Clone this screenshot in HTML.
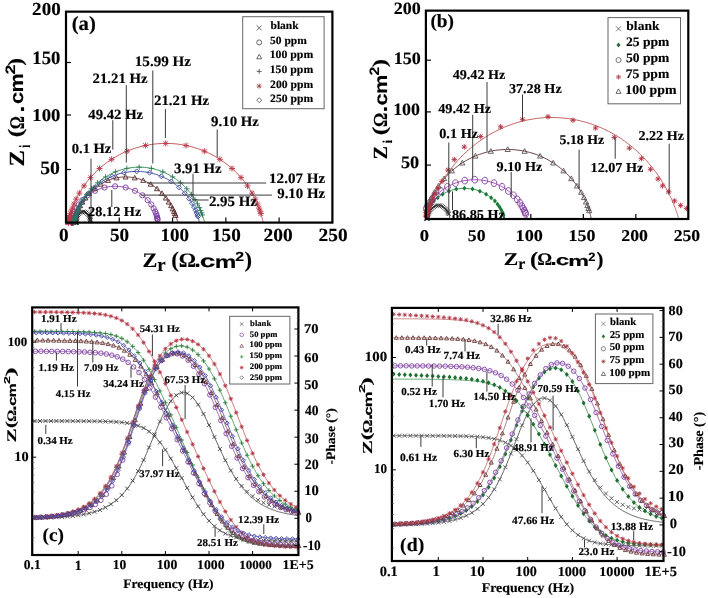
<!DOCTYPE html><html><head><meta charset="utf-8"><style>html,body{margin:0;padding:0;background:#fff}svg{display:block}text{text-rendering:geometricPrecision}svg{will-change:transform}</style></head><body><svg width="708" height="598" viewBox="0 0 708 598"><g><rect width="708" height="598" fill="#fff"/>
<polyline points="90.6,222.6 90.6,222.0 90.6,221.4 90.5,220.8 90.4,220.2 90.3,219.7 90.2,219.1 90.0,218.5 89.9,218.0 89.7,217.5 89.5,216.9 89.2,216.3 89.0,215.9 88.8,215.4 88.5,215.0 88.2,214.6 87.8,214.1 87.5,213.7 87.0,213.3 86.6,212.9 86.1,212.6 85.6,212.3 85.0,212.0 84.4,211.8 83.8,211.7 83.2,211.7 82.6,211.7 82.1,211.8 81.5,212.0 80.9,212.2 80.4,212.5 79.9,212.9 79.4,213.3 79.0,213.7 78.6,214.1 78.3,214.5 78.0,215.0 77.7,215.4 77.5,215.9 77.2,216.3 77.0,216.7 76.8,217.3 76.6,217.8 76.5,218.3 76.3,218.9 76.2,219.5 76.1,220.0 76.0,220.6 75.9,221.1 75.9,221.7 75.9,222.3 75.8,222.6" fill="none" stroke="#222" stroke-width="0.9" />
<path d="M88.3 218.3l4.2 4.2m0 -4.2l-4.2 4.2M88.2 217.7l4.2 4.2m0 -4.2l-4.2 4.2M88.1 217.0l4.2 4.2m0 -4.2l-4.2 4.2M87.9 216.2l4.2 4.2m0 -4.2l-4.2 4.2M87.6 215.3l4.2 4.2m0 -4.2l-4.2 4.2M87.1 214.1l4.2 4.2m0 -4.2l-4.2 4.2M86.4 212.9l4.2 4.2m0 -4.2l-4.2 4.2M85.5 211.7l4.2 4.2m0 -4.2l-4.2 4.2M84.2 210.6l4.2 4.2m0 -4.2l-4.2 4.2M82.8 209.9l4.2 4.2m0 -4.2l-4.2 4.2M81.1 209.6l4.2 4.2m0 -4.2l-4.2 4.2M79.5 209.9l4.2 4.2m0 -4.2l-4.2 4.2M78.0 210.6l4.2 4.2m0 -4.2l-4.2 4.2M76.8 211.7l4.2 4.2m0 -4.2l-4.2 4.2M75.8 212.9l4.2 4.2m0 -4.2l-4.2 4.2M75.2 214.1l4.2 4.2m0 -4.2l-4.2 4.2M74.7 215.3l4.2 4.2m0 -4.2l-4.2 4.2M74.4 216.2l4.2 4.2m0 -4.2l-4.2 4.2M74.2 217.0l4.2 4.2m0 -4.2l-4.2 4.2M74.0 217.7l4.2 4.2m0 -4.2l-4.2 4.2M73.9 218.3l4.2 4.2m0 -4.2l-4.2 4.2M73.9 218.7l4.2 4.2m0 -4.2l-4.2 4.2M73.8 219.1l4.2 4.2m0 -4.2l-4.2 4.2M73.8 219.4l4.2 4.2m0 -4.2l-4.2 4.2M73.8 219.6l4.2 4.2m0 -4.2l-4.2 4.2M73.8 219.8l4.2 4.2m0 -4.2l-4.2 4.2M73.8 219.9l4.2 4.2m0 -4.2l-4.2 4.2M73.8 220.0l4.2 4.2m0 -4.2l-4.2 4.2M73.8 220.1l4.2 4.2m0 -4.2l-4.2 4.2M73.8 220.2l4.2 4.2m0 -4.2l-4.2 4.2M73.8 220.3l4.2 4.2m0 -4.2l-4.2 4.2M73.7 220.3l4.2 4.2m0 -4.2l-4.2 4.2M73.7 220.4l4.2 4.2m0 -4.2l-4.2 4.2M73.7 220.4l4.2 4.2m0 -4.2l-4.2 4.2M73.7 220.4l4.2 4.2m0 -4.2l-4.2 4.2M73.7 220.4l4.2 4.2m0 -4.2l-4.2 4.2" stroke="#222" stroke-width="0.9" fill="none"/>
<polyline points="158.0,222.6 157.9,222.0 157.8,221.5 157.8,220.9 157.7,220.4 157.6,219.8 157.5,219.2 157.4,218.6 157.3,218.1 157.2,217.5 157.0,216.9 156.8,216.2 156.7,215.7 156.5,215.1 156.3,214.6 156.1,213.9 155.9,213.2 155.6,212.5 155.3,211.7 154.9,210.9 154.7,210.5 154.5,210.0 154.3,209.6 154.1,209.1 153.8,208.6 153.5,208.1 153.3,207.6 152.9,207.0 152.6,206.5 152.3,205.9 151.9,205.3 151.5,204.8 151.1,204.2 150.6,203.5 150.1,202.9 149.6,202.3 149.1,201.6 148.5,201.0 147.9,200.3 147.3,199.6 146.6,198.9 145.9,198.2 145.1,197.6 144.3,196.9 143.5,196.2 142.6,195.5 141.7,194.8 140.8,194.1 139.7,193.4 138.7,192.8 137.6,192.2 136.5,191.5 135.3,190.9 134.0,190.4 132.8,189.8 131.5,189.3 130.1,188.8 128.7,188.4 127.3,188.0 125.9,187.6 124.4,187.3 122.9,187.0 121.4,186.7 119.8,186.6 118.3,186.4 116.7,186.4 115.2,186.3 113.6,186.3 112.0,186.4 110.5,186.5 108.9,186.7 107.4,187.0 105.9,187.2 104.4,187.5 103.0,187.9 101.6,188.3 100.2,188.8 98.8,189.2 97.5,189.8 96.2,190.3 95.0,190.9 93.8,191.5 92.7,192.1 91.6,192.7 90.5,193.4 89.5,194.0 88.5,194.7 87.6,195.4 86.7,196.1 85.9,196.8 85.1,197.5 84.3,198.2 83.6,198.9 82.9,199.5 82.3,200.2 81.7,200.9 81.1,201.5 80.6,202.2 80.1,202.8 79.6,203.5 79.1,204.1 78.7,204.7 78.3,205.3 77.9,205.9 77.6,206.4 77.2,207.0 76.9,207.5 76.6,208.0 76.4,208.5 76.1,209.0 75.9,209.5 75.6,210.0 75.4,210.4 75.2,210.9 75.0,211.3 74.7,212.1 74.4,212.8 74.2,213.6 73.9,214.2 73.7,214.8 73.6,215.4 73.4,215.9 73.3,216.4 73.1,217.1 73.0,217.7 72.8,218.2 72.7,218.9 72.6,219.4 72.5,220.0 72.4,220.5 72.3,221.1 72.3,221.7 72.2,222.2 72.2,222.6" fill="none" stroke="#8a3aa0" stroke-width="0.9" />
<path d="M155.0 219.7a2.6 2.6 0 1 0 5.2 0a2.6 2.6 0 1 0 -5.2 0M154.8 218.8a2.6 2.6 0 1 0 5.2 0a2.6 2.6 0 1 0 -5.2 0M154.6 217.6a2.6 2.6 0 1 0 5.2 0a2.6 2.6 0 1 0 -5.2 0M154.2 216.0a2.6 2.6 0 1 0 5.2 0a2.6 2.6 0 1 0 -5.2 0M153.6 214.0a2.6 2.6 0 1 0 5.2 0a2.6 2.6 0 1 0 -5.2 0M152.6 211.5a2.6 2.6 0 1 0 5.2 0a2.6 2.6 0 1 0 -5.2 0M151.1 208.4a2.6 2.6 0 1 0 5.2 0a2.6 2.6 0 1 0 -5.2 0M148.7 204.5a2.6 2.6 0 1 0 5.2 0a2.6 2.6 0 1 0 -5.2 0M145.1 200.1a2.6 2.6 0 1 0 5.2 0a2.6 2.6 0 1 0 -5.2 0M139.8 195.3a2.6 2.6 0 1 0 5.2 0a2.6 2.6 0 1 0 -5.2 0M132.4 190.8a2.6 2.6 0 1 0 5.2 0a2.6 2.6 0 1 0 -5.2 0M123.1 187.5a2.6 2.6 0 1 0 5.2 0a2.6 2.6 0 1 0 -5.2 0M112.5 186.3a2.6 2.6 0 1 0 5.2 0a2.6 2.6 0 1 0 -5.2 0M101.9 187.5a2.6 2.6 0 1 0 5.2 0a2.6 2.6 0 1 0 -5.2 0M92.5 190.8a2.6 2.6 0 1 0 5.2 0a2.6 2.6 0 1 0 -5.2 0M85.1 195.3a2.6 2.6 0 1 0 5.2 0a2.6 2.6 0 1 0 -5.2 0M79.8 200.1a2.6 2.6 0 1 0 5.2 0a2.6 2.6 0 1 0 -5.2 0M76.2 204.5a2.6 2.6 0 1 0 5.2 0a2.6 2.6 0 1 0 -5.2 0M73.9 208.4a2.6 2.6 0 1 0 5.2 0a2.6 2.6 0 1 0 -5.2 0M72.3 211.5a2.6 2.6 0 1 0 5.2 0a2.6 2.6 0 1 0 -5.2 0M71.4 214.0a2.6 2.6 0 1 0 5.2 0a2.6 2.6 0 1 0 -5.2 0M70.8 216.0a2.6 2.6 0 1 0 5.2 0a2.6 2.6 0 1 0 -5.2 0M70.4 217.6a2.6 2.6 0 1 0 5.2 0a2.6 2.6 0 1 0 -5.2 0M70.1 218.8a2.6 2.6 0 1 0 5.2 0a2.6 2.6 0 1 0 -5.2 0M70.0 219.7a2.6 2.6 0 1 0 5.2 0a2.6 2.6 0 1 0 -5.2 0M69.8 220.4a2.6 2.6 0 1 0 5.2 0a2.6 2.6 0 1 0 -5.2 0M69.8 220.9a2.6 2.6 0 1 0 5.2 0a2.6 2.6 0 1 0 -5.2 0M69.7 221.3a2.6 2.6 0 1 0 5.2 0a2.6 2.6 0 1 0 -5.2 0M69.7 221.6a2.6 2.6 0 1 0 5.2 0a2.6 2.6 0 1 0 -5.2 0M69.7 221.8a2.6 2.6 0 1 0 5.2 0a2.6 2.6 0 1 0 -5.2 0M69.6 222.0a2.6 2.6 0 1 0 5.2 0a2.6 2.6 0 1 0 -5.2 0M69.6 222.2a2.6 2.6 0 1 0 5.2 0a2.6 2.6 0 1 0 -5.2 0M69.6 222.3a2.6 2.6 0 1 0 5.2 0a2.6 2.6 0 1 0 -5.2 0M69.6 222.3a2.6 2.6 0 1 0 5.2 0a2.6 2.6 0 1 0 -5.2 0M69.6 222.4a2.6 2.6 0 1 0 5.2 0a2.6 2.6 0 1 0 -5.2 0M69.6 222.5a2.6 2.6 0 1 0 5.2 0a2.6 2.6 0 1 0 -5.2 0M69.6 222.5a2.6 2.6 0 1 0 5.2 0a2.6 2.6 0 1 0 -5.2 0M69.6 222.5a2.6 2.6 0 1 0 5.2 0a2.6 2.6 0 1 0 -5.2 0M69.6 222.5a2.6 2.6 0 1 0 5.2 0a2.6 2.6 0 1 0 -5.2 0M69.6 222.6a2.6 2.6 0 1 0 5.2 0a2.6 2.6 0 1 0 -5.2 0M69.6 222.6a2.6 2.6 0 1 0 5.2 0a2.6 2.6 0 1 0 -5.2 0" stroke="#7a3aa0" stroke-width="0.9" fill="none"/>
<polyline points="177.9,222.4 177.8,221.9 177.6,221.4 177.5,220.9 177.3,220.4 177.2,219.9 177.0,219.5 176.9,218.9 176.7,218.4 176.5,217.8 176.3,217.3 176.1,216.8 175.9,216.2 175.7,215.6 175.5,215.1 175.3,214.6 175.1,214.1 174.9,213.6 174.6,213.0 174.4,212.4 174.1,211.7 173.8,211.0 173.4,210.3 173.1,209.5 172.7,208.7 172.4,208.3 172.2,207.9 172.0,207.4 171.7,207.0 171.5,206.5 171.2,206.0 170.9,205.5 170.7,205.0 170.4,204.5 170.0,204.0 169.7,203.5 169.4,203.0 169.0,202.4 168.7,201.8 168.3,201.3 167.9,200.7 167.5,200.1 167.0,199.5 166.6,198.9 166.1,198.3 165.6,197.6 165.1,197.0 164.6,196.3 164.0,195.7 163.4,195.0 162.9,194.4 162.2,193.7 161.6,193.0 160.9,192.3 160.2,191.7 159.5,191.0 158.8,190.3 158.0,189.6 157.2,188.9 156.4,188.3 155.6,187.6 154.7,186.9 153.8,186.3 152.9,185.6 152.0,185.0 151.0,184.4 150.0,183.8 149.0,183.2 147.9,182.6 146.8,182.1 145.7,181.5 144.6,181.0 143.5,180.5 142.3,180.1 141.1,179.6 139.9,179.2 138.7,178.8 137.4,178.5 136.2,178.2 134.9,177.9 133.6,177.6 132.3,177.4 131.0,177.3 129.7,177.1 128.3,177.0 127.0,177.0 125.7,177.0 124.4,177.0 123.0,177.0 121.7,177.1 120.4,177.2 119.1,177.4 117.8,177.6 116.5,177.9 115.2,178.1 114.0,178.5 112.7,178.8 111.5,179.2 110.3,179.6 109.1,180.0 107.9,180.5 106.7,181.0 105.6,181.5 104.5,182.0 103.4,182.6 102.4,183.1 101.4,183.7 100.3,184.3 99.4,184.9 98.4,185.6 97.5,186.2 96.6,186.9 95.7,187.5 94.9,188.2 94.1,188.9 93.3,189.6 92.5,190.2 91.8,190.9 91.1,191.6 90.4,192.3 89.7,192.9 89.1,193.6 88.4,194.3 87.8,195.0 87.3,195.6 86.7,196.3 86.2,196.9 85.7,197.6 85.2,198.2 84.7,198.8 84.3,199.4 83.8,200.0 83.4,200.6 83.0,201.2 82.6,201.8 82.2,202.3 81.9,202.9 81.5,203.4 81.2,204.0 80.9,204.5 80.6,205.0 80.3,205.5 80.0,206.0 79.8,206.5 79.5,206.9 79.3,207.4 79.0,207.8 78.8,208.2 78.6,208.7 78.4,209.1 78.0,209.9 77.6,210.6 77.3,211.3 77.0,212.0 76.7,212.6 76.5,213.2 76.2,213.8 76.0,214.3 75.8,214.8 75.6,215.3 75.5,215.8 75.2,216.4 75.0,217.0 74.8,217.5 74.7,218.0 74.5,218.5 74.3,219.0 74.2,219.6 74.0,220.0 73.9,220.5 73.7,221.0 73.6,221.5 73.4,222.0 73.3,222.4 73.3,222.6" fill="none" stroke="#5a2a2a" stroke-width="0.9" />
<path d="M175.6 212.9L178.1 217.4H173.1ZM174.9 211.1L177.4 215.6H172.4ZM174.0 208.9L176.5 213.4H171.5ZM172.7 206.3L175.2 210.8H170.2ZM171.1 203.2L173.6 207.7H168.6ZM168.8 199.6L171.3 204.1H166.3ZM165.9 195.5L168.4 200.0H163.4ZM162.0 190.9L164.5 195.4H159.5ZM157.0 186.2L159.5 190.7H154.5ZM150.7 181.7L153.2 186.2H148.2ZM143.2 177.9L145.7 182.4H140.7ZM134.7 175.4L137.2 179.9H132.2ZM125.6 174.5L128.1 179.0H123.1ZM116.5 175.4L119.0 179.9H114.0ZM108.0 177.9L110.5 182.4H105.5ZM100.5 181.7L103.0 186.2H98.0ZM94.2 186.2L96.7 190.7H91.7ZM89.2 190.9L91.7 195.4H86.7ZM85.4 195.5L87.9 200.0H82.9ZM82.4 199.6L84.9 204.1H79.9ZM80.2 203.2L82.7 207.7H77.7ZM78.5 206.3L81.0 210.8H76.0ZM77.3 208.9L79.8 213.4H74.8ZM76.3 211.1L78.8 215.6H73.8ZM75.6 212.9L78.1 217.4H73.1ZM75.1 214.3L77.6 218.8H72.6ZM74.7 215.5L77.2 220.0H72.2ZM74.4 216.4L76.9 220.9H71.9ZM74.1 217.1L76.6 221.6H71.6ZM73.9 217.7L76.4 222.2H71.4ZM73.8 218.2L76.3 222.7H71.3ZM73.7 218.6L76.2 223.1H71.2ZM73.6 218.9L76.1 223.4H71.1ZM73.5 219.2L76.0 223.7H71.0ZM73.5 219.3L76.0 223.8H71.0ZM73.4 219.5L75.9 224.0H70.9ZM73.4 219.6L75.9 224.1H70.9ZM73.4 219.7L75.9 224.2H70.9ZM73.3 219.8L75.8 224.3H70.8ZM73.3 219.9L75.8 224.4H70.8ZM73.3 219.9L75.8 224.4H70.8Z" stroke="#5a2a2a" stroke-width="0.9" fill="none"/>
<polyline points="199.4,222.5 199.3,222.0 199.2,221.4 199.1,220.9 198.9,220.4 198.8,219.9 198.7,219.3 198.5,218.8 198.4,218.2 198.2,217.8 198.1,217.2 197.9,216.6 197.7,215.9 197.5,215.5 197.4,214.9 197.2,214.4 197.0,213.8 196.7,213.2 196.5,212.5 196.2,211.8 195.9,211.0 195.5,210.2 195.4,209.8 195.2,209.3 195.0,208.9 194.7,208.4 194.5,207.9 194.3,207.4 194.0,206.9 193.8,206.4 193.5,205.9 193.2,205.3 192.9,204.7 192.6,204.1 192.2,203.5 191.9,202.9 191.5,202.3 191.1,201.6 190.7,201.0 190.2,200.3 189.8,199.6 189.3,198.9 188.8,198.2 188.2,197.4 187.7,196.7 187.1,195.9 186.5,195.1 185.8,194.3 185.1,193.5 184.4,192.7 183.6,191.9 182.9,191.1 182.0,190.2 181.2,189.4 180.3,188.5 179.3,187.7 178.3,186.8 177.3,185.9 176.3,185.1 175.2,184.2 174.0,183.4 172.8,182.5 171.6,181.7 170.3,180.9 169.0,180.1 167.6,179.3 166.2,178.6 164.7,177.8 163.2,177.1 161.6,176.5 160.1,175.8 158.4,175.2 156.8,174.6 155.1,174.1 153.4,173.6 151.6,173.1 149.8,172.7 148.0,172.4 146.2,172.1 144.3,171.8 142.5,171.7 140.6,171.5 138.7,171.4 136.8,171.4 135.0,171.4 133.1,171.5 131.2,171.6 129.3,171.8 127.5,172.1 125.7,172.4 123.8,172.7 122.1,173.1 120.3,173.5 118.6,174.0 116.9,174.6 115.2,175.1 113.6,175.7 112.0,176.4 110.4,177.1 108.9,177.8 107.5,178.5 106.0,179.2 104.7,180.0 103.3,180.8 102.0,181.6 100.8,182.5 99.6,183.3 98.4,184.1 97.3,185.0 96.3,185.8 95.2,186.7 94.2,187.6 93.3,188.4 92.4,189.3 91.5,190.1 90.7,191.0 89.9,191.8 89.1,192.6 88.4,193.4 87.7,194.3 87.1,195.0 86.5,195.8 85.9,196.6 85.3,197.4 84.8,198.1 84.2,198.8 83.7,199.5 83.3,200.2 82.8,200.9 82.4,201.6 82.0,202.2 81.6,202.9 81.3,203.5 80.9,204.1 80.6,204.7 80.3,205.2 80.0,205.8 79.7,206.3 79.5,206.9 79.2,207.4 79.0,207.9 78.7,208.4 78.5,208.8 78.3,209.3 78.1,209.7 77.9,210.2 77.6,211.0 77.3,211.7 77.0,212.5 76.7,213.1 76.5,213.8 76.3,214.4 76.1,214.9 75.9,215.4 75.8,215.9 75.6,216.6 75.4,217.2 75.2,217.7 75.1,218.2 74.9,218.8 74.8,219.3 74.6,219.9 74.5,220.4 74.4,220.9 74.3,221.4 74.2,221.9 74.1,222.4 74.0,222.6" fill="none" stroke="#3040a0" stroke-width="0.9" />
<path d="M197.9 214.1L200.4 216.6L197.9 219.1L195.4 216.6ZM197.4 212.5L199.9 215.0L197.4 217.5L194.9 215.0ZM196.6 210.4L199.1 212.9L196.6 215.4L194.1 212.9ZM195.6 207.8L198.1 210.3L195.6 212.8L193.1 210.3ZM194.1 204.6L196.6 207.1L194.1 209.6L191.6 207.1ZM192.0 200.7L194.5 203.2L192.0 205.7L189.5 203.2ZM189.0 196.1L191.5 198.6L189.0 201.1L186.5 198.6ZM184.8 190.7L187.3 193.2L184.8 195.7L182.3 193.2ZM179.0 184.9L181.5 187.4L179.0 189.9L176.5 187.4ZM171.2 179.0L173.7 181.5L171.2 184.0L168.7 181.5ZM161.3 173.8L163.8 176.3L161.3 178.8L158.8 176.3ZM149.6 170.2L152.1 172.7L149.6 175.2L147.1 172.7ZM136.7 168.9L139.2 171.4L136.7 173.9L134.2 171.4ZM123.9 170.2L126.4 172.7L123.9 175.2L121.4 172.7ZM112.1 173.8L114.6 176.3L112.1 178.8L109.6 176.3ZM102.2 179.0L104.7 181.5L102.2 184.0L99.7 181.5ZM94.5 184.9L97.0 187.4L94.5 189.9L92.0 187.4ZM88.6 190.7L91.1 193.2L88.6 195.7L86.1 193.2ZM84.4 196.1L86.9 198.6L84.4 201.1L81.9 198.6ZM81.4 200.7L83.9 203.2L81.4 205.7L78.9 203.2ZM79.3 204.6L81.8 207.1L79.3 209.6L76.8 207.1ZM77.9 207.8L80.4 210.3L77.9 212.8L75.4 210.3ZM76.8 210.4L79.3 212.9L76.8 215.4L74.3 212.9ZM76.1 212.5L78.6 215.0L76.1 217.5L73.6 215.0ZM75.5 214.1L78.0 216.6L75.5 219.1L73.0 216.6ZM75.2 215.4L77.7 217.9L75.2 220.4L72.7 217.9ZM74.9 216.5L77.4 219.0L74.9 221.5L72.4 219.0ZM74.7 217.3L77.2 219.8L74.7 222.3L72.2 219.8ZM74.5 217.9L77.0 220.4L74.5 222.9L72.0 220.4ZM74.4 218.4L76.9 220.9L74.4 223.4L71.9 220.9ZM74.3 218.8L76.8 221.3L74.3 223.8L71.8 221.3ZM74.2 219.0L76.7 221.5L74.2 224.0L71.7 221.5ZM74.2 219.3L76.7 221.8L74.2 224.3L71.7 221.8ZM74.2 219.5L76.7 222.0L74.2 224.5L71.7 222.0ZM74.1 219.6L76.6 222.1L74.1 224.6L71.6 222.1ZM74.1 219.7L76.6 222.2L74.1 224.7L71.6 222.2ZM74.1 219.8L76.6 222.3L74.1 224.8L71.6 222.3ZM74.1 219.9L76.6 222.4L74.1 224.9L71.6 222.4ZM74.1 219.9L76.6 222.4L74.1 224.9L71.6 222.4ZM74.0 220.0L76.5 222.5L74.0 225.0L71.5 222.5ZM74.0 220.0L76.5 222.5L74.0 225.0L71.5 222.5Z" stroke="#3a4a9a" stroke-width="0.9" fill="none"/>
<polyline points="204.6,222.4 204.4,221.9 204.3,221.5 204.2,220.9 204.0,220.4 203.9,219.9 203.8,219.4 203.6,218.8 203.4,218.3 203.3,217.8 203.1,217.3 202.9,216.8 202.7,216.1 202.6,215.7 202.4,215.2 202.2,214.7 202.0,214.1 201.8,213.6 201.6,212.9 201.3,212.3 201.1,211.6 200.8,210.9 200.4,210.1 200.1,209.2 199.9,208.8 199.7,208.3 199.5,207.9 199.2,207.4 199.0,206.9 198.8,206.4 198.5,205.9 198.2,205.4 198.0,204.8 197.7,204.3 197.4,203.7 197.0,203.1 196.7,202.5 196.3,201.9 196.0,201.2 195.6,200.6 195.2,199.9 194.8,199.2 194.3,198.5 193.9,197.8 193.4,197.1 192.9,196.4 192.3,195.6 191.8,194.9 191.2,194.1 190.6,193.3 190.0,192.5 189.3,191.7 188.6,190.8 187.9,190.0 187.1,189.2 186.4,188.3 185.5,187.5 184.7,186.6 183.8,185.7 182.9,184.9 182.0,184.0 181.0,183.1 179.9,182.2 178.9,181.4 177.8,180.5 176.6,179.6 175.5,178.8 174.2,178.0 173.0,177.1 171.7,176.3 170.3,175.6 169.0,174.8 167.6,174.0 166.1,173.3 164.6,172.6 163.1,172.0 161.6,171.4 160.0,170.8 158.4,170.2 156.7,169.7 155.1,169.2 153.4,168.8 151.6,168.4 149.9,168.1 148.2,167.8 146.4,167.6 144.6,167.4 142.8,167.3 141.0,167.2 139.2,167.1 137.4,167.2 135.6,167.2 133.9,167.4 132.1,167.6 130.3,167.8 128.5,168.1 126.8,168.4 125.1,168.8 123.4,169.2 121.7,169.7 120.1,170.2 118.5,170.7 116.9,171.3 115.3,171.9 113.8,172.6 112.3,173.3 110.9,174.0 109.4,174.7 108.1,175.5 106.7,176.3 105.4,177.1 104.2,177.9 102.9,178.7 101.8,179.6 100.6,180.4 99.5,181.3 98.4,182.1 97.4,183.0 96.4,183.9 95.5,184.8 94.5,185.6 93.7,186.5 92.8,187.4 92.0,188.2 91.2,189.1 90.5,189.9 89.7,190.8 89.0,191.6 88.4,192.4 87.7,193.2 87.1,194.0 86.5,194.8 86.0,195.5 85.5,196.3 85.0,197.0 84.5,197.8 84.0,198.5 83.6,199.2 83.1,199.8 82.7,200.5 82.3,201.2 82.0,201.8 81.6,202.4 81.3,203.0 80.9,203.6 80.6,204.2 80.3,204.8 80.1,205.3 79.8,205.8 79.5,206.4 79.3,206.9 79.1,207.3 78.8,207.8 78.6,208.3 78.4,208.7 78.2,209.2 78.0,209.6 77.7,210.4 77.4,211.2 77.1,211.9 76.8,212.6 76.6,213.2 76.3,213.8 76.1,214.4 75.9,214.9 75.8,215.4 75.6,215.9 75.4,216.5 75.2,217.1 75.0,217.6 74.9,218.1 74.7,218.7 74.6,219.2 74.4,219.7 74.3,220.3 74.1,220.8 74.0,221.2 73.9,221.7 73.8,222.2 73.7,222.6" fill="none" stroke="#2a8a4a" stroke-width="0.9" />
<path d="M199.6 215.0h5.5M202.3 212.2v5.5M198.9 213.0h5.5M201.6 210.3v5.5M197.9 210.6h5.5M200.6 207.8v5.5M196.6 207.6h5.5M199.3 204.8v5.5M194.7 203.9h5.5M197.5 201.2v5.5M192.2 199.6h5.5M195.0 196.8v5.5M188.8 194.5h5.5M191.5 191.7v5.5M184.1 188.8h5.5M186.8 186.1v5.5M177.9 182.8h5.5M180.6 180.1v5.5M169.9 176.9h5.5M172.6 174.2v5.5M160.1 171.9h5.5M162.8 169.1v5.5M148.7 168.4h5.5M151.4 165.6v5.5M136.4 167.1h5.5M139.1 164.4v5.5M124.1 168.4h5.5M126.8 165.6v5.5M112.7 171.9h5.5M115.4 169.1v5.5M102.9 176.9h5.5M105.6 174.2v5.5M94.9 182.8h5.5M97.6 180.1v5.5M88.7 188.8h5.5M91.4 186.1v5.5M84.0 194.5h5.5M86.8 191.7v5.5M80.6 199.6h5.5M83.3 196.8v5.5M78.0 203.9h5.5M80.8 201.2v5.5M76.2 207.6h5.5M79.0 204.8v5.5M74.9 210.6h5.5M77.6 207.8v5.5M73.9 213.0h5.5M76.6 210.3v5.5M73.2 215.0h5.5M75.9 212.2v5.5M72.6 216.6h5.5M75.4 213.8v5.5M72.2 217.8h5.5M75.0 215.1v5.5M71.9 218.8h5.5M74.7 216.1v5.5M71.7 219.6h5.5M74.5 216.9v5.5M71.5 220.2h5.5M74.3 217.5v5.5M71.4 220.7h5.5M74.1 218.0v5.5M71.3 221.1h5.5M74.0 218.4v5.5M71.2 221.4h5.5M74.0 218.7v5.5M71.1 221.7h5.5M73.9 218.9v5.5M71.1 221.9h5.5M73.8 219.1v5.5M71.1 222.0h5.5M73.8 219.3v5.5M71.0 222.2h5.5M73.8 219.4v5.5M71.0 222.3h5.5M73.8 219.5v5.5M71.0 222.3h5.5M73.7 219.6v5.5M71.0 222.4h5.5M73.7 219.6v5.5M71.0 222.4h5.5M73.7 219.7v5.5" stroke="#2a7a5a" stroke-width="0.9" fill="none"/>
<polyline points="263.1,222.4 263.0,221.9 262.9,221.4 262.8,220.9 262.7,220.4 262.5,219.8 262.4,219.3 262.3,218.8 262.1,218.2 262.0,217.7 261.9,217.1 261.7,216.5 261.5,215.8 261.4,215.3 261.2,214.8 261.1,214.2 260.9,213.6 260.7,212.9 260.5,212.2 260.2,211.4 259.9,210.6 259.6,209.8 259.5,209.3 259.3,208.8 259.1,208.3 258.9,207.8 258.8,207.3 258.5,206.8 258.3,206.2 258.1,205.6 257.9,205.0 257.6,204.4 257.3,203.8 257.1,203.1 256.8,202.5 256.5,201.8 256.1,201.0 255.8,200.3 255.4,199.5 255.1,198.8 254.7,198.0 254.2,197.1 253.8,196.3 253.3,195.4 252.8,194.5 252.3,193.6 251.8,192.6 251.2,191.6 250.6,190.6 249.9,189.6 249.3,188.6 248.6,187.5 247.8,186.4 247.0,185.3 246.2,184.1 245.3,183.0 244.4,181.8 243.5,180.6 242.5,179.3 241.4,178.1 240.3,176.8 239.2,175.5 237.9,174.2 236.7,172.9 235.3,171.6 233.9,170.3 232.5,168.9 231.0,167.6 229.4,166.3 227.7,164.9 226.0,163.6 224.2,162.3 222.3,161.0 220.4,159.7 218.4,158.4 216.3,157.1 214.2,155.9 212.0,154.7 209.7,153.6 207.3,152.5 204.9,151.4 202.4,150.4 199.9,149.4 197.3,148.5 194.6,147.7 191.9,146.9 189.1,146.2 186.3,145.6 183.5,145.0 180.6,144.5 177.7,144.1 174.8,143.8 171.8,143.6 168.8,143.5 165.9,143.4 162.9,143.5 160.0,143.6 157.0,143.8 154.1,144.1 151.2,144.5 148.3,145.0 145.4,145.5 142.6,146.1 139.9,146.8 137.1,147.6 134.5,148.4 131.9,149.3 129.3,150.3 126.8,151.3 124.4,152.3 122.0,153.4 119.7,154.6 117.5,155.8 115.3,157.0 113.3,158.2 111.3,159.5 109.3,160.8 107.4,162.1 105.6,163.4 103.9,164.8 102.2,166.1 100.6,167.4 99.1,168.8 97.7,170.1 96.3,171.5 94.9,172.8 93.6,174.1 92.4,175.4 91.2,176.7 90.1,177.9 89.1,179.2 88.1,180.4 87.1,181.6 86.2,182.8 85.3,184.0 84.5,185.1 83.7,186.3 82.9,187.4 82.2,188.4 81.6,189.5 80.9,190.5 80.3,191.5 79.7,192.5 79.2,193.5 78.7,194.4 78.2,195.3 77.7,196.2 77.2,197.0 76.8,197.9 76.4,198.7 76.0,199.5 75.7,200.2 75.3,201.0 75.0,201.7 74.7,202.4 74.4,203.1 74.1,203.7 73.8,204.4 73.6,205.0 73.4,205.6 73.1,206.1 72.9,206.7 72.7,207.2 72.5,207.8 72.3,208.3 72.1,208.8 72.0,209.2 71.8,209.7 71.5,210.6 71.2,211.4 71.0,212.2 70.8,212.9 70.6,213.5 70.4,214.2 70.2,214.7 70.1,215.3 69.9,215.8 69.7,216.5 69.6,217.1 69.4,217.7 69.3,218.2 69.1,218.8 69.0,219.3 68.9,219.8 68.8,220.4 68.7,220.9 68.5,221.4 68.4,221.9 68.3,222.4 68.3,222.6" fill="none" stroke="#c04848" stroke-width="0.9" />
<path d="M257.9 213.6h6.0M260.9 210.6v6.0M258.6 211.4l4.5 4.5m0 -4.5l-4.5 4.5M257.1 211.1h6.0M260.1 208.1v6.0M257.9 208.9l4.5 4.5m0 -4.5l-4.5 4.5M256.0 208.0h6.0M259.0 205.0v6.0M256.7 205.7l4.5 4.5m0 -4.5l-4.5 4.5M254.4 204.0h6.0M257.4 201.0v6.0M255.2 201.7l4.5 4.5m0 -4.5l-4.5 4.5M252.2 199.1h6.0M255.2 196.1v6.0M253.0 196.8l4.5 4.5m0 -4.5l-4.5 4.5M249.0 193.1h6.0M252.0 190.1v6.0M249.8 190.8l4.5 4.5m0 -4.5l-4.5 4.5M244.5 185.9h6.0M247.5 182.9v6.0M245.2 183.6l4.5 4.5m0 -4.5l-4.5 4.5M238.0 177.6h6.0M241.0 174.6v6.0M238.7 175.3l4.5 4.5m0 -4.5l-4.5 4.5M229.0 168.5h6.0M232.0 165.5v6.0M229.7 166.2l4.5 4.5m0 -4.5l-4.5 4.5M216.9 159.3h6.0M219.9 156.3v6.0M217.6 157.1l4.5 4.5m0 -4.5l-4.5 4.5M201.4 151.2h6.0M204.4 148.2v6.0M202.2 148.9l4.5 4.5m0 -4.5l-4.5 4.5M183.0 145.5h6.0M186.0 142.5v6.0M183.7 143.2l4.5 4.5m0 -4.5l-4.5 4.5M162.7 143.4h6.0M165.7 140.4v6.0M163.5 141.2l4.5 4.5m0 -4.5l-4.5 4.5M142.5 145.5h6.0M145.5 142.5v6.0M143.2 143.2l4.5 4.5m0 -4.5l-4.5 4.5M124.0 151.2h6.0M127.0 148.2v6.0M124.8 148.9l4.5 4.5m0 -4.5l-4.5 4.5M108.6 159.3h6.0M111.6 156.3v6.0M109.3 157.1l4.5 4.5m0 -4.5l-4.5 4.5M96.5 168.5h6.0M99.5 165.5v6.0M97.2 166.2l4.5 4.5m0 -4.5l-4.5 4.5M87.5 177.6h6.0M90.5 174.6v6.0M88.2 175.3l4.5 4.5m0 -4.5l-4.5 4.5M81.0 185.9h6.0M84.0 182.9v6.0M81.7 183.6l4.5 4.5m0 -4.5l-4.5 4.5M76.4 193.1h6.0M79.4 190.1v6.0M77.2 190.8l4.5 4.5m0 -4.5l-4.5 4.5M73.2 199.1h6.0M76.2 196.1v6.0M74.0 196.8l4.5 4.5m0 -4.5l-4.5 4.5M71.0 204.0h6.0M74.0 201.0v6.0M71.7 201.7l4.5 4.5m0 -4.5l-4.5 4.5M69.4 208.0h6.0M72.4 205.0v6.0M70.2 205.7l4.5 4.5m0 -4.5l-4.5 4.5M68.3 211.1h6.0M71.3 208.1v6.0M69.1 208.9l4.5 4.5m0 -4.5l-4.5 4.5M67.5 213.6h6.0M70.5 210.6v6.0M68.3 211.4l4.5 4.5m0 -4.5l-4.5 4.5M67.0 215.6h6.0M70.0 212.6v6.0M67.7 213.3l4.5 4.5m0 -4.5l-4.5 4.5M66.6 217.1h6.0M69.6 214.1v6.0M67.3 214.9l4.5 4.5m0 -4.5l-4.5 4.5M66.2 218.3h6.0M69.2 215.3v6.0M67.0 216.1l4.5 4.5m0 -4.5l-4.5 4.5M66.0 219.3h6.0M69.0 216.3v6.0M66.8 217.0l4.5 4.5m0 -4.5l-4.5 4.5M65.8 220.0h6.0M68.8 217.0v6.0M66.6 217.8l4.5 4.5m0 -4.5l-4.5 4.5M65.7 220.6h6.0M68.7 217.6v6.0M66.5 218.3l4.5 4.5m0 -4.5l-4.5 4.5M65.6 221.0h6.0M68.6 218.0v6.0M66.4 218.8l4.5 4.5m0 -4.5l-4.5 4.5M65.5 221.4h6.0M68.5 218.4v6.0M66.3 219.1l4.5 4.5m0 -4.5l-4.5 4.5M65.5 221.7h6.0M68.5 218.7v6.0M66.2 219.4l4.5 4.5m0 -4.5l-4.5 4.5M65.4 221.9h6.0M68.4 218.9v6.0M66.2 219.6l4.5 4.5m0 -4.5l-4.5 4.5M65.4 222.0h6.0M68.4 219.0v6.0M66.2 219.8l4.5 4.5m0 -4.5l-4.5 4.5M65.4 222.2h6.0M68.4 219.2v6.0M66.1 219.9l4.5 4.5m0 -4.5l-4.5 4.5M65.4 222.3h6.0M68.4 219.3v6.0M66.1 220.0l4.5 4.5m0 -4.5l-4.5 4.5M65.3 222.3h6.0M68.3 219.3v6.0M66.1 220.1l4.5 4.5m0 -4.5l-4.5 4.5M65.3 222.4h6.0M68.3 219.4v6.0M66.1 220.1l4.5 4.5m0 -4.5l-4.5 4.5M65.3 222.4h6.0M68.3 219.4v6.0M66.1 220.2l4.5 4.5m0 -4.5l-4.5 4.5" stroke="#b83848" stroke-width="0.9" fill="none"/>
<rect x="66.0" y="11.65" width="266.4" height="210.95" fill="none" stroke="#000" stroke-width="2.2"/>
<line x1="66.00" y1="62.50" x2="71.00" y2="62.50" stroke="#000" stroke-width="1.2"/>
<line x1="66.00" y1="115.00" x2="71.00" y2="115.00" stroke="#000" stroke-width="1.2"/>
<line x1="66.00" y1="169.50" x2="71.00" y2="169.50" stroke="#000" stroke-width="1.2"/>
<line x1="119.28" y1="222.60" x2="119.28" y2="217.60" stroke="#000" stroke-width="1.2"/>
<line x1="172.56" y1="222.60" x2="172.56" y2="217.60" stroke="#000" stroke-width="1.2"/>
<line x1="225.84" y1="222.60" x2="225.84" y2="217.60" stroke="#000" stroke-width="1.2"/>
<line x1="279.12" y1="222.60" x2="279.12" y2="217.60" stroke="#000" stroke-width="1.2"/>
<text x="32.14" y="14.72" font-family="Liberation Serif" font-weight="bold" font-size="18.37" textLength="28.52" lengthAdjust="spacingAndGlyphs" fill="#000" stroke="#000" stroke-width="0.15">200</text>
<text x="32.30" y="64.31" font-family="Liberation Serif" font-weight="bold" font-size="18.81" textLength="28.04" lengthAdjust="spacingAndGlyphs" fill="#000" stroke="#000" stroke-width="0.15">150</text>
<text x="32.30" y="120.82" font-family="Liberation Serif" font-weight="bold" font-size="18.07" textLength="28.04" lengthAdjust="spacingAndGlyphs" fill="#000" stroke="#000" stroke-width="0.15">100</text>
<text x="40.21" y="174.21" font-family="Liberation Serif" font-weight="bold" font-size="18.81" textLength="19.67" lengthAdjust="spacingAndGlyphs" fill="#000" stroke="#000" stroke-width="0.15">50</text>
<text x="59.13" y="240.51" font-family="Liberation Serif" font-weight="bold" font-size="18.52" textLength="9.64" lengthAdjust="spacingAndGlyphs" fill="#000" stroke="#000" stroke-width="0.15">0</text>
<text x="110.03" y="240.51" font-family="Liberation Serif" font-weight="bold" font-size="18.52" textLength="19.13" lengthAdjust="spacingAndGlyphs" fill="#000" stroke="#000" stroke-width="0.15">50</text>
<text x="160.58" y="240.51" font-family="Liberation Serif" font-weight="bold" font-size="18.52" textLength="28.48" lengthAdjust="spacingAndGlyphs" fill="#000" stroke="#000" stroke-width="0.15">100</text>
<text x="211.96" y="240.51" font-family="Liberation Serif" font-weight="bold" font-size="18.52" textLength="28.80" lengthAdjust="spacingAndGlyphs" fill="#000" stroke="#000" stroke-width="0.15">150</text>
<text x="263.52" y="240.51" font-family="Liberation Serif" font-weight="bold" font-size="18.52" textLength="29.15" lengthAdjust="spacingAndGlyphs" fill="#000" stroke="#000" stroke-width="0.15">200</text>
<text x="318.63" y="240.51" font-family="Liberation Serif" font-weight="bold" font-size="18.52" textLength="29.05" lengthAdjust="spacingAndGlyphs" fill="#000" stroke="#000" stroke-width="0.15">250</text>
<text x="142.40" y="267.00" font-family="Liberation Serif" font-weight="bold" font-size="20.61" textLength="14.86" lengthAdjust="spacingAndGlyphs" fill="#000" stroke="#000" stroke-width="0.15">Z</text>
<text x="157.33" y="271.30" font-family="Liberation Serif" font-weight="bold" font-size="19.58" textLength="8.43" lengthAdjust="spacingAndGlyphs" fill="#000" stroke="#000" stroke-width="0.15">r</text>
<text x="171.16" y="267.30" font-family="Liberation Serif" font-weight="bold" font-size="22.31" textLength="7.71" lengthAdjust="spacingAndGlyphs" fill="#000" stroke="#000" stroke-width="0.15">(</text>
<text x="178.83" y="267.00" font-family="Liberation Serif" font-weight="bold" font-size="20.45" textLength="17.26" lengthAdjust="spacingAndGlyphs" fill="#000" stroke="#000" stroke-width="0.15">Ω</text>
<text x="194.38" y="267.30" font-family="Liberation Sans" font-weight="bold" font-size="20.67" textLength="6.51" lengthAdjust="spacingAndGlyphs" fill="#000" stroke="#000" stroke-width="0.15">.</text>
<text x="199.88" y="267.32" font-family="Liberation Sans" font-weight="bold" font-size="17.82" textLength="15.60" lengthAdjust="spacingAndGlyphs" fill="#000" stroke="#000" stroke-width="0.15">c</text>
<text x="214.72" y="267.50" font-family="Liberation Sans" font-weight="bold" font-size="18.15" textLength="21.62" lengthAdjust="spacingAndGlyphs" fill="#000" stroke="#000" stroke-width="0.15">m</text>
<text x="235.25" y="261.10" font-family="Liberation Sans" font-weight="bold" font-size="13.29" textLength="8.81" lengthAdjust="spacingAndGlyphs" fill="#000" stroke="#000" stroke-width="0.15">2</text>
<text x="244.42" y="267.30" font-family="Liberation Serif" font-weight="bold" font-size="22.31" textLength="7.56" lengthAdjust="spacingAndGlyphs" fill="#000" stroke="#000" stroke-width="0.15">)</text>
<g transform="rotate(-90)">
<text x="-166.61" y="24.10" font-family="Liberation Serif" font-weight="bold" font-size="21.53" textLength="16.38" lengthAdjust="spacingAndGlyphs" fill="#000" stroke="#000" stroke-width="0.15">Z</text>
</g>
<g transform="rotate(-90)">
<text x="-147.80" y="30.10" font-family="Liberation Serif" font-weight="bold" font-size="15.97" textLength="2.83" lengthAdjust="spacingAndGlyphs" fill="#000" stroke="#000" stroke-width="0.15">i</text>
</g>
<g transform="rotate(-90)">
<text x="-137.25" y="22.21" font-family="Liberation Serif" font-weight="bold" font-size="20.44" textLength="8.49" lengthAdjust="spacingAndGlyphs" fill="#000" stroke="#000" stroke-width="0.15">(</text>
</g>
<g transform="rotate(-90)">
<text x="-129.34" y="23.60" font-family="Liberation Serif" font-weight="bold" font-size="20.91" textLength="13.08" lengthAdjust="spacingAndGlyphs" fill="#000" stroke="#000" stroke-width="0.15">Ω</text>
</g>
<g transform="rotate(-90)">
<text x="-112.70" y="23.60" font-family="Liberation Sans" font-weight="bold" font-size="20.00" textLength="7.28" lengthAdjust="spacingAndGlyphs" fill="#000" stroke="#000" stroke-width="0.15">.</text>
</g>
<g transform="rotate(-90)">
<text x="-103.97" y="23.01" font-family="Liberation Sans" font-weight="bold" font-size="18.55" textLength="12.04" lengthAdjust="spacingAndGlyphs" fill="#000" stroke="#000" stroke-width="0.15">c</text>
</g>
<g transform="rotate(-90)">
<text x="-92.50" y="23.20" font-family="Liberation Sans" font-weight="bold" font-size="18.89" textLength="19.18" lengthAdjust="spacingAndGlyphs" fill="#000" stroke="#000" stroke-width="0.15">m</text>
</g>
<g transform="rotate(-90)">
<text x="-74.62" y="15.00" font-family="Liberation Sans" font-weight="bold" font-size="13.57" textLength="9.85" lengthAdjust="spacingAndGlyphs" fill="#000" stroke="#000" stroke-width="0.15">2</text>
</g>
<g transform="rotate(-90)">
<text x="-65.69" y="22.21" font-family="Liberation Serif" font-weight="bold" font-size="20.44" textLength="7.69" lengthAdjust="spacingAndGlyphs" fill="#000" stroke="#000" stroke-width="0.15">)</text>
</g>
<text x="71.67" y="30.40" font-family="Liberation Serif" font-weight="bold" font-size="20.00" textLength="24.19" lengthAdjust="spacingAndGlyphs" fill="#000" stroke="#000" stroke-width="0.15">(a)</text>
<rect x="242.70" y="16.70" width="81.40" height="92.00" fill="#fff" stroke="#666" stroke-width="1"/>
<path d="M256.7 25.4l5.0 5.0m0 -5.0l-5.0 5.0" stroke="#444" stroke-width="0.8" fill="none"/>
<text x="270.49" y="29.49" font-family="Liberation Serif" font-weight="bold" font-size="11.06" textLength="28.13" lengthAdjust="spacingAndGlyphs" fill="#000" stroke="#000" stroke-width="0.15">blank</text>
<path d="M256.7 42.4a2.5 2.5 0 1 0 5.0 0a2.5 2.5 0 1 0 -5.0 0" stroke="#444" stroke-width="0.8" fill="none"/>
<text x="270.14" y="43.99" font-family="Liberation Serif" font-weight="bold" font-size="11.04" textLength="36.69" lengthAdjust="spacingAndGlyphs" fill="#000" stroke="#000" stroke-width="0.15">50 ppm</text>
<path d="M259.2 54.3L261.7 58.8H256.7Z" stroke="#444" stroke-width="0.8" fill="none"/>
<text x="269.66" y="58.39" font-family="Liberation Serif" font-weight="bold" font-size="11.34" textLength="43.58" lengthAdjust="spacingAndGlyphs" fill="#000" stroke="#000" stroke-width="0.15">100 ppm</text>
<path d="M256.7 71.4h5.0M259.2 68.9v5.0" stroke="#444" stroke-width="0.8" fill="none"/>
<text x="269.66" y="72.89" font-family="Liberation Serif" font-weight="bold" font-size="11.34" textLength="43.58" lengthAdjust="spacingAndGlyphs" fill="#000" stroke="#000" stroke-width="0.15">150 ppm</text>
<path d="M256.7 86.1h5.0M259.2 83.6v5.0M257.3 84.2l3.8 3.8m0 -3.8l-3.8 3.8" stroke="#a04040" stroke-width="0.8" fill="none"/>
<text x="270.13" y="87.99" font-family="Liberation Serif" font-weight="bold" font-size="11.22" textLength="43.10" lengthAdjust="spacingAndGlyphs" fill="#000" stroke="#000" stroke-width="0.15">200 ppm</text>
<path d="M259.2 97.7L261.7 100.2L259.2 102.7L256.7 100.2Z" stroke="#444" stroke-width="0.8" fill="none"/>
<text x="270.13" y="102.19" font-family="Liberation Serif" font-weight="bold" font-size="11.22" textLength="43.10" lengthAdjust="spacingAndGlyphs" fill="#000" stroke="#000" stroke-width="0.15">250 ppm</text>
<text x="134.79" y="65.78" font-family="Liberation Serif" font-weight="bold" font-size="14.53" textLength="56.24" lengthAdjust="spacingAndGlyphs" fill="#000" stroke="#000" stroke-width="0.15">15.99 Hz</text>
<line x1="152.80" y1="70.50" x2="152.80" y2="163.50" stroke="#3a3a3a" stroke-width="1.0"/>
<text x="92.51" y="83.19" font-family="Liberation Serif" font-weight="bold" font-size="14.24" textLength="55.11" lengthAdjust="spacingAndGlyphs" fill="#000" stroke="#000" stroke-width="0.15">21.21 Hz</text>
<line x1="126.30" y1="85.20" x2="126.30" y2="162.50" stroke="#3a3a3a" stroke-width="1.0"/>
<text x="154.01" y="105.29" font-family="Liberation Serif" font-weight="bold" font-size="14.24" textLength="55.11" lengthAdjust="spacingAndGlyphs" fill="#000" stroke="#000" stroke-width="0.15">21.21 Hz</text>
<line x1="165.40" y1="109.00" x2="165.40" y2="138.00" stroke="#3a3a3a" stroke-width="1.0"/>
<text x="88.38" y="118.79" font-family="Liberation Serif" font-weight="bold" font-size="14.14" textLength="54.74" lengthAdjust="spacingAndGlyphs" fill="#000" stroke="#000" stroke-width="0.15">49.42 Hz</text>
<line x1="112.80" y1="120.20" x2="112.80" y2="149.70" stroke="#3a3a3a" stroke-width="1.0"/>
<text x="211.13" y="125.79" font-family="Liberation Serif" font-weight="bold" font-size="14.26" textLength="47.79" lengthAdjust="spacingAndGlyphs" fill="#000" stroke="#000" stroke-width="0.15">9.10 Hz</text>
<line x1="217.20" y1="129.50" x2="217.20" y2="157.00" stroke="#3a3a3a" stroke-width="1.0"/>
<text x="71.72" y="152.99" font-family="Liberation Serif" font-weight="bold" font-size="13.99" textLength="39.60" lengthAdjust="spacingAndGlyphs" fill="#000" stroke="#000" stroke-width="0.15">0.1 Hz</text>
<line x1="91.00" y1="158.60" x2="91.00" y2="220.80" stroke="#3a3a3a" stroke-width="1.0"/>
<text x="173.98" y="173.19" font-family="Liberation Serif" font-weight="bold" font-size="14.25" textLength="47.74" lengthAdjust="spacingAndGlyphs" fill="#000" stroke="#000" stroke-width="0.15">3.91 Hz</text>
<line x1="193.00" y1="173.80" x2="193.00" y2="200.50" stroke="#3a3a3a" stroke-width="1.0"/>
<text x="269.10" y="183.48" font-family="Liberation Serif" font-weight="bold" font-size="14.48" textLength="56.03" lengthAdjust="spacingAndGlyphs" fill="#000" stroke="#000" stroke-width="0.15">12.07 Hz</text>
<line x1="147.00" y1="183.00" x2="266.20" y2="183.00" stroke="#3a3a3a" stroke-width="1.0"/>
<text x="277.23" y="197.79" font-family="Liberation Serif" font-weight="bold" font-size="14.29" textLength="47.89" lengthAdjust="spacingAndGlyphs" fill="#000" stroke="#000" stroke-width="0.15">9.10 Hz</text>
<line x1="141.00" y1="195.10" x2="271.90" y2="195.10" stroke="#3a3a3a" stroke-width="1.0"/>
<text x="208.90" y="206.29" font-family="Liberation Serif" font-weight="bold" font-size="14.33" textLength="48.02" lengthAdjust="spacingAndGlyphs" fill="#000" stroke="#000" stroke-width="0.15">2.95 Hz</text>
<line x1="193.00" y1="200.00" x2="208.60" y2="200.00" stroke="#3a3a3a" stroke-width="1.0"/>
<text x="88.13" y="215.69" font-family="Liberation Serif" font-weight="bold" font-size="13.74" textLength="53.18" lengthAdjust="spacingAndGlyphs" fill="#000" stroke="#000" stroke-width="0.15">28.12 Hz</text>
<line x1="111.80" y1="190.00" x2="111.80" y2="207.00" stroke="#3a3a3a" stroke-width="1.0"/>
<polyline points="450.1,218.9 450.0,218.4 449.9,217.9 449.8,217.4 449.6,216.9 449.5,216.3 449.3,215.8 449.1,215.2 449.0,214.8 448.7,214.2 448.6,213.8 448.3,213.3 448.1,212.8 447.8,212.3 447.5,211.7 447.3,211.3 447.1,210.9 446.8,210.5 446.5,210.1 446.2,209.7 445.9,209.3 445.5,208.9 445.1,208.5 444.7,208.1 444.3,207.7 443.8,207.3 443.3,206.9 442.8,206.6 442.3,206.3 441.7,206.1 441.2,205.8 440.6,205.7 440.0,205.5 439.4,205.4 438.8,205.4 438.2,205.4 437.6,205.4 437.0,205.5 436.4,205.6 435.8,205.8 435.2,206.1 434.7,206.3 434.2,206.6 433.7,206.9 433.2,207.3 432.7,207.6 432.3,208.0 431.9,208.4 431.5,208.8 431.1,209.3 430.8,209.7 430.5,210.1 430.2,210.5 429.9,210.9 429.7,211.3 429.4,211.7 429.1,212.2 428.9,212.8 428.6,213.3 428.4,213.8 428.2,214.2 428.0,214.7 427.8,215.2 427.6,215.8 427.5,216.2 427.4,216.7 427.2,217.2 427.1,217.7 427.0,218.2 426.9,218.7 426.8,219.0" fill="none" stroke="#222" stroke-width="0.9" />
<path d="M446.7 212.1l4.0 4.0m0 -4.0l-4.0 4.0M446.3 211.3l4.0 4.0m0 -4.0l-4.0 4.0M445.9 210.3l4.0 4.0m0 -4.0l-4.0 4.0M445.3 209.3l4.0 4.0m0 -4.0l-4.0 4.0M444.5 208.1l4.0 4.0m0 -4.0l-4.0 4.0M443.6 207.0l4.0 4.0m0 -4.0l-4.0 4.0M442.5 205.9l4.0 4.0m0 -4.0l-4.0 4.0M441.2 204.9l4.0 4.0m0 -4.0l-4.0 4.0M439.8 204.1l4.0 4.0m0 -4.0l-4.0 4.0M438.2 203.5l4.0 4.0m0 -4.0l-4.0 4.0M436.5 203.4l4.0 4.0m0 -4.0l-4.0 4.0M434.8 203.5l4.0 4.0m0 -4.0l-4.0 4.0M433.2 204.1l4.0 4.0m0 -4.0l-4.0 4.0M431.7 204.9l4.0 4.0m0 -4.0l-4.0 4.0M430.4 205.9l4.0 4.0m0 -4.0l-4.0 4.0M429.3 207.0l4.0 4.0m0 -4.0l-4.0 4.0M428.4 208.1l4.0 4.0m0 -4.0l-4.0 4.0M427.7 209.3l4.0 4.0m0 -4.0l-4.0 4.0M427.1 210.3l4.0 4.0m0 -4.0l-4.0 4.0M426.6 211.3l4.0 4.0m0 -4.0l-4.0 4.0M426.3 212.1l4.0 4.0m0 -4.0l-4.0 4.0M426.0 212.9l4.0 4.0m0 -4.0l-4.0 4.0M425.7 213.5l4.0 4.0m0 -4.0l-4.0 4.0M425.6 214.1l4.0 4.0m0 -4.0l-4.0 4.0M425.4 214.5l4.0 4.0m0 -4.0l-4.0 4.0M425.3 214.9l4.0 4.0m0 -4.0l-4.0 4.0M425.2 215.3l4.0 4.0m0 -4.0l-4.0 4.0M425.1 215.6l4.0 4.0m0 -4.0l-4.0 4.0M425.1 215.8l4.0 4.0m0 -4.0l-4.0 4.0M425.0 216.0l4.0 4.0m0 -4.0l-4.0 4.0M425.0 216.2l4.0 4.0m0 -4.0l-4.0 4.0M425.0 216.3l4.0 4.0m0 -4.0l-4.0 4.0M424.9 216.4l4.0 4.0m0 -4.0l-4.0 4.0M424.9 216.5l4.0 4.0m0 -4.0l-4.0 4.0M424.9 216.6l4.0 4.0m0 -4.0l-4.0 4.0M424.9 216.7l4.0 4.0m0 -4.0l-4.0 4.0" stroke="#333" stroke-width="0.9" fill="none"/>
<polyline points="504.6,218.9 504.5,218.4 504.3,217.9 504.2,217.4 504.0,216.9 503.9,216.4 503.7,215.9 503.6,215.4 503.4,214.9 503.2,214.4 503.0,213.9 502.8,213.4 502.6,212.7 502.4,212.3 502.2,211.8 501.9,211.3 501.7,210.8 501.4,210.3 501.1,209.7 500.7,209.0 500.3,208.4 499.9,207.7 499.5,206.9 499.2,206.6 499.0,206.2 498.7,205.8 498.4,205.4 498.1,205.0 497.8,204.5 497.4,204.1 497.1,203.7 496.7,203.2 496.3,202.7 495.9,202.3 495.5,201.8 495.1,201.3 494.6,200.8 494.1,200.3 493.6,199.9 493.1,199.4 492.5,198.8 491.9,198.3 491.3,197.8 490.7,197.3 490.0,196.8 489.4,196.3 488.6,195.8 487.9,195.3 487.1,194.8 486.4,194.3 485.5,193.9 484.7,193.4 483.8,192.9 482.9,192.5 482.0,192.1 481.0,191.6 480.1,191.3 479.1,190.9 478.0,190.5 477.0,190.2 475.9,189.9 474.8,189.6 473.7,189.3 472.6,189.1 471.5,188.9 470.3,188.7 469.2,188.6 468.0,188.5 466.8,188.4 465.6,188.3 464.5,188.3 463.3,188.3 462.1,188.4 460.9,188.4 459.8,188.6 458.6,188.7 457.4,188.9 456.3,189.1 455.2,189.3 454.1,189.6 453.0,189.8 451.9,190.1 450.9,190.5 449.8,190.8 448.8,191.2 447.9,191.6 446.9,192.0 446.0,192.4 445.1,192.9 444.2,193.3 443.3,193.8 442.5,194.3 441.7,194.8 441.0,195.3 440.2,195.8 439.5,196.3 438.8,196.8 438.2,197.3 437.5,197.8 436.9,198.3 436.3,198.8 435.8,199.3 435.3,199.8 434.7,200.3 434.3,200.8 433.8,201.3 433.3,201.7 432.9,202.2 432.5,202.7 432.1,203.1 431.7,203.6 431.4,204.0 431.1,204.5 430.7,204.9 430.4,205.3 430.1,205.7 429.9,206.1 429.6,206.5 429.4,206.9 429.1,207.3 428.7,208.0 428.3,208.7 427.9,209.3 427.6,209.9 427.3,210.5 427.0,211.1 426.8,211.6 426.5,212.1 426.3,212.5 426.2,212.9 425.9,213.5" fill="none" stroke="#2a8a3a" stroke-width="0.9" />
<path d="M503.5 212.8L505.5 215.3L503.5 217.8L501.5 215.3ZM503.2 211.8L505.2 214.3L503.2 216.8L501.2 214.3ZM502.7 210.5L504.7 213.0L502.7 215.5L500.7 213.0ZM502.0 208.9L504.0 211.4L502.0 213.9L500.0 211.4ZM501.0 207.0L503.0 209.5L501.0 212.0L499.0 209.5ZM499.6 204.6L501.6 207.1L499.6 209.6L497.6 207.1ZM497.6 201.8L499.6 204.3L497.6 206.8L495.6 204.3ZM494.9 198.6L496.9 201.1L494.9 203.6L492.9 201.1ZM491.1 195.2L493.1 197.7L491.1 200.2L489.1 197.7ZM486.1 191.7L488.1 194.2L486.1 196.7L484.1 194.2ZM479.9 188.7L481.9 191.2L479.9 193.7L477.9 191.2ZM472.5 186.6L474.5 189.1L472.5 191.6L470.5 189.1ZM464.4 185.8L466.4 188.3L464.4 190.8L462.4 188.3ZM456.3 186.6L458.3 189.1L456.3 191.6L454.3 189.1ZM448.9 188.7L450.9 191.2L448.9 193.7L446.9 191.2ZM442.6 191.7L444.6 194.2L442.6 196.7L440.6 194.2ZM437.7 195.2L439.7 197.7L437.7 200.2L435.7 197.7ZM433.9 198.6L435.9 201.1L433.9 203.6L431.9 201.1ZM431.2 201.8L433.2 204.3L431.2 206.8L429.2 204.3ZM429.2 204.6L431.2 207.1L429.2 209.6L427.2 207.1ZM427.8 207.0L429.8 209.5L427.8 212.0L425.8 209.5ZM426.8 208.9L428.8 211.4L426.8 213.9L424.8 211.4ZM426.1 210.5L428.1 213.0L426.1 215.5L424.1 213.0Z" fill="#1a7a3a"/>
<polyline points="527.3,218.9 527.2,218.4 527.1,217.9 526.9,217.4 526.8,216.9 526.6,216.4 526.4,215.9 526.3,215.5 526.1,215.0 525.9,214.4 525.7,213.9 525.5,213.4 525.3,212.8 525.1,212.3 524.9,211.9 524.7,211.4 524.4,210.9 524.2,210.3 523.9,209.7 523.6,209.1 523.3,208.5 522.9,207.8 522.5,207.0 522.3,206.6 522.0,206.2 521.8,205.8 521.5,205.4 521.3,205.0 521.0,204.6 520.7,204.1 520.4,203.7 520.1,203.2 519.7,202.7 519.4,202.2 519.0,201.7 518.7,201.2 518.3,200.7 517.8,200.1 517.4,199.6 516.9,199.0 516.5,198.5 515.9,197.9 515.4,197.3 514.9,196.7 514.3,196.2 513.7,195.5 513.1,194.9 512.4,194.3 511.8,193.7 511.0,193.1 510.3,192.5 509.5,191.8 508.8,191.2 507.9,190.6 507.1,190.0 506.2,189.3 505.3,188.7 504.3,188.1 503.3,187.5 502.3,186.9 501.3,186.3 500.2,185.8 499.1,185.2 497.9,184.7 496.8,184.2 495.6,183.7 494.3,183.2 493.1,182.7 491.8,182.3 490.5,181.9 489.1,181.5 487.8,181.2 486.4,180.9 485.0,180.6 483.6,180.4 482.1,180.2 480.7,180.0 479.2,179.9 477.8,179.8 476.3,179.7 474.8,179.7 473.4,179.7 471.9,179.8 470.4,179.9 469.0,180.0 467.6,180.1 466.1,180.4 464.7,180.6 463.3,180.9 461.9,181.2 460.6,181.5 459.2,181.9 457.9,182.3 456.6,182.7 455.3,183.1 454.1,183.6 452.9,184.1 451.7,184.6 450.6,185.2 449.5,185.7 448.4,186.3 447.3,186.9 446.3,187.4 445.3,188.0 444.4,188.7 443.4,189.3 442.5,189.9 441.7,190.5 440.9,191.1 440.1,191.8 439.3,192.4 438.6,193.0 437.8,193.6 437.2,194.3 436.5,194.9 435.9,195.5 435.3,196.1 434.7,196.7 434.2,197.3 433.6,197.8 433.1,198.4 432.6,199.0 432.2,199.5 431.7,200.1 431.3,200.6 430.9,201.1 430.5,201.7 430.2,202.2 429.8,202.7 429.5,203.1 429.2,203.6 428.9,204.1 428.6,204.5 428.3,205.0 428.0,205.4 427.8,205.8 427.5,206.2 427.3,206.6 427.1,207.0 426.7,207.7 426.3,208.4 426.0,209.1" fill="none" stroke="#9a3ab0" stroke-width="0.9" />
<path d="M522.9 213.8a2.8 2.8 0 1 0 5.5 0a2.8 2.8 0 1 0 -5.5 0M522.4 212.4a2.8 2.8 0 1 0 5.5 0a2.8 2.8 0 1 0 -5.5 0M521.6 210.7a2.8 2.8 0 1 0 5.5 0a2.8 2.8 0 1 0 -5.5 0M520.6 208.6a2.8 2.8 0 1 0 5.5 0a2.8 2.8 0 1 0 -5.5 0M519.1 206.0a2.8 2.8 0 1 0 5.5 0a2.8 2.8 0 1 0 -5.5 0M517.2 202.9a2.8 2.8 0 1 0 5.5 0a2.8 2.8 0 1 0 -5.5 0M514.4 199.3a2.8 2.8 0 1 0 5.5 0a2.8 2.8 0 1 0 -5.5 0M510.7 195.3a2.8 2.8 0 1 0 5.5 0a2.8 2.8 0 1 0 -5.5 0M505.7 191.0a2.8 2.8 0 1 0 5.5 0a2.8 2.8 0 1 0 -5.5 0M499.3 186.8a2.8 2.8 0 1 0 5.5 0a2.8 2.8 0 1 0 -5.5 0M491.3 183.1a2.8 2.8 0 1 0 5.5 0a2.8 2.8 0 1 0 -5.5 0M482.1 180.6a2.8 2.8 0 1 0 5.5 0a2.8 2.8 0 1 0 -5.5 0M472.0 179.7a2.8 2.8 0 1 0 5.5 0a2.8 2.8 0 1 0 -5.5 0M462.0 180.6a2.8 2.8 0 1 0 5.5 0a2.8 2.8 0 1 0 -5.5 0M452.7 183.1a2.8 2.8 0 1 0 5.5 0a2.8 2.8 0 1 0 -5.5 0M444.7 186.8a2.8 2.8 0 1 0 5.5 0a2.8 2.8 0 1 0 -5.5 0M438.3 191.0a2.8 2.8 0 1 0 5.5 0a2.8 2.8 0 1 0 -5.5 0M433.3 195.3a2.8 2.8 0 1 0 5.5 0a2.8 2.8 0 1 0 -5.5 0M429.6 199.3a2.8 2.8 0 1 0 5.5 0a2.8 2.8 0 1 0 -5.5 0M426.9 202.9a2.8 2.8 0 1 0 5.5 0a2.8 2.8 0 1 0 -5.5 0M424.9 206.0a2.8 2.8 0 1 0 5.5 0a2.8 2.8 0 1 0 -5.5 0M423.5 208.6a2.8 2.8 0 1 0 5.5 0a2.8 2.8 0 1 0 -5.5 0" stroke="#7a3a9a" stroke-width="0.9" fill="none"/>
<polyline points="591.4,218.8 591.2,218.3 591.1,217.8 591.0,217.3 590.9,216.7 590.7,216.2 590.6,215.7 590.5,215.1 590.3,214.6 590.2,214.1 590.0,213.5 589.9,212.9 589.7,212.2 589.5,211.7 589.4,211.2 589.2,210.6 589.0,210.0 588.8,209.4 588.6,208.7 588.3,207.9 588.0,207.2 587.7,206.3 587.6,205.9 587.4,205.4 587.2,204.9 587.0,204.5 586.8,203.9 586.6,203.4 586.4,202.9 586.2,202.3 585.9,201.8 585.7,201.2 585.4,200.6 585.1,200.0 584.8,199.3 584.5,198.7 584.2,198.0 583.8,197.3 583.5,196.6 583.1,195.8 582.7,195.1 582.3,194.3 581.8,193.5 581.3,192.7 580.8,191.8 580.3,191.0 579.8,190.1 579.2,189.2 578.6,188.3 578.0,187.3 577.3,186.3 576.6,185.4 575.9,184.4 575.2,183.3 574.4,182.3 573.5,181.2 572.6,180.2 571.7,179.1 570.7,178.0 569.7,176.9 568.7,175.7 567.6,174.6 566.4,173.5 565.2,172.3 564.0,171.2 562.6,170.0 561.3,168.9 559.9,167.7 558.4,166.6 556.9,165.4 555.3,164.3 553.6,163.2 551.9,162.1 550.1,161.1 548.3,160.0 546.5,159.0 544.5,158.0 542.5,157.1 540.5,156.2 538.4,155.3 536.3,154.5 534.1,153.7 531.8,153.0 529.6,152.4 527.3,151.8 524.9,151.2 522.5,150.8 520.1,150.4 517.7,150.1 515.3,149.8 512.8,149.6 510.3,149.5 507.9,149.4 505.4,149.5 502.9,149.6 500.5,149.8 498.0,150.0 495.6,150.3 493.2,150.7 490.8,151.2 488.5,151.7 486.1,152.3 483.9,152.9 481.6,153.7 479.4,154.4 477.3,155.2 475.2,156.1 473.2,157.0 471.2,157.9 469.2,158.9 467.3,159.9 465.5,160.9 463.7,162.0 462.0,163.1 460.4,164.2 458.8,165.3 457.3,166.4 455.8,167.6 454.3,168.7 453.0,169.9 451.7,171.0 450.4,172.2 449.2,173.3 448.0,174.5 446.9,175.6 445.9,176.7 444.8,177.9 443.9,179.0 442.9,180.0 442.1,181.1 441.2,182.2 440.4,183.2 439.6,184.2 438.9,185.3 438.2,186.2 437.5,187.2 436.9,188.2 436.3,189.1 435.7,190.0 435.2,190.9 434.7,191.7 434.2,192.6 433.7,193.4 433.3,194.2 432.8,195.0 432.4,195.7 432.1,196.5 431.7,197.2 431.3,197.9 431.0,198.6 430.7,199.3 430.4,199.9 430.1,200.5 429.8,201.1 429.6,201.7 429.3,202.3 429.1,202.8 428.9,203.4 428.7,203.9 428.5,204.4 428.3,204.9 428.1,205.4 427.9,205.8 427.8,206.3 427.5,207.1 427.2,207.9 426.9,208.6 426.7,209.3 426.5,210.0 426.3,210.6 426.1,211.2 425.9,211.7" fill="none" stroke="#5a2a2a" stroke-width="0.9" />
<path d="M589.2 208.1L591.8 212.7H586.6ZM588.5 205.8L591.1 210.5H585.9ZM587.4 202.9L590.0 207.6H584.8ZM586.0 199.4L588.6 204.0H583.4ZM584.0 195.0L586.6 199.6H581.4ZM581.1 189.6L583.7 194.3H578.5ZM577.0 183.3L579.6 188.0H574.4ZM571.3 176.0L573.9 180.7H568.7ZM563.5 168.2L566.1 172.9H560.9ZM553.2 160.3L555.8 165.0H550.6ZM540.1 153.4L542.7 158.1H537.5ZM524.6 148.6L527.2 153.3H522.0ZM507.7 146.8L510.3 151.5H505.1ZM490.8 148.6L493.4 153.3H488.2ZM475.4 153.4L478.0 158.1H472.8ZM462.3 160.3L464.9 165.0H459.7ZM451.9 168.2L454.5 172.9H449.3ZM444.1 176.0L446.7 180.7H441.5ZM438.5 183.3L441.1 188.0H435.9ZM434.4 189.6L437.0 194.3H431.8ZM431.5 195.0L434.1 199.6H428.9ZM429.5 199.4L432.1 204.0H426.9ZM428.0 202.9L430.6 207.6H425.4ZM427.0 205.8L429.6 210.5H424.4ZM426.3 208.1L428.9 212.7H423.7Z" stroke="#555" stroke-width="0.9" fill="none"/>
<polyline points="678.7,218.6 678.6,218.1 678.4,217.6 678.3,217.1 678.1,216.6 677.9,216.1 677.8,215.6 677.6,215.1 677.5,214.6 677.3,214.1 677.1,213.6 677.0,213.1 676.7,212.5 676.5,211.8 676.3,211.3 676.2,210.8 676.0,210.2 675.7,209.7 675.5,209.0 675.3,208.4 675.0,207.7 674.7,206.9 674.4,206.1 674.1,205.2 673.9,204.8 673.7,204.3 673.5,203.9 673.3,203.4 673.1,202.9 672.9,202.3 672.6,201.8 672.4,201.3 672.2,200.7 671.9,200.1 671.6,199.5 671.4,198.9 671.1,198.2 670.8,197.6 670.5,196.9 670.1,196.2 669.8,195.5 669.4,194.8 669.1,194.0 668.7,193.2 668.3,192.4 667.8,191.6 667.4,190.8 666.9,189.9 666.5,189.0 666.0,188.1 665.4,187.2 664.9,186.2 664.3,185.2 663.8,184.2 663.1,183.2 662.5,182.1 661.8,181.1 661.1,180.0 660.4,178.8 659.7,177.7 658.9,176.5 658.0,175.3 657.2,174.1 656.3,172.8 655.4,171.6 654.4,170.3 653.4,168.9 652.3,167.6 651.2,166.2 650.1,164.9 648.9,163.5 647.7,162.0 646.4,160.6 645.1,159.2 643.7,157.7 642.2,156.2 640.7,154.7 639.2,153.2 637.6,151.7 635.9,150.2 634.2,148.7 632.4,147.2 630.6,145.7 628.6,144.2 626.7,142.7 624.6,141.2 622.5,139.7 620.4,138.2 618.1,136.8 615.8,135.4 613.5,134.0 611.1,132.7 608.6,131.3 606.0,130.1 603.4,128.8 600.8,127.6 598.0,126.5 595.3,125.4 592.4,124.4 589.5,123.4 586.6,122.5 583.6,121.7 580.6,120.9 577.6,120.2 574.5,119.6 571.3,119.0 568.2,118.6 565.0,118.2 561.8,117.9 558.6,117.7 555.4,117.5 552.2,117.5 549.0,117.5 545.8,117.6 542.6,117.8 539.4,118.1 536.2,118.5 533.1,119.0 529.9,119.5 526.8,120.1 523.8,120.8 520.8,121.6 517.8,122.4 514.8,123.3 511.9,124.3 509.1,125.3 506.3,126.4 503.6,127.5 500.9,128.7 498.3,129.9 495.8,131.2 493.3,132.5 490.8,133.9 488.5,135.2 486.2,136.7 483.9,138.1 481.8,139.5 479.6,141.0 477.6,142.5 475.6,144.0 473.7,145.5 471.9,147.0 470.1,148.5 468.3,150.0 466.7,151.5 465.0,153.1 463.5,154.6 462.0,156.0 460.5,157.5 459.2,159.0 457.8,160.4 456.5,161.9 455.3,163.3 454.1,164.7 453.0,166.1 451.9,167.5 450.8,168.8 449.8,170.1 448.8,171.4 447.9,172.7 447.0,173.9 446.1,175.2 445.3,176.4 444.5,177.6 443.7,178.7 443.0,179.8 442.3,180.9 441.6,182.0 441.0,183.1 440.4,184.1 439.8,185.1 439.2,186.1 438.7,187.1 438.1,188.0 437.6,188.9 437.2,189.8 436.7,190.7 436.3,191.5 435.8,192.3 435.4,193.1 435.0,193.9 434.7,194.7 434.3,195.4 434.0,196.1 433.6,196.8 433.3,197.5 433.0,198.2 432.7,198.8 432.4,199.4 432.2,200.0 431.9,200.6 431.7,201.2 431.4,201.7 431.2,202.3 431.0,202.8 430.8,203.3 430.6,203.8 430.4,204.3 430.2,204.7 430.0,205.2 429.8,205.6 429.5,206.5 429.2,207.2 428.9,208.0 428.7,208.7 428.4,209.3 428.2,209.9 428.0,210.5 427.8,211.0 427.6,211.5 427.5,212.0 427.2,212.7 427.0,213.2 426.9,213.8 426.7,214.3 426.5,214.9 426.3,215.4 426.2,215.9 426.0,216.4 425.9,216.8" fill="none" stroke="#c05050" stroke-width="0.9" />
<path d="M439.2 181.5h5.5M442.0 178.7v5.5M439.9 179.4l4.1 4.1m0 -4.1l-4.1 4.1M435.2 188.4h5.5M437.9 185.7v5.5M435.9 186.3l4.1 4.1m0 -4.1l-4.1 4.1M432.2 194.2h5.5M434.9 191.5v5.5M432.8 192.1l4.1 4.1m0 -4.1l-4.1 4.1M429.9 199.0h5.5M432.6 196.2v5.5M430.6 196.9l4.1 4.1m0 -4.1l-4.1 4.1M428.2 202.9h5.5M430.9 200.2v5.5M428.9 200.9l4.1 4.1m0 -4.1l-4.1 4.1M426.9 206.1h5.5M429.6 203.4v5.5M427.6 204.0l4.1 4.1m0 -4.1l-4.1 4.1M425.9 208.7h5.5M428.7 205.9v5.5M426.6 206.6l4.1 4.1m0 -4.1l-4.1 4.1M425.2 210.8h5.5M427.9 208.0v5.5M425.8 208.7l4.1 4.1m0 -4.1l-4.1 4.1M424.6 212.4h5.5M427.3 209.7v5.5M425.3 210.4l4.1 4.1m0 -4.1l-4.1 4.1M424.1 213.8h5.5M426.9 211.0v5.5M424.8 211.7l4.1 4.1m0 -4.1l-4.1 4.1M423.8 214.8h5.5M426.5 212.1v5.5M424.5 212.8l4.1 4.1m0 -4.1l-4.1 4.1M423.5 215.7h5.5M426.2 212.9v5.5M424.2 213.6l4.1 4.1m0 -4.1l-4.1 4.1M423.3 216.4h5.5M426.0 213.6v5.5M424.0 214.3l4.1 4.1m0 -4.1l-4.1 4.1M445.2 170.1h5.5M448.0 167.3v5.5M445.9 168.0l4.1 4.1m0 -4.1l-4.1 4.1M451.6 159.6h5.5M454.3 156.8v5.5M452.2 157.5l4.1 4.1m0 -4.1l-4.1 4.1M461.6 147.0h5.5M464.3 144.2v5.5M462.2 144.9l4.1 4.1m0 -4.1l-4.1 4.1M477.9 136.5h5.5M480.7 133.8v5.5M478.6 134.4l4.1 4.1m0 -4.1l-4.1 4.1M497.9 126.8h5.5M500.7 124.0v5.5M498.6 124.7l4.1 4.1m0 -4.1l-4.1 4.1M519.8 119.3h5.5M522.5 116.5v5.5M520.4 117.2l4.1 4.1m0 -4.1l-4.1 4.1M545.2 116.7h5.5M548.0 114.0v5.5M545.9 114.6l4.1 4.1m0 -4.1l-4.1 4.1M570.2 120.3h5.5M573.0 117.5v5.5M570.9 118.2l4.1 4.1m0 -4.1l-4.1 4.1M592.9 128.0h5.5M595.6 125.2v5.5M593.5 125.9l4.1 4.1m0 -4.1l-4.1 4.1M611.5 137.4h5.5M614.3 134.7v5.5M612.2 135.3l4.1 4.1m0 -4.1l-4.1 4.1M626.6 148.2h5.5M629.4 145.4v5.5M627.3 146.1l4.1 4.1m0 -4.1l-4.1 4.1M638.6 158.7h5.5M641.4 155.9v5.5M639.3 156.6l4.1 4.1m0 -4.1l-4.1 4.1M647.8 169.3h5.5M650.5 166.6v5.5M648.4 167.2l4.1 4.1m0 -4.1l-4.1 4.1M655.2 178.9h5.5M658.0 176.2v5.5M655.9 176.8l4.1 4.1m0 -4.1l-4.1 4.1M659.8 185.8h5.5M662.5 183.1v5.5M660.4 183.7l4.1 4.1m0 -4.1l-4.1 4.1M665.9 191.9h5.5M668.6 189.2v5.5M666.5 189.8l4.1 4.1m0 -4.1l-4.1 4.1M671.9 200.9h5.5M674.6 198.2v5.5M672.5 198.8l4.1 4.1m0 -4.1l-4.1 4.1M677.9 205.4h5.5M680.6 202.7v5.5M678.5 203.3l4.1 4.1m0 -4.1l-4.1 4.1M683.9 208.4h5.5M686.6 205.7v5.5M684.5 206.3l4.1 4.1m0 -4.1l-4.1 4.1" stroke="#b03040" stroke-width="0.9" fill="none"/>
<rect x="425.9" y="10.65" width="262.4" height="208.35" fill="none" stroke="#000" stroke-width="2.2"/>
<line x1="425.90" y1="60.20" x2="430.90" y2="60.20" stroke="#000" stroke-width="1.2"/>
<line x1="425.90" y1="111.90" x2="430.90" y2="111.90" stroke="#000" stroke-width="1.2"/>
<line x1="425.90" y1="165.10" x2="430.90" y2="165.10" stroke="#000" stroke-width="1.2"/>
<line x1="478.38" y1="219.00" x2="478.38" y2="214.00" stroke="#000" stroke-width="1.2"/>
<line x1="530.86" y1="219.00" x2="530.86" y2="214.00" stroke="#000" stroke-width="1.2"/>
<line x1="583.34" y1="219.00" x2="583.34" y2="214.00" stroke="#000" stroke-width="1.2"/>
<line x1="635.82" y1="219.00" x2="635.82" y2="214.00" stroke="#000" stroke-width="1.2"/>
<text x="393.68" y="13.53" font-family="Liberation Serif" font-weight="bold" font-size="17.33" textLength="27.04" lengthAdjust="spacingAndGlyphs" fill="#000" stroke="#000" stroke-width="0.15">200</text>
<text x="393.66" y="63.53" font-family="Liberation Serif" font-weight="bold" font-size="17.33" textLength="27.07" lengthAdjust="spacingAndGlyphs" fill="#000" stroke="#000" stroke-width="0.15">150</text>
<text x="393.17" y="114.83" font-family="Liberation Serif" font-weight="bold" font-size="17.33" textLength="26.85" lengthAdjust="spacingAndGlyphs" fill="#000" stroke="#000" stroke-width="0.15">100</text>
<text x="400.97" y="167.52" font-family="Liberation Serif" font-weight="bold" font-size="17.63" textLength="18.26" lengthAdjust="spacingAndGlyphs" fill="#000" stroke="#000" stroke-width="0.15">50</text>
<text x="419.86" y="241.14" font-family="Liberation Serif" font-weight="bold" font-size="16.44" textLength="9.29" lengthAdjust="spacingAndGlyphs" fill="#000" stroke="#000" stroke-width="0.15">0</text>
<text x="467.89" y="241.14" font-family="Liberation Serif" font-weight="bold" font-size="16.44" textLength="17.72" lengthAdjust="spacingAndGlyphs" fill="#000" stroke="#000" stroke-width="0.15">50</text>
<text x="515.64" y="241.14" font-family="Liberation Serif" font-weight="bold" font-size="16.44" textLength="27.28" lengthAdjust="spacingAndGlyphs" fill="#000" stroke="#000" stroke-width="0.15">100</text>
<text x="568.57" y="241.14" font-family="Liberation Serif" font-weight="bold" font-size="16.44" textLength="26.85" lengthAdjust="spacingAndGlyphs" fill="#000" stroke="#000" stroke-width="0.15">150</text>
<text x="621.39" y="241.14" font-family="Liberation Serif" font-weight="bold" font-size="16.44" textLength="26.62" lengthAdjust="spacingAndGlyphs" fill="#000" stroke="#000" stroke-width="0.15">200</text>
<text x="673.69" y="241.14" font-family="Liberation Serif" font-weight="bold" font-size="16.44" textLength="26.51" lengthAdjust="spacingAndGlyphs" fill="#000" stroke="#000" stroke-width="0.15">250</text>
<text x="503.72" y="265.20" font-family="Liberation Serif" font-weight="bold" font-size="17.86" textLength="14.51" lengthAdjust="spacingAndGlyphs" fill="#000" stroke="#000" stroke-width="0.15">Z</text>
<text x="518.21" y="269.10" font-family="Liberation Serif" font-weight="bold" font-size="16.42" textLength="6.99" lengthAdjust="spacingAndGlyphs" fill="#000" stroke="#000" stroke-width="0.15">r</text>
<text x="530.01" y="266.21" font-family="Liberation Serif" font-weight="bold" font-size="20.44" textLength="8.10" lengthAdjust="spacingAndGlyphs" fill="#000" stroke="#000" stroke-width="0.15">(</text>
<text x="537.26" y="265.20" font-family="Liberation Serif" font-weight="bold" font-size="17.73" textLength="14.89" lengthAdjust="spacingAndGlyphs" fill="#000" stroke="#000" stroke-width="0.15">Ω</text>
<text x="550.57" y="265.30" font-family="Liberation Sans" font-weight="bold" font-size="20.00" textLength="6.13" lengthAdjust="spacingAndGlyphs" fill="#000" stroke="#000" stroke-width="0.15">.</text>
<text x="555.74" y="265.35" font-family="Liberation Sans" font-weight="bold" font-size="14.73" textLength="13.42" lengthAdjust="spacingAndGlyphs" fill="#000" stroke="#000" stroke-width="0.15">c</text>
<text x="568.38" y="265.50" font-family="Liberation Sans" font-weight="bold" font-size="15.00" textLength="20.80" lengthAdjust="spacingAndGlyphs" fill="#000" stroke="#000" stroke-width="0.15">m</text>
<text x="588.15" y="260.50" font-family="Liberation Sans" font-weight="bold" font-size="12.14" textLength="7.18" lengthAdjust="spacingAndGlyphs" fill="#000" stroke="#000" stroke-width="0.15">2</text>
<text x="596.48" y="266.21" font-family="Liberation Serif" font-weight="bold" font-size="20.44" textLength="6.92" lengthAdjust="spacingAndGlyphs" fill="#000" stroke="#000" stroke-width="0.15">)</text>
<g transform="rotate(-90)">
<text x="-159.62" y="386.60" font-family="Liberation Serif" font-weight="bold" font-size="20.00" textLength="13.57" lengthAdjust="spacingAndGlyphs" fill="#000" stroke="#000" stroke-width="0.15">Z</text>
</g>
<g transform="rotate(-90)">
<text x="-143.13" y="392.10" font-family="Liberation Serif" font-weight="bold" font-size="13.67" textLength="3.18" lengthAdjust="spacingAndGlyphs" fill="#000" stroke="#000" stroke-width="0.15">i</text>
</g>
<g transform="rotate(-90)">
<text x="-135.25" y="385.82" font-family="Liberation Serif" font-weight="bold" font-size="19.89" textLength="8.49" lengthAdjust="spacingAndGlyphs" fill="#000" stroke="#000" stroke-width="0.15">(</text>
</g>
<g transform="rotate(-90)">
<text x="-126.90" y="386.60" font-family="Liberation Serif" font-weight="bold" font-size="19.85" textLength="14.21" lengthAdjust="spacingAndGlyphs" fill="#000" stroke="#000" stroke-width="0.15">Ω</text>
</g>
<g transform="rotate(-90)">
<text x="-112.57" y="386.60" font-family="Liberation Sans" font-weight="bold" font-size="20.00" textLength="6.71" lengthAdjust="spacingAndGlyphs" fill="#000" stroke="#000" stroke-width="0.15">.</text>
</g>
<g transform="rotate(-90)">
<text x="-105.47" y="386.62" font-family="Liberation Sans" font-weight="bold" font-size="17.82" textLength="12.04" lengthAdjust="spacingAndGlyphs" fill="#000" stroke="#000" stroke-width="0.15">c</text>
</g>
<g transform="rotate(-90)">
<text x="-94.01" y="386.80" font-family="Liberation Sans" font-weight="bold" font-size="18.15" textLength="19.29" lengthAdjust="spacingAndGlyphs" fill="#000" stroke="#000" stroke-width="0.15">m</text>
</g>
<g transform="rotate(-90)">
<text x="-75.55" y="379.00" font-family="Liberation Sans" font-weight="bold" font-size="13.57" textLength="8.69" lengthAdjust="spacingAndGlyphs" fill="#000" stroke="#000" stroke-width="0.15">2</text>
</g>
<g transform="rotate(-90)">
<text x="-67.25" y="385.82" font-family="Liberation Serif" font-weight="bold" font-size="19.89" textLength="8.33" lengthAdjust="spacingAndGlyphs" fill="#000" stroke="#000" stroke-width="0.15">)</text>
</g>
<text x="430.43" y="26.78" font-family="Liberation Serif" font-weight="bold" font-size="18.71" textLength="23.58" lengthAdjust="spacingAndGlyphs" fill="#000" stroke="#000" stroke-width="0.15">(b)</text>
<rect x="608.00" y="17.60" width="72.50" height="86.20" fill="#fff" stroke="#666" stroke-width="1"/>
<path d="M616.0 26.3l5.0 5.0m0 -5.0l-5.0 5.0" stroke="#555" stroke-width="0.8" fill="none"/>
<text x="626.36" y="30.37" font-family="Liberation Serif" font-weight="bold" font-size="12.99" textLength="33.05" lengthAdjust="spacingAndGlyphs" fill="#000" stroke="#000" stroke-width="0.15">blank</text>
<path d="M618.5 42.4L620.5 44.9L618.5 47.4L616.5 44.9Z" fill="#2a6a3a"/>
<text x="625.96" y="46.37" font-family="Liberation Serif" font-weight="bold" font-size="13.04" textLength="43.32" lengthAdjust="spacingAndGlyphs" fill="#000" stroke="#000" stroke-width="0.15">25 ppm</text>
<path d="M616.0 60.1a2.5 2.5 0 1 0 5.0 0a2.5 2.5 0 1 0 -5.0 0" stroke="#555" stroke-width="0.8" fill="none"/>
<text x="625.96" y="62.37" font-family="Liberation Serif" font-weight="bold" font-size="13.04" textLength="43.32" lengthAdjust="spacingAndGlyphs" fill="#000" stroke="#000" stroke-width="0.15">50 ppm</text>
<path d="M616.0 77.0h5.0M618.5 74.5v5.0M616.6 75.1l3.8 3.8m0 -3.8l-3.8 3.8" stroke="#a04848" stroke-width="0.8" fill="none"/>
<text x="625.75" y="78.47" font-family="Liberation Serif" font-weight="bold" font-size="13.10" textLength="43.53" lengthAdjust="spacingAndGlyphs" fill="#000" stroke="#000" stroke-width="0.15">75 ppm</text>
<path d="M618.5 88.9L621.0 93.4H616.0Z" stroke="#444" stroke-width="0.8" fill="none"/>
<text x="625.39" y="94.47" font-family="Liberation Serif" font-weight="bold" font-size="13.29" textLength="51.09" lengthAdjust="spacingAndGlyphs" fill="#000" stroke="#000" stroke-width="0.15">100 ppm</text>
<text x="452.69" y="78.80" font-family="Liberation Serif" font-weight="bold" font-size="13.57" textLength="52.52" lengthAdjust="spacingAndGlyphs" fill="#000" stroke="#000" stroke-width="0.15">49.42 Hz</text>
<line x1="487.00" y1="82.00" x2="487.00" y2="151.30" stroke="#3a3a3a" stroke-width="1.0"/>
<text x="508.90" y="93.00" font-family="Liberation Serif" font-weight="bold" font-size="13.64" textLength="52.80" lengthAdjust="spacingAndGlyphs" fill="#000" stroke="#000" stroke-width="0.15">37.28 Hz</text>
<line x1="522.50" y1="94.50" x2="522.50" y2="119.30" stroke="#3a3a3a" stroke-width="1.0"/>
<text x="438.29" y="112.90" font-family="Liberation Serif" font-weight="bold" font-size="13.62" textLength="52.72" lengthAdjust="spacingAndGlyphs" fill="#000" stroke="#000" stroke-width="0.15">49.42 Hz</text>
<line x1="472.70" y1="114.80" x2="472.70" y2="178.90" stroke="#3a3a3a" stroke-width="1.0"/>
<text x="439.23" y="137.79" font-family="Liberation Serif" font-weight="bold" font-size="13.74" textLength="38.88" lengthAdjust="spacingAndGlyphs" fill="#000" stroke="#000" stroke-width="0.15">0.1 Hz</text>
<line x1="448.80" y1="142.50" x2="448.80" y2="215.00" stroke="#3a3a3a" stroke-width="1.0"/>
<text x="496.54" y="171.20" font-family="Liberation Serif" font-weight="bold" font-size="13.66" textLength="45.76" lengthAdjust="spacingAndGlyphs" fill="#000" stroke="#000" stroke-width="0.15">9.10 Hz</text>
<line x1="511.20" y1="172.00" x2="511.20" y2="197.00" stroke="#3a3a3a" stroke-width="1.0"/>
<text x="452.00" y="218.80" font-family="Liberation Serif" font-weight="bold" font-size="13.62" textLength="52.70" lengthAdjust="spacingAndGlyphs" fill="#000" stroke="#000" stroke-width="0.15">86.85 Hz</text>
<line x1="452.50" y1="191.40" x2="452.50" y2="210.00" stroke="#3a3a3a" stroke-width="1.0"/>
<text x="559.55" y="144.40" font-family="Liberation Serif" font-weight="bold" font-size="13.30" textLength="44.55" lengthAdjust="spacingAndGlyphs" fill="#000" stroke="#000" stroke-width="0.15">5.18 Hz</text>
<line x1="579.10" y1="149.70" x2="579.10" y2="188.90" stroke="#3a3a3a" stroke-width="1.0"/>
<text x="590.57" y="172.10" font-family="Liberation Serif" font-weight="bold" font-size="13.63" textLength="52.74" lengthAdjust="spacingAndGlyphs" fill="#000" stroke="#000" stroke-width="0.15">12.07 Hz</text>
<line x1="615.20" y1="137.70" x2="615.20" y2="158.70" stroke="#3a3a3a" stroke-width="1.0"/>
<text x="638.44" y="139.80" font-family="Liberation Serif" font-weight="bold" font-size="13.57" textLength="45.47" lengthAdjust="spacingAndGlyphs" fill="#000" stroke="#000" stroke-width="0.15">2.22 Hz</text>
<line x1="669.20" y1="143.70" x2="669.20" y2="193.40" stroke="#3a3a3a" stroke-width="1.0"/>
<polyline points="32.4,421.0 33.1,421.0 33.8,421.0 34.4,421.0 35.1,421.0 35.8,421.0 36.4,421.0 37.1,421.0 37.8,421.0 38.4,421.0 39.1,421.0 39.8,421.0 40.4,421.0 41.1,421.0 41.8,421.0 42.4,421.0 43.1,421.0 43.8,421.0 44.4,421.0 45.1,421.0 45.8,421.0 46.4,421.0 47.1,421.0 47.8,421.0 48.4,421.0 49.1,421.0 49.8,421.0 50.4,421.0 51.1,421.0 51.8,421.0 52.4,421.0 53.1,421.0 53.8,421.0 54.4,421.0 55.1,421.0 55.7,421.0 56.4,421.0 57.1,421.0 57.7,421.0 58.4,421.0 59.1,421.0 59.7,421.0 60.4,421.0 61.1,421.0 61.7,421.0 62.4,421.0 63.1,421.0 63.7,421.0 64.4,421.0 65.1,421.0 65.7,421.0 66.4,421.0 67.1,421.0 67.7,421.0 68.4,421.0 69.1,421.0 69.7,421.0 70.4,421.0 71.1,421.0 71.7,421.0 72.4,421.1 73.1,421.1 73.7,421.1 74.4,421.1 75.1,421.1 75.7,421.1 76.4,421.1 77.1,421.1 77.7,421.1 78.4,421.1 79.1,421.1 79.7,421.1 80.4,421.1 81.1,421.1 81.7,421.1 82.4,421.1 83.1,421.1 83.7,421.1 84.4,421.1 85.1,421.1 85.7,421.1 86.4,421.1 87.1,421.1 87.7,421.1 88.4,421.1 89.1,421.2 89.7,421.2 90.4,421.2 91.1,421.2 91.7,421.2 92.4,421.2 93.1,421.2 93.7,421.2 94.4,421.2 95.1,421.2 95.7,421.2 96.4,421.2 97.1,421.3 97.7,421.3 98.4,421.3 99.1,421.3 99.7,421.3 100.4,421.3 101.1,421.3 101.7,421.3 102.4,421.4 103.1,421.4 103.7,421.4 104.4,421.4 105.1,421.4 105.7,421.4 106.4,421.5 107.1,421.5 107.7,421.5 108.4,421.5 109.1,421.6 109.7,421.6 110.4,421.6 111.1,421.6 111.7,421.7 112.4,421.7 113.1,421.7 113.7,421.8 114.4,421.8 115.1,421.8 115.7,421.9 116.4,421.9 117.1,422.0 117.7,422.0 118.4,422.1 119.1,422.1 119.7,422.2 120.4,422.2 121.1,422.3 121.7,422.4 122.4,422.4 123.1,422.5 123.7,422.6 124.4,422.7 125.1,422.7 125.7,422.8 126.4,422.9 127.1,423.0 127.7,423.1 128.4,423.2 129.1,423.3 129.7,423.5 130.4,423.6 131.1,423.7 131.7,423.9 132.4,424.0 133.1,424.2 133.7,424.3 134.4,424.5 135.1,424.7 135.7,424.9 136.4,425.1 137.1,425.3 137.7,425.5 138.4,425.8 139.1,426.0 139.7,426.3 140.4,426.5 141.1,426.8 141.7,427.1 142.4,427.4 143.1,427.8 143.7,428.1 144.4,428.5 145.1,428.8 145.7,429.2 146.4,429.6 147.1,430.1 147.7,430.5 148.4,431.0 149.1,431.5 149.7,432.0 150.4,432.5 151.1,433.1 151.7,433.6 152.4,434.2 153.1,434.8 153.7,435.4 154.4,436.1 155.1,436.8 155.7,437.5 156.4,438.2 157.1,438.9 157.7,439.7 158.4,440.5 159.1,441.3 159.7,442.1 160.4,442.9 161.1,443.8 161.7,444.7 162.4,445.6 163.1,446.5 163.7,447.5 164.4,448.4 165.1,449.4 165.7,450.4 166.4,451.4 167.1,452.5 167.7,453.5 168.4,454.6 169.1,455.7 169.7,456.8 170.4,457.9 171.1,459.0 171.7,460.1 172.4,461.3 173.1,462.4 173.7,463.6 174.4,464.8 175.1,465.9 175.7,467.1 176.4,468.3 177.1,469.5 177.7,470.7 178.4,471.9 179.1,473.1 179.7,474.3 180.4,475.6 181.1,476.8 181.7,478.0 182.4,479.2 183.1,480.4 183.7,481.6 184.4,482.9 185.1,484.1 185.7,485.3 186.4,486.5 187.1,487.7 187.7,488.9 188.4,490.1 189.1,491.2 189.7,492.4 190.4,493.6 191.1,494.8 191.7,495.9 192.4,497.0 193.1,498.2 193.7,499.3 194.4,500.4 195.1,501.5 195.7,502.6 196.4,503.6 197.1,504.7 197.7,505.7 198.4,506.8 199.1,507.8 199.7,508.8 200.4,509.8 201.1,510.7 201.7,511.7 202.4,512.6 203.1,513.5 203.7,514.4 204.4,515.3 205.1,516.1 205.7,517.0 206.4,517.8 207.1,518.6 207.7,519.4 208.4,520.2 209.1,520.9 209.7,521.6 210.4,522.3 211.1,523.0 211.7,523.7 212.4,524.3 213.1,525.0 213.7,525.6 214.4,526.2 215.1,526.7 215.7,527.3 216.4,527.8 217.1,528.4 217.7,528.9 218.4,529.3 219.1,529.8 219.7,530.3 220.4,530.7 221.1,531.1 221.7,531.5 222.4,531.9 223.1,532.3 223.7,532.7 224.4,533.0 225.1,533.3 225.7,533.7 226.4,534.0 227.1,534.3 227.7,534.5 228.4,534.8 229.1,535.1 229.7,535.3 230.4,535.6 231.1,535.8 231.7,536.0 232.4,536.2 233.1,536.4 233.7,536.6 234.4,536.8 235.1,537.0 235.7,537.2 236.4,537.4 237.1,537.5 237.7,537.7 238.4,537.8 239.1,537.9 239.7,538.1 240.4,538.2 241.1,538.3 241.7,538.4 242.4,538.6 243.1,538.7 243.7,538.8 244.4,538.9 245.1,539.0 245.7,539.1 246.4,539.1 247.1,539.2 247.7,539.3 248.4,539.4 249.1,539.5 249.7,539.5 250.4,539.6 251.1,539.7 251.7,539.7 252.4,539.8 253.1,539.8 253.7,539.9 254.4,539.9 255.1,540.0 255.7,540.0 256.4,540.1 257.1,540.1 257.7,540.2 258.4,540.2 259.1,540.3 259.7,540.3 260.4,540.3 261.1,540.4 261.7,540.4 262.4,540.4 263.1,540.5 263.7,540.5 264.4,540.5 265.1,540.6 265.7,540.6 266.4,540.6 267.1,540.6 267.7,540.7 268.4,540.7 269.1,540.7 269.7,540.7 270.4,540.7 271.1,540.8 271.7,540.8 272.4,540.8 273.1,540.8 273.7,540.8 274.4,540.9 275.1,540.9 275.7,540.9 276.4,540.9 277.0,540.9 277.7,540.9 278.4,540.9 279.0,541.0 279.7,541.0 280.4,541.0 281.0,541.0 281.7,541.0 282.4,541.0 283.0,541.0 283.7,541.0 284.4,541.0 285.0,541.1 285.7,541.1 286.4,541.1 287.0,541.1 287.7,541.1 288.4,541.1 289.0,541.1 289.7,541.1 290.4,541.1 291.0,541.1 291.7,541.1 292.4,541.1 293.0,541.1 293.7,541.1 294.4,541.2 295.0,541.2 295.7,541.2 296.4,541.2 297.0,541.2 297.7,541.2 298.4,541.2" fill="none" stroke="#505050" stroke-width="0.9" />
<polyline points="32.4,518.0 33.1,518.0 33.8,517.9 34.4,517.9 35.1,517.9 35.8,517.9 36.4,517.9 37.1,517.9 37.8,517.9 38.4,517.9 39.1,517.8 39.8,517.8 40.4,517.8 41.1,517.8 41.8,517.8 42.4,517.8 43.1,517.7 43.8,517.7 44.4,517.7 45.1,517.7 45.8,517.7 46.4,517.6 47.1,517.6 47.8,517.6 48.4,517.6 49.1,517.6 49.8,517.5 50.4,517.5 51.1,517.5 51.8,517.5 52.4,517.4 53.1,517.4 53.8,517.4 54.4,517.3 55.1,517.3 55.7,517.3 56.4,517.2 57.1,517.2 57.7,517.2 58.4,517.1 59.1,517.1 59.7,517.1 60.4,517.0 61.1,517.0 61.7,516.9 62.4,516.9 63.1,516.8 63.7,516.8 64.4,516.7 65.1,516.7 65.7,516.6 66.4,516.6 67.1,516.5 67.7,516.5 68.4,516.4 69.1,516.4 69.7,516.3 70.4,516.2 71.1,516.2 71.7,516.1 72.4,516.0 73.1,516.0 73.7,515.9 74.4,515.8 75.1,515.7 75.7,515.6 76.4,515.5 77.1,515.5 77.7,515.4 78.4,515.3 79.1,515.2 79.7,515.1 80.4,515.0 81.1,514.9 81.7,514.8 82.4,514.6 83.1,514.5 83.7,514.4 84.4,514.3 85.1,514.1 85.7,514.0 86.4,513.9 87.1,513.7 87.7,513.6 88.4,513.4 89.1,513.3 89.7,513.1 90.4,512.9 91.1,512.8 91.7,512.6 92.4,512.4 93.1,512.2 93.7,512.0 94.4,511.8 95.1,511.6 95.7,511.4 96.4,511.2 97.1,511.0 97.7,510.7 98.4,510.5 99.1,510.2 99.7,510.0 100.4,509.7 101.1,509.4 101.7,509.1 102.4,508.9 103.1,508.5 103.7,508.2 104.4,507.9 105.1,507.6 105.7,507.2 106.4,506.9 107.1,506.5 107.7,506.2 108.4,505.8 109.1,505.4 109.7,505.0 110.4,504.6 111.1,504.1 111.7,503.7 112.4,503.2 113.1,502.7 113.7,502.2 114.4,501.7 115.1,501.2 115.7,500.7 116.4,500.1 117.1,499.6 117.7,499.0 118.4,498.4 119.1,497.8 119.7,497.1 120.4,496.5 121.1,495.8 121.7,495.1 122.4,494.4 123.1,493.7 123.7,492.9 124.4,492.2 125.1,491.4 125.7,490.6 126.4,489.7 127.1,488.9 127.7,488.0 128.4,487.1 129.1,486.2 129.7,485.2 130.4,484.2 131.1,483.2 131.7,482.2 132.4,481.2 133.1,480.1 133.7,479.0 134.4,477.9 135.1,476.7 135.7,475.6 136.4,474.4 137.1,473.2 137.7,471.9 138.4,470.6 139.1,469.4 139.7,468.0 140.4,466.7 141.1,465.3 141.7,463.9 142.4,462.5 143.1,461.1 143.7,459.7 144.4,458.2 145.1,456.7 145.7,455.2 146.4,453.7 147.1,452.1 147.7,450.6 148.4,449.0 149.1,447.5 149.7,445.9 150.4,444.3 151.1,442.7 151.7,441.1 152.4,439.5 153.1,437.9 153.7,436.2 154.4,434.6 155.1,433.0 155.7,431.4 156.4,429.9 157.1,428.3 157.7,426.7 158.4,425.2 159.1,423.6 159.7,422.1 160.4,420.6 161.1,419.1 161.7,417.7 162.4,416.3 163.1,414.9 163.7,413.5 164.4,412.2 165.1,410.9 165.7,409.6 166.4,408.4 167.1,407.2 167.7,406.1 168.4,405.0 169.1,403.9 169.7,402.9 170.4,401.9 171.1,400.9 171.7,400.1 172.4,399.2 173.1,398.4 173.7,397.7 174.4,397.0 175.1,396.3 175.7,395.7 176.4,395.2 177.1,394.7 177.7,394.2 178.4,393.8 179.1,393.5 179.7,393.2 180.4,393.0 181.1,392.8 181.7,392.6 182.4,392.5 183.1,392.5 183.7,392.5 184.4,392.6 185.1,392.7 185.7,392.9 186.4,393.1 187.1,393.4 187.7,393.7 188.4,394.1 189.1,394.5 189.7,394.9 190.4,395.5 191.1,396.0 191.7,396.6 192.4,397.3 193.1,398.0 193.7,398.7 194.4,399.5 195.1,400.3 195.7,401.2 196.4,402.1 197.1,403.0 197.7,404.0 198.4,405.0 199.1,406.1 199.7,407.2 200.4,408.3 201.1,409.4 201.7,410.6 202.4,411.8 203.1,413.1 203.7,414.3 204.4,415.6 205.1,416.9 205.7,418.3 206.4,419.6 207.1,421.0 207.7,422.4 208.4,423.8 209.1,425.2 209.7,426.6 210.4,428.1 211.1,429.5 211.7,431.0 212.4,432.5 213.1,433.9 213.7,435.4 214.4,436.9 215.1,438.4 215.7,439.9 216.4,441.3 217.1,442.8 217.7,444.3 218.4,445.7 219.1,447.2 219.7,448.6 220.4,450.0 221.1,451.5 221.7,452.9 222.4,454.3 223.1,455.7 223.7,457.0 224.4,458.4 225.1,459.7 225.7,461.0 226.4,462.3 227.1,463.6 227.7,464.9 228.4,466.1 229.1,467.4 229.7,468.6 230.4,469.8 231.1,470.9 231.7,472.1 232.4,473.2 233.1,474.3 233.7,475.4 234.4,476.5 235.1,477.5 235.7,478.6 236.4,479.6 237.1,480.6 237.7,481.5 238.4,482.5 239.1,483.4 239.7,484.3 240.4,485.2 241.1,486.1 241.7,486.9 242.4,487.7 243.1,488.6 243.7,489.3 244.4,490.1 245.1,490.9 245.7,491.6 246.4,492.3 247.1,493.0 247.7,493.7 248.4,494.4 249.1,495.0 249.7,495.7 250.4,496.3 251.1,496.9 251.7,497.5 252.4,498.0 253.1,498.6 253.7,499.1 254.4,499.7 255.1,500.2 255.7,500.7 256.4,501.2 257.1,501.7 257.7,502.1 258.4,502.6 259.1,503.0 259.7,503.4 260.4,503.9 261.1,504.3 261.7,504.7 262.4,505.0 263.1,505.4 263.7,505.8 264.4,506.1 265.1,506.5 265.7,506.8 266.4,507.1 267.1,507.5 267.7,507.8 268.4,508.1 269.1,508.3 269.7,508.6 270.4,508.9 271.1,509.2 271.7,509.4 272.4,509.7 273.1,509.9 273.7,510.2 274.4,510.4 275.1,510.6 275.7,510.8 276.4,511.1 277.0,511.3 277.7,511.5 278.4,511.7 279.0,511.9 279.7,512.0 280.4,512.2 281.0,512.4 281.7,512.6 282.4,512.7 283.0,512.9 283.7,513.0 284.4,513.2 285.0,513.3 285.7,513.5 286.4,513.6 287.0,513.8 287.7,513.9 288.4,514.0 289.0,514.1 289.7,514.3 290.4,514.4 291.0,514.5 291.7,514.6 292.4,514.7 293.0,514.8 293.7,514.9 294.4,515.0 295.0,515.1 295.7,515.2 296.4,515.3 297.0,515.4 297.7,515.5 298.4,515.5" fill="none" stroke="#505050" stroke-width="0.9" />
<path d="M32.6 419.0l4.0 4.0m0 -4.0l-4.0 4.0M38.0 419.0l4.0 4.0m0 -4.0l-4.0 4.0M43.5 419.0l4.0 4.0m0 -4.0l-4.0 4.0M49.0 419.0l4.0 4.0m0 -4.0l-4.0 4.0M54.4 419.0l4.0 4.0m0 -4.0l-4.0 4.0M59.8 419.0l4.0 4.0m0 -4.0l-4.0 4.0M65.3 419.0l4.0 4.0m0 -4.0l-4.0 4.0M70.8 419.1l4.0 4.0m0 -4.0l-4.0 4.0M76.2 419.1l4.0 4.0m0 -4.0l-4.0 4.0M81.7 419.1l4.0 4.0m0 -4.0l-4.0 4.0M87.1 419.2l4.0 4.0m0 -4.0l-4.0 4.0M92.5 419.2l4.0 4.0m0 -4.0l-4.0 4.0M98.0 419.3l4.0 4.0m0 -4.0l-4.0 4.0M103.4 419.4l4.0 4.0m0 -4.0l-4.0 4.0M108.9 419.6l4.0 4.0m0 -4.0l-4.0 4.0M114.3 419.9l4.0 4.0m0 -4.0l-4.0 4.0M119.8 420.4l4.0 4.0m0 -4.0l-4.0 4.0M125.2 421.0l4.0 4.0m0 -4.0l-4.0 4.0M130.7 422.1l4.0 4.0m0 -4.0l-4.0 4.0M136.1 423.7l4.0 4.0m0 -4.0l-4.0 4.0M141.6 426.0l4.0 4.0m0 -4.0l-4.0 4.0M147.0 429.5l4.0 4.0m0 -4.0l-4.0 4.0M152.5 434.2l4.0 4.0m0 -4.0l-4.0 4.0M157.9 440.4l4.0 4.0m0 -4.0l-4.0 4.0M163.4 447.9l4.0 4.0m0 -4.0l-4.0 4.0M168.8 456.6l4.0 4.0m0 -4.0l-4.0 4.0M174.3 466.1l4.0 4.0m0 -4.0l-4.0 4.0M179.7 476.0l4.0 4.0m0 -4.0l-4.0 4.0M185.2 485.9l4.0 4.0m0 -4.0l-4.0 4.0M190.6 495.5l4.0 4.0m0 -4.0l-4.0 4.0M196.1 504.3l4.0 4.0m0 -4.0l-4.0 4.0M201.5 512.2l4.0 4.0m0 -4.0l-4.0 4.0M207.0 518.8l4.0 4.0m0 -4.0l-4.0 4.0M212.4 524.2l4.0 4.0m0 -4.0l-4.0 4.0M217.9 528.4l4.0 4.0m0 -4.0l-4.0 4.0M223.3 531.5l4.0 4.0m0 -4.0l-4.0 4.0M228.8 533.7l4.0 4.0m0 -4.0l-4.0 4.0M234.2 535.3l4.0 4.0m0 -4.0l-4.0 4.0M239.7 536.4l4.0 4.0m0 -4.0l-4.0 4.0M245.1 537.2l4.0 4.0m0 -4.0l-4.0 4.0M250.6 537.8l4.0 4.0m0 -4.0l-4.0 4.0M256.0 538.2l4.0 4.0m0 -4.0l-4.0 4.0M261.5 538.5l4.0 4.0m0 -4.0l-4.0 4.0M266.9 538.7l4.0 4.0m0 -4.0l-4.0 4.0M272.4 538.9l4.0 4.0m0 -4.0l-4.0 4.0M277.8 539.0l4.0 4.0m0 -4.0l-4.0 4.0M283.3 539.1l4.0 4.0m0 -4.0l-4.0 4.0M288.8 539.1l4.0 4.0m0 -4.0l-4.0 4.0M294.2 539.2l4.0 4.0m0 -4.0l-4.0 4.0M32.6 515.9l4.0 4.0m0 -4.0l-4.0 4.0M38.0 515.8l4.0 4.0m0 -4.0l-4.0 4.0M43.5 515.7l4.0 4.0m0 -4.0l-4.0 4.0M49.0 515.5l4.0 4.0m0 -4.0l-4.0 4.0M54.4 515.2l4.0 4.0m0 -4.0l-4.0 4.0M59.8 514.9l4.0 4.0m0 -4.0l-4.0 4.0M65.3 514.5l4.0 4.0m0 -4.0l-4.0 4.0M70.8 514.0l4.0 4.0m0 -4.0l-4.0 4.0M76.2 513.3l4.0 4.0m0 -4.0l-4.0 4.0M81.7 512.4l4.0 4.0m0 -4.0l-4.0 4.0M87.1 511.3l4.0 4.0m0 -4.0l-4.0 4.0M92.5 509.8l4.0 4.0m0 -4.0l-4.0 4.0M98.0 507.9l4.0 4.0m0 -4.0l-4.0 4.0M103.4 505.4l4.0 4.0m0 -4.0l-4.0 4.0M108.9 502.2l4.0 4.0m0 -4.0l-4.0 4.0M114.3 498.2l4.0 4.0m0 -4.0l-4.0 4.0M119.8 493.1l4.0 4.0m0 -4.0l-4.0 4.0M125.2 486.6l4.0 4.0m0 -4.0l-4.0 4.0M130.7 478.7l4.0 4.0m0 -4.0l-4.0 4.0M136.1 469.1l4.0 4.0m0 -4.0l-4.0 4.0M141.6 458.0l4.0 4.0m0 -4.0l-4.0 4.0M147.0 445.5l4.0 4.0m0 -4.0l-4.0 4.0M152.5 432.4l4.0 4.0m0 -4.0l-4.0 4.0M157.9 419.6l4.0 4.0m0 -4.0l-4.0 4.0M163.4 408.3l4.0 4.0m0 -4.0l-4.0 4.0M168.8 399.2l4.0 4.0m0 -4.0l-4.0 4.0M174.3 393.3l4.0 4.0m0 -4.0l-4.0 4.0M179.7 390.6l4.0 4.0m0 -4.0l-4.0 4.0M185.2 391.4l4.0 4.0m0 -4.0l-4.0 4.0M190.6 395.5l4.0 4.0m0 -4.0l-4.0 4.0M196.1 402.6l4.0 4.0m0 -4.0l-4.0 4.0M201.5 412.0l4.0 4.0m0 -4.0l-4.0 4.0M207.0 423.1l4.0 4.0m0 -4.0l-4.0 4.0M212.4 435.0l4.0 4.0m0 -4.0l-4.0 4.0M217.9 447.0l4.0 4.0m0 -4.0l-4.0 4.0M223.3 458.3l4.0 4.0m0 -4.0l-4.0 4.0M228.8 468.5l4.0 4.0m0 -4.0l-4.0 4.0M234.2 476.9l4.0 4.0m0 -4.0l-4.0 4.0M239.7 483.9l4.0 4.0m0 -4.0l-4.0 4.0M245.1 489.6l4.0 4.0m0 -4.0l-4.0 4.0M250.6 494.2l4.0 4.0m0 -4.0l-4.0 4.0M256.0 497.9l4.0 4.0m0 -4.0l-4.0 4.0M261.5 500.7l4.0 4.0m0 -4.0l-4.0 4.0M266.9 502.8l4.0 4.0m0 -4.0l-4.0 4.0M272.4 504.4l4.0 4.0m0 -4.0l-4.0 4.0M277.8 505.6l4.0 4.0m0 -4.0l-4.0 4.0M283.3 506.4l4.0 4.0m0 -4.0l-4.0 4.0M288.8 506.9l4.0 4.0m0 -4.0l-4.0 4.0M294.2 507.3l4.0 4.0m0 -4.0l-4.0 4.0" stroke="#444" stroke-width="0.9" fill="none"/>
<polyline points="32.4,331.3 33.1,331.3 33.8,331.3 34.4,331.3 35.1,331.3 35.8,331.3 36.4,331.3 37.1,331.3 37.8,331.3 38.4,331.3 39.1,331.3 39.8,331.3 40.4,331.3 41.1,331.3 41.8,331.3 42.4,331.3 43.1,331.3 43.8,331.3 44.4,331.3 45.1,331.3 45.8,331.3 46.4,331.3 47.1,331.3 47.8,331.3 48.4,331.3 49.1,331.3 49.8,331.4 50.4,331.4 51.1,331.4 51.8,331.4 52.4,331.4 53.1,331.4 53.8,331.4 54.4,331.4 55.1,331.4 55.7,331.4 56.4,331.4 57.1,331.4 57.7,331.4 58.4,331.4 59.1,331.4 59.7,331.4 60.4,331.4 61.1,331.4 61.7,331.4 62.4,331.4 63.1,331.4 63.7,331.4 64.4,331.5 65.1,331.5 65.7,331.5 66.4,331.5 67.1,331.5 67.7,331.5 68.4,331.5 69.1,331.5 69.7,331.5 70.4,331.5 71.1,331.5 71.7,331.5 72.4,331.6 73.1,331.6 73.7,331.6 74.4,331.6 75.1,331.6 75.7,331.6 76.4,331.6 77.1,331.6 77.7,331.7 78.4,331.7 79.1,331.7 79.7,331.7 80.4,331.7 81.1,331.7 81.7,331.8 82.4,331.8 83.1,331.8 83.7,331.8 84.4,331.8 85.1,331.9 85.7,331.9 86.4,331.9 87.1,331.9 87.7,332.0 88.4,332.0 89.1,332.0 89.7,332.1 90.4,332.1 91.1,332.1 91.7,332.2 92.4,332.2 93.1,332.3 93.7,332.3 94.4,332.3 95.1,332.4 95.7,332.4 96.4,332.5 97.1,332.6 97.7,332.6 98.4,332.7 99.1,332.7 99.7,332.8 100.4,332.9 101.1,332.9 101.7,333.0 102.4,333.1 103.1,333.2 103.7,333.3 104.4,333.4 105.1,333.5 105.7,333.6 106.4,333.7 107.1,333.8 107.7,333.9 108.4,334.0 109.1,334.2 109.7,334.3 110.4,334.5 111.1,334.6 111.7,334.8 112.4,334.9 113.1,335.1 113.7,335.3 114.4,335.5 115.1,335.7 115.7,335.9 116.4,336.2 117.1,336.4 117.7,336.6 118.4,336.9 119.1,337.2 119.7,337.5 120.4,337.8 121.1,338.1 121.7,338.4 122.4,338.8 123.1,339.1 123.7,339.5 124.4,339.9 125.1,340.3 125.7,340.7 126.4,341.2 127.1,341.6 127.7,342.1 128.4,342.6 129.1,343.2 129.7,343.7 130.4,344.3 131.1,344.9 131.7,345.5 132.4,346.1 133.1,346.8 133.7,347.4 134.4,348.2 135.1,348.9 135.7,349.6 136.4,350.4 137.1,351.2 137.7,352.0 138.4,352.9 139.1,353.7 139.7,354.6 140.4,355.5 141.1,356.5 141.7,357.4 142.4,358.4 143.1,359.4 143.7,360.4 144.4,361.5 145.1,362.5 145.7,363.6 146.4,364.7 147.1,365.9 147.7,367.0 148.4,368.2 149.1,369.4 149.7,370.6 150.4,371.8 151.1,373.0 151.7,374.3 152.4,375.6 153.1,376.8 153.7,378.1 154.4,379.5 155.1,380.8 155.7,382.1 156.4,383.5 157.1,384.8 157.7,386.2 158.4,387.6 159.1,389.0 159.7,390.4 160.4,391.8 161.1,393.2 161.7,394.7 162.4,396.1 163.1,397.6 163.7,399.0 164.4,400.5 165.1,402.0 165.7,403.4 166.4,404.9 167.1,406.4 167.7,407.9 168.4,409.4 169.1,410.9 169.7,412.4 170.4,413.9 171.1,415.4 171.7,417.0 172.4,418.5 173.1,420.0 173.7,421.5 174.4,423.1 175.1,424.6 175.7,426.1 176.4,427.7 177.1,429.2 177.7,430.7 178.4,432.3 179.1,433.8 179.7,435.3 180.4,436.9 181.1,438.4 181.7,440.0 182.4,441.5 183.1,443.0 183.7,444.6 184.4,446.1 185.1,447.7 185.7,449.2 186.4,450.7 187.1,452.3 187.7,453.8 188.4,455.3 189.1,456.9 189.7,458.4 190.4,459.9 191.1,461.4 191.7,462.9 192.4,464.5 193.1,466.0 193.7,467.5 194.4,469.0 195.1,470.5 195.7,471.9 196.4,473.4 197.1,474.9 197.7,476.4 198.4,477.9 199.1,479.3 199.7,480.8 200.4,482.2 201.1,483.6 201.7,485.1 202.4,486.5 203.1,487.9 203.7,489.3 204.4,490.7 205.1,492.1 205.7,493.4 206.4,494.8 207.1,496.1 207.7,497.5 208.4,498.8 209.1,500.1 209.7,501.4 210.4,502.6 211.1,503.9 211.7,505.1 212.4,506.4 213.1,507.6 213.7,508.8 214.4,509.9 215.1,511.1 215.7,512.2 216.4,513.3 217.1,514.4 217.7,515.5 218.4,516.6 219.1,517.6 219.7,518.6 220.4,519.6 221.1,520.5 221.7,521.5 222.4,522.4 223.1,523.3 223.7,524.2 224.4,525.0 225.1,525.8 225.7,526.6 226.4,527.4 227.1,528.2 227.7,528.9 228.4,529.6 229.1,530.3 229.7,531.0 230.4,531.6 231.1,532.2 231.7,532.8 232.4,533.4 233.1,533.9 233.7,534.5 234.4,535.0 235.1,535.5 235.7,535.9 236.4,536.4 237.1,536.8 237.7,537.2 238.4,537.6 239.1,538.0 239.7,538.4 240.4,538.7 241.1,539.1 241.7,539.4 242.4,539.7 243.1,540.0 243.7,540.3 244.4,540.5 245.1,540.8 245.7,541.0 246.4,541.3 247.1,541.5 247.7,541.7 248.4,541.9 249.1,542.1 249.7,542.3 250.4,542.4 251.1,542.6 251.7,542.7 252.4,542.9 253.1,543.0 253.7,543.2 254.4,543.3 255.1,543.4 255.7,543.5 256.4,543.6 257.1,543.7 257.7,543.8 258.4,543.9 259.1,544.0 259.7,544.1 260.4,544.2 261.1,544.3 261.7,544.4 262.4,544.4 263.1,544.5 263.7,544.6 264.4,544.6 265.1,544.7 265.7,544.7 266.4,544.8 267.1,544.8 267.7,544.9 268.4,544.9 269.1,545.0 269.7,545.0 270.4,545.1 271.1,545.1 271.7,545.1 272.4,545.2 273.1,545.2 273.7,545.2 274.4,545.3 275.1,545.3 275.7,545.3 276.4,545.3 277.0,545.4 277.7,545.4 278.4,545.4 279.0,545.4 279.7,545.5 280.4,545.5 281.0,545.5 281.7,545.5 282.4,545.5 283.0,545.5 283.7,545.6 284.4,545.6 285.0,545.6 285.7,545.6 286.4,545.6 287.0,545.6 287.7,545.6 288.4,545.7 289.0,545.7 289.7,545.7 290.4,545.7 291.0,545.7 291.7,545.7 292.4,545.7 293.0,545.7 293.7,545.7 294.4,545.8 295.0,545.8 295.7,545.8 296.4,545.8 297.0,545.8 297.7,545.8 298.4,545.8" fill="none" stroke="#4a9a5a" stroke-width="0.9" />
<polyline points="32.4,517.4 33.1,517.4 33.8,517.3 34.4,517.3 35.1,517.3 35.8,517.2 36.4,517.2 37.1,517.2 37.8,517.1 38.4,517.1 39.1,517.1 39.8,517.0 40.4,517.0 41.1,516.9 41.8,516.9 42.4,516.8 43.1,516.8 43.8,516.7 44.4,516.7 45.1,516.6 45.8,516.6 46.4,516.5 47.1,516.5 47.8,516.4 48.4,516.3 49.1,516.3 49.8,516.2 50.4,516.1 51.1,516.1 51.8,516.0 52.4,515.9 53.1,515.8 53.8,515.7 54.4,515.7 55.1,515.6 55.7,515.5 56.4,515.4 57.1,515.3 57.7,515.2 58.4,515.1 59.1,515.0 59.7,514.9 60.4,514.7 61.1,514.6 61.7,514.5 62.4,514.4 63.1,514.2 63.7,514.1 64.4,514.0 65.1,513.8 65.7,513.7 66.4,513.5 67.1,513.4 67.7,513.2 68.4,513.0 69.1,512.9 69.7,512.7 70.4,512.5 71.1,512.3 71.7,512.1 72.4,511.9 73.1,511.7 73.7,511.5 74.4,511.2 75.1,511.0 75.7,510.8 76.4,510.5 77.1,510.3 77.7,510.0 78.4,509.7 79.1,509.4 79.7,509.1 80.4,508.8 81.1,508.5 81.7,508.2 82.4,507.9 83.1,507.5 83.7,507.2 84.4,506.8 85.1,506.4 85.7,506.0 86.4,505.6 87.1,505.2 87.7,504.8 88.4,504.3 89.1,503.9 89.7,503.4 90.4,502.9 91.1,502.4 91.7,501.9 92.4,501.4 93.1,500.8 93.7,500.3 94.4,499.7 95.1,499.1 95.7,498.4 96.4,497.8 97.1,497.1 97.7,496.5 98.4,495.8 99.1,495.0 99.7,494.3 100.4,493.5 101.1,492.7 101.7,491.9 102.4,491.1 103.1,490.2 103.7,489.3 104.4,488.4 105.1,487.5 105.7,486.5 106.4,485.5 107.1,484.5 107.7,483.4 108.4,482.4 109.1,481.3 109.7,480.1 110.4,479.0 111.1,477.8 111.7,476.5 112.4,475.3 113.1,474.0 113.7,472.7 114.4,471.3 115.1,469.9 115.7,468.5 116.4,467.1 117.1,465.6 117.7,464.1 118.4,462.6 119.1,461.0 119.7,459.4 120.4,457.8 121.1,456.1 121.7,454.5 122.4,452.7 123.1,451.0 123.7,449.2 124.4,447.5 125.1,445.7 125.7,443.8 126.4,442.0 127.1,440.1 127.7,438.2 128.4,436.3 129.1,434.4 129.7,432.4 130.4,430.5 131.1,428.5 131.7,426.6 132.4,424.6 133.1,422.6 133.7,420.7 134.4,418.7 135.1,416.7 135.7,414.8 136.4,412.8 137.1,410.8 137.7,408.9 138.4,407.0 139.1,405.1 139.7,403.2 140.4,401.3 141.1,399.4 141.7,397.6 142.4,395.8 143.1,394.0 143.7,392.2 144.4,390.5 145.1,388.8 145.7,387.1 146.4,385.4 147.1,383.8 147.7,382.2 148.4,380.7 149.1,379.2 149.7,377.7 150.4,376.2 151.1,374.8 151.7,373.4 152.4,372.1 153.1,370.8 153.7,369.5 154.4,368.3 155.1,367.1 155.7,365.9 156.4,364.8 157.1,363.7 157.7,362.6 158.4,361.6 159.1,360.6 159.7,359.7 160.4,358.7 161.1,357.9 161.7,357.0 162.4,356.2 163.1,355.4 163.7,354.7 164.4,354.0 165.1,353.3 165.7,352.6 166.4,352.0 167.1,351.4 167.7,350.9 168.4,350.4 169.1,349.9 169.7,349.4 170.4,349.0 171.1,348.6 171.7,348.2 172.4,347.9 173.1,347.5 173.7,347.3 174.4,347.0 175.1,346.8 175.7,346.6 176.4,346.4 177.1,346.2 177.7,346.1 178.4,346.0 179.1,345.9 179.7,345.9 180.4,345.9 181.1,345.9 181.7,345.9 182.4,345.9 183.1,346.0 183.7,346.1 184.4,346.3 185.1,346.4 185.7,346.6 186.4,346.8 187.1,347.0 187.7,347.3 188.4,347.6 189.1,347.9 189.7,348.2 190.4,348.6 191.1,349.0 191.7,349.4 192.4,349.8 193.1,350.3 193.7,350.8 194.4,351.3 195.1,351.8 195.7,352.4 196.4,352.9 197.1,353.6 197.7,354.2 198.4,354.9 199.1,355.6 199.7,356.3 200.4,357.0 201.1,357.8 201.7,358.6 202.4,359.4 203.1,360.2 203.7,361.1 204.4,362.0 205.1,362.9 205.7,363.9 206.4,364.9 207.1,365.9 207.7,366.9 208.4,368.0 209.1,369.1 209.7,370.2 210.4,371.3 211.1,372.5 211.7,373.7 212.4,374.9 213.1,376.1 213.7,377.4 214.4,378.7 215.1,380.0 215.7,381.3 216.4,382.7 217.1,384.0 217.7,385.4 218.4,386.9 219.1,388.3 219.7,389.8 220.4,391.2 221.1,392.7 221.7,394.3 222.4,395.8 223.1,397.3 223.7,398.9 224.4,400.5 225.1,402.1 225.7,403.7 226.4,405.3 227.1,406.9 227.7,408.6 228.4,410.2 229.1,411.9 229.7,413.5 230.4,415.2 231.1,416.8 231.7,418.5 232.4,420.2 233.1,421.8 233.7,423.5 234.4,425.2 235.1,426.8 235.7,428.5 236.4,430.1 237.1,431.8 237.7,433.4 238.4,435.0 239.1,436.7 239.7,438.3 240.4,439.9 241.1,441.4 241.7,443.0 242.4,444.6 243.1,446.1 243.7,447.6 244.4,449.1 245.1,450.6 245.7,452.1 246.4,453.5 247.1,455.0 247.7,456.4 248.4,457.8 249.1,459.2 249.7,460.5 250.4,461.9 251.1,463.2 251.7,464.5 252.4,465.7 253.1,467.0 253.7,468.2 254.4,469.4 255.1,470.6 255.7,471.8 256.4,472.9 257.1,474.0 257.7,475.1 258.4,476.2 259.1,477.3 259.7,478.3 260.4,479.3 261.1,480.3 261.7,481.3 262.4,482.2 263.1,483.1 263.7,484.0 264.4,484.9 265.1,485.8 265.7,486.6 266.4,487.5 267.1,488.3 267.7,489.1 268.4,489.8 269.1,490.6 269.7,491.3 270.4,492.0 271.1,492.7 271.7,493.4 272.4,494.1 273.1,494.7 273.7,495.4 274.4,496.0 275.1,496.6 275.7,497.2 276.4,497.7 277.0,498.3 277.7,498.8 278.4,499.4 279.0,499.9 279.7,500.4 280.4,500.9 281.0,501.3 281.7,501.8 282.4,502.3 283.0,502.7 283.7,503.1 284.4,503.6 285.0,504.0 285.7,504.4 286.4,504.7 287.0,505.1 287.7,505.5 288.4,505.8 289.0,506.2 289.7,506.5 290.4,506.8 291.0,507.2 291.7,507.5 292.4,507.8 293.0,508.1 293.7,508.4 294.4,508.6 295.0,508.9 295.7,509.2 296.4,509.4 297.0,509.7 297.7,509.9 298.4,510.1" fill="none" stroke="#4a9a5a" stroke-width="0.9" />
<path d="M32.4 331.3h4.5M34.6 329.1v4.5M37.8 331.3h4.5M40.0 329.1v4.5M43.2 331.3h4.5M45.5 329.1v4.5M48.7 331.4h4.5M51.0 329.1v4.5M54.1 331.4h4.5M56.4 329.1v4.5M59.6 331.4h4.5M61.8 329.2v4.5M65.0 331.5h4.5M67.3 329.2v4.5M70.5 331.6h4.5M72.8 329.3v4.5M75.9 331.7h4.5M78.2 329.4v4.5M81.4 331.8h4.5M83.7 329.6v4.5M86.8 332.0h4.5M89.1 329.8v4.5M92.3 332.4h4.5M94.5 330.1v4.5M97.8 332.8h4.5M100.0 330.6v4.5M103.2 333.5h4.5M105.4 331.3v4.5M108.6 334.6h4.5M110.9 332.3v4.5M114.1 336.1h4.5M116.3 333.9v4.5M119.5 338.4h4.5M121.8 336.2v4.5M125.0 341.8h4.5M127.2 339.5v4.5M130.4 346.4h4.5M132.7 344.2v4.5M135.9 352.5h4.5M138.1 350.3v4.5M141.3 360.2h4.5M143.6 358.0v4.5M146.8 369.3h4.5M149.0 367.1v4.5M152.2 379.6h4.5M154.5 377.4v4.5M157.7 390.9h4.5M159.9 388.6v4.5M163.1 402.7h4.5M165.4 400.4v4.5M168.6 414.9h4.5M170.8 412.7v4.5M174.0 427.4h4.5M176.3 425.2v4.5M179.5 440.0h4.5M181.7 437.8v4.5M184.9 452.6h4.5M187.2 450.3v4.5M190.4 465.0h4.5M192.6 462.8v4.5M195.8 477.2h4.5M198.1 475.0v4.5M201.3 488.9h4.5M203.5 486.7v4.5M206.7 500.0h4.5M209.0 497.7v4.5M212.2 510.0h4.5M214.4 507.8v4.5M217.6 518.9h4.5M219.9 516.6v4.5M223.1 526.2h4.5M225.3 524.0v4.5M228.5 532.0h4.5M230.8 529.7v4.5M234.0 536.3h4.5M236.2 534.1v4.5M239.4 539.4h4.5M241.7 537.1v4.5M244.9 541.5h4.5M247.1 539.3v4.5M250.3 542.9h4.5M252.6 540.7v4.5M255.8 543.9h4.5M258.0 541.6v4.5M261.2 544.5h4.5M263.5 542.3v4.5M266.7 545.0h4.5M268.9 542.7v4.5M272.1 545.3h4.5M274.4 543.0v4.5M277.6 545.5h4.5M279.8 543.2v4.5M283.0 545.6h4.5M285.3 543.4v4.5M288.5 545.7h4.5M290.8 543.5v4.5M293.9 545.8h4.5M296.2 543.5v4.5M32.4 517.3h4.5M34.6 515.1v4.5M37.8 517.0h4.5M40.0 514.7v4.5M43.2 516.6h4.5M45.5 514.3v4.5M48.7 516.1h4.5M51.0 513.8v4.5M54.1 515.4h4.5M56.4 513.1v4.5M59.6 514.5h4.5M61.8 512.2v4.5M65.0 513.3h4.5M67.3 511.1v4.5M70.5 511.8h4.5M72.8 509.5v4.5M75.9 509.8h4.5M78.2 507.6v4.5M81.4 507.2h4.5M83.7 505.0v4.5M86.8 503.9h4.5M89.1 501.6v4.5M92.3 499.6h4.5M94.5 497.3v4.5M97.8 494.0h4.5M100.0 491.7v4.5M103.2 486.9h4.5M105.4 484.7v4.5M108.6 478.1h4.5M110.9 475.8v4.5M114.1 467.2h4.5M116.3 465.0v4.5M119.5 454.3h4.5M121.8 452.1v4.5M125.0 439.6h4.5M127.2 437.3v4.5M130.4 423.7h4.5M132.7 421.5v4.5M135.9 407.7h4.5M138.1 405.5v4.5M141.3 392.6h4.5M143.6 390.3v4.5M146.8 379.2h4.5M149.0 377.0v4.5M152.2 368.1h4.5M154.5 365.8v4.5M157.7 359.4h4.5M159.9 357.1v4.5M163.1 353.0h4.5M165.4 350.7v4.5M168.6 348.7h4.5M170.8 346.5v4.5M174.0 346.4h4.5M176.3 344.1v4.5M179.5 345.9h4.5M181.7 343.6v4.5M184.9 347.1h4.5M187.2 344.8v4.5M190.4 350.0h4.5M192.6 347.7v4.5M195.8 354.6h4.5M198.1 352.3v4.5M201.3 360.9h4.5M203.5 358.6v4.5M206.7 369.0h4.5M209.0 366.7v4.5M212.2 378.8h4.5M214.4 376.5v4.5M217.6 390.1h4.5M219.9 387.9v4.5M223.1 402.8h4.5M225.3 400.5v4.5M228.5 416.2h4.5M230.8 413.9v4.5M234.0 429.8h4.5M236.2 427.5v4.5M239.4 443.0h4.5M241.7 440.7v4.5M244.9 455.2h4.5M247.1 452.9v4.5M250.3 466.1h4.5M252.6 463.9v4.5M255.8 475.7h4.5M258.0 473.4v4.5M261.2 483.7h4.5M263.5 481.5v4.5M266.7 490.5h4.5M268.9 488.2v4.5M272.1 496.0h4.5M274.4 493.7v4.5M277.6 500.5h4.5M279.8 498.2v4.5M283.0 504.1h4.5M285.3 501.9v4.5M288.5 507.0h4.5M290.8 504.8v4.5M293.9 509.3h4.5M296.2 507.1v4.5" stroke="#2a7a3a" stroke-width="0.9" fill="none"/>
<polyline points="32.4,312.0 33.1,312.0 33.8,312.0 34.4,312.0 35.1,312.0 35.8,312.0 36.4,312.0 37.1,312.0 37.8,312.0 38.4,312.0 39.1,312.0 39.8,312.0 40.4,312.1 41.1,312.1 41.8,312.1 42.4,312.1 43.1,312.1 43.8,312.1 44.4,312.1 45.1,312.1 45.8,312.1 46.4,312.1 47.1,312.1 47.8,312.1 48.4,312.1 49.1,312.1 49.8,312.1 50.4,312.1 51.1,312.1 51.8,312.1 52.4,312.1 53.1,312.1 53.8,312.1 54.4,312.1 55.1,312.1 55.7,312.2 56.4,312.2 57.1,312.2 57.7,312.2 58.4,312.2 59.1,312.2 59.7,312.2 60.4,312.2 61.1,312.2 61.7,312.2 62.4,312.2 63.1,312.2 63.7,312.2 64.4,312.3 65.1,312.3 65.7,312.3 66.4,312.3 67.1,312.3 67.7,312.3 68.4,312.3 69.1,312.3 69.7,312.3 70.4,312.4 71.1,312.4 71.7,312.4 72.4,312.4 73.1,312.4 73.7,312.4 74.4,312.5 75.1,312.5 75.7,312.5 76.4,312.5 77.1,312.5 77.7,312.5 78.4,312.6 79.1,312.6 79.7,312.6 80.4,312.6 81.1,312.7 81.7,312.7 82.4,312.7 83.1,312.7 83.7,312.8 84.4,312.8 85.1,312.8 85.7,312.9 86.4,312.9 87.1,312.9 87.7,313.0 88.4,313.0 89.1,313.1 89.7,313.1 90.4,313.2 91.1,313.2 91.7,313.3 92.4,313.3 93.1,313.4 93.7,313.4 94.4,313.5 95.1,313.5 95.7,313.6 96.4,313.7 97.1,313.7 97.7,313.8 98.4,313.9 99.1,314.0 99.7,314.1 100.4,314.1 101.1,314.2 101.7,314.3 102.4,314.4 103.1,314.5 103.7,314.6 104.4,314.8 105.1,314.9 105.7,315.0 106.4,315.1 107.1,315.3 107.7,315.4 108.4,315.6 109.1,315.7 109.7,315.9 110.4,316.1 111.1,316.2 111.7,316.4 112.4,316.6 113.1,316.8 113.7,317.0 114.4,317.3 115.1,317.5 115.7,317.7 116.4,318.0 117.1,318.3 117.7,318.5 118.4,318.8 119.1,319.1 119.7,319.5 120.4,319.8 121.1,320.1 121.7,320.5 122.4,320.9 123.1,321.3 123.7,321.7 124.4,322.1 125.1,322.5 125.7,323.0 126.4,323.5 127.1,323.9 127.7,324.5 128.4,325.0 129.1,325.5 129.7,326.1 130.4,326.7 131.1,327.3 131.7,327.9 132.4,328.6 133.1,329.2 133.7,329.9 134.4,330.6 135.1,331.4 135.7,332.1 136.4,332.9 137.1,333.7 137.7,334.5 138.4,335.3 139.1,336.2 139.7,337.1 140.4,338.0 141.1,338.9 141.7,339.8 142.4,340.8 143.1,341.8 143.7,342.8 144.4,343.8 145.1,344.9 145.7,345.9 146.4,347.0 147.1,348.1 147.7,349.2 148.4,350.3 149.1,351.5 149.7,352.7 150.4,353.8 151.1,355.0 151.7,356.2 152.4,357.5 153.1,358.7 153.7,360.0 154.4,361.2 155.1,362.5 155.7,363.8 156.4,365.1 157.1,366.4 157.7,367.7 158.4,369.1 159.1,370.4 159.7,371.8 160.4,373.1 161.1,374.5 161.7,375.9 162.4,377.3 163.1,378.7 163.7,380.1 164.4,381.5 165.1,382.9 165.7,384.3 166.4,385.7 167.1,387.2 167.7,388.6 168.4,390.0 169.1,391.5 169.7,393.0 170.4,394.4 171.1,395.9 171.7,397.3 172.4,398.8 173.1,400.3 173.7,401.8 174.4,403.2 175.1,404.7 175.7,406.2 176.4,407.7 177.1,409.2 177.7,410.7 178.4,412.2 179.1,413.7 179.7,415.2 180.4,416.7 181.1,418.2 181.7,419.7 182.4,421.2 183.1,422.7 183.7,424.2 184.4,425.7 185.1,427.2 185.7,428.7 186.4,430.2 187.1,431.7 187.7,433.2 188.4,434.7 189.1,436.2 189.7,437.7 190.4,439.2 191.1,440.7 191.7,442.2 192.4,443.7 193.1,445.2 193.7,446.7 194.4,448.2 195.1,449.7 195.7,451.2 196.4,452.7 197.1,454.2 197.7,455.6 198.4,457.1 199.1,458.6 199.7,460.1 200.4,461.5 201.1,463.0 201.7,464.5 202.4,465.9 203.1,467.4 203.7,468.9 204.4,470.3 205.1,471.7 205.7,473.2 206.4,474.6 207.1,476.0 207.7,477.5 208.4,478.9 209.1,480.3 209.7,481.7 210.4,483.1 211.1,484.5 211.7,485.8 212.4,487.2 213.1,488.6 213.7,489.9 214.4,491.2 215.1,492.6 215.7,493.9 216.4,495.2 217.1,496.5 217.7,497.8 218.4,499.1 219.1,500.3 219.7,501.6 220.4,502.8 221.1,504.0 221.7,505.2 222.4,506.4 223.1,507.6 223.7,508.7 224.4,509.9 225.1,511.0 225.7,512.1 226.4,513.2 227.1,514.3 227.7,515.3 228.4,516.4 229.1,517.4 229.7,518.4 230.4,519.3 231.1,520.3 231.7,521.2 232.4,522.1 233.1,523.0 233.7,523.9 234.4,524.8 235.1,525.6 235.7,526.4 236.4,527.2 237.1,528.0 237.7,528.7 238.4,529.4 239.1,530.1 239.7,530.8 240.4,531.5 241.1,532.1 241.7,532.7 242.4,533.3 243.1,533.9 243.7,534.5 244.4,535.0 245.1,535.5 245.7,536.0 246.4,536.5 247.1,537.0 247.7,537.4 248.4,537.8 249.1,538.3 249.7,538.7 250.4,539.0 251.1,539.4 251.7,539.8 252.4,540.1 253.1,540.4 253.7,540.7 254.4,541.0 255.1,541.3 255.7,541.6 256.4,541.9 257.1,542.1 257.7,542.4 258.4,542.6 259.1,542.8 259.7,543.0 260.4,543.2 261.1,543.4 261.7,543.6 262.4,543.8 263.1,543.9 263.7,544.1 264.4,544.3 265.1,544.4 265.7,544.5 266.4,544.7 267.1,544.8 267.7,544.9 268.4,545.1 269.1,545.2 269.7,545.3 270.4,545.4 271.1,545.5 271.7,545.6 272.4,545.7 273.1,545.7 273.7,545.8 274.4,545.9 275.1,546.0 275.7,546.1 276.4,546.1 277.0,546.2 277.7,546.2 278.4,546.3 279.0,546.4 279.7,546.4 280.4,546.5 281.0,546.5 281.7,546.6 282.4,546.6 283.0,546.7 283.7,546.7 284.4,546.8 285.0,546.8 285.7,546.8 286.4,546.9 287.0,546.9 287.7,546.9 288.4,547.0 289.0,547.0 289.7,547.0 290.4,547.1 291.0,547.1 291.7,547.1 292.4,547.1 293.0,547.2 293.7,547.2 294.4,547.2 295.0,547.2 295.7,547.2 296.4,547.3 297.0,547.3 297.7,547.3 298.4,547.3" fill="none" stroke="#c86868" stroke-width="0.9" />
<polyline points="32.4,517.3 33.1,517.3 33.8,517.3 34.4,517.2 35.1,517.2 35.8,517.2 36.4,517.1 37.1,517.1 37.8,517.1 38.4,517.0 39.1,517.0 39.8,516.9 40.4,516.9 41.1,516.8 41.8,516.8 42.4,516.7 43.1,516.7 43.8,516.6 44.4,516.6 45.1,516.5 45.8,516.5 46.4,516.4 47.1,516.3 47.8,516.3 48.4,516.2 49.1,516.1 49.8,516.1 50.4,516.0 51.1,515.9 51.8,515.9 52.4,515.8 53.1,515.7 53.8,515.6 54.4,515.5 55.1,515.4 55.7,515.3 56.4,515.2 57.1,515.1 57.7,515.0 58.4,514.9 59.1,514.8 59.7,514.7 60.4,514.6 61.1,514.4 61.7,514.3 62.4,514.2 63.1,514.0 63.7,513.9 64.4,513.8 65.1,513.6 65.7,513.5 66.4,513.3 67.1,513.1 67.7,513.0 68.4,512.8 69.1,512.6 69.7,512.4 70.4,512.2 71.1,512.0 71.7,511.8 72.4,511.6 73.1,511.4 73.7,511.2 74.4,510.9 75.1,510.7 75.7,510.4 76.4,510.2 77.1,509.9 77.7,509.6 78.4,509.4 79.1,509.1 79.7,508.8 80.4,508.4 81.1,508.1 81.7,507.8 82.4,507.4 83.1,507.1 83.7,506.7 84.4,506.3 85.1,506.0 85.7,505.6 86.4,505.1 87.1,504.7 87.7,504.3 88.4,503.8 89.1,503.3 89.7,502.9 90.4,502.4 91.1,501.8 91.7,501.3 92.4,500.8 93.1,500.2 93.7,499.6 94.4,499.0 95.1,498.4 95.7,497.8 96.4,497.1 97.1,496.4 97.7,495.7 98.4,495.0 99.1,494.3 99.7,493.5 100.4,492.7 101.1,491.9 101.7,491.1 102.4,490.2 103.1,489.4 103.7,488.5 104.4,487.5 105.1,486.6 105.7,485.6 106.4,484.6 107.1,483.5 107.7,482.5 108.4,481.4 109.1,480.2 109.7,479.1 110.4,477.9 111.1,476.7 111.7,475.5 112.4,474.2 113.1,472.9 113.7,471.5 114.4,470.2 115.1,468.8 115.7,467.3 116.4,465.9 117.1,464.4 117.7,462.9 118.4,461.3 119.1,459.7 119.7,458.1 120.4,456.5 121.1,454.8 121.7,453.1 122.4,451.4 123.1,449.6 123.7,447.9 124.4,446.0 125.1,444.2 125.7,442.4 126.4,440.5 127.1,438.6 127.7,436.7 128.4,434.8 129.1,432.8 129.7,430.9 130.4,428.9 131.1,426.9 131.7,425.0 132.4,423.0 133.1,421.0 133.7,419.0 134.4,417.0 135.1,415.0 135.7,413.0 136.4,411.0 137.1,409.0 137.7,407.1 138.4,405.1 139.1,403.2 139.7,401.2 140.4,399.3 141.1,397.4 141.7,395.6 142.4,393.7 143.1,391.9 143.7,390.1 144.4,388.3 145.1,386.6 145.7,384.8 146.4,383.1 147.1,381.5 147.7,379.8 148.4,378.2 149.1,376.7 149.7,375.1 150.4,373.6 151.1,372.1 151.7,370.7 152.4,369.3 153.1,367.9 153.7,366.6 154.4,365.3 155.1,364.0 155.7,362.8 156.4,361.6 157.1,360.5 157.7,359.3 158.4,358.3 159.1,357.2 159.7,356.2 160.4,355.2 161.1,354.2 161.7,353.3 162.4,352.4 163.1,351.6 163.7,350.8 164.4,350.0 165.1,349.2 165.7,348.5 166.4,347.8 167.1,347.1 167.7,346.5 168.4,345.9 169.1,345.3 169.7,344.7 170.4,344.2 171.1,343.7 171.7,343.2 172.4,342.8 173.1,342.4 173.7,342.0 174.4,341.6 175.1,341.3 175.7,341.0 176.4,340.7 177.1,340.5 177.7,340.2 178.4,340.0 179.1,339.8 179.7,339.7 180.4,339.5 181.1,339.4 181.7,339.3 182.4,339.3 183.1,339.2 183.7,339.2 184.4,339.2 185.1,339.2 185.7,339.3 186.4,339.4 187.1,339.5 187.7,339.6 188.4,339.7 189.1,339.9 189.7,340.1 190.4,340.3 191.1,340.5 191.7,340.8 192.4,341.1 193.1,341.4 193.7,341.7 194.4,342.0 195.1,342.4 195.7,342.8 196.4,343.2 197.1,343.7 197.7,344.1 198.4,344.6 199.1,345.1 199.7,345.7 200.4,346.2 201.1,346.8 201.7,347.4 202.4,348.1 203.1,348.7 203.7,349.4 204.4,350.1 205.1,350.9 205.7,351.6 206.4,352.4 207.1,353.2 207.7,354.1 208.4,354.9 209.1,355.8 209.7,356.8 210.4,357.7 211.1,358.7 211.7,359.7 212.4,360.7 213.1,361.7 213.7,362.8 214.4,363.9 215.1,365.1 215.7,366.2 216.4,367.4 217.1,368.6 217.7,369.8 218.4,371.1 219.1,372.4 219.7,373.7 220.4,375.0 221.1,376.4 221.7,377.8 222.4,379.2 223.1,380.6 223.7,382.1 224.4,383.5 225.1,385.0 225.7,386.6 226.4,388.1 227.1,389.7 227.7,391.2 228.4,392.8 229.1,394.4 229.7,396.1 230.4,397.7 231.1,399.4 231.7,401.0 232.4,402.7 233.1,404.4 233.7,406.1 234.4,407.8 235.1,409.5 235.7,411.2 236.4,413.0 237.1,414.7 237.7,416.4 238.4,418.2 239.1,419.9 239.7,421.6 240.4,423.4 241.1,425.1 241.7,426.8 242.4,428.5 243.1,430.2 243.7,431.9 244.4,433.6 245.1,435.3 245.7,437.0 246.4,438.6 247.1,440.3 247.7,441.9 248.4,443.5 249.1,445.1 249.7,446.7 250.4,448.2 251.1,449.8 251.7,451.3 252.4,452.8 253.1,454.3 253.7,455.7 254.4,457.2 255.1,458.6 255.7,460.0 256.4,461.4 257.1,462.7 257.7,464.1 258.4,465.4 259.1,466.6 259.7,467.9 260.4,469.1 261.1,470.4 261.7,471.6 262.4,472.7 263.1,473.9 263.7,475.0 264.4,476.1 265.1,477.2 265.7,478.2 266.4,479.3 267.1,480.3 267.7,481.2 268.4,482.2 269.1,483.2 269.7,484.1 270.4,485.0 271.1,485.9 271.7,486.7 272.4,487.6 273.1,488.4 273.7,489.2 274.4,490.0 275.1,490.7 275.7,491.5 276.4,492.2 277.0,492.9 277.7,493.6 278.4,494.3 279.0,494.9 279.7,495.6 280.4,496.2 281.0,496.8 281.7,497.4 282.4,498.0 283.0,498.5 283.7,499.1 284.4,499.6 285.0,500.1 285.7,500.6 286.4,501.1 287.0,501.6 287.7,502.1 288.4,502.5 289.0,502.9 289.7,503.4 290.4,503.8 291.0,504.2 291.7,504.6 292.4,505.0 293.0,505.4 293.7,505.7 294.4,506.1 295.0,506.4 295.7,506.7 296.4,507.1 297.0,507.4 297.7,507.7 298.4,508.0" fill="none" stroke="#c86868" stroke-width="0.9" />
<path d="M32.5 312.0h4.3M34.6 309.9v4.3M33.0 310.4l3.2 3.2m0 -3.2l-3.2 3.2M37.9 312.1h4.3M40.0 309.9v4.3M38.4 310.4l3.2 3.2m0 -3.2l-3.2 3.2M43.4 312.1h4.3M45.5 309.9v4.3M43.9 310.5l3.2 3.2m0 -3.2l-3.2 3.2M48.8 312.1h4.3M51.0 310.0v4.3M49.3 310.5l3.2 3.2m0 -3.2l-3.2 3.2M54.2 312.2h4.3M56.4 310.0v4.3M54.8 310.5l3.2 3.2m0 -3.2l-3.2 3.2M59.7 312.2h4.3M61.8 310.1v4.3M60.2 310.6l3.2 3.2m0 -3.2l-3.2 3.2M65.1 312.3h4.3M67.3 310.2v4.3M65.7 310.7l3.2 3.2m0 -3.2l-3.2 3.2M70.6 312.4h4.3M72.8 310.3v4.3M71.1 310.8l3.2 3.2m0 -3.2l-3.2 3.2M76.0 312.6h4.3M78.2 310.4v4.3M76.6 311.0l3.2 3.2m0 -3.2l-3.2 3.2M81.5 312.8h4.3M83.7 310.6v4.3M82.0 311.2l3.2 3.2m0 -3.2l-3.2 3.2M86.9 313.1h4.3M89.1 310.9v4.3M87.5 311.5l3.2 3.2m0 -3.2l-3.2 3.2M92.4 313.5h4.3M94.5 311.3v4.3M92.9 311.9l3.2 3.2m0 -3.2l-3.2 3.2M97.8 314.1h4.3M100.0 311.9v4.3M98.4 312.5l3.2 3.2m0 -3.2l-3.2 3.2M103.3 314.9h4.3M105.4 312.8v4.3M103.8 313.3l3.2 3.2m0 -3.2l-3.2 3.2M108.7 316.2h4.3M110.9 314.0v4.3M109.3 314.6l3.2 3.2m0 -3.2l-3.2 3.2M114.2 318.0h4.3M116.3 315.8v4.3M114.7 316.4l3.2 3.2m0 -3.2l-3.2 3.2M119.6 320.5h4.3M121.8 318.4v4.3M120.2 318.9l3.2 3.2m0 -3.2l-3.2 3.2M125.1 324.1h4.3M127.2 321.9v4.3M125.6 322.5l3.2 3.2m0 -3.2l-3.2 3.2M130.5 328.9h4.3M132.7 326.7v4.3M131.1 327.2l3.2 3.2m0 -3.2l-3.2 3.2M136.0 335.0h4.3M138.1 332.9v4.3M136.5 333.4l3.2 3.2m0 -3.2l-3.2 3.2M141.4 342.6h4.3M143.6 340.4v4.3M142.0 341.0l3.2 3.2m0 -3.2l-3.2 3.2M146.9 351.5h4.3M149.0 349.3v4.3M147.4 349.8l3.2 3.2m0 -3.2l-3.2 3.2M152.3 361.4h4.3M154.5 359.3v4.3M152.9 359.8l3.2 3.2m0 -3.2l-3.2 3.2M157.8 372.2h4.3M159.9 370.0v4.3M158.3 370.6l3.2 3.2m0 -3.2l-3.2 3.2M163.2 383.6h4.3M165.4 381.4v4.3M163.8 382.0l3.2 3.2m0 -3.2l-3.2 3.2M168.7 395.4h4.3M170.8 393.2v4.3M169.2 393.8l3.2 3.2m0 -3.2l-3.2 3.2M174.1 407.5h4.3M176.3 405.3v4.3M174.7 405.9l3.2 3.2m0 -3.2l-3.2 3.2M179.6 419.7h4.3M181.7 417.6v4.3M180.1 418.1l3.2 3.2m0 -3.2l-3.2 3.2M185.0 432.0h4.3M187.2 429.8v4.3M185.6 430.4l3.2 3.2m0 -3.2l-3.2 3.2M190.5 444.3h4.3M192.6 442.1v4.3M191.0 442.7l3.2 3.2m0 -3.2l-3.2 3.2M195.9 456.5h4.3M198.1 454.3v4.3M196.5 454.9l3.2 3.2m0 -3.2l-3.2 3.2M201.4 468.5h4.3M203.5 466.3v4.3M201.9 466.9l3.2 3.2m0 -3.2l-3.2 3.2M206.8 480.1h4.3M209.0 478.0v4.3M207.4 478.5l3.2 3.2m0 -3.2l-3.2 3.2M212.3 491.4h4.3M214.4 489.2v4.3M212.8 489.7l3.2 3.2m0 -3.2l-3.2 3.2M217.7 501.9h4.3M219.9 499.7v4.3M218.3 500.3l3.2 3.2m0 -3.2l-3.2 3.2M223.2 511.5h4.3M225.3 509.3v4.3M223.7 509.9l3.2 3.2m0 -3.2l-3.2 3.2M228.6 519.9h4.3M230.8 517.8v4.3M229.2 518.3l3.2 3.2m0 -3.2l-3.2 3.2M234.1 527.0h4.3M236.2 524.9v4.3M234.6 525.4l3.2 3.2m0 -3.2l-3.2 3.2M239.5 532.7h4.3M241.7 530.6v4.3M240.1 531.1l3.2 3.2m0 -3.2l-3.2 3.2M245.0 537.0h4.3M247.1 534.9v4.3M245.5 535.4l3.2 3.2m0 -3.2l-3.2 3.2M250.4 540.2h4.3M252.6 538.1v4.3M251.0 538.6l3.2 3.2m0 -3.2l-3.2 3.2M255.9 542.5h4.3M258.0 540.3v4.3M256.4 540.9l3.2 3.2m0 -3.2l-3.2 3.2M261.4 544.1h4.3M263.5 541.9v4.3M261.9 542.4l3.2 3.2m0 -3.2l-3.2 3.2M266.8 545.1h4.3M268.9 543.0v4.3M267.3 543.5l3.2 3.2m0 -3.2l-3.2 3.2M272.2 545.9h4.3M274.4 543.8v4.3M272.8 544.3l3.2 3.2m0 -3.2l-3.2 3.2M277.7 546.4h4.3M279.8 544.3v4.3M278.2 544.8l3.2 3.2m0 -3.2l-3.2 3.2M283.1 546.8h4.3M285.3 544.7v4.3M283.7 545.2l3.2 3.2m0 -3.2l-3.2 3.2M288.6 547.1h4.3M290.8 544.9v4.3M289.1 545.5l3.2 3.2m0 -3.2l-3.2 3.2M294.1 547.3h4.3M296.2 545.1v4.3M294.6 545.6l3.2 3.2m0 -3.2l-3.2 3.2M32.5 517.2h4.3M34.6 515.1v4.3M33.0 515.6l3.2 3.2m0 -3.2l-3.2 3.2M37.9 516.9h4.3M40.0 514.8v4.3M38.4 515.3l3.2 3.2m0 -3.2l-3.2 3.2M43.4 516.5h4.3M45.5 514.3v4.3M43.9 514.9l3.2 3.2m0 -3.2l-3.2 3.2M48.8 515.9h4.3M51.0 513.8v4.3M49.3 514.3l3.2 3.2m0 -3.2l-3.2 3.2M54.2 515.2h4.3M56.4 513.1v4.3M54.8 513.6l3.2 3.2m0 -3.2l-3.2 3.2M59.7 514.3h4.3M61.8 512.1v4.3M60.2 512.7l3.2 3.2m0 -3.2l-3.2 3.2M65.1 513.1h4.3M67.3 510.9v4.3M65.7 511.5l3.2 3.2m0 -3.2l-3.2 3.2M70.6 511.5h4.3M72.8 509.3v4.3M71.1 509.9l3.2 3.2m0 -3.2l-3.2 3.2M76.0 509.4h4.3M78.2 507.3v4.3M76.6 507.8l3.2 3.2m0 -3.2l-3.2 3.2M81.5 506.8h4.3M83.7 504.6v4.3M82.0 505.2l3.2 3.2m0 -3.2l-3.2 3.2M86.9 503.3h4.3M89.1 501.2v4.3M87.5 501.7l3.2 3.2m0 -3.2l-3.2 3.2M92.4 498.9h4.3M94.5 496.7v4.3M92.9 497.3l3.2 3.2m0 -3.2l-3.2 3.2M97.8 493.2h4.3M100.0 491.1v4.3M98.4 491.6l3.2 3.2m0 -3.2l-3.2 3.2M103.3 486.0h4.3M105.4 483.9v4.3M103.8 484.4l3.2 3.2m0 -3.2l-3.2 3.2M108.7 477.0h4.3M110.9 474.9v4.3M109.3 475.4l3.2 3.2m0 -3.2l-3.2 3.2M114.2 466.0h4.3M116.3 463.9v4.3M114.7 464.4l3.2 3.2m0 -3.2l-3.2 3.2M119.6 453.0h4.3M121.8 450.8v4.3M120.2 451.3l3.2 3.2m0 -3.2l-3.2 3.2M125.1 438.1h4.3M127.2 436.0v4.3M125.6 436.5l3.2 3.2m0 -3.2l-3.2 3.2M130.5 422.1h4.3M132.7 419.9v4.3M131.1 420.5l3.2 3.2m0 -3.2l-3.2 3.2M136.0 405.9h4.3M138.1 403.7v4.3M136.5 404.2l3.2 3.2m0 -3.2l-3.2 3.2M141.4 390.4h4.3M143.6 388.3v4.3M142.0 388.8l3.2 3.2m0 -3.2l-3.2 3.2M146.9 376.7h4.3M149.0 374.6v4.3M147.4 375.1l3.2 3.2m0 -3.2l-3.2 3.2M152.3 365.1h4.3M154.5 363.0v4.3M152.9 363.5l3.2 3.2m0 -3.2l-3.2 3.2M157.8 355.9h4.3M159.9 353.7v4.3M158.3 354.2l3.2 3.2m0 -3.2l-3.2 3.2M163.2 348.8h4.3M165.4 346.7v4.3M163.8 347.2l3.2 3.2m0 -3.2l-3.2 3.2M168.7 343.9h4.3M170.8 341.7v4.3M169.2 342.3l3.2 3.2m0 -3.2l-3.2 3.2M174.1 340.8h4.3M176.3 338.6v4.3M174.7 339.1l3.2 3.2m0 -3.2l-3.2 3.2M179.6 339.3h4.3M181.7 337.2v4.3M180.1 337.7l3.2 3.2m0 -3.2l-3.2 3.2M185.0 339.5h4.3M187.2 337.3v4.3M185.6 337.9l3.2 3.2m0 -3.2l-3.2 3.2M190.5 341.2h4.3M192.6 339.0v4.3M191.0 339.6l3.2 3.2m0 -3.2l-3.2 3.2M195.9 344.4h4.3M198.1 342.3v4.3M196.5 342.8l3.2 3.2m0 -3.2l-3.2 3.2M201.4 349.2h4.3M203.5 347.1v4.3M201.9 347.6l3.2 3.2m0 -3.2l-3.2 3.2M206.8 355.8h4.3M209.0 353.6v4.3M207.4 354.1l3.2 3.2m0 -3.2l-3.2 3.2M212.3 364.0h4.3M214.4 361.9v4.3M212.8 362.4l3.2 3.2m0 -3.2l-3.2 3.2M217.7 374.0h4.3M219.9 371.9v4.3M218.3 372.4l3.2 3.2m0 -3.2l-3.2 3.2M223.2 385.7h4.3M225.3 383.6v4.3M223.7 384.1l3.2 3.2m0 -3.2l-3.2 3.2M228.6 398.7h4.3M230.8 396.6v4.3M229.2 397.1l3.2 3.2m0 -3.2l-3.2 3.2M234.1 412.6h4.3M236.2 410.5v4.3M234.6 411.0l3.2 3.2m0 -3.2l-3.2 3.2M239.5 426.8h4.3M241.7 424.6v4.3M240.1 425.1l3.2 3.2m0 -3.2l-3.2 3.2M245.0 440.5h4.3M247.1 438.3v4.3M245.5 438.9l3.2 3.2m0 -3.2l-3.2 3.2M250.4 453.3h4.3M252.6 451.1v4.3M251.0 451.7l3.2 3.2m0 -3.2l-3.2 3.2M255.9 464.7h4.3M258.0 462.6v4.3M256.4 463.1l3.2 3.2m0 -3.2l-3.2 3.2M261.4 474.6h4.3M263.5 472.5v4.3M261.9 473.0l3.2 3.2m0 -3.2l-3.2 3.2M266.8 483.0h4.3M268.9 480.9v4.3M267.3 481.4l3.2 3.2m0 -3.2l-3.2 3.2M272.2 490.0h4.3M274.4 487.8v4.3M272.8 488.4l3.2 3.2m0 -3.2l-3.2 3.2M277.7 495.7h4.3M279.8 493.5v4.3M278.2 494.1l3.2 3.2m0 -3.2l-3.2 3.2M283.1 500.3h4.3M285.3 498.2v4.3M283.7 498.7l3.2 3.2m0 -3.2l-3.2 3.2M288.6 504.0h4.3M290.8 501.9v4.3M289.1 502.4l3.2 3.2m0 -3.2l-3.2 3.2M294.1 507.0h4.3M296.2 504.8v4.3M294.6 505.4l3.2 3.2m0 -3.2l-3.2 3.2" stroke="#b03040" stroke-width="0.8" fill="none"/>
<polyline points="32.4,351.3 33.1,351.3 33.8,351.3 34.4,351.3 35.1,351.3 35.8,351.3 36.4,351.3 37.1,351.3 37.8,351.3 38.4,351.3 39.1,351.3 39.8,351.3 40.4,351.3 41.1,351.3 41.8,351.3 42.4,351.4 43.1,351.4 43.8,351.4 44.4,351.4 45.1,351.4 45.8,351.4 46.4,351.4 47.1,351.4 47.8,351.4 48.4,351.4 49.1,351.4 49.8,351.4 50.4,351.4 51.1,351.4 51.8,351.4 52.4,351.4 53.1,351.4 53.8,351.4 54.4,351.4 55.1,351.4 55.7,351.4 56.4,351.4 57.1,351.4 57.7,351.4 58.4,351.5 59.1,351.5 59.7,351.5 60.4,351.5 61.1,351.5 61.7,351.5 62.4,351.5 63.1,351.5 63.7,351.5 64.4,351.5 65.1,351.5 65.7,351.5 66.4,351.5 67.1,351.6 67.7,351.6 68.4,351.6 69.1,351.6 69.7,351.6 70.4,351.6 71.1,351.6 71.7,351.6 72.4,351.7 73.1,351.7 73.7,351.7 74.4,351.7 75.1,351.7 75.7,351.7 76.4,351.7 77.1,351.8 77.7,351.8 78.4,351.8 79.1,351.8 79.7,351.8 80.4,351.9 81.1,351.9 81.7,351.9 82.4,351.9 83.1,352.0 83.7,352.0 84.4,352.0 85.1,352.0 85.7,352.1 86.4,352.1 87.1,352.1 87.7,352.2 88.4,352.2 89.1,352.2 89.7,352.3 90.4,352.3 91.1,352.4 91.7,352.4 92.4,352.4 93.1,352.5 93.7,352.5 94.4,352.6 95.1,352.6 95.7,352.7 96.4,352.8 97.1,352.8 97.7,352.9 98.4,353.0 99.1,353.0 99.7,353.1 100.4,353.2 101.1,353.3 101.7,353.3 102.4,353.4 103.1,353.5 103.7,353.6 104.4,353.7 105.1,353.8 105.7,353.9 106.4,354.0 107.1,354.2 107.7,354.3 108.4,354.4 109.1,354.5 109.7,354.7 110.4,354.8 111.1,355.0 111.7,355.2 112.4,355.3 113.1,355.5 113.7,355.7 114.4,355.9 115.1,356.1 115.7,356.3 116.4,356.5 117.1,356.8 117.7,357.0 118.4,357.3 119.1,357.5 119.7,357.8 120.4,358.1 121.1,358.4 121.7,358.7 122.4,359.0 123.1,359.4 123.7,359.7 124.4,360.1 125.1,360.5 125.7,360.9 126.4,361.3 127.1,361.7 127.7,362.2 128.4,362.6 129.1,363.1 129.7,363.6 130.4,364.1 131.1,364.7 131.7,365.2 132.4,365.8 133.1,366.4 133.7,367.0 134.4,367.6 135.1,368.3 135.7,369.0 136.4,369.7 137.1,370.4 137.7,371.1 138.4,371.8 139.1,372.6 139.7,373.4 140.4,374.2 141.1,375.0 141.7,375.9 142.4,376.8 143.1,377.7 143.7,378.6 144.4,379.5 145.1,380.4 145.7,381.4 146.4,382.4 147.1,383.4 147.7,384.4 148.4,385.4 149.1,386.5 149.7,387.5 150.4,388.6 151.1,389.7 151.7,390.8 152.4,391.9 153.1,393.1 153.7,394.2 154.4,395.4 155.1,396.5 155.7,397.7 156.4,398.9 157.1,400.1 157.7,401.3 158.4,402.6 159.1,403.8 159.7,405.0 160.4,406.3 161.1,407.6 161.7,408.8 162.4,410.1 163.1,411.4 163.7,412.7 164.4,414.0 165.1,415.3 165.7,416.6 166.4,417.9 167.1,419.3 167.7,420.6 168.4,421.9 169.1,423.2 169.7,424.6 170.4,425.9 171.1,427.3 171.7,428.6 172.4,430.0 173.1,431.3 173.7,432.7 174.4,434.0 175.1,435.4 175.7,436.8 176.4,438.1 177.1,439.5 177.7,440.9 178.4,442.2 179.1,443.6 179.7,445.0 180.4,446.3 181.1,447.7 181.7,449.1 182.4,450.4 183.1,451.8 183.7,453.1 184.4,454.5 185.1,455.9 185.7,457.2 186.4,458.6 187.1,459.9 187.7,461.3 188.4,462.6 189.1,464.0 189.7,465.3 190.4,466.6 191.1,468.0 191.7,469.3 192.4,470.6 193.1,471.9 193.7,473.3 194.4,474.6 195.1,475.9 195.7,477.2 196.4,478.5 197.1,479.8 197.7,481.0 198.4,482.3 199.1,483.6 199.7,484.8 200.4,486.1 201.1,487.3 201.7,488.6 202.4,489.8 203.1,491.0 203.7,492.2 204.4,493.4 205.1,494.6 205.7,495.8 206.4,496.9 207.1,498.1 207.7,499.2 208.4,500.4 209.1,501.5 209.7,502.6 210.4,503.7 211.1,504.8 211.7,505.8 212.4,506.9 213.1,507.9 213.7,508.9 214.4,509.9 215.1,510.9 215.7,511.9 216.4,512.9 217.1,513.8 217.7,514.7 218.4,515.6 219.1,516.5 219.7,517.4 220.4,518.3 221.1,519.1 221.7,519.9 222.4,520.7 223.1,521.5 223.7,522.3 224.4,523.1 225.1,523.8 225.7,524.5 226.4,525.2 227.1,525.9 227.7,526.6 228.4,527.2 229.1,527.8 229.7,528.4 230.4,529.0 231.1,529.6 231.7,530.2 232.4,530.7 233.1,531.2 233.7,531.8 234.4,532.3 235.1,532.7 235.7,533.2 236.4,533.6 237.1,534.1 237.7,534.5 238.4,534.9 239.1,535.3 239.7,535.7 240.4,536.0 241.1,536.4 241.7,536.7 242.4,537.1 243.1,537.4 243.7,537.7 244.4,538.0 245.1,538.3 245.7,538.5 246.4,538.8 247.1,539.1 247.7,539.3 248.4,539.5 249.1,539.8 249.7,540.0 250.4,540.2 251.1,540.4 251.7,540.6 252.4,540.8 253.1,540.9 253.7,541.1 254.4,541.3 255.1,541.4 255.7,541.6 256.4,541.7 257.1,541.9 257.7,542.0 258.4,542.1 259.1,542.3 259.7,542.4 260.4,542.5 261.1,542.6 261.7,542.7 262.4,542.8 263.1,542.9 263.7,543.0 264.4,543.1 265.1,543.2 265.7,543.3 266.4,543.4 267.1,543.5 267.7,543.5 268.4,543.6 269.1,543.7 269.7,543.7 270.4,543.8 271.1,543.9 271.7,543.9 272.4,544.0 273.1,544.0 273.7,544.1 274.4,544.2 275.1,544.2 275.7,544.3 276.4,544.3 277.0,544.3 277.7,544.4 278.4,544.4 279.0,544.5 279.7,544.5 280.4,544.5 281.0,544.6 281.7,544.6 282.4,544.7 283.0,544.7 283.7,544.7 284.4,544.7 285.0,544.8 285.7,544.8 286.4,544.8 287.0,544.9 287.7,544.9 288.4,544.9 289.0,544.9 289.7,545.0 290.4,545.0 291.0,545.0 291.7,545.0 292.4,545.0 293.0,545.1 293.7,545.1 294.4,545.1 295.0,545.1 295.7,545.1 296.4,545.1 297.0,545.2 297.7,545.2 298.4,545.2" fill="none" stroke="#9060b0" stroke-width="0.9" />
<polyline points="32.4,517.6 33.1,517.6 33.8,517.5 34.4,517.5 35.1,517.5 35.8,517.4 36.4,517.4 37.1,517.4 37.8,517.4 38.4,517.3 39.1,517.3 39.8,517.3 40.4,517.2 41.1,517.2 41.8,517.1 42.4,517.1 43.1,517.1 43.8,517.0 44.4,517.0 45.1,516.9 45.8,516.9 46.4,516.8 47.1,516.8 47.8,516.7 48.4,516.7 49.1,516.6 49.8,516.5 50.4,516.5 51.1,516.4 51.8,516.4 52.4,516.3 53.1,516.2 53.8,516.1 54.4,516.1 55.1,516.0 55.7,515.9 56.4,515.8 57.1,515.7 57.7,515.6 58.4,515.6 59.1,515.5 59.7,515.4 60.4,515.3 61.1,515.1 61.7,515.0 62.4,514.9 63.1,514.8 63.7,514.7 64.4,514.6 65.1,514.4 65.7,514.3 66.4,514.2 67.1,514.0 67.7,513.9 68.4,513.7 69.1,513.5 69.7,513.4 70.4,513.2 71.1,513.0 71.7,512.8 72.4,512.7 73.1,512.5 73.7,512.3 74.4,512.0 75.1,511.8 75.7,511.6 76.4,511.4 77.1,511.1 77.7,510.9 78.4,510.6 79.1,510.3 79.7,510.1 80.4,509.8 81.1,509.5 81.7,509.2 82.4,508.9 83.1,508.5 83.7,508.2 84.4,507.8 85.1,507.5 85.7,507.1 86.4,506.7 87.1,506.3 87.7,505.9 88.4,505.5 89.1,505.0 89.7,504.6 90.4,504.1 91.1,503.6 91.7,503.1 92.4,502.6 93.1,502.0 93.7,501.5 94.4,500.9 95.1,500.3 95.7,499.7 96.4,499.0 97.1,498.4 97.7,497.7 98.4,497.0 99.1,496.3 99.7,495.5 100.4,494.7 101.1,493.9 101.7,493.1 102.4,492.3 103.1,491.4 103.7,490.5 104.4,489.5 105.1,488.6 105.7,487.6 106.4,486.6 107.1,485.5 107.7,484.4 108.4,483.3 109.1,482.2 109.7,481.0 110.4,479.8 111.1,478.5 111.7,477.3 112.4,476.0 113.1,474.6 113.7,473.2 114.4,471.8 115.1,470.4 115.7,468.9 116.4,467.3 117.1,465.8 117.7,464.2 118.4,462.6 119.1,460.9 119.7,459.2 120.4,457.5 121.1,455.7 121.7,453.9 122.4,452.1 123.1,450.3 123.7,448.4 124.4,446.5 125.1,444.6 125.7,442.6 126.4,440.7 127.1,438.7 127.7,436.7 128.4,434.7 129.1,432.6 129.7,430.6 130.4,428.5 131.1,426.5 131.7,424.4 132.4,422.4 133.1,420.3 133.7,418.3 134.4,416.2 135.1,414.2 135.7,412.2 136.4,410.2 137.1,408.2 137.7,406.2 138.4,404.3 139.1,402.3 139.7,400.4 140.4,398.6 141.1,396.7 141.7,394.9 142.4,393.1 143.1,391.4 143.7,389.7 144.4,388.0 145.1,386.4 145.7,384.8 146.4,383.2 147.1,381.7 147.7,380.2 148.4,378.8 149.1,377.4 149.7,376.0 150.4,374.7 151.1,373.4 151.7,372.2 152.4,371.0 153.1,369.9 153.7,368.8 154.4,367.7 155.1,366.7 155.7,365.7 156.4,364.8 157.1,363.9 157.7,363.0 158.4,362.2 159.1,361.4 159.7,360.7 160.4,360.0 161.1,359.3 161.7,358.7 162.4,358.1 163.1,357.5 163.7,357.0 164.4,356.5 165.1,356.1 165.7,355.7 166.4,355.3 167.1,355.0 167.7,354.7 168.4,354.4 169.1,354.2 169.7,354.0 170.4,353.8 171.1,353.6 171.7,353.5 172.4,353.5 173.1,353.4 173.7,353.4 174.4,353.4 175.1,353.4 175.7,353.5 176.4,353.6 177.1,353.8 177.7,353.9 178.4,354.1 179.1,354.3 179.7,354.6 180.4,354.9 181.1,355.2 181.7,355.5 182.4,355.9 183.1,356.3 183.7,356.7 184.4,357.1 185.1,357.6 185.7,358.1 186.4,358.7 187.1,359.2 187.7,359.8 188.4,360.5 189.1,361.1 189.7,361.8 190.4,362.5 191.1,363.2 191.7,364.0 192.4,364.8 193.1,365.6 193.7,366.5 194.4,367.3 195.1,368.2 195.7,369.2 196.4,370.1 197.1,371.1 197.7,372.1 198.4,373.2 199.1,374.2 199.7,375.3 200.4,376.4 201.1,377.6 201.7,378.7 202.4,379.9 203.1,381.2 203.7,382.4 204.4,383.7 205.1,385.0 205.7,386.3 206.4,387.6 207.1,389.0 207.7,390.3 208.4,391.7 209.1,393.2 209.7,394.6 210.4,396.1 211.1,397.5 211.7,399.0 212.4,400.5 213.1,402.0 213.7,403.6 214.4,405.1 215.1,406.7 215.7,408.3 216.4,409.8 217.1,411.4 217.7,413.0 218.4,414.6 219.1,416.2 219.7,417.9 220.4,419.5 221.1,421.1 221.7,422.7 222.4,424.3 223.1,425.9 223.7,427.6 224.4,429.2 225.1,430.8 225.7,432.4 226.4,434.0 227.1,435.6 227.7,437.2 228.4,438.7 229.1,440.3 229.7,441.8 230.4,443.4 231.1,444.9 231.7,446.4 232.4,447.9 233.1,449.4 233.7,450.8 234.4,452.3 235.1,453.7 235.7,455.1 236.4,456.5 237.1,457.9 237.7,459.2 238.4,460.6 239.1,461.9 239.7,463.2 240.4,464.5 241.1,465.7 241.7,466.9 242.4,468.2 243.1,469.4 243.7,470.5 244.4,471.7 245.1,472.8 245.7,473.9 246.4,475.0 247.1,476.1 247.7,477.1 248.4,478.1 249.1,479.1 249.7,480.1 250.4,481.1 251.1,482.0 251.7,482.9 252.4,483.8 253.1,484.7 253.7,485.6 254.4,486.4 255.1,487.2 255.7,488.1 256.4,488.8 257.1,489.6 257.7,490.4 258.4,491.1 259.1,491.8 259.7,492.5 260.4,493.2 261.1,493.9 261.7,494.5 262.4,495.1 263.1,495.8 263.7,496.4 264.4,496.9 265.1,497.5 265.7,498.1 266.4,498.6 267.1,499.1 267.7,499.7 268.4,500.2 269.1,500.7 269.7,501.1 270.4,501.6 271.1,502.1 271.7,502.5 272.4,502.9 273.1,503.4 273.7,503.8 274.4,504.2 275.1,504.5 275.7,504.9 276.4,505.3 277.0,505.6 277.7,506.0 278.4,506.3 279.0,506.7 279.7,507.0 280.4,507.3 281.0,507.6 281.7,507.9 282.4,508.2 283.0,508.5 283.7,508.7 284.4,509.0 285.0,509.3 285.7,509.5 286.4,509.8 287.0,510.0 287.7,510.2 288.4,510.4 289.0,510.7 289.7,510.9 290.4,511.1 291.0,511.3 291.7,511.5 292.4,511.7 293.0,511.9 293.7,512.0 294.4,512.2 295.0,512.4 295.7,512.5 296.4,512.7 297.0,512.9 297.7,513.0 298.4,513.2" fill="none" stroke="#9060b0" stroke-width="0.9" />
<path d="M33.2 351.3a2.3 2.3 0 1 0 4.6 0a2.3 2.3 0 1 0 -4.6 0M38.6 351.3a2.3 2.3 0 1 0 4.6 0a2.3 2.3 0 1 0 -4.6 0M44.1 351.4a2.3 2.3 0 1 0 4.6 0a2.3 2.3 0 1 0 -4.6 0M49.5 351.4a2.3 2.3 0 1 0 4.6 0a2.3 2.3 0 1 0 -4.6 0M55.0 351.4a2.3 2.3 0 1 0 4.6 0a2.3 2.3 0 1 0 -4.6 0M60.4 351.5a2.3 2.3 0 1 0 4.6 0a2.3 2.3 0 1 0 -4.6 0M65.9 351.6a2.3 2.3 0 1 0 4.6 0a2.3 2.3 0 1 0 -4.6 0M71.3 351.7a2.3 2.3 0 1 0 4.6 0a2.3 2.3 0 1 0 -4.6 0M76.8 351.8a2.3 2.3 0 1 0 4.6 0a2.3 2.3 0 1 0 -4.6 0M82.2 352.0a2.3 2.3 0 1 0 4.6 0a2.3 2.3 0 1 0 -4.6 0M87.7 352.3a2.3 2.3 0 1 0 4.6 0a2.3 2.3 0 1 0 -4.6 0M93.1 352.7a2.3 2.3 0 1 0 4.6 0a2.3 2.3 0 1 0 -4.6 0M98.6 353.2a2.3 2.3 0 1 0 4.6 0a2.3 2.3 0 1 0 -4.6 0M104.0 354.0a2.3 2.3 0 1 0 4.6 0a2.3 2.3 0 1 0 -4.6 0M109.5 355.2a2.3 2.3 0 1 0 4.6 0a2.3 2.3 0 1 0 -4.6 0M114.9 356.8a2.3 2.3 0 1 0 4.6 0a2.3 2.3 0 1 0 -4.6 0M120.4 359.2a2.3 2.3 0 1 0 4.6 0a2.3 2.3 0 1 0 -4.6 0M125.8 362.4a2.3 2.3 0 1 0 4.6 0a2.3 2.3 0 1 0 -4.6 0M131.3 366.9a2.3 2.3 0 1 0 4.6 0a2.3 2.3 0 1 0 -4.6 0M136.7 372.6a2.3 2.3 0 1 0 4.6 0a2.3 2.3 0 1 0 -4.6 0M142.2 379.6a2.3 2.3 0 1 0 4.6 0a2.3 2.3 0 1 0 -4.6 0M147.6 387.8a2.3 2.3 0 1 0 4.6 0a2.3 2.3 0 1 0 -4.6 0M153.1 397.1a2.3 2.3 0 1 0 4.6 0a2.3 2.3 0 1 0 -4.6 0M158.5 407.1a2.3 2.3 0 1 0 4.6 0a2.3 2.3 0 1 0 -4.6 0M164.0 417.7a2.3 2.3 0 1 0 4.6 0a2.3 2.3 0 1 0 -4.6 0M169.4 428.6a2.3 2.3 0 1 0 4.6 0a2.3 2.3 0 1 0 -4.6 0M174.9 439.7a2.3 2.3 0 1 0 4.6 0a2.3 2.3 0 1 0 -4.6 0M180.3 450.9a2.3 2.3 0 1 0 4.6 0a2.3 2.3 0 1 0 -4.6 0M185.8 462.0a2.3 2.3 0 1 0 4.6 0a2.3 2.3 0 1 0 -4.6 0M191.2 472.9a2.3 2.3 0 1 0 4.6 0a2.3 2.3 0 1 0 -4.6 0M196.7 483.4a2.3 2.3 0 1 0 4.6 0a2.3 2.3 0 1 0 -4.6 0M202.1 493.5a2.3 2.3 0 1 0 4.6 0a2.3 2.3 0 1 0 -4.6 0M207.6 502.8a2.3 2.3 0 1 0 4.6 0a2.3 2.3 0 1 0 -4.6 0M213.0 511.3a2.3 2.3 0 1 0 4.6 0a2.3 2.3 0 1 0 -4.6 0M218.5 518.8a2.3 2.3 0 1 0 4.6 0a2.3 2.3 0 1 0 -4.6 0M223.9 525.0a2.3 2.3 0 1 0 4.6 0a2.3 2.3 0 1 0 -4.6 0M229.4 530.1a2.3 2.3 0 1 0 4.6 0a2.3 2.3 0 1 0 -4.6 0M234.8 534.1a2.3 2.3 0 1 0 4.6 0a2.3 2.3 0 1 0 -4.6 0M240.3 537.2a2.3 2.3 0 1 0 4.6 0a2.3 2.3 0 1 0 -4.6 0M245.7 539.4a2.3 2.3 0 1 0 4.6 0a2.3 2.3 0 1 0 -4.6 0M251.2 541.1a2.3 2.3 0 1 0 4.6 0a2.3 2.3 0 1 0 -4.6 0M256.6 542.2a2.3 2.3 0 1 0 4.6 0a2.3 2.3 0 1 0 -4.6 0M262.1 543.1a2.3 2.3 0 1 0 4.6 0a2.3 2.3 0 1 0 -4.6 0M267.5 543.8a2.3 2.3 0 1 0 4.6 0a2.3 2.3 0 1 0 -4.6 0M273.0 544.2a2.3 2.3 0 1 0 4.6 0a2.3 2.3 0 1 0 -4.6 0M278.4 544.6a2.3 2.3 0 1 0 4.6 0a2.3 2.3 0 1 0 -4.6 0M283.9 544.8a2.3 2.3 0 1 0 4.6 0a2.3 2.3 0 1 0 -4.6 0M289.3 545.0a2.3 2.3 0 1 0 4.6 0a2.3 2.3 0 1 0 -4.6 0M294.8 545.2a2.3 2.3 0 1 0 4.6 0a2.3 2.3 0 1 0 -4.6 0M33.2 517.5a2.3 2.3 0 1 0 4.6 0a2.3 2.3 0 1 0 -4.6 0M38.6 517.2a2.3 2.3 0 1 0 4.6 0a2.3 2.3 0 1 0 -4.6 0M44.1 516.8a2.3 2.3 0 1 0 4.6 0a2.3 2.3 0 1 0 -4.6 0M49.5 516.4a2.3 2.3 0 1 0 4.6 0a2.3 2.3 0 1 0 -4.6 0M55.0 515.8a2.3 2.3 0 1 0 4.6 0a2.3 2.3 0 1 0 -4.6 0M60.4 515.0a2.3 2.3 0 1 0 4.6 0a2.3 2.3 0 1 0 -4.6 0M65.9 514.0a2.3 2.3 0 1 0 4.6 0a2.3 2.3 0 1 0 -4.6 0M71.3 512.8a2.3 2.3 0 1 0 4.6 0a2.3 2.3 0 1 0 -4.6 0M76.8 511.4a2.3 2.3 0 1 0 4.6 0a2.3 2.3 0 1 0 -4.6 0M82.2 509.6a2.3 2.3 0 1 0 4.6 0a2.3 2.3 0 1 0 -4.6 0M87.7 507.4a2.3 2.3 0 1 0 4.6 0a2.3 2.3 0 1 0 -4.6 0M93.1 504.4a2.3 2.3 0 1 0 4.6 0a2.3 2.3 0 1 0 -4.6 0M98.6 500.2a2.3 2.3 0 1 0 4.6 0a2.3 2.3 0 1 0 -4.6 0M104.0 494.2a2.3 2.3 0 1 0 4.6 0a2.3 2.3 0 1 0 -4.6 0M109.5 485.8a2.3 2.3 0 1 0 4.6 0a2.3 2.3 0 1 0 -4.6 0M114.9 474.4a2.3 2.3 0 1 0 4.6 0a2.3 2.3 0 1 0 -4.6 0M120.4 460.0a2.3 2.3 0 1 0 4.6 0a2.3 2.3 0 1 0 -4.6 0M125.8 443.1a2.3 2.3 0 1 0 4.6 0a2.3 2.3 0 1 0 -4.6 0M131.3 424.9a2.3 2.3 0 1 0 4.6 0a2.3 2.3 0 1 0 -4.6 0M136.7 407.0a2.3 2.3 0 1 0 4.6 0a2.3 2.3 0 1 0 -4.6 0M142.2 390.9a2.3 2.3 0 1 0 4.6 0a2.3 2.3 0 1 0 -4.6 0M147.6 377.6a2.3 2.3 0 1 0 4.6 0a2.3 2.3 0 1 0 -4.6 0M153.1 367.3a2.3 2.3 0 1 0 4.6 0a2.3 2.3 0 1 0 -4.6 0M158.5 360.1a2.3 2.3 0 1 0 4.6 0a2.3 2.3 0 1 0 -4.6 0M164.0 355.7a2.3 2.3 0 1 0 4.6 0a2.3 2.3 0 1 0 -4.6 0M169.4 353.7a2.3 2.3 0 1 0 4.6 0a2.3 2.3 0 1 0 -4.6 0M174.9 353.8a2.3 2.3 0 1 0 4.6 0a2.3 2.3 0 1 0 -4.6 0M180.3 356.0a2.3 2.3 0 1 0 4.6 0a2.3 2.3 0 1 0 -4.6 0M185.8 360.2a2.3 2.3 0 1 0 4.6 0a2.3 2.3 0 1 0 -4.6 0M191.2 366.2a2.3 2.3 0 1 0 4.6 0a2.3 2.3 0 1 0 -4.6 0M196.7 374.1a2.3 2.3 0 1 0 4.6 0a2.3 2.3 0 1 0 -4.6 0M202.1 383.7a2.3 2.3 0 1 0 4.6 0a2.3 2.3 0 1 0 -4.6 0M207.6 394.9a2.3 2.3 0 1 0 4.6 0a2.3 2.3 0 1 0 -4.6 0M213.0 407.3a2.3 2.3 0 1 0 4.6 0a2.3 2.3 0 1 0 -4.6 0M218.5 420.4a2.3 2.3 0 1 0 4.6 0a2.3 2.3 0 1 0 -4.6 0M223.9 433.6a2.3 2.3 0 1 0 4.6 0a2.3 2.3 0 1 0 -4.6 0M229.4 446.3a2.3 2.3 0 1 0 4.6 0a2.3 2.3 0 1 0 -4.6 0M234.8 458.0a2.3 2.3 0 1 0 4.6 0a2.3 2.3 0 1 0 -4.6 0M240.3 468.5a2.3 2.3 0 1 0 4.6 0a2.3 2.3 0 1 0 -4.6 0M245.7 477.6a2.3 2.3 0 1 0 4.6 0a2.3 2.3 0 1 0 -4.6 0M251.2 485.3a2.3 2.3 0 1 0 4.6 0a2.3 2.3 0 1 0 -4.6 0M256.6 491.7a2.3 2.3 0 1 0 4.6 0a2.3 2.3 0 1 0 -4.6 0M262.1 496.9a2.3 2.3 0 1 0 4.6 0a2.3 2.3 0 1 0 -4.6 0M267.5 501.2a2.3 2.3 0 1 0 4.6 0a2.3 2.3 0 1 0 -4.6 0M273.0 504.7a2.3 2.3 0 1 0 4.6 0a2.3 2.3 0 1 0 -4.6 0M278.4 507.5a2.3 2.3 0 1 0 4.6 0a2.3 2.3 0 1 0 -4.6 0M283.9 509.7a2.3 2.3 0 1 0 4.6 0a2.3 2.3 0 1 0 -4.6 0M289.3 511.5a2.3 2.3 0 1 0 4.6 0a2.3 2.3 0 1 0 -4.6 0M294.8 512.9a2.3 2.3 0 1 0 4.6 0a2.3 2.3 0 1 0 -4.6 0" stroke="#8040a0" stroke-width="0.9" fill="none"/>
<polyline points="32.4,340.3 33.1,340.3 33.8,340.3 34.4,340.3 35.1,340.3 35.8,340.3 36.4,340.3 37.1,340.3 37.8,340.3 38.4,340.3 39.1,340.4 39.8,340.4 40.4,340.4 41.1,340.4 41.8,340.4 42.4,340.4 43.1,340.4 43.8,340.4 44.4,340.4 45.1,340.4 45.8,340.4 46.4,340.4 47.1,340.4 47.8,340.4 48.4,340.4 49.1,340.4 49.8,340.4 50.4,340.4 51.1,340.4 51.8,340.4 52.4,340.4 53.1,340.4 53.8,340.4 54.4,340.5 55.1,340.5 55.7,340.5 56.4,340.5 57.1,340.5 57.7,340.5 58.4,340.5 59.1,340.5 59.7,340.5 60.4,340.5 61.1,340.5 61.7,340.5 62.4,340.6 63.1,340.6 63.7,340.6 64.4,340.6 65.1,340.6 65.7,340.6 66.4,340.6 67.1,340.6 67.7,340.6 68.4,340.7 69.1,340.7 69.7,340.7 70.4,340.7 71.1,340.7 71.7,340.7 72.4,340.8 73.1,340.8 73.7,340.8 74.4,340.8 75.1,340.8 75.7,340.8 76.4,340.9 77.1,340.9 77.7,340.9 78.4,340.9 79.1,341.0 79.7,341.0 80.4,341.0 81.1,341.0 81.7,341.1 82.4,341.1 83.1,341.1 83.7,341.2 84.4,341.2 85.1,341.2 85.7,341.3 86.4,341.3 87.1,341.3 87.7,341.4 88.4,341.4 89.1,341.5 89.7,341.5 90.4,341.6 91.1,341.6 91.7,341.7 92.4,341.7 93.1,341.8 93.7,341.8 94.4,341.9 95.1,342.0 95.7,342.0 96.4,342.1 97.1,342.2 97.7,342.2 98.4,342.3 99.1,342.4 99.7,342.5 100.4,342.6 101.1,342.7 101.7,342.8 102.4,342.9 103.1,343.0 103.7,343.1 104.4,343.2 105.1,343.3 105.7,343.5 106.4,343.6 107.1,343.7 107.7,343.9 108.4,344.0 109.1,344.2 109.7,344.4 110.4,344.5 111.1,344.7 111.7,344.9 112.4,345.1 113.1,345.3 113.7,345.5 114.4,345.7 115.1,346.0 115.7,346.2 116.4,346.5 117.1,346.7 117.7,347.0 118.4,347.3 119.1,347.6 119.7,347.9 120.4,348.2 121.1,348.6 121.7,348.9 122.4,349.3 123.1,349.7 123.7,350.1 124.4,350.5 125.1,350.9 125.7,351.4 126.4,351.8 127.1,352.3 127.7,352.8 128.4,353.3 129.1,353.8 129.7,354.4 130.4,354.9 131.1,355.5 131.7,356.1 132.4,356.8 133.1,357.4 133.7,358.1 134.4,358.7 135.1,359.4 135.7,360.2 136.4,360.9 137.1,361.7 137.7,362.5 138.4,363.3 139.1,364.1 139.7,364.9 140.4,365.8 141.1,366.7 141.7,367.6 142.4,368.5 143.1,369.5 143.7,370.4 144.4,371.4 145.1,372.4 145.7,373.4 146.4,374.4 147.1,375.5 147.7,376.6 148.4,377.7 149.1,378.8 149.7,379.9 150.4,381.0 151.1,382.2 151.7,383.3 152.4,384.5 153.1,385.7 153.7,386.9 154.4,388.1 155.1,389.3 155.7,390.6 156.4,391.8 157.1,393.1 157.7,394.4 158.4,395.7 159.1,397.0 159.7,398.3 160.4,399.6 161.1,400.9 161.7,402.2 162.4,403.6 163.1,404.9 163.7,406.3 164.4,407.6 165.1,409.0 165.7,410.4 166.4,411.8 167.1,413.1 167.7,414.5 168.4,415.9 169.1,417.3 169.7,418.7 170.4,420.1 171.1,421.6 171.7,423.0 172.4,424.4 173.1,425.8 173.7,427.2 174.4,428.7 175.1,430.1 175.7,431.5 176.4,433.0 177.1,434.4 177.7,435.8 178.4,437.3 179.1,438.7 179.7,440.1 180.4,441.6 181.1,443.0 181.7,444.4 182.4,445.9 183.1,447.3 183.7,448.8 184.4,450.2 185.1,451.6 185.7,453.1 186.4,454.5 187.1,455.9 187.7,457.4 188.4,458.8 189.1,460.2 189.7,461.6 190.4,463.1 191.1,464.5 191.7,465.9 192.4,467.3 193.1,468.7 193.7,470.1 194.4,471.5 195.1,472.9 195.7,474.3 196.4,475.7 197.1,477.0 197.7,478.4 198.4,479.8 199.1,481.1 199.7,482.5 200.4,483.8 201.1,485.1 201.7,486.5 202.4,487.8 203.1,489.1 203.7,490.4 204.4,491.7 205.1,493.0 205.7,494.2 206.4,495.5 207.1,496.7 207.7,498.0 208.4,499.2 209.1,500.4 209.7,501.6 210.4,502.8 211.1,503.9 211.7,505.1 212.4,506.2 213.1,507.3 213.7,508.5 214.4,509.5 215.1,510.6 215.7,511.7 216.4,512.7 217.1,513.7 217.7,514.7 218.4,515.7 219.1,516.7 219.7,517.6 220.4,518.6 221.1,519.5 221.7,520.4 222.4,521.2 223.1,522.1 223.7,522.9 224.4,523.7 225.1,524.5 225.7,525.3 226.4,526.0 227.1,526.8 227.7,527.5 228.4,528.2 229.1,528.8 229.7,529.5 230.4,530.1 231.1,530.7 231.7,531.3 232.4,531.9 233.1,532.4 233.7,533.0 234.4,533.5 235.1,534.0 235.7,534.5 236.4,534.9 237.1,535.4 237.7,535.8 238.4,536.2 239.1,536.6 239.7,537.0 240.4,537.4 241.1,537.7 241.7,538.1 242.4,538.4 243.1,538.7 243.7,539.0 244.4,539.3 245.1,539.6 245.7,539.9 246.4,540.1 247.1,540.4 247.7,540.6 248.4,540.8 249.1,541.0 249.7,541.2 250.4,541.4 251.1,541.6 251.7,541.8 252.4,542.0 253.1,542.2 253.7,542.3 254.4,542.5 255.1,542.6 255.7,542.8 256.4,542.9 257.1,543.0 257.7,543.2 258.4,543.3 259.1,543.4 259.7,543.5 260.4,543.6 261.1,543.7 261.7,543.8 262.4,543.9 263.1,544.0 263.7,544.1 264.4,544.1 265.1,544.2 265.7,544.3 266.4,544.4 267.1,544.4 267.7,544.5 268.4,544.6 269.1,544.6 269.7,544.7 270.4,544.7 271.1,544.8 271.7,544.8 272.4,544.9 273.1,544.9 273.7,545.0 274.4,545.0 275.1,545.1 275.7,545.1 276.4,545.1 277.0,545.2 277.7,545.2 278.4,545.2 279.0,545.3 279.7,545.3 280.4,545.3 281.0,545.4 281.7,545.4 282.4,545.4 283.0,545.4 283.7,545.5 284.4,545.5 285.0,545.5 285.7,545.5 286.4,545.6 287.0,545.6 287.7,545.6 288.4,545.6 289.0,545.6 289.7,545.6 290.4,545.7 291.0,545.7 291.7,545.7 292.4,545.7 293.0,545.7 293.7,545.7 294.4,545.8 295.0,545.8 295.7,545.8 296.4,545.8 297.0,545.8 297.7,545.8 298.4,545.8" fill="none" stroke="#906060" stroke-width="0.9" />
<polyline points="32.4,517.7 33.1,517.6 33.8,517.6 34.4,517.6 35.1,517.6 35.8,517.5 36.4,517.5 37.1,517.5 37.8,517.5 38.4,517.4 39.1,517.4 39.8,517.4 40.4,517.3 41.1,517.3 41.8,517.3 42.4,517.2 43.1,517.2 43.8,517.1 44.4,517.1 45.1,517.1 45.8,517.0 46.4,517.0 47.1,516.9 47.8,516.9 48.4,516.8 49.1,516.8 49.8,516.7 50.4,516.7 51.1,516.6 51.8,516.6 52.4,516.5 53.1,516.4 53.8,516.4 54.4,516.3 55.1,516.2 55.7,516.2 56.4,516.1 57.1,516.0 57.7,515.9 58.4,515.8 59.1,515.8 59.7,515.7 60.4,515.6 61.1,515.5 61.7,515.4 62.4,515.3 63.1,515.2 63.7,515.1 64.4,515.0 65.1,514.8 65.7,514.7 66.4,514.6 67.1,514.5 67.7,514.3 68.4,514.2 69.1,514.0 69.7,513.9 70.4,513.7 71.1,513.6 71.7,513.4 72.4,513.2 73.1,513.1 73.7,512.9 74.4,512.7 75.1,512.5 75.7,512.3 76.4,512.1 77.1,511.9 77.7,511.7 78.4,511.4 79.1,511.2 79.7,510.9 80.4,510.7 81.1,510.4 81.7,510.1 82.4,509.9 83.1,509.6 83.7,509.3 84.4,508.9 85.1,508.6 85.7,508.3 86.4,507.9 87.1,507.6 87.7,507.2 88.4,506.8 89.1,506.4 89.7,506.0 90.4,505.6 91.1,505.1 91.7,504.7 92.4,504.2 93.1,503.7 93.7,503.2 94.4,502.7 95.1,502.2 95.7,501.6 96.4,501.0 97.1,500.4 97.7,499.8 98.4,499.2 99.1,498.5 99.7,497.9 100.4,497.2 101.1,496.4 101.7,495.7 102.4,494.9 103.1,494.1 103.7,493.3 104.4,492.5 105.1,491.6 105.7,490.7 106.4,489.8 107.1,488.8 107.7,487.9 108.4,486.8 109.1,485.8 109.7,484.7 110.4,483.6 111.1,482.5 111.7,481.3 112.4,480.1 113.1,478.9 113.7,477.6 114.4,476.3 115.1,475.0 115.7,473.6 116.4,472.2 117.1,470.7 117.7,469.2 118.4,467.7 119.1,466.2 119.7,464.6 120.4,463.0 121.1,461.3 121.7,459.6 122.4,457.9 123.1,456.2 123.7,454.4 124.4,452.6 125.1,450.7 125.7,448.9 126.4,447.0 127.1,445.1 127.7,443.1 128.4,441.1 129.1,439.2 129.7,437.2 130.4,435.1 131.1,433.1 131.7,431.1 132.4,429.0 133.1,427.0 133.7,424.9 134.4,422.9 135.1,420.8 135.7,418.8 136.4,416.7 137.1,414.7 137.7,412.6 138.4,410.6 139.1,408.6 139.7,406.7 140.4,404.7 141.1,402.8 141.7,400.9 142.4,399.0 143.1,397.1 143.7,395.3 144.4,393.5 145.1,391.7 145.7,390.0 146.4,388.3 147.1,386.7 147.7,385.1 148.4,383.5 149.1,382.0 149.7,380.5 150.4,379.0 151.1,377.6 151.7,376.2 152.4,374.9 153.1,373.6 153.7,372.4 154.4,371.2 155.1,370.0 155.7,368.9 156.4,367.8 157.1,366.8 157.7,365.8 158.4,364.8 159.1,363.9 159.7,363.0 160.4,362.2 161.1,361.4 161.7,360.6 162.4,359.9 163.1,359.2 163.7,358.6 164.4,358.0 165.1,357.4 165.7,356.9 166.4,356.4 167.1,355.9 167.7,355.5 168.4,355.1 169.1,354.8 169.7,354.5 170.4,354.2 171.1,353.9 171.7,353.7 172.4,353.5 173.1,353.3 173.7,353.2 174.4,353.1 175.1,353.0 175.7,353.0 176.4,353.0 177.1,353.0 177.7,353.1 178.4,353.2 179.1,353.3 179.7,353.4 180.4,353.6 181.1,353.8 181.7,354.0 182.4,354.3 183.1,354.6 183.7,354.9 184.4,355.2 185.1,355.6 185.7,356.0 186.4,356.4 187.1,356.9 187.7,357.4 188.4,357.9 189.1,358.4 189.7,359.0 190.4,359.6 191.1,360.2 191.7,360.9 192.4,361.6 193.1,362.3 193.7,363.0 194.4,363.8 195.1,364.6 195.7,365.4 196.4,366.3 197.1,367.1 197.7,368.0 198.4,369.0 199.1,369.9 199.7,370.9 200.4,371.9 201.1,373.0 201.7,374.0 202.4,375.1 203.1,376.3 203.7,377.4 204.4,378.6 205.1,379.8 205.7,381.0 206.4,382.2 207.1,383.5 207.7,384.8 208.4,386.1 209.1,387.4 209.7,388.8 210.4,390.2 211.1,391.6 211.7,393.0 212.4,394.4 213.1,395.9 213.7,397.4 214.4,398.9 215.1,400.4 215.7,401.9 216.4,403.4 217.1,405.0 217.7,406.5 218.4,408.1 219.1,409.7 219.7,411.3 220.4,412.9 221.1,414.5 221.7,416.1 222.4,417.7 223.1,419.3 223.7,421.0 224.4,422.6 225.1,424.2 225.7,425.8 226.4,427.4 227.1,429.0 227.7,430.7 228.4,432.3 229.1,433.9 229.7,435.4 230.4,437.0 231.1,438.6 231.7,440.2 232.4,441.7 233.1,443.2 233.7,444.8 234.4,446.3 235.1,447.8 235.7,449.3 236.4,450.7 237.1,452.2 237.7,453.6 238.4,455.0 239.1,456.4 239.7,457.8 240.4,459.1 241.1,460.5 241.7,461.8 242.4,463.1 243.1,464.4 243.7,465.6 244.4,466.9 245.1,468.1 245.7,469.3 246.4,470.4 247.1,471.6 247.7,472.7 248.4,473.8 249.1,474.9 249.7,476.0 250.4,477.0 251.1,478.1 251.7,479.1 252.4,480.0 253.1,481.0 253.7,481.9 254.4,482.9 255.1,483.8 255.7,484.7 256.4,485.5 257.1,486.4 257.7,487.2 258.4,488.0 259.1,488.8 259.7,489.6 260.4,490.3 261.1,491.0 261.7,491.8 262.4,492.5 263.1,493.1 263.7,493.8 264.4,494.5 265.1,495.1 265.7,495.7 266.4,496.3 267.1,496.9 267.7,497.5 268.4,498.0 269.1,498.6 269.7,499.1 270.4,499.6 271.1,500.1 271.7,500.6 272.4,501.1 273.1,501.6 273.7,502.0 274.4,502.5 275.1,502.9 275.7,503.3 276.4,503.7 277.0,504.1 277.7,504.5 278.4,504.9 279.0,505.3 279.7,505.6 280.4,506.0 281.0,506.3 281.7,506.6 282.4,507.0 283.0,507.3 283.7,507.6 284.4,507.9 285.0,508.2 285.7,508.4 286.4,508.7 287.0,509.0 287.7,509.2 288.4,509.5 289.0,509.7 289.7,510.0 290.4,510.2 291.0,510.4 291.7,510.7 292.4,510.9 293.0,511.1 293.7,511.3 294.4,511.5 295.0,511.7 295.7,511.8 296.4,512.0 297.0,512.2 297.7,512.4 298.4,512.5" fill="none" stroke="#906060" stroke-width="0.9" />
<path d="M37.2 338.2L39.3 342.0H35.1ZM42.7 338.3L44.8 342.0H40.6ZM48.1 338.3L50.2 342.1H46.0ZM53.6 338.3L55.7 342.1H51.5ZM59.0 338.4L61.1 342.2H56.9ZM64.5 338.5L66.6 342.3H62.4ZM69.9 338.6L72.0 342.4H67.8ZM75.4 338.7L77.5 342.5H73.3ZM80.8 338.9L82.9 342.7H78.7ZM86.3 339.2L88.4 343.0H84.2ZM91.7 339.6L93.8 343.3H89.6ZM97.2 340.1L99.3 343.9H95.1ZM102.6 340.8L104.7 344.6H100.5ZM108.1 341.9L110.2 345.6H106.0ZM113.5 343.3L115.6 347.1H111.4ZM119.0 345.5L121.1 349.2H116.9ZM124.4 348.4L126.5 352.2H122.3ZM129.9 352.4L132.0 356.2H127.8ZM135.3 357.6L137.4 361.4H133.2ZM140.8 364.2L142.9 368.0H138.7ZM146.2 372.1L148.3 375.8H144.1ZM151.7 381.1L153.8 384.9H149.6ZM157.1 391.1L159.2 394.9H155.0ZM162.6 401.8L164.7 405.6H160.5ZM168.0 413.0L170.1 416.8H165.9ZM173.5 424.6L175.6 428.3H171.4ZM178.9 436.3L181.0 440.1H176.8ZM184.4 448.0L186.5 451.8H182.3ZM189.8 459.7L191.9 463.5H187.7ZM195.3 471.2L197.4 475.0H193.2ZM200.7 482.4L202.8 486.1H198.6ZM206.2 493.0L208.3 496.7H204.1ZM211.6 502.8L213.7 506.6H209.5ZM217.1 511.6L219.2 515.4H215.0ZM222.5 519.3L224.6 523.1H220.4ZM228.0 525.6L230.1 529.4H225.9ZM233.4 530.6L235.5 534.4H231.3ZM238.9 534.4L241.0 538.2H236.8ZM244.3 537.2L246.4 541.0H242.2ZM249.8 539.2L251.9 542.9H247.7ZM255.2 540.6L257.3 544.3H253.1ZM260.7 541.5L262.8 545.3H258.6ZM266.1 542.2L268.2 546.0H264.0ZM271.6 542.7L273.7 546.5H269.5ZM277.0 543.1L279.1 546.8H274.9ZM282.5 543.3L284.6 547.1H280.4ZM287.9 543.5L290.0 547.3H285.8ZM293.4 543.6L295.5 547.4H291.3ZM298.8 543.7L300.9 547.5H296.7ZM37.2 515.4L39.3 519.2H35.1ZM42.7 515.1L44.8 518.9H40.6ZM48.1 514.8L50.2 518.5H46.0ZM53.6 514.3L55.7 518.1H51.5ZM59.0 513.7L61.1 517.4H56.9ZM64.5 512.8L66.6 516.6H62.4ZM69.9 511.8L72.0 515.5H67.8ZM75.4 510.3L77.5 514.1H73.3ZM80.8 508.4L82.9 512.2H78.7ZM86.3 505.9L88.4 509.7H84.2ZM91.7 502.6L93.8 506.4H89.6ZM97.2 498.3L99.3 502.0H95.1ZM102.6 492.6L104.7 496.4H100.5ZM108.1 485.3L110.2 489.0H106.0ZM113.5 475.9L115.6 479.7H111.4ZM119.0 464.3L121.1 468.1H116.9ZM124.4 450.4L126.5 454.2H122.3ZM129.9 434.7L132.0 438.5H127.8ZM135.3 418.0L137.4 421.7H133.2ZM140.8 401.5L142.9 405.3H138.7ZM146.2 386.7L148.3 390.5H144.1ZM151.7 374.3L153.8 378.0H149.6ZM157.1 364.6L159.2 368.4H155.0ZM162.6 357.7L164.7 361.4H160.5ZM168.0 353.3L170.1 357.0H165.9ZM173.5 351.1L175.6 354.9H171.4ZM178.9 351.1L181.0 354.9H176.8ZM184.4 353.1L186.5 356.9H182.3ZM189.8 357.0L191.9 360.8H187.7ZM195.3 362.7L197.4 366.5H193.2ZM200.7 370.3L202.8 374.1H198.6ZM206.2 379.7L208.3 383.5H204.1ZM211.6 390.7L213.7 394.5H209.5ZM217.1 402.9L219.2 406.7H215.0ZM222.5 415.9L224.6 419.7H220.4ZM228.0 429.1L230.1 432.9H225.9ZM233.4 442.0L235.5 445.7H231.3ZM238.9 453.9L241.0 457.7H236.8ZM244.3 464.6L246.4 468.4H242.2ZM249.8 474.0L251.9 477.7H247.7ZM255.2 481.9L257.3 485.7H253.1ZM260.7 488.5L262.8 492.3H258.6ZM266.1 494.0L268.2 497.7H264.0ZM271.6 498.4L273.7 502.2H269.5ZM277.0 502.0L279.1 505.8H274.9ZM282.5 504.9L284.6 508.7H280.4ZM287.9 507.2L290.0 511.0H285.8ZM293.4 509.1L295.5 512.8H291.3ZM298.8 510.5L300.9 514.3H296.7Z" stroke="#6a3838" stroke-width="0.9" fill="none"/>
<polyline points="32.4,332.8 33.1,332.8 33.8,332.8 34.4,332.8 35.1,332.8 35.8,332.8 36.4,332.8 37.1,332.8 37.8,332.8 38.4,332.8 39.1,332.8 39.8,332.8 40.4,332.8 41.1,332.8 41.8,332.8 42.4,332.8 43.1,332.9 43.8,332.9 44.4,332.9 45.1,332.9 45.8,332.9 46.4,332.9 47.1,332.9 47.8,332.9 48.4,332.9 49.1,332.9 49.8,332.9 50.4,332.9 51.1,332.9 51.8,332.9 52.4,332.9 53.1,332.9 53.8,333.0 54.4,333.0 55.1,333.0 55.7,333.0 56.4,333.0 57.1,333.0 57.7,333.0 58.4,333.0 59.1,333.0 59.7,333.0 60.4,333.1 61.1,333.1 61.7,333.1 62.4,333.1 63.1,333.1 63.7,333.1 64.4,333.1 65.1,333.2 65.7,333.2 66.4,333.2 67.1,333.2 67.7,333.2 68.4,333.2 69.1,333.3 69.7,333.3 70.4,333.3 71.1,333.3 71.7,333.3 72.4,333.4 73.1,333.4 73.7,333.4 74.4,333.4 75.1,333.5 75.7,333.5 76.4,333.5 77.1,333.5 77.7,333.6 78.4,333.6 79.1,333.6 79.7,333.7 80.4,333.7 81.1,333.7 81.7,333.8 82.4,333.8 83.1,333.9 83.7,333.9 84.4,333.9 85.1,334.0 85.7,334.0 86.4,334.1 87.1,334.1 87.7,334.2 88.4,334.3 89.1,334.3 89.7,334.4 90.4,334.4 91.1,334.5 91.7,334.6 92.4,334.6 93.1,334.7 93.7,334.8 94.4,334.9 95.1,335.0 95.7,335.1 96.4,335.2 97.1,335.3 97.7,335.4 98.4,335.5 99.1,335.6 99.7,335.7 100.4,335.8 101.1,335.9 101.7,336.1 102.4,336.2 103.1,336.3 103.7,336.5 104.4,336.6 105.1,336.8 105.7,337.0 106.4,337.2 107.1,337.3 107.7,337.5 108.4,337.7 109.1,337.9 109.7,338.2 110.4,338.4 111.1,338.6 111.7,338.9 112.4,339.1 113.1,339.4 113.7,339.7 114.4,340.0 115.1,340.3 115.7,340.6 116.4,340.9 117.1,341.2 117.7,341.6 118.4,342.0 119.1,342.3 119.7,342.7 120.4,343.2 121.1,343.6 121.7,344.0 122.4,344.5 123.1,345.0 123.7,345.4 124.4,346.0 125.1,346.5 125.7,347.0 126.4,347.6 127.1,348.2 127.7,348.8 128.4,349.4 129.1,350.0 129.7,350.7 130.4,351.4 131.1,352.1 131.7,352.8 132.4,353.5 133.1,354.3 133.7,355.0 134.4,355.8 135.1,356.6 135.7,357.5 136.4,358.3 137.1,359.2 137.7,360.1 138.4,361.0 139.1,361.9 139.7,362.9 140.4,363.9 141.1,364.8 141.7,365.8 142.4,366.9 143.1,367.9 143.7,368.9 144.4,370.0 145.1,371.1 145.7,372.2 146.4,373.3 147.1,374.5 147.7,375.6 148.4,376.8 149.1,377.9 149.7,379.1 150.4,380.3 151.1,381.5 151.7,382.8 152.4,384.0 153.1,385.2 153.7,386.5 154.4,387.8 155.1,389.0 155.7,390.3 156.4,391.6 157.1,392.9 157.7,394.2 158.4,395.6 159.1,396.9 159.7,398.2 160.4,399.6 161.1,400.9 161.7,402.3 162.4,403.6 163.1,405.0 163.7,406.4 164.4,407.7 165.1,409.1 165.7,410.5 166.4,411.9 167.1,413.3 167.7,414.7 168.4,416.1 169.1,417.5 169.7,418.9 170.4,420.3 171.1,421.7 171.7,423.1 172.4,424.6 173.1,426.0 173.7,427.4 174.4,428.8 175.1,430.2 175.7,431.7 176.4,433.1 177.1,434.5 177.7,435.9 178.4,437.4 179.1,438.8 179.7,440.2 180.4,441.6 181.1,443.0 181.7,444.5 182.4,445.9 183.1,447.3 183.7,448.7 184.4,450.1 185.1,451.5 185.7,453.0 186.4,454.4 187.1,455.8 187.7,457.2 188.4,458.6 189.1,460.0 189.7,461.4 190.4,462.7 191.1,464.1 191.7,465.5 192.4,466.9 193.1,468.2 193.7,469.6 194.4,471.0 195.1,472.3 195.7,473.6 196.4,475.0 197.1,476.3 197.7,477.6 198.4,478.9 199.1,480.2 199.7,481.5 200.4,482.8 201.1,484.1 201.7,485.4 202.4,486.6 203.1,487.9 203.7,489.1 204.4,490.3 205.1,491.6 205.7,492.8 206.4,493.9 207.1,495.1 207.7,496.3 208.4,497.4 209.1,498.6 209.7,499.7 210.4,500.8 211.1,501.9 211.7,502.9 212.4,504.0 213.1,505.0 213.7,506.0 214.4,507.1 215.1,508.0 215.7,509.0 216.4,510.0 217.1,510.9 217.7,511.8 218.4,512.7 219.1,513.6 219.7,514.4 220.4,515.3 221.1,516.1 221.7,516.9 222.4,517.6 223.1,518.4 223.7,519.1 224.4,519.9 225.1,520.6 225.7,521.2 226.4,521.9 227.1,522.5 227.7,523.1 228.4,523.7 229.1,524.3 229.7,524.9 230.4,525.4 231.1,526.0 231.7,526.5 232.4,527.0 233.1,527.4 233.7,527.9 234.4,528.4 235.1,528.8 235.7,529.2 236.4,529.6 237.1,530.0 237.7,530.3 238.4,530.7 239.1,531.0 239.7,531.4 240.4,531.7 241.1,532.0 241.7,532.3 242.4,532.5 243.1,532.8 243.7,533.1 244.4,533.3 245.1,533.6 245.7,533.8 246.4,534.0 247.1,534.2 247.7,534.4 248.4,534.6 249.1,534.8 249.7,535.0 250.4,535.1 251.1,535.3 251.7,535.5 252.4,535.6 253.1,535.7 253.7,535.9 254.4,536.0 255.1,536.1 255.7,536.3 256.4,536.4 257.1,536.5 257.7,536.6 258.4,536.7 259.1,536.8 259.7,536.9 260.4,537.0 261.1,537.1 261.7,537.2 262.4,537.2 263.1,537.3 263.7,537.4 264.4,537.4 265.1,537.5 265.7,537.6 266.4,537.6 267.1,537.7 267.7,537.8 268.4,537.8 269.1,537.9 269.7,537.9 270.4,538.0 271.1,538.0 271.7,538.1 272.4,538.1 273.1,538.1 273.7,538.2 274.4,538.2 275.1,538.3 275.7,538.3 276.4,538.3 277.0,538.4 277.7,538.4 278.4,538.4 279.0,538.4 279.7,538.5 280.4,538.5 281.0,538.5 281.7,538.6 282.4,538.6 283.0,538.6 283.7,538.6 284.4,538.6 285.0,538.7 285.7,538.7 286.4,538.7 287.0,538.7 287.7,538.7 288.4,538.8 289.0,538.8 289.7,538.8 290.4,538.8 291.0,538.8 291.7,538.8 292.4,538.9 293.0,538.9 293.7,538.9 294.4,538.9 295.0,538.9 295.7,538.9 296.4,538.9 297.0,538.9 297.7,538.9 298.4,539.0" fill="none" stroke="#5050b0" stroke-width="0.9" />
<polyline points="32.4,517.7 33.1,517.7 33.8,517.6 34.4,517.6 35.1,517.6 35.8,517.6 36.4,517.5 37.1,517.5 37.8,517.5 38.4,517.5 39.1,517.4 39.8,517.4 40.4,517.4 41.1,517.3 41.8,517.3 42.4,517.3 43.1,517.2 43.8,517.2 44.4,517.2 45.1,517.1 45.8,517.1 46.4,517.0 47.1,517.0 47.8,516.9 48.4,516.9 49.1,516.8 49.8,516.8 50.4,516.7 51.1,516.7 51.8,516.6 52.4,516.6 53.1,516.5 53.8,516.5 54.4,516.4 55.1,516.3 55.7,516.3 56.4,516.2 57.1,516.1 57.7,516.0 58.4,515.9 59.1,515.9 59.7,515.8 60.4,515.7 61.1,515.6 61.7,515.5 62.4,515.4 63.1,515.3 63.7,515.2 64.4,515.1 65.1,515.0 65.7,514.9 66.4,514.7 67.1,514.6 67.7,514.5 68.4,514.4 69.1,514.2 69.7,514.1 70.4,513.9 71.1,513.8 71.7,513.6 72.4,513.5 73.1,513.3 73.7,513.1 74.4,512.9 75.1,512.8 75.7,512.6 76.4,512.4 77.1,512.2 77.7,511.9 78.4,511.7 79.1,511.5 79.7,511.2 80.4,511.0 81.1,510.7 81.7,510.5 82.4,510.2 83.1,509.9 83.7,509.6 84.4,509.3 85.1,509.0 85.7,508.7 86.4,508.4 87.1,508.0 87.7,507.7 88.4,507.3 89.1,506.9 89.7,506.5 90.4,506.1 91.1,505.7 91.7,505.3 92.4,504.8 93.1,504.3 93.7,503.9 94.4,503.4 95.1,502.8 95.7,502.3 96.4,501.8 97.1,501.2 97.7,500.6 98.4,500.0 99.1,499.4 99.7,498.7 100.4,498.0 101.1,497.4 101.7,496.6 102.4,495.9 103.1,495.1 103.7,494.4 104.4,493.5 105.1,492.7 105.7,491.8 106.4,491.0 107.1,490.0 107.7,489.1 108.4,488.1 109.1,487.1 109.7,486.1 110.4,485.0 111.1,483.9 111.7,482.8 112.4,481.6 113.1,480.4 113.7,479.2 114.4,477.9 115.1,476.6 115.7,475.3 116.4,473.9 117.1,472.5 117.7,471.1 118.4,469.6 119.1,468.1 119.7,466.6 120.4,465.0 121.1,463.4 121.7,461.7 122.4,460.1 123.1,458.4 123.7,456.6 124.4,454.8 125.1,453.0 125.7,451.2 126.4,449.3 127.1,447.4 127.7,445.5 128.4,443.6 129.1,441.6 129.7,439.6 130.4,437.6 131.1,435.6 131.7,433.6 132.4,431.6 133.1,429.5 133.7,427.5 134.4,425.4 135.1,423.3 135.7,421.3 136.4,419.2 137.1,417.1 137.7,415.1 138.4,413.1 139.1,411.0 139.7,409.0 140.4,407.0 141.1,405.1 141.7,403.1 142.4,401.2 143.1,399.3 143.7,397.4 144.4,395.6 145.1,393.8 145.7,392.0 146.4,390.2 147.1,388.5 147.7,386.9 148.4,385.2 149.1,383.6 149.7,382.1 150.4,380.6 151.1,379.1 151.7,377.6 152.4,376.3 153.1,374.9 153.7,373.6 154.4,372.3 155.1,371.1 155.7,369.9 156.4,368.8 157.1,367.6 157.7,366.6 158.4,365.6 159.1,364.6 159.7,363.6 160.4,362.7 161.1,361.9 161.7,361.0 162.4,360.3 163.1,359.5 163.7,358.8 164.4,358.1 165.1,357.5 165.7,356.9 166.4,356.3 167.1,355.8 167.7,355.3 168.4,354.9 169.1,354.4 169.7,354.0 170.4,353.7 171.1,353.4 171.7,353.1 172.4,352.8 173.1,352.6 173.7,352.4 174.4,352.2 175.1,352.1 175.7,352.0 176.4,351.9 177.1,351.8 177.7,351.8 178.4,351.8 179.1,351.9 179.7,352.0 180.4,352.1 181.1,352.2 181.7,352.3 182.4,352.5 183.1,352.7 183.7,353.0 184.4,353.3 185.1,353.6 185.7,353.9 186.4,354.2 187.1,354.6 187.7,355.0 188.4,355.5 189.1,355.9 189.7,356.4 190.4,356.9 191.1,357.5 191.7,358.0 192.4,358.6 193.1,359.3 193.7,359.9 194.4,360.6 195.1,361.3 195.7,362.1 196.4,362.8 197.1,363.6 197.7,364.4 198.4,365.3 199.1,366.1 199.7,367.0 200.4,368.0 201.1,368.9 201.7,369.9 202.4,370.9 203.1,371.9 203.7,373.0 204.4,374.1 205.1,375.2 205.7,376.3 206.4,377.5 207.1,378.7 207.7,379.9 208.4,381.1 209.1,382.4 209.7,383.7 210.4,385.0 211.1,386.3 211.7,387.7 212.4,389.0 213.1,390.4 213.7,391.9 214.4,393.3 215.1,394.7 215.7,396.2 216.4,397.7 217.1,399.2 217.7,400.7 218.4,402.2 219.1,403.8 219.7,405.3 220.4,406.9 221.1,408.5 221.7,410.1 222.4,411.7 223.1,413.3 223.7,414.9 224.4,416.5 225.1,418.1 225.7,419.7 226.4,421.4 227.1,423.0 227.7,424.6 228.4,426.2 229.1,427.9 229.7,429.5 230.4,431.1 231.1,432.7 231.7,434.3 232.4,435.9 233.1,437.4 233.7,439.0 234.4,440.6 235.1,442.1 235.7,443.7 236.4,445.2 237.1,446.7 237.7,448.2 238.4,449.7 239.1,451.1 239.7,452.6 240.4,454.0 241.1,455.4 241.7,456.8 242.4,458.2 243.1,459.5 243.7,460.8 244.4,462.2 245.1,463.4 245.7,464.7 246.4,466.0 247.1,467.2 247.7,468.4 248.4,469.6 249.1,470.8 249.7,471.9 250.4,473.0 251.1,474.1 251.7,475.2 252.4,476.3 253.1,477.3 253.7,478.3 254.4,479.3 255.1,480.3 255.7,481.3 256.4,482.2 257.1,483.1 257.7,484.0 258.4,484.9 259.1,485.8 259.7,486.6 260.4,487.4 261.1,488.2 261.7,489.0 262.4,489.8 263.1,490.5 263.7,491.2 264.4,492.0 265.1,492.7 265.7,493.3 266.4,494.0 267.1,494.6 267.7,495.3 268.4,495.9 269.1,496.5 269.7,497.1 270.4,497.6 271.1,498.2 271.7,498.7 272.4,499.3 273.1,499.8 273.7,500.3 274.4,500.8 275.1,501.2 275.7,501.7 276.4,502.2 277.0,502.6 277.7,503.0 278.4,503.4 279.0,503.8 279.7,504.2 280.4,504.6 281.0,505.0 281.7,505.4 282.4,505.7 283.0,506.1 283.7,506.4 284.4,506.7 285.0,507.1 285.7,507.4 286.4,507.7 287.0,508.0 287.7,508.2 288.4,508.5 289.0,508.8 289.7,509.1 290.4,509.3 291.0,509.6 291.7,509.8 292.4,510.0 293.0,510.3 293.7,510.5 294.4,510.7 295.0,510.9 295.7,511.1 296.4,511.3 297.0,511.5 297.7,511.7 298.4,511.9" fill="none" stroke="#5050b0" stroke-width="0.9" />
<path d="M36.3 330.7L38.4 332.8L36.3 334.9L34.2 332.8ZM41.8 330.7L43.9 332.8L41.8 334.9L39.7 332.8ZM47.2 330.8L49.3 332.9L47.2 335.0L45.1 332.9ZM52.7 330.8L54.8 332.9L52.7 335.0L50.6 332.9ZM58.1 330.9L60.2 333.0L58.1 335.1L56.0 333.0ZM63.6 331.0L65.7 333.1L63.6 335.2L61.5 333.1ZM69.0 331.2L71.1 333.3L69.0 335.4L66.9 333.3ZM74.5 331.3L76.6 333.4L74.5 335.5L72.4 333.4ZM79.9 331.6L82.0 333.7L79.9 335.8L77.8 333.7ZM85.4 331.9L87.5 334.0L85.4 336.1L83.3 334.0ZM90.8 332.4L92.9 334.5L90.8 336.6L88.7 334.5ZM96.3 333.0L98.4 335.1L96.3 337.2L94.2 335.1ZM101.7 334.0L103.8 336.1L101.7 338.2L99.6 336.1ZM107.2 335.3L109.3 337.4L107.2 339.5L105.1 337.4ZM112.6 337.1L114.7 339.2L112.6 341.3L110.5 339.2ZM118.1 339.7L120.2 341.8L118.1 343.9L116.0 341.8ZM123.5 343.2L125.6 345.3L123.5 347.4L121.4 345.3ZM129.0 347.9L131.1 350.0L129.0 352.1L126.9 350.0ZM134.4 353.8L136.5 355.9L134.4 358.0L132.3 355.9ZM139.9 361.0L142.0 363.1L139.9 365.2L137.8 363.1ZM145.3 369.5L147.4 371.6L145.3 373.7L143.2 371.6ZM150.8 378.9L152.9 381.0L150.8 383.1L148.7 381.0ZM156.2 389.2L158.3 391.3L156.2 393.4L154.1 391.3ZM161.7 400.1L163.8 402.2L161.7 404.3L159.6 402.2ZM167.1 411.4L169.2 413.5L167.1 415.6L165.0 413.5ZM172.6 422.9L174.7 425.0L172.6 427.1L170.5 425.0ZM178.0 434.5L180.1 436.6L178.0 438.7L175.9 436.6ZM183.5 446.1L185.6 448.2L183.5 450.3L181.4 448.2ZM188.9 457.6L191.0 459.7L188.9 461.8L186.8 459.7ZM194.4 468.8L196.5 470.9L194.4 473.0L192.3 470.9ZM199.8 479.7L201.9 481.8L199.8 483.9L197.7 481.8ZM205.3 489.9L207.4 492.0L205.3 494.1L203.2 492.0ZM210.7 499.3L212.8 501.4L210.7 503.5L208.6 501.4ZM216.2 507.6L218.3 509.7L216.2 511.8L214.1 509.7ZM221.6 514.7L223.7 516.8L221.6 518.9L219.5 516.8ZM227.1 520.5L229.2 522.6L227.1 524.7L225.0 522.6ZM232.5 525.0L234.6 527.1L232.5 529.2L230.4 527.1ZM238.0 528.4L240.1 530.5L238.0 532.6L235.9 530.5ZM243.4 530.9L245.5 533.0L243.4 535.1L241.3 533.0ZM248.9 532.6L251.0 534.7L248.9 536.8L246.8 534.7ZM254.3 533.9L256.4 536.0L254.3 538.1L252.2 536.0ZM259.8 534.8L261.9 536.9L259.8 539.0L257.7 536.9ZM265.2 535.4L267.3 537.5L265.2 539.6L263.1 537.5ZM270.7 535.9L272.8 538.0L270.7 540.1L268.6 538.0ZM276.1 536.2L278.2 538.3L276.1 540.4L274.0 538.3ZM281.6 536.5L283.7 538.6L281.6 540.7L279.5 538.6ZM287.0 536.6L289.1 538.7L287.0 540.8L284.9 538.7ZM292.5 536.8L294.6 538.9L292.5 541.0L290.4 538.9ZM297.9 536.9L300.0 539.0L297.9 541.1L295.8 539.0ZM36.3 515.4L38.4 517.5L36.3 519.6L34.2 517.5ZM41.8 515.2L43.9 517.3L41.8 519.4L39.7 517.3ZM47.2 514.9L49.3 517.0L47.2 519.1L45.1 517.0ZM52.7 514.4L54.8 516.5L52.7 518.6L50.6 516.5ZM58.1 513.9L60.2 516.0L58.1 518.1L56.0 516.0ZM63.6 513.1L65.7 515.2L63.6 517.3L61.5 515.2ZM69.0 512.1L71.1 514.2L69.0 516.3L66.9 514.2ZM74.5 510.8L76.6 512.9L74.5 515.0L72.4 512.9ZM79.9 509.1L82.0 511.2L79.9 513.3L77.8 511.2ZM85.4 506.8L87.5 508.9L85.4 511.0L83.3 508.9ZM90.8 503.7L92.9 505.8L90.8 507.9L88.7 505.8ZM96.3 499.8L98.4 501.9L96.3 504.0L94.2 501.9ZM101.7 494.5L103.8 496.6L101.7 498.7L99.6 496.6ZM107.2 487.8L109.3 489.9L107.2 492.0L105.1 489.9ZM112.6 479.1L114.7 481.2L112.6 483.3L110.5 481.2ZM118.1 468.2L120.2 470.3L118.1 472.4L116.0 470.3ZM123.5 455.0L125.6 457.1L123.5 459.2L121.4 457.1ZM129.0 439.8L131.1 441.9L129.0 444.0L126.9 441.9ZM134.4 423.2L136.5 425.3L134.4 427.4L132.3 425.3ZM139.9 406.5L142.0 408.6L139.9 410.7L137.8 408.6ZM145.3 390.9L147.4 393.0L145.3 395.1L143.2 393.0ZM150.8 377.6L152.9 379.7L150.8 381.8L148.7 379.7ZM156.2 366.9L158.3 369.0L156.2 371.1L154.1 369.0ZM161.7 359.0L163.8 361.1L161.7 363.2L159.6 361.1ZM167.1 353.6L169.2 355.7L167.1 357.8L165.0 355.7ZM172.6 350.6L174.7 352.7L172.6 354.8L170.5 352.7ZM178.0 349.7L180.1 351.8L178.0 353.9L175.9 351.8ZM183.5 350.8L185.6 352.9L183.5 355.0L181.4 352.9ZM188.9 353.7L191.0 355.8L188.9 357.9L186.8 355.8ZM194.4 358.5L196.5 360.6L194.4 362.7L192.3 360.6ZM199.8 365.1L201.9 367.2L199.8 369.3L197.7 367.2ZM205.3 373.5L207.4 375.6L205.3 377.7L203.2 375.6ZM210.7 383.6L212.8 385.7L210.7 387.8L208.6 385.7ZM216.2 395.1L218.3 397.2L216.2 399.3L214.1 397.2ZM221.6 407.8L223.7 409.9L221.6 412.0L219.5 409.9ZM227.1 421.0L229.2 423.1L227.1 425.2L225.0 423.1ZM232.5 434.1L234.6 436.2L232.5 438.3L230.4 436.2ZM238.0 446.7L240.1 448.8L238.0 450.9L235.9 448.8ZM243.4 458.2L245.5 460.3L243.4 462.4L241.3 460.3ZM248.9 468.4L251.0 470.5L248.9 472.6L246.8 470.5ZM254.3 477.2L256.4 479.3L254.3 481.4L252.2 479.3ZM259.8 484.6L261.9 486.7L259.8 488.8L257.7 486.7ZM265.2 490.7L267.3 492.8L265.2 494.9L263.1 492.8ZM270.7 495.8L272.8 497.9L270.7 500.0L268.6 497.9ZM276.1 499.9L278.2 502.0L276.1 504.1L274.0 502.0ZM281.6 503.2L283.7 505.3L281.6 507.4L279.5 505.3ZM287.0 505.9L289.1 508.0L287.0 510.1L284.9 508.0ZM292.5 508.0L294.6 510.1L292.5 512.2L290.4 510.1ZM297.9 509.7L300.0 511.8L297.9 513.9L295.8 511.8Z" stroke="#4040a0" stroke-width="0.9" fill="none"/>
<rect x="32.2" y="307.4" width="266.2" height="247.60000000000002" fill="none" stroke="#000" stroke-width="2.2"/>
<line x1="78.20" y1="555.00" x2="78.20" y2="551.00" stroke="#000" stroke-width="1.0"/>
<line x1="78.20" y1="307.40" x2="78.20" y2="311.40" stroke="#000" stroke-width="1.0"/>
<line x1="121.80" y1="555.00" x2="121.80" y2="551.00" stroke="#000" stroke-width="1.0"/>
<line x1="121.80" y1="307.40" x2="121.80" y2="311.40" stroke="#000" stroke-width="1.0"/>
<line x1="165.40" y1="555.00" x2="165.40" y2="551.00" stroke="#000" stroke-width="1.0"/>
<line x1="165.40" y1="307.40" x2="165.40" y2="311.40" stroke="#000" stroke-width="1.0"/>
<line x1="209.00" y1="555.00" x2="209.00" y2="551.00" stroke="#000" stroke-width="1.0"/>
<line x1="209.00" y1="307.40" x2="209.00" y2="311.40" stroke="#000" stroke-width="1.0"/>
<line x1="252.60" y1="555.00" x2="252.60" y2="551.00" stroke="#000" stroke-width="1.0"/>
<line x1="252.60" y1="307.40" x2="252.60" y2="311.40" stroke="#000" stroke-width="1.0"/>
<line x1="32.20" y1="537.65" x2="34.40" y2="537.65" stroke="#555" stroke-width="0.7"/>
<line x1="32.20" y1="517.38" x2="34.40" y2="517.38" stroke="#555" stroke-width="0.7"/>
<line x1="32.20" y1="503.00" x2="34.40" y2="503.00" stroke="#555" stroke-width="0.7"/>
<line x1="32.20" y1="491.85" x2="34.40" y2="491.85" stroke="#555" stroke-width="0.7"/>
<line x1="32.20" y1="482.73" x2="34.40" y2="482.73" stroke="#555" stroke-width="0.7"/>
<line x1="32.20" y1="475.03" x2="34.40" y2="475.03" stroke="#555" stroke-width="0.7"/>
<line x1="32.20" y1="468.35" x2="34.40" y2="468.35" stroke="#555" stroke-width="0.7"/>
<line x1="32.20" y1="462.47" x2="34.40" y2="462.47" stroke="#555" stroke-width="0.7"/>
<line x1="32.20" y1="457.20" x2="36.20" y2="457.20" stroke="#000" stroke-width="1.0"/>
<line x1="32.20" y1="422.55" x2="34.40" y2="422.55" stroke="#555" stroke-width="0.7"/>
<line x1="32.20" y1="402.28" x2="34.40" y2="402.28" stroke="#555" stroke-width="0.7"/>
<line x1="32.20" y1="387.90" x2="34.40" y2="387.90" stroke="#555" stroke-width="0.7"/>
<line x1="32.20" y1="376.75" x2="34.40" y2="376.75" stroke="#555" stroke-width="0.7"/>
<line x1="32.20" y1="367.63" x2="34.40" y2="367.63" stroke="#555" stroke-width="0.7"/>
<line x1="32.20" y1="359.93" x2="34.40" y2="359.93" stroke="#555" stroke-width="0.7"/>
<line x1="32.20" y1="353.25" x2="34.40" y2="353.25" stroke="#555" stroke-width="0.7"/>
<line x1="32.20" y1="347.37" x2="34.40" y2="347.37" stroke="#555" stroke-width="0.7"/>
<line x1="32.20" y1="342.10" x2="36.20" y2="342.10" stroke="#000" stroke-width="1.0"/>
<line x1="298.40" y1="550.75" x2="296.40" y2="550.75" stroke="#666" stroke-width="0.6"/>
<line x1="298.40" y1="545.34" x2="294.40" y2="545.34" stroke="#000" stroke-width="1.0"/>
<line x1="298.40" y1="539.93" x2="296.40" y2="539.93" stroke="#666" stroke-width="0.6"/>
<line x1="298.40" y1="534.52" x2="296.40" y2="534.52" stroke="#666" stroke-width="0.6"/>
<line x1="298.40" y1="529.12" x2="296.40" y2="529.12" stroke="#666" stroke-width="0.6"/>
<line x1="298.40" y1="523.71" x2="296.40" y2="523.71" stroke="#666" stroke-width="0.6"/>
<line x1="298.40" y1="518.30" x2="294.40" y2="518.30" stroke="#000" stroke-width="1.0"/>
<line x1="298.40" y1="512.89" x2="296.40" y2="512.89" stroke="#666" stroke-width="0.6"/>
<line x1="298.40" y1="507.48" x2="296.40" y2="507.48" stroke="#666" stroke-width="0.6"/>
<line x1="298.40" y1="502.08" x2="296.40" y2="502.08" stroke="#666" stroke-width="0.6"/>
<line x1="298.40" y1="496.67" x2="296.40" y2="496.67" stroke="#666" stroke-width="0.6"/>
<line x1="298.40" y1="491.26" x2="294.40" y2="491.26" stroke="#000" stroke-width="1.0"/>
<line x1="298.40" y1="485.85" x2="296.40" y2="485.85" stroke="#666" stroke-width="0.6"/>
<line x1="298.40" y1="480.44" x2="296.40" y2="480.44" stroke="#666" stroke-width="0.6"/>
<line x1="298.40" y1="475.04" x2="296.40" y2="475.04" stroke="#666" stroke-width="0.6"/>
<line x1="298.40" y1="469.63" x2="296.40" y2="469.63" stroke="#666" stroke-width="0.6"/>
<line x1="298.40" y1="464.22" x2="294.40" y2="464.22" stroke="#000" stroke-width="1.0"/>
<line x1="298.40" y1="458.81" x2="296.40" y2="458.81" stroke="#666" stroke-width="0.6"/>
<line x1="298.40" y1="453.40" x2="296.40" y2="453.40" stroke="#666" stroke-width="0.6"/>
<line x1="298.40" y1="448.00" x2="296.40" y2="448.00" stroke="#666" stroke-width="0.6"/>
<line x1="298.40" y1="442.59" x2="296.40" y2="442.59" stroke="#666" stroke-width="0.6"/>
<line x1="298.40" y1="437.18" x2="294.40" y2="437.18" stroke="#000" stroke-width="1.0"/>
<line x1="298.40" y1="431.77" x2="296.40" y2="431.77" stroke="#666" stroke-width="0.6"/>
<line x1="298.40" y1="426.36" x2="296.40" y2="426.36" stroke="#666" stroke-width="0.6"/>
<line x1="298.40" y1="420.96" x2="296.40" y2="420.96" stroke="#666" stroke-width="0.6"/>
<line x1="298.40" y1="415.55" x2="296.40" y2="415.55" stroke="#666" stroke-width="0.6"/>
<line x1="298.40" y1="410.14" x2="294.40" y2="410.14" stroke="#000" stroke-width="1.0"/>
<line x1="298.40" y1="404.73" x2="296.40" y2="404.73" stroke="#666" stroke-width="0.6"/>
<line x1="298.40" y1="399.32" x2="296.40" y2="399.32" stroke="#666" stroke-width="0.6"/>
<line x1="298.40" y1="393.92" x2="296.40" y2="393.92" stroke="#666" stroke-width="0.6"/>
<line x1="298.40" y1="388.51" x2="296.40" y2="388.51" stroke="#666" stroke-width="0.6"/>
<line x1="298.40" y1="383.10" x2="294.40" y2="383.10" stroke="#000" stroke-width="1.0"/>
<line x1="298.40" y1="377.69" x2="296.40" y2="377.69" stroke="#666" stroke-width="0.6"/>
<line x1="298.40" y1="372.28" x2="296.40" y2="372.28" stroke="#666" stroke-width="0.6"/>
<line x1="298.40" y1="366.88" x2="296.40" y2="366.88" stroke="#666" stroke-width="0.6"/>
<line x1="298.40" y1="361.47" x2="296.40" y2="361.47" stroke="#666" stroke-width="0.6"/>
<line x1="298.40" y1="356.06" x2="294.40" y2="356.06" stroke="#000" stroke-width="1.0"/>
<line x1="298.40" y1="350.65" x2="296.40" y2="350.65" stroke="#666" stroke-width="0.6"/>
<line x1="298.40" y1="345.24" x2="296.40" y2="345.24" stroke="#666" stroke-width="0.6"/>
<line x1="298.40" y1="339.84" x2="296.40" y2="339.84" stroke="#666" stroke-width="0.6"/>
<line x1="298.40" y1="334.43" x2="296.40" y2="334.43" stroke="#666" stroke-width="0.6"/>
<line x1="298.40" y1="329.02" x2="294.40" y2="329.02" stroke="#000" stroke-width="1.0"/>
<line x1="298.40" y1="323.61" x2="296.40" y2="323.61" stroke="#666" stroke-width="0.6"/>
<line x1="298.40" y1="318.20" x2="296.40" y2="318.20" stroke="#666" stroke-width="0.6"/>
<line x1="298.40" y1="312.80" x2="296.40" y2="312.80" stroke="#666" stroke-width="0.6"/>
<text x="7.87" y="346.27" font-family="Liberation Serif" font-weight="bold" font-size="12.80" textLength="19.35" lengthAdjust="spacingAndGlyphs" fill="#000" stroke="#000" stroke-width="0.15">100</text>
<text x="14.25" y="460.76" font-family="Liberation Serif" font-weight="bold" font-size="13.73" textLength="14.32" lengthAdjust="spacingAndGlyphs" fill="#000" stroke="#000" stroke-width="0.15">10</text>
<text x="304.00" y="332.96" font-family="Liberation Serif" font-weight="bold" font-size="13.56" textLength="14.48" lengthAdjust="spacingAndGlyphs" fill="#000" stroke="#000" stroke-width="0.15">70</text>
<text x="304.30" y="361.57" font-family="Liberation Serif" font-weight="bold" font-size="13.41" textLength="14.16" lengthAdjust="spacingAndGlyphs" fill="#000" stroke="#000" stroke-width="0.15">60</text>
<text x="304.23" y="388.67" font-family="Liberation Serif" font-weight="bold" font-size="13.45" textLength="14.24" lengthAdjust="spacingAndGlyphs" fill="#000" stroke="#000" stroke-width="0.15">50</text>
<text x="305.10" y="415.36" font-family="Liberation Serif" font-weight="bold" font-size="14.33" textLength="13.54" lengthAdjust="spacingAndGlyphs" fill="#000" stroke="#000" stroke-width="0.15">40</text>
<text x="304.82" y="442.76" font-family="Liberation Serif" font-weight="bold" font-size="14.31" textLength="13.84" lengthAdjust="spacingAndGlyphs" fill="#000" stroke="#000" stroke-width="0.15">30</text>
<text x="304.74" y="469.46" font-family="Liberation Serif" font-weight="bold" font-size="14.27" textLength="13.91" lengthAdjust="spacingAndGlyphs" fill="#000" stroke="#000" stroke-width="0.15">20</text>
<text x="304.14" y="494.95" font-family="Liberation Serif" font-weight="bold" font-size="14.65" textLength="14.55" lengthAdjust="spacingAndGlyphs" fill="#000" stroke="#000" stroke-width="0.15">10</text>
<text x="305.49" y="521.76" font-family="Liberation Serif" font-weight="bold" font-size="13.84" textLength="6.43" lengthAdjust="spacingAndGlyphs" fill="#000" stroke="#000" stroke-width="0.15">0</text>
<text x="302.93" y="549.86" font-family="Liberation Serif" font-weight="bold" font-size="14.11" textLength="17.88" lengthAdjust="spacingAndGlyphs" fill="#000" stroke="#000" stroke-width="0.15">-10</text>
<text x="23.86" y="569.40" font-family="Liberation Serif" font-weight="bold" font-size="13.54" textLength="16.92" lengthAdjust="spacingAndGlyphs" fill="#000" stroke="#000" stroke-width="0.15">0.1</text>
<text x="74.80" y="569.60" font-family="Liberation Serif" font-weight="bold" font-size="13.88" textLength="6.89" lengthAdjust="spacingAndGlyphs" fill="#000" stroke="#000" stroke-width="0.15">1</text>
<text x="112.72" y="569.46" font-family="Liberation Serif" font-weight="bold" font-size="13.59" textLength="13.52" lengthAdjust="spacingAndGlyphs" fill="#000" stroke="#000" stroke-width="0.15">10</text>
<text x="156.70" y="569.46" font-family="Liberation Serif" font-weight="bold" font-size="13.71" textLength="20.65" lengthAdjust="spacingAndGlyphs" fill="#000" stroke="#000" stroke-width="0.15">100</text>
<text x="197.10" y="569.47" font-family="Liberation Serif" font-weight="bold" font-size="13.20" textLength="27.45" lengthAdjust="spacingAndGlyphs" fill="#000" stroke="#000" stroke-width="0.15">1000</text>
<text x="239.15" y="569.47" font-family="Liberation Serif" font-weight="bold" font-size="12.56" textLength="32.67" lengthAdjust="spacingAndGlyphs" fill="#000" stroke="#000" stroke-width="0.15">10000</text>
<text x="282.59" y="569.47" font-family="Liberation Serif" font-weight="bold" font-size="13.38" textLength="31.13" lengthAdjust="spacingAndGlyphs" fill="#000" stroke="#000" stroke-width="0.15">1E+5</text>
<text x="123.30" y="587.60" font-family="Liberation Serif" font-weight="bold" font-size="12.99" textLength="90.20" lengthAdjust="spacingAndGlyphs" fill="#000" stroke="#000" stroke-width="0.15">Frequency (Hz)</text>
<g transform="rotate(-90)">
<text x="-442.46" y="15.80" font-family="Liberation Serif" font-weight="bold" font-size="13.13" textLength="14.16" lengthAdjust="spacingAndGlyphs" fill="#000" stroke="#000" stroke-width="0.15">Z</text>
</g>
<g transform="rotate(-90)">
<text x="-428.14" y="14.85" font-family="Liberation Serif" font-weight="bold" font-size="13.74" textLength="6.92" lengthAdjust="spacingAndGlyphs" fill="#000" stroke="#000" stroke-width="0.15">(</text>
</g>
<g transform="rotate(-90)">
<text x="-421.77" y="15.80" font-family="Liberation Serif" font-weight="bold" font-size="13.03" textLength="11.84" lengthAdjust="spacingAndGlyphs" fill="#000" stroke="#000" stroke-width="0.15">Ω</text>
</g>
<g transform="rotate(-90)">
<text x="-411.14" y="15.80" font-family="Liberation Sans" font-weight="bold" font-size="16.67" textLength="5.75" lengthAdjust="spacingAndGlyphs" fill="#000" stroke="#000" stroke-width="0.15">.</text>
</g>
<g transform="rotate(-90)">
<text x="-405.98" y="15.69" font-family="Liberation Sans" font-weight="bold" font-size="11.27" textLength="9.52" lengthAdjust="spacingAndGlyphs" fill="#000" stroke="#000" stroke-width="0.15">c</text>
</g>
<g transform="rotate(-90)">
<text x="-397.22" y="15.80" font-family="Liberation Sans" font-weight="bold" font-size="11.48" textLength="13.95" lengthAdjust="spacingAndGlyphs" fill="#000" stroke="#000" stroke-width="0.15">m</text>
</g>
<g transform="rotate(-90)">
<text x="-383.90" y="9.80" font-family="Liberation Sans" font-weight="bold" font-size="8.57" textLength="7.88" lengthAdjust="spacingAndGlyphs" fill="#000" stroke="#000" stroke-width="0.15">2</text>
</g>
<g transform="rotate(-90)">
<text x="-376.67" y="14.85" font-family="Liberation Serif" font-weight="bold" font-size="13.74" textLength="9.61" lengthAdjust="spacingAndGlyphs" fill="#000" stroke="#000" stroke-width="0.15">)</text>
</g>
<g transform="rotate(-90)">
<text x="-464.47" y="335.00" font-family="Liberation Serif" font-weight="bold" font-size="13.04" textLength="56.27" lengthAdjust="spacingAndGlyphs" fill="#000" stroke="#000" stroke-width="0.15">-Phase (°)</text>
</g>
<text x="42.53" y="541.06" font-family="Liberation Serif" font-weight="bold" font-size="18.77" textLength="21.44" lengthAdjust="spacingAndGlyphs" fill="#000" stroke="#000" stroke-width="0.15">(c)</text>
<rect x="229.70" y="316.30" width="60.20" height="67.70" fill="#fff" stroke="#666" stroke-width="1"/>
<path d="M239.9 322.3l3.6 3.6m0 -3.6l-3.6 3.6" stroke="#555" stroke-width="0.7" fill="none"/>
<text x="250.11" y="326.02" font-family="Liberation Serif" font-weight="bold" font-size="8.29" textLength="21.10" lengthAdjust="spacingAndGlyphs" fill="#000" stroke="#000" stroke-width="0.15">blank</text>
<path d="M239.9 334.8a1.8 1.8 0 1 0 3.6 0a1.8 1.8 0 1 0 -3.6 0" stroke="#8040a0" stroke-width="0.7" fill="none"/>
<text x="249.86" y="336.72" font-family="Liberation Serif" font-weight="bold" font-size="8.28" textLength="27.52" lengthAdjust="spacingAndGlyphs" fill="#000" stroke="#000" stroke-width="0.15">50 ppm</text>
<path d="M241.7 344.1L243.5 347.3H239.9Z" stroke="#7a4040" stroke-width="0.7" fill="none"/>
<text x="249.49" y="347.42" font-family="Liberation Serif" font-weight="bold" font-size="8.48" textLength="32.59" lengthAdjust="spacingAndGlyphs" fill="#000" stroke="#000" stroke-width="0.15">100 ppm</text>
<path d="M239.9 356.8h3.6M241.7 355.0v3.6" stroke="#2a8a3a" stroke-width="0.7" fill="none"/>
<text x="249.49" y="358.12" font-family="Liberation Serif" font-weight="bold" font-size="8.48" textLength="32.59" lengthAdjust="spacingAndGlyphs" fill="#000" stroke="#000" stroke-width="0.15">150 ppm</text>
<path d="M239.9 367.6h3.6M241.7 365.8v3.6M240.3 366.2l2.7 2.7m0 -2.7l-2.7 2.7" stroke="#c03040" stroke-width="0.7" fill="none"/>
<text x="249.85" y="368.82" font-family="Liberation Serif" font-weight="bold" font-size="8.39" textLength="32.23" lengthAdjust="spacingAndGlyphs" fill="#000" stroke="#000" stroke-width="0.15">200 ppm</text>
<path d="M241.7 375.8L243.5 377.6L241.7 379.4L239.9 377.6Z" stroke="#555" stroke-width="0.7" fill="none"/>
<text x="249.85" y="379.52" font-family="Liberation Serif" font-weight="bold" font-size="8.39" textLength="32.23" lengthAdjust="spacingAndGlyphs" fill="#000" stroke="#000" stroke-width="0.15">250 ppm</text>
<text x="41.12" y="321.64" font-family="Liberation Serif" font-weight="bold" font-size="10.57" textLength="35.42" lengthAdjust="spacingAndGlyphs" fill="#000" stroke="#000" stroke-width="0.15">1.91 Hz</text>
<line x1="61.00" y1="323.00" x2="61.00" y2="330.70" stroke="#3a3a3a" stroke-width="1.0"/>
<text x="139.67" y="331.94" font-family="Liberation Serif" font-weight="bold" font-size="10.40" textLength="40.27" lengthAdjust="spacingAndGlyphs" fill="#000" stroke="#000" stroke-width="0.15">54.31 Hz</text>
<line x1="152.40" y1="334.50" x2="152.40" y2="356.10" stroke="#3a3a3a" stroke-width="1.0"/>
<text x="38.52" y="370.74" font-family="Liberation Serif" font-weight="bold" font-size="10.57" textLength="35.42" lengthAdjust="spacingAndGlyphs" fill="#000" stroke="#000" stroke-width="0.15">1.19 Hz</text>
<line x1="56.40" y1="352.30" x2="56.40" y2="360.70" stroke="#3a3a3a" stroke-width="1.0"/>
<text x="84.11" y="371.25" font-family="Liberation Serif" font-weight="bold" font-size="10.24" textLength="34.32" lengthAdjust="spacingAndGlyphs" fill="#000" stroke="#000" stroke-width="0.15">7.09 Hz</text>
<line x1="92.80" y1="342.00" x2="92.80" y2="362.50" stroke="#3a3a3a" stroke-width="1.0"/>
<text x="55.74" y="397.14" font-family="Liberation Serif" font-weight="bold" font-size="10.39" textLength="34.80" lengthAdjust="spacingAndGlyphs" fill="#000" stroke="#000" stroke-width="0.15">4.15 Hz</text>
<line x1="77.50" y1="332.00" x2="77.50" y2="386.60" stroke="#3a3a3a" stroke-width="1.0"/>
<text x="103.32" y="387.24" font-family="Liberation Serif" font-weight="bold" font-size="10.49" textLength="40.62" lengthAdjust="spacingAndGlyphs" fill="#000" stroke="#000" stroke-width="0.15">34.24 Hz</text>
<line x1="131.00" y1="366.30" x2="131.00" y2="377.70" stroke="#3a3a3a" stroke-width="1.0"/>
<text x="164.62" y="382.84" font-family="Liberation Serif" font-weight="bold" font-size="10.47" textLength="40.52" lengthAdjust="spacingAndGlyphs" fill="#000" stroke="#000" stroke-width="0.15">67.53 Hz</text>
<line x1="185.10" y1="385.00" x2="185.10" y2="419.00" stroke="#3a3a3a" stroke-width="1.0"/>
<text x="37.46" y="443.84" font-family="Liberation Serif" font-weight="bold" font-size="10.53" textLength="35.27" lengthAdjust="spacingAndGlyphs" fill="#000" stroke="#000" stroke-width="0.15">0.34 Hz</text>
<line x1="45.80" y1="424.80" x2="45.80" y2="434.00" stroke="#3a3a3a" stroke-width="1.0"/>
<text x="139.32" y="477.14" font-family="Liberation Serif" font-weight="bold" font-size="10.36" textLength="40.11" lengthAdjust="spacingAndGlyphs" fill="#000" stroke="#000" stroke-width="0.15">37.97 Hz</text>
<line x1="162.60" y1="449.20" x2="162.60" y2="466.20" stroke="#3a3a3a" stroke-width="1.0"/>
<text x="238.12" y="522.64" font-family="Liberation Serif" font-weight="bold" font-size="10.62" textLength="41.12" lengthAdjust="spacingAndGlyphs" fill="#000" stroke="#000" stroke-width="0.15">12.39 Hz</text>
<line x1="263.80" y1="524.20" x2="263.80" y2="534.00" stroke="#3a3a3a" stroke-width="1.0"/>
<text x="196.96" y="545.64" font-family="Liberation Serif" font-weight="bold" font-size="10.56" textLength="40.88" lengthAdjust="spacingAndGlyphs" fill="#000" stroke="#000" stroke-width="0.15">28.51 Hz</text>
<line x1="215.10" y1="527.00" x2="215.10" y2="536.80" stroke="#3a3a3a" stroke-width="1.0"/>
<polyline points="391.4,435.7 392.0,435.7 392.7,435.7 393.4,435.7 394.1,435.7 394.8,435.7 395.5,435.7 396.1,435.7 396.8,435.7 397.5,435.7 398.2,435.7 398.9,435.7 399.6,435.7 400.2,435.7 400.9,435.7 401.6,435.7 402.3,435.7 403.0,435.7 403.7,435.7 404.3,435.7 405.0,435.7 405.7,435.7 406.4,435.7 407.1,435.7 407.8,435.7 408.4,435.7 409.1,435.7 409.8,435.7 410.5,435.7 411.2,435.7 411.9,435.7 412.5,435.7 413.2,435.7 413.9,435.7 414.6,435.7 415.3,435.7 416.0,435.7 416.7,435.7 417.3,435.7 418.0,435.7 418.7,435.7 419.4,435.7 420.1,435.7 420.8,435.7 421.4,435.7 422.1,435.7 422.8,435.7 423.5,435.7 424.2,435.7 424.9,435.7 425.5,435.8 426.2,435.8 426.9,435.8 427.6,435.8 428.3,435.8 429.0,435.8 429.6,435.8 430.3,435.8 431.0,435.8 431.7,435.8 432.4,435.8 433.1,435.8 433.7,435.8 434.4,435.8 435.1,435.8 435.8,435.8 436.5,435.8 437.2,435.8 437.8,435.8 438.5,435.8 439.2,435.8 439.9,435.8 440.6,435.8 441.3,435.8 441.9,435.8 442.6,435.8 443.3,435.8 444.0,435.8 444.7,435.9 445.4,435.9 446.0,435.9 446.7,435.9 447.4,435.9 448.1,435.9 448.8,435.9 449.5,435.9 450.1,435.9 450.8,435.9 451.5,435.9 452.2,435.9 452.9,435.9 453.6,436.0 454.2,436.0 454.9,436.0 455.6,436.0 456.3,436.0 457.0,436.0 457.7,436.0 458.3,436.0 459.0,436.0 459.7,436.1 460.4,436.1 461.1,436.1 461.8,436.1 462.4,436.1 463.1,436.1 463.8,436.2 464.5,436.2 465.2,436.2 465.9,436.2 466.5,436.2 467.2,436.3 467.9,436.3 468.6,436.3 469.3,436.3 470.0,436.4 470.6,436.4 471.3,436.4 472.0,436.4 472.7,436.5 473.4,436.5 474.1,436.5 474.7,436.6 475.4,436.6 476.1,436.7 476.8,436.7 477.5,436.7 478.2,436.8 478.8,436.8 479.5,436.9 480.2,436.9 480.9,437.0 481.6,437.1 482.3,437.1 482.9,437.2 483.6,437.3 484.3,437.3 485.0,437.4 485.7,437.5 486.4,437.6 487.0,437.6 487.7,437.7 488.4,437.8 489.1,437.9 489.8,438.0 490.5,438.1 491.1,438.3 491.8,438.4 492.5,438.5 493.2,438.6 493.9,438.8 494.6,438.9 495.2,439.1 495.9,439.2 496.6,439.4 497.3,439.6 498.0,439.8 498.7,440.0 499.3,440.2 500.0,440.4 500.7,440.6 501.4,440.9 502.1,441.1 502.8,441.4 503.4,441.7 504.1,441.9 504.8,442.2 505.5,442.6 506.2,442.9 506.9,443.2 507.5,443.6 508.2,443.9 508.9,444.3 509.6,444.7 510.3,445.2 511.0,445.6 511.6,446.1 512.3,446.5 513.0,447.0 513.7,447.5 514.4,448.1 515.1,448.6 515.7,449.2 516.4,449.8 517.1,450.4 517.8,451.0 518.5,451.7 519.2,452.4 519.8,453.1 520.5,453.8 521.2,454.5 521.9,455.3 522.6,456.1 523.3,456.9 523.9,457.7 524.6,458.5 525.3,459.4 526.0,460.3 526.7,461.2 527.4,462.1 528.0,463.0 528.7,464.0 529.4,464.9 530.1,465.9 530.8,466.9 531.5,467.9 532.1,469.0 532.8,470.0 533.5,471.1 534.2,472.2 534.9,473.3 535.6,474.4 536.2,475.5 536.9,476.6 537.6,477.7 538.3,478.9 539.0,480.0 539.7,481.2 540.3,482.4 541.0,483.5 541.7,484.7 542.4,485.9 543.1,487.1 543.8,488.3 544.4,489.4 545.1,490.6 545.8,491.8 546.5,493.0 547.2,494.2 547.9,495.4 548.5,496.6 549.2,497.7 549.9,498.9 550.6,500.1 551.3,501.2 552.0,502.4 552.6,503.5 553.3,504.7 554.0,505.8 554.7,506.9 555.4,508.0 556.1,509.1 556.7,510.2 557.4,511.2 558.1,512.3 558.8,513.3 559.5,514.4 560.2,515.4 560.8,516.4 561.5,517.3 562.2,518.3 562.9,519.2 563.6,520.2 564.3,521.1 564.9,522.0 565.6,522.8 566.3,523.7 567.0,524.5 567.7,525.3 568.4,526.1 569.0,526.8 569.7,527.6 570.4,528.3 571.1,529.0 571.8,529.7 572.5,530.3 573.1,531.0 573.8,531.6 574.5,532.2 575.2,532.8 575.9,533.3 576.6,533.9 577.2,534.4 577.9,534.9 578.6,535.4 579.3,535.8 580.0,536.3 580.7,536.7 581.3,537.1 582.0,537.5 582.7,537.9 583.4,538.2 584.1,538.6 584.8,538.9 585.4,539.2 586.1,539.5 586.8,539.8 587.5,540.1 588.2,540.4 588.9,540.6 589.5,540.9 590.2,541.1 590.9,541.3 591.6,541.5 592.3,541.7 593.0,541.9 593.6,542.1 594.3,542.3 595.0,542.4 595.7,542.6 596.4,542.7 597.1,542.9 597.7,543.0 598.4,543.2 599.1,543.3 599.8,543.4 600.5,543.5 601.2,543.6 601.8,543.7 602.5,543.8 603.2,543.9 603.9,544.0 604.6,544.1 605.3,544.2 605.9,544.2 606.6,544.3 607.3,544.4 608.0,544.4 608.7,544.5 609.4,544.6 610.0,544.6 610.7,544.7 611.4,544.7 612.1,544.8 612.8,544.8 613.5,544.9 614.1,544.9 614.8,545.0 615.5,545.0 616.2,545.0 616.9,545.1 617.6,545.1 618.2,545.1 618.9,545.2 619.6,545.2 620.3,545.2 621.0,545.2 621.7,545.3 622.3,545.3 623.0,545.3 623.7,545.3 624.4,545.4 625.1,545.4 625.8,545.4 626.4,545.4 627.1,545.4 627.8,545.5 628.5,545.5 629.2,545.5 629.9,545.5 630.5,545.5 631.2,545.5 631.9,545.6 632.6,545.6 633.3,545.6 634.0,545.6 634.6,545.6 635.3,545.6 636.0,545.6 636.7,545.6 637.4,545.6 638.1,545.7 638.7,545.7 639.4,545.7 640.1,545.7 640.8,545.7 641.5,545.7 642.2,545.7 642.9,545.7 643.5,545.7 644.2,545.7 644.9,545.7 645.6,545.7 646.3,545.7 647.0,545.8 647.6,545.8 648.3,545.8 649.0,545.8 649.7,545.8 650.4,545.8 651.1,545.8 651.7,545.8 652.4,545.8 653.1,545.8 653.8,545.8 654.5,545.8 655.2,545.8 655.8,545.8 656.5,545.8 657.2,545.8 657.9,545.8 658.6,545.8 659.3,545.8 659.9,545.8 660.6,545.8 661.3,545.8 662.0,545.8 662.7,545.8 663.4,545.8 664.0,545.8" fill="none" stroke="#505050" stroke-width="0.9" />
<polyline points="391.4,524.7 392.0,524.7 392.7,524.7 393.4,524.7 394.1,524.6 394.8,524.6 395.5,524.6 396.1,524.6 396.8,524.6 397.5,524.6 398.2,524.6 398.9,524.6 399.6,524.6 400.2,524.6 400.9,524.5 401.6,524.5 402.3,524.5 403.0,524.5 403.7,524.5 404.3,524.5 405.0,524.5 405.7,524.4 406.4,524.4 407.1,524.4 407.8,524.4 408.4,524.4 409.1,524.4 409.8,524.3 410.5,524.3 411.2,524.3 411.9,524.3 412.5,524.3 413.2,524.2 413.9,524.2 414.6,524.2 415.3,524.2 416.0,524.1 416.7,524.1 417.3,524.1 418.0,524.1 418.7,524.0 419.4,524.0 420.1,524.0 420.8,523.9 421.4,523.9 422.1,523.9 422.8,523.8 423.5,523.8 424.2,523.8 424.9,523.7 425.5,523.7 426.2,523.6 426.9,523.6 427.6,523.5 428.3,523.5 429.0,523.4 429.6,523.4 430.3,523.3 431.0,523.3 431.7,523.2 432.4,523.2 433.1,523.1 433.7,523.1 434.4,523.0 435.1,522.9 435.8,522.9 436.5,522.8 437.2,522.7 437.8,522.6 438.5,522.6 439.2,522.5 439.9,522.4 440.6,522.3 441.3,522.2 441.9,522.1 442.6,522.0 443.3,521.9 444.0,521.8 444.7,521.7 445.4,521.6 446.0,521.5 446.7,521.4 447.4,521.3 448.1,521.1 448.8,521.0 449.5,520.9 450.1,520.7 450.8,520.6 451.5,520.4 452.2,520.3 452.9,520.1 453.6,520.0 454.2,519.8 454.9,519.6 455.6,519.4 456.3,519.3 457.0,519.1 457.7,518.9 458.3,518.7 459.0,518.4 459.7,518.2 460.4,518.0 461.1,517.7 461.8,517.5 462.4,517.2 463.1,517.0 463.8,516.7 464.5,516.4 465.2,516.1 465.9,515.8 466.5,515.5 467.2,515.2 467.9,514.9 468.6,514.5 469.3,514.2 470.0,513.8 470.6,513.4 471.3,513.0 472.0,512.6 472.7,512.2 473.4,511.8 474.1,511.3 474.7,510.9 475.4,510.4 476.1,509.9 476.8,509.4 477.5,508.9 478.2,508.3 478.8,507.8 479.5,507.2 480.2,506.6 480.9,506.0 481.6,505.3 482.3,504.7 482.9,504.0 483.6,503.3 484.3,502.6 485.0,501.8 485.7,501.1 486.4,500.3 487.0,499.4 487.7,498.6 488.4,497.7 489.1,496.8 489.8,495.9 490.5,495.0 491.1,494.0 491.8,493.0 492.5,492.0 493.2,490.9 493.9,489.8 494.6,488.7 495.2,487.6 495.9,486.4 496.6,485.2 497.3,484.0 498.0,482.7 498.7,481.4 499.3,480.1 500.0,478.7 500.7,477.4 501.4,475.9 502.1,474.5 502.8,473.0 503.4,471.5 504.1,470.0 504.8,468.5 505.5,466.9 506.2,465.3 506.9,463.7 507.5,462.0 508.2,460.3 508.9,458.7 509.6,457.0 510.3,455.2 511.0,453.5 511.6,451.8 512.3,450.0 513.0,448.2 513.7,446.5 514.4,444.7 515.1,442.9 515.7,441.2 516.4,439.4 517.1,437.7 517.8,435.9 518.5,434.2 519.2,432.5 519.8,430.8 520.5,429.1 521.2,427.5 521.9,425.9 522.6,424.3 523.3,422.7 523.9,421.2 524.6,419.7 525.3,418.2 526.0,416.8 526.7,415.5 527.4,414.1 528.0,412.8 528.7,411.6 529.4,410.4 530.1,409.3 530.8,408.2 531.5,407.2 532.1,406.2 532.8,405.3 533.5,404.4 534.2,403.6 534.9,402.8 535.6,402.1 536.2,401.4 536.9,400.9 537.6,400.3 538.3,399.8 539.0,399.4 539.7,399.1 540.3,398.8 541.0,398.5 541.7,398.3 542.4,398.2 543.1,398.1 543.8,398.1 544.4,398.1 545.1,398.2 545.8,398.4 546.5,398.6 547.2,398.8 547.9,399.1 548.5,399.5 549.2,399.9 549.9,400.3 550.6,400.9 551.3,401.4 552.0,402.0 552.6,402.7 553.3,403.4 554.0,404.1 554.7,404.9 555.4,405.8 556.1,406.6 556.7,407.6 557.4,408.5 558.1,409.5 558.8,410.6 559.5,411.6 560.2,412.8 560.8,413.9 561.5,415.1 562.2,416.3 562.9,417.5 563.6,418.8 564.3,420.1 564.9,421.4 565.6,422.7 566.3,424.1 567.0,425.5 567.7,426.9 568.4,428.3 569.0,429.7 569.7,431.2 570.4,432.6 571.1,434.1 571.8,435.6 572.5,437.1 573.1,438.6 573.8,440.1 574.5,441.6 575.2,443.1 575.9,444.6 576.6,446.0 577.2,447.5 577.9,449.0 578.6,450.5 579.3,452.0 580.0,453.5 580.7,454.9 581.3,456.4 582.0,457.8 582.7,459.2 583.4,460.6 584.1,462.0 584.8,463.4 585.4,464.8 586.1,466.1 586.8,467.5 587.5,468.8 588.2,470.1 588.9,471.4 589.5,472.6 590.2,473.8 590.9,475.1 591.6,476.3 592.3,477.4 593.0,478.6 593.6,479.7 594.3,480.9 595.0,482.0 595.7,483.0 596.4,484.1 597.1,485.1 597.7,486.1 598.4,487.1 599.1,488.1 599.8,489.0 600.5,490.0 601.2,490.9 601.8,491.8 602.5,492.6 603.2,493.5 603.9,494.3 604.6,495.1 605.3,495.9 605.9,496.7 606.6,497.5 607.3,498.2 608.0,498.9 608.7,499.6 609.4,500.3 610.0,501.0 610.7,501.6 611.4,502.3 612.1,502.9 612.8,503.5 613.5,504.1 614.1,504.6 614.8,505.2 615.5,505.7 616.2,506.3 616.9,506.8 617.6,507.3 618.2,507.8 618.9,508.3 619.6,508.7 620.3,509.2 621.0,509.6 621.7,510.0 622.3,510.5 623.0,510.9 623.7,511.3 624.4,511.6 625.1,512.0 625.8,512.4 626.4,512.7 627.1,513.1 627.8,513.4 628.5,513.7 629.2,514.1 629.9,514.4 630.5,514.7 631.2,515.0 631.9,515.2 632.6,515.5 633.3,515.8 634.0,516.0 634.6,516.3 635.3,516.5 636.0,516.8 636.7,517.0 637.4,517.2 638.1,517.4 638.7,517.7 639.4,517.9 640.1,518.1 640.8,518.3 641.5,518.5 642.2,518.6 642.9,518.8 643.5,519.0 644.2,519.2 644.9,519.3 645.6,519.5 646.3,519.6 647.0,519.8 647.6,519.9 648.3,520.1 649.0,520.2 649.7,520.4 650.4,520.5 651.1,520.6 651.7,520.7 652.4,520.9 653.1,521.0 653.8,521.1 654.5,521.2 655.2,521.3 655.8,521.4 656.5,521.5 657.2,521.6 657.9,521.7 658.6,521.8 659.3,521.9 659.9,522.0 660.6,522.1 661.3,522.1 662.0,522.2 662.7,522.3 663.4,522.4 664.0,522.4" fill="none" stroke="#505050" stroke-width="0.9" />
<path d="M391.6 433.7l4.0 4.0m0 -4.0l-4.0 4.0M397.2 433.7l4.0 4.0m0 -4.0l-4.0 4.0M402.8 433.7l4.0 4.0m0 -4.0l-4.0 4.0M408.4 433.7l4.0 4.0m0 -4.0l-4.0 4.0M414.0 433.7l4.0 4.0m0 -4.0l-4.0 4.0M419.5 433.7l4.0 4.0m0 -4.0l-4.0 4.0M425.1 433.8l4.0 4.0m0 -4.0l-4.0 4.0M430.7 433.8l4.0 4.0m0 -4.0l-4.0 4.0M436.3 433.8l4.0 4.0m0 -4.0l-4.0 4.0M441.9 433.8l4.0 4.0m0 -4.0l-4.0 4.0M447.5 433.9l4.0 4.0m0 -4.0l-4.0 4.0M453.1 434.0l4.0 4.0m0 -4.0l-4.0 4.0M458.6 434.1l4.0 4.0m0 -4.0l-4.0 4.0M464.2 434.2l4.0 4.0m0 -4.0l-4.0 4.0M469.8 434.4l4.0 4.0m0 -4.0l-4.0 4.0M475.4 434.7l4.0 4.0m0 -4.0l-4.0 4.0M481.0 435.2l4.0 4.0m0 -4.0l-4.0 4.0M486.6 435.9l4.0 4.0m0 -4.0l-4.0 4.0M492.2 436.8l4.0 4.0m0 -4.0l-4.0 4.0M497.8 438.3l4.0 4.0m0 -4.0l-4.0 4.0M503.4 440.5l4.0 4.0m0 -4.0l-4.0 4.0M508.9 443.6l4.0 4.0m0 -4.0l-4.0 4.0M514.5 447.9l4.0 4.0m0 -4.0l-4.0 4.0M520.1 453.5l4.0 4.0m0 -4.0l-4.0 4.0M525.7 460.5l4.0 4.0m0 -4.0l-4.0 4.0M531.3 468.8l4.0 4.0m0 -4.0l-4.0 4.0M536.9 477.9l4.0 4.0m0 -4.0l-4.0 4.0M542.5 487.5l4.0 4.0m0 -4.0l-4.0 4.0M548.0 497.1l4.0 4.0m0 -4.0l-4.0 4.0M553.6 506.4l4.0 4.0m0 -4.0l-4.0 4.0M559.2 514.9l4.0 4.0m0 -4.0l-4.0 4.0M564.8 522.3l4.0 4.0m0 -4.0l-4.0 4.0M570.4 528.3l4.0 4.0m0 -4.0l-4.0 4.0M576.0 532.9l4.0 4.0m0 -4.0l-4.0 4.0M581.6 536.3l4.0 4.0m0 -4.0l-4.0 4.0M587.2 538.7l4.0 4.0m0 -4.0l-4.0 4.0M592.8 540.4l4.0 4.0m0 -4.0l-4.0 4.0M598.3 541.5l4.0 4.0m0 -4.0l-4.0 4.0M603.9 542.2l4.0 4.0m0 -4.0l-4.0 4.0M609.5 542.7l4.0 4.0m0 -4.0l-4.0 4.0M615.1 543.1l4.0 4.0m0 -4.0l-4.0 4.0M620.7 543.3l4.0 4.0m0 -4.0l-4.0 4.0M626.3 543.5l4.0 4.0m0 -4.0l-4.0 4.0M631.9 543.6l4.0 4.0m0 -4.0l-4.0 4.0M637.4 543.7l4.0 4.0m0 -4.0l-4.0 4.0M643.0 543.7l4.0 4.0m0 -4.0l-4.0 4.0M648.6 543.8l4.0 4.0m0 -4.0l-4.0 4.0M654.2 543.8l4.0 4.0m0 -4.0l-4.0 4.0M659.8 543.8l4.0 4.0m0 -4.0l-4.0 4.0M391.6 522.7l4.0 4.0m0 -4.0l-4.0 4.0M397.2 522.6l4.0 4.0m0 -4.0l-4.0 4.0M402.8 522.5l4.0 4.0m0 -4.0l-4.0 4.0M408.4 522.3l4.0 4.0m0 -4.0l-4.0 4.0M414.0 522.1l4.0 4.0m0 -4.0l-4.0 4.0M419.5 521.9l4.0 4.0m0 -4.0l-4.0 4.0M425.1 521.6l4.0 4.0m0 -4.0l-4.0 4.0M430.7 521.2l4.0 4.0m0 -4.0l-4.0 4.0M436.3 520.6l4.0 4.0m0 -4.0l-4.0 4.0M441.9 519.9l4.0 4.0m0 -4.0l-4.0 4.0M447.5 518.9l4.0 4.0m0 -4.0l-4.0 4.0M453.1 517.6l4.0 4.0m0 -4.0l-4.0 4.0M458.6 515.9l4.0 4.0m0 -4.0l-4.0 4.0M464.2 513.7l4.0 4.0m0 -4.0l-4.0 4.0M469.8 510.7l4.0 4.0m0 -4.0l-4.0 4.0M475.4 506.9l4.0 4.0m0 -4.0l-4.0 4.0M481.0 501.9l4.0 4.0m0 -4.0l-4.0 4.0M486.6 495.5l4.0 4.0m0 -4.0l-4.0 4.0M492.2 487.4l4.0 4.0m0 -4.0l-4.0 4.0M497.8 477.3l4.0 4.0m0 -4.0l-4.0 4.0M503.4 465.2l4.0 4.0m0 -4.0l-4.0 4.0M508.9 451.5l4.0 4.0m0 -4.0l-4.0 4.0M514.5 437.2l4.0 4.0m0 -4.0l-4.0 4.0M520.1 423.3l4.0 4.0m0 -4.0l-4.0 4.0M525.7 411.5l4.0 4.0m0 -4.0l-4.0 4.0M531.3 402.7l4.0 4.0m0 -4.0l-4.0 4.0M536.9 397.5l4.0 4.0m0 -4.0l-4.0 4.0M542.5 396.1l4.0 4.0m0 -4.0l-4.0 4.0M548.0 398.4l4.0 4.0m0 -4.0l-4.0 4.0M553.6 404.1l4.0 4.0m0 -4.0l-4.0 4.0M559.2 412.6l4.0 4.0m0 -4.0l-4.0 4.0M564.8 423.1l4.0 4.0m0 -4.0l-4.0 4.0M570.4 434.9l4.0 4.0m0 -4.0l-4.0 4.0M576.0 447.2l4.0 4.0m0 -4.0l-4.0 4.0M581.6 459.0l4.0 4.0m0 -4.0l-4.0 4.0M587.2 469.4l4.0 4.0m0 -4.0l-4.0 4.0M592.8 478.1l4.0 4.0m0 -4.0l-4.0 4.0M598.3 485.5l4.0 4.0m0 -4.0l-4.0 4.0M603.9 491.5l4.0 4.0m0 -4.0l-4.0 4.0M609.5 496.3l4.0 4.0m0 -4.0l-4.0 4.0M615.1 500.0l4.0 4.0m0 -4.0l-4.0 4.0M620.7 502.8l4.0 4.0m0 -4.0l-4.0 4.0M626.3 504.9l4.0 4.0m0 -4.0l-4.0 4.0M631.9 506.4l4.0 4.0m0 -4.0l-4.0 4.0M637.4 507.4l4.0 4.0m0 -4.0l-4.0 4.0M643.0 508.0l4.0 4.0m0 -4.0l-4.0 4.0M648.6 508.3l4.0 4.0m0 -4.0l-4.0 4.0M654.2 508.3l4.0 4.0m0 -4.0l-4.0 4.0M659.8 508.2l4.0 4.0m0 -4.0l-4.0 4.0" stroke="#555" stroke-width="0.9" fill="none"/>
<polyline points="391.4,379.1 392.0,379.1 392.7,379.1 393.4,379.1 394.1,379.1 394.8,379.1 395.5,379.1 396.1,379.1 396.8,379.1 397.5,379.1 398.2,379.1 398.9,379.1 399.6,379.1 400.2,379.1 400.9,379.1 401.6,379.1 402.3,379.1 403.0,379.2 403.7,379.2 404.3,379.2 405.0,379.2 405.7,379.2 406.4,379.2 407.1,379.2 407.8,379.2 408.4,379.2 409.1,379.2 409.8,379.2 410.5,379.2 411.2,379.2 411.9,379.2 412.5,379.2 413.2,379.2 413.9,379.2 414.6,379.2 415.3,379.2 416.0,379.2 416.7,379.2 417.3,379.2 418.0,379.2 418.7,379.2 419.4,379.2 420.1,379.2 420.8,379.2 421.4,379.2 422.1,379.2 422.8,379.2 423.5,379.2 424.2,379.3 424.9,379.3 425.5,379.3 426.2,379.3 426.9,379.3 427.6,379.3 428.3,379.3 429.0,379.3 429.6,379.3 430.3,379.3 431.0,379.3 431.7,379.3 432.4,379.3 433.1,379.3 433.7,379.3 434.4,379.4 435.1,379.4 435.8,379.4 436.5,379.4 437.2,379.4 437.8,379.4 438.5,379.4 439.2,379.4 439.9,379.4 440.6,379.4 441.3,379.5 441.9,379.5 442.6,379.5 443.3,379.5 444.0,379.5 444.7,379.5 445.4,379.5 446.0,379.6 446.7,379.6 447.4,379.6 448.1,379.6 448.8,379.6 449.5,379.6 450.1,379.7 450.8,379.7 451.5,379.7 452.2,379.7 452.9,379.7 453.6,379.8 454.2,379.8 454.9,379.8 455.6,379.8 456.3,379.9 457.0,379.9 457.7,379.9 458.3,379.9 459.0,380.0 459.7,380.0 460.4,380.0 461.1,380.1 461.8,380.1 462.4,380.1 463.1,380.2 463.8,380.2 464.5,380.3 465.2,380.3 465.9,380.3 466.5,380.4 467.2,380.4 467.9,380.5 468.6,380.5 469.3,380.6 470.0,380.7 470.6,380.7 471.3,380.8 472.0,380.8 472.7,380.9 473.4,381.0 474.1,381.0 474.7,381.1 475.4,381.2 476.1,381.3 476.8,381.4 477.5,381.5 478.2,381.5 478.8,381.6 479.5,381.7 480.2,381.8 480.9,382.0 481.6,382.1 482.3,382.2 482.9,382.3 483.6,382.4 484.3,382.6 485.0,382.7 485.7,382.9 486.4,383.0 487.0,383.2 487.7,383.3 488.4,383.5 489.1,383.7 489.8,383.9 490.5,384.1 491.1,384.3 491.8,384.5 492.5,384.7 493.2,384.9 493.9,385.2 494.6,385.4 495.2,385.7 495.9,386.0 496.6,386.2 497.3,386.5 498.0,386.8 498.7,387.1 499.3,387.5 500.0,387.8 500.7,388.2 501.4,388.5 502.1,388.9 502.8,389.3 503.4,389.7 504.1,390.1 504.8,390.6 505.5,391.0 506.2,391.5 506.9,392.0 507.5,392.5 508.2,393.0 508.9,393.6 509.6,394.1 510.3,394.7 511.0,395.3 511.6,395.9 512.3,396.5 513.0,397.2 513.7,397.8 514.4,398.5 515.1,399.2 515.7,399.9 516.4,400.7 517.1,401.4 517.8,402.2 518.5,403.0 519.2,403.8 519.8,404.7 520.5,405.5 521.2,406.4 521.9,407.3 522.6,408.2 523.3,409.1 523.9,410.0 524.6,411.0 525.3,411.9 526.0,412.9 526.7,413.9 527.4,414.9 528.0,416.0 528.7,417.0 529.4,418.1 530.1,419.2 530.8,420.2 531.5,421.3 532.1,422.5 532.8,423.6 533.5,424.7 534.2,425.9 534.9,427.0 535.6,428.2 536.2,429.4 536.9,430.6 537.6,431.8 538.3,433.0 539.0,434.2 539.7,435.4 540.3,436.6 541.0,437.9 541.7,439.1 542.4,440.4 543.1,441.6 543.8,442.9 544.4,444.2 545.1,445.4 545.8,446.7 546.5,448.0 547.2,449.3 547.9,450.6 548.5,451.9 549.2,453.2 549.9,454.5 550.6,455.8 551.3,457.1 552.0,458.4 552.6,459.7 553.3,461.0 554.0,462.3 554.7,463.6 555.4,464.9 556.1,466.2 556.7,467.5 557.4,468.8 558.1,470.1 558.8,471.4 559.5,472.7 560.2,474.0 560.8,475.3 561.5,476.5 562.2,477.8 562.9,479.1 563.6,480.4 564.3,481.6 564.9,482.9 565.6,484.2 566.3,485.4 567.0,486.7 567.7,487.9 568.4,489.1 569.0,490.3 569.7,491.6 570.4,492.8 571.1,494.0 571.8,495.2 572.5,496.3 573.1,497.5 573.8,498.7 574.5,499.8 575.2,501.0 575.9,502.1 576.6,503.2 577.2,504.3 577.9,505.4 578.6,506.5 579.3,507.5 580.0,508.6 580.7,509.6 581.3,510.6 582.0,511.6 582.7,512.6 583.4,513.6 584.1,514.5 584.8,515.4 585.4,516.4 586.1,517.3 586.8,518.2 587.5,519.0 588.2,519.9 588.9,520.7 589.5,521.5 590.2,522.3 590.9,523.1 591.6,523.8 592.3,524.6 593.0,525.3 593.6,526.0 594.3,526.7 595.0,527.3 595.7,528.0 596.4,528.6 597.1,529.2 597.7,529.8 598.4,530.4 599.1,531.0 599.8,531.5 600.5,532.0 601.2,532.5 601.8,533.0 602.5,533.5 603.2,533.9 603.9,534.4 604.6,534.8 605.3,535.2 605.9,535.6 606.6,536.0 607.3,536.4 608.0,536.7 608.7,537.1 609.4,537.4 610.0,537.7 610.7,538.0 611.4,538.3 612.1,538.6 612.8,538.8 613.5,539.1 614.1,539.3 614.8,539.6 615.5,539.8 616.2,540.0 616.9,540.2 617.6,540.5 618.2,540.6 618.9,540.8 619.6,541.0 620.3,541.2 621.0,541.4 621.7,541.5 622.3,541.7 623.0,541.8 623.7,541.9 624.4,542.1 625.1,542.2 625.8,542.3 626.4,542.5 627.1,542.6 627.8,542.7 628.5,542.8 629.2,542.9 629.9,543.0 630.5,543.1 631.2,543.2 631.9,543.2 632.6,543.3 633.3,543.4 634.0,543.5 634.6,543.5 635.3,543.6 636.0,543.7 636.7,543.7 637.4,543.8 638.1,543.9 638.7,543.9 639.4,544.0 640.1,544.0 640.8,544.1 641.5,544.1 642.2,544.2 642.9,544.2 643.5,544.3 644.2,544.3 644.9,544.3 645.6,544.4 646.3,544.4 647.0,544.5 647.6,544.5 648.3,544.5 649.0,544.5 649.7,544.6 650.4,544.6 651.1,544.6 651.7,544.7 652.4,544.7 653.1,544.7 653.8,544.7 654.5,544.8 655.2,544.8 655.8,544.8 656.5,544.8 657.2,544.8 657.9,544.9 658.6,544.9 659.3,544.9 659.9,544.9 660.6,544.9 661.3,545.0 662.0,545.0 662.7,545.0 663.4,545.0 664.0,545.0" fill="none" stroke="#4a9a5a" stroke-width="0.9" />
<polyline points="391.4,524.4 392.0,524.4 392.7,524.4 393.4,524.4 394.1,524.3 394.8,524.3 395.5,524.3 396.1,524.3 396.8,524.3 397.5,524.2 398.2,524.2 398.9,524.2 399.6,524.2 400.2,524.2 400.9,524.1 401.6,524.1 402.3,524.1 403.0,524.1 403.7,524.0 404.3,524.0 405.0,524.0 405.7,524.0 406.4,523.9 407.1,523.9 407.8,523.9 408.4,523.8 409.1,523.8 409.8,523.8 410.5,523.7 411.2,523.7 411.9,523.6 412.5,523.6 413.2,523.6 413.9,523.5 414.6,523.5 415.3,523.4 416.0,523.4 416.7,523.3 417.3,523.3 418.0,523.2 418.7,523.2 419.4,523.1 420.1,523.1 420.8,523.0 421.4,523.0 422.1,522.9 422.8,522.8 423.5,522.8 424.2,522.7 424.9,522.6 425.5,522.6 426.2,522.5 426.9,522.4 427.6,522.3 428.3,522.3 429.0,522.2 429.6,522.1 430.3,522.0 431.0,521.9 431.7,521.8 432.4,521.7 433.1,521.6 433.7,521.5 434.4,521.4 435.1,521.3 435.8,521.2 436.5,521.1 437.2,521.0 437.8,520.9 438.5,520.7 439.2,520.6 439.9,520.5 440.6,520.3 441.3,520.2 441.9,520.0 442.6,519.9 443.3,519.7 444.0,519.6 444.7,519.4 445.4,519.2 446.0,519.0 446.7,518.9 447.4,518.7 448.1,518.5 448.8,518.3 449.5,518.1 450.1,517.9 450.8,517.6 451.5,517.4 452.2,517.2 452.9,516.9 453.6,516.7 454.2,516.4 454.9,516.2 455.6,515.9 456.3,515.6 457.0,515.3 457.7,515.1 458.3,514.7 459.0,514.4 459.7,514.1 460.4,513.8 461.1,513.4 461.8,513.1 462.4,512.7 463.1,512.3 463.8,512.0 464.5,511.6 465.2,511.2 465.9,510.7 466.5,510.3 467.2,509.9 467.9,509.4 468.6,508.9 469.3,508.4 470.0,507.9 470.6,507.4 471.3,506.9 472.0,506.3 472.7,505.8 473.4,505.2 474.1,504.6 474.7,504.0 475.4,503.4 476.1,502.7 476.8,502.1 477.5,501.4 478.2,500.7 478.8,499.9 479.5,499.2 480.2,498.4 480.9,497.7 481.6,496.9 482.3,496.0 482.9,495.2 483.6,494.3 484.3,493.4 485.0,492.5 485.7,491.6 486.4,490.6 487.0,489.6 487.7,488.6 488.4,487.6 489.1,486.5 489.8,485.5 490.5,484.3 491.1,483.2 491.8,482.0 492.5,480.9 493.2,479.7 493.9,478.4 494.6,477.1 495.2,475.9 495.9,474.5 496.6,473.2 497.3,471.8 498.0,470.4 498.7,469.0 499.3,467.6 500.0,466.1 500.7,464.6 501.4,463.1 502.1,461.6 502.8,460.0 503.4,458.4 504.1,456.8 504.8,455.2 505.5,453.5 506.2,451.9 506.9,450.2 507.5,448.5 508.2,446.8 508.9,445.1 509.6,443.3 510.3,441.6 511.0,439.8 511.6,438.1 512.3,436.3 513.0,434.5 513.7,432.7 514.4,430.9 515.1,429.1 515.7,427.4 516.4,425.6 517.1,423.8 517.8,422.0 518.5,420.3 519.2,418.5 519.8,416.8 520.5,415.1 521.2,413.3 521.9,411.6 522.6,410.0 523.3,408.3 523.9,406.7 524.6,405.0 525.3,403.4 526.0,401.9 526.7,400.3 527.4,398.8 528.0,397.3 528.7,395.9 529.4,394.4 530.1,393.0 530.8,391.7 531.5,390.4 532.1,389.1 532.8,387.8 533.5,386.6 534.2,385.4 534.9,384.2 535.6,383.1 536.2,382.0 536.9,381.0 537.6,380.0 538.3,379.0 539.0,378.1 539.7,377.2 540.3,376.4 541.0,375.6 541.7,374.8 542.4,374.1 543.1,373.4 543.8,372.7 544.4,372.1 545.1,371.6 545.8,371.0 546.5,370.5 547.2,370.1 547.9,369.7 548.5,369.3 549.2,369.0 549.9,368.7 550.6,368.5 551.3,368.3 552.0,368.1 552.6,368.0 553.3,367.9 554.0,367.9 554.7,367.8 555.4,367.9 556.1,368.0 556.7,368.1 557.4,368.2 558.1,368.4 558.8,368.7 559.5,368.9 560.2,369.3 560.8,369.6 561.5,370.0 562.2,370.4 562.9,370.9 563.6,371.4 564.3,372.0 564.9,372.6 565.6,373.2 566.3,373.9 567.0,374.6 567.7,375.3 568.4,376.1 569.0,376.9 569.7,377.8 570.4,378.7 571.1,379.7 571.8,380.6 572.5,381.6 573.1,382.7 573.8,383.8 574.5,384.9 575.2,386.1 575.9,387.3 576.6,388.5 577.2,389.7 577.9,391.0 578.6,392.4 579.3,393.7 580.0,395.1 580.7,396.5 581.3,398.0 582.0,399.4 582.7,400.9 583.4,402.5 584.1,404.0 584.8,405.6 585.4,407.2 586.1,408.8 586.8,410.4 587.5,412.1 588.2,413.7 588.9,415.4 589.5,417.1 590.2,418.8 590.9,420.5 591.6,422.3 592.3,424.0 593.0,425.7 593.6,427.5 594.3,429.2 595.0,431.0 595.7,432.7 596.4,434.5 597.1,436.2 597.7,437.9 598.4,439.7 599.1,441.4 599.8,443.1 600.5,444.8 601.2,446.5 601.8,448.1 602.5,449.8 603.2,451.5 603.9,453.1 604.6,454.7 605.3,456.3 605.9,457.9 606.6,459.4 607.3,461.0 608.0,462.5 608.7,464.0 609.4,465.4 610.0,466.9 610.7,468.3 611.4,469.7 612.1,471.1 612.8,472.4 613.5,473.7 614.1,475.0 614.8,476.3 615.5,477.6 616.2,478.8 616.9,480.0 617.6,481.2 618.2,482.3 618.9,483.5 619.6,484.6 620.3,485.6 621.0,486.7 621.7,487.7 622.3,488.7 623.0,489.7 623.7,490.7 624.4,491.6 625.1,492.5 625.8,493.4 626.4,494.3 627.1,495.2 627.8,496.0 628.5,496.8 629.2,497.6 629.9,498.3 630.5,499.1 631.2,499.8 631.9,500.5 632.6,501.2 633.3,501.9 634.0,502.5 634.6,503.2 635.3,503.8 636.0,504.4 636.7,505.0 637.4,505.6 638.1,506.1 638.7,506.7 639.4,507.2 640.1,507.7 640.8,508.2 641.5,508.7 642.2,509.2 642.9,509.6 643.5,510.1 644.2,510.5 644.9,510.9 645.6,511.3 646.3,511.7 647.0,512.1 647.6,512.5 648.3,512.8 649.0,513.2 649.7,513.5 650.4,513.9 651.1,514.2 651.7,514.5 652.4,514.8 653.1,515.1 653.8,515.4 654.5,515.7 655.2,515.9 655.8,516.2 656.5,516.5 657.2,516.7 657.9,517.0 658.6,517.2 659.3,517.4 659.9,517.6 660.6,517.9 661.3,518.1 662.0,518.3 662.7,518.5 663.4,518.7 664.0,518.8" fill="none" stroke="#4a9a5a" stroke-width="0.9" />
<path d="M393.6 371.6L395.6 374.1L393.6 376.6L391.6 374.1ZM399.2 371.9L401.2 374.4L399.2 376.9L397.2 374.4ZM404.8 372.2L406.8 374.7L404.8 377.2L402.8 374.7ZM410.4 372.4L412.4 374.9L410.4 377.4L408.4 374.9ZM416.0 372.7L418.0 375.2L416.0 377.7L414.0 375.2ZM421.5 373.0L423.5 375.5L421.5 378.0L419.5 375.5ZM427.1 373.3L429.1 375.8L427.1 378.3L425.1 375.8ZM432.7 373.6L434.7 376.1L432.7 378.6L430.7 376.1ZM438.3 373.9L440.3 376.4L438.3 378.9L436.3 376.4ZM443.9 374.3L445.9 376.8L443.9 379.3L441.9 376.8ZM449.5 374.6L451.5 377.1L449.5 379.6L447.5 377.1ZM455.1 375.1L457.1 377.6L455.1 380.1L453.1 377.6ZM460.6 375.5L462.6 378.0L460.6 380.5L458.6 378.0ZM466.2 376.1L468.2 378.6L466.2 381.1L464.2 378.6ZM471.8 376.8L473.8 379.3L471.8 381.8L469.8 379.3ZM477.4 377.7L479.4 380.2L477.4 382.7L475.4 380.2ZM483.0 378.8L485.0 381.3L483.0 383.8L481.0 381.3ZM488.6 380.3L490.6 382.8L488.6 385.3L486.6 382.8ZM494.2 382.3L496.2 384.8L494.2 387.3L492.2 384.8ZM499.8 384.9L501.8 387.4L499.8 389.9L497.8 387.4ZM505.4 388.4L507.4 390.9L505.4 393.4L503.4 390.9ZM510.9 392.8L512.9 395.3L510.9 397.8L508.9 395.3ZM516.5 398.3L518.5 400.8L516.5 403.3L514.5 400.8ZM522.1 405.0L524.1 407.5L522.1 410.0L520.1 407.5ZM527.7 413.0L529.7 415.5L527.7 418.0L525.7 415.5ZM533.3 421.8L535.3 424.3L533.3 426.8L531.3 424.3ZM538.9 431.5L540.9 434.0L538.9 436.5L536.9 434.0ZM544.5 441.7L546.5 444.2L544.5 446.7L542.5 444.2ZM550.0 452.2L552.0 454.7L550.0 457.2L548.0 454.7ZM555.6 462.9L557.6 465.4L555.6 467.9L553.6 465.4ZM561.2 473.5L563.2 476.0L561.2 478.5L559.2 476.0ZM566.8 483.8L568.8 486.3L566.8 488.8L564.8 486.3ZM572.4 493.7L574.4 496.2L572.4 498.7L570.4 496.2ZM578.0 503.0L580.0 505.5L578.0 508.0L576.0 505.5ZM583.6 511.3L585.6 513.8L583.6 516.3L581.6 513.8ZM589.2 518.6L591.2 521.1L589.2 523.6L587.2 521.1ZM594.8 524.6L596.8 527.1L594.8 529.6L592.8 527.1ZM600.3 529.4L602.3 531.9L600.3 534.4L598.3 531.9ZM605.9 533.1L607.9 535.6L605.9 538.1L603.9 535.6ZM611.5 535.8L613.5 538.3L611.5 540.8L609.5 538.3ZM617.1 537.8L619.1 540.3L617.1 542.8L615.1 540.3ZM622.7 539.2L624.7 541.7L622.7 544.2L620.7 541.7ZM628.3 540.2L630.3 542.7L628.3 545.2L626.3 542.7ZM633.9 541.0L635.9 543.5L633.9 546.0L631.9 543.5ZM639.4 541.5L641.4 544.0L639.4 546.5L637.4 544.0ZM645.0 541.8L647.0 544.3L645.0 546.8L643.0 544.3ZM650.6 542.1L652.6 544.6L650.6 547.1L648.6 544.6ZM656.2 542.3L658.2 544.8L656.2 547.3L654.2 544.8ZM661.8 542.5L663.8 545.0L661.8 547.5L659.8 545.0ZM393.6 521.9L395.6 524.4L393.6 526.9L391.6 524.4ZM399.2 521.7L401.2 524.2L399.2 526.7L397.2 524.2ZM404.8 521.5L406.8 524.0L404.8 526.5L402.8 524.0ZM410.4 521.2L412.4 523.7L410.4 526.2L408.4 523.7ZM416.0 520.9L418.0 523.4L416.0 525.9L414.0 523.4ZM421.5 520.5L423.5 523.0L421.5 525.5L419.5 523.0ZM427.1 519.9L429.1 522.4L427.1 524.9L425.1 522.4ZM432.7 519.2L434.7 521.7L432.7 524.2L430.7 521.7ZM438.3 518.3L440.3 520.8L438.3 523.3L436.3 520.8ZM443.9 517.1L445.9 519.6L443.9 522.1L441.9 519.6ZM449.5 515.6L451.5 518.1L449.5 520.6L447.5 518.1ZM455.1 513.6L457.1 516.1L455.1 518.6L453.1 516.1ZM460.6 511.1L462.6 513.6L460.6 516.1L458.6 513.6ZM466.2 508.0L468.2 510.5L466.2 513.0L464.2 510.5ZM471.8 504.0L473.8 506.5L471.8 509.0L469.8 506.5ZM477.4 498.9L479.4 501.4L477.4 503.9L475.4 501.4ZM483.0 492.6L485.0 495.1L483.0 497.6L481.0 495.1ZM488.6 484.8L490.6 487.3L488.6 489.8L486.6 487.3ZM494.2 475.4L496.2 477.9L494.2 480.4L492.2 477.9ZM499.8 464.2L501.8 466.7L499.8 469.2L497.8 466.7ZM505.4 451.4L507.4 453.9L505.4 456.4L503.4 453.9ZM510.9 437.4L512.9 439.9L510.9 442.4L508.9 439.9ZM516.5 422.8L518.5 425.3L516.5 427.8L514.5 425.3ZM522.1 408.6L524.1 411.1L522.1 413.6L520.1 411.1ZM527.7 395.6L529.7 398.1L527.7 400.6L525.7 398.1ZM533.3 384.5L535.3 387.0L533.3 389.5L531.3 387.0ZM538.9 375.7L540.9 378.2L538.9 380.7L536.9 378.2ZM544.5 369.6L546.5 372.1L544.5 374.6L542.5 372.1ZM550.0 366.2L552.0 368.7L550.0 371.2L548.0 368.7ZM555.6 365.4L557.6 367.9L555.6 370.4L553.6 367.9ZM561.2 367.3L563.2 369.8L561.2 372.3L559.2 369.8ZM566.8 371.9L568.8 374.4L566.8 376.9L564.8 374.4ZM572.4 379.1L574.4 381.6L572.4 384.1L570.4 381.6ZM578.0 388.6L580.0 391.1L578.0 393.6L576.0 391.1ZM583.6 400.4L585.6 402.9L583.6 405.4L581.6 402.9ZM589.2 413.7L591.2 416.2L589.2 418.7L587.2 416.2ZM594.8 427.8L596.8 430.3L594.8 432.8L592.8 430.3ZM600.3 441.9L602.3 444.4L600.3 446.9L598.3 444.4ZM605.9 455.3L607.9 457.8L605.9 460.3L603.9 457.8ZM611.5 467.4L613.5 469.9L611.5 472.4L609.5 469.9ZM617.1 477.9L619.1 480.4L617.1 482.9L615.1 480.4ZM622.7 486.7L624.7 489.2L622.7 491.7L620.7 489.2ZM628.3 494.0L630.3 496.5L628.3 499.0L626.3 496.5ZM633.9 499.9L635.9 502.4L633.9 504.9L631.9 502.4ZM639.4 504.7L641.4 507.2L639.4 509.7L637.4 507.2ZM645.0 508.5L647.0 511.0L645.0 513.5L643.0 511.0ZM650.6 511.5L652.6 514.0L650.6 516.5L648.6 514.0ZM656.2 513.9L658.2 516.4L656.2 518.9L654.2 516.4ZM661.8 515.7L663.8 518.2L661.8 520.7L659.8 518.2Z" fill="#1f6f30"/>
<polyline points="391.4,365.8 392.0,365.8 392.7,365.8 393.4,365.8 394.1,365.8 394.8,365.8 395.5,365.8 396.1,365.8 396.8,365.8 397.5,365.8 398.2,365.8 398.9,365.8 399.6,365.8 400.2,365.8 400.9,365.8 401.6,365.8 402.3,365.8 403.0,365.8 403.7,365.8 404.3,365.8 405.0,365.8 405.7,365.8 406.4,365.8 407.1,365.9 407.8,365.9 408.4,365.9 409.1,365.9 409.8,365.9 410.5,365.9 411.2,365.9 411.9,365.9 412.5,365.9 413.2,365.9 413.9,365.9 414.6,365.9 415.3,365.9 416.0,365.9 416.7,365.9 417.3,365.9 418.0,365.9 418.7,365.9 419.4,365.9 420.1,365.9 420.8,365.9 421.4,365.9 422.1,365.9 422.8,365.9 423.5,365.9 424.2,365.9 424.9,365.9 425.5,365.9 426.2,366.0 426.9,366.0 427.6,366.0 428.3,366.0 429.0,366.0 429.6,366.0 430.3,366.0 431.0,366.0 431.7,366.0 432.4,366.0 433.1,366.0 433.7,366.0 434.4,366.0 435.1,366.0 435.8,366.1 436.5,366.1 437.2,366.1 437.8,366.1 438.5,366.1 439.2,366.1 439.9,366.1 440.6,366.1 441.3,366.1 441.9,366.2 442.6,366.2 443.3,366.2 444.0,366.2 444.7,366.2 445.4,366.2 446.0,366.2 446.7,366.3 447.4,366.3 448.1,366.3 448.8,366.3 449.5,366.3 450.1,366.3 450.8,366.4 451.5,366.4 452.2,366.4 452.9,366.4 453.6,366.5 454.2,366.5 454.9,366.5 455.6,366.5 456.3,366.6 457.0,366.6 457.7,366.6 458.3,366.6 459.0,366.7 459.7,366.7 460.4,366.7 461.1,366.8 461.8,366.8 462.4,366.8 463.1,366.9 463.8,366.9 464.5,367.0 465.2,367.0 465.9,367.1 466.5,367.1 467.2,367.2 467.9,367.2 468.6,367.3 469.3,367.3 470.0,367.4 470.6,367.4 471.3,367.5 472.0,367.6 472.7,367.6 473.4,367.7 474.1,367.8 474.7,367.9 475.4,367.9 476.1,368.0 476.8,368.1 477.5,368.2 478.2,368.3 478.8,368.4 479.5,368.5 480.2,368.6 480.9,368.7 481.6,368.8 482.3,369.0 482.9,369.1 483.6,369.2 484.3,369.4 485.0,369.5 485.7,369.7 486.4,369.8 487.0,370.0 487.7,370.2 488.4,370.4 489.1,370.5 489.8,370.7 490.5,371.0 491.1,371.2 491.8,371.4 492.5,371.6 493.2,371.9 493.9,372.1 494.6,372.4 495.2,372.7 495.9,372.9 496.6,373.2 497.3,373.5 498.0,373.9 498.7,374.2 499.3,374.5 500.0,374.9 500.7,375.3 501.4,375.7 502.1,376.1 502.8,376.5 503.4,376.9 504.1,377.4 504.8,377.8 505.5,378.3 506.2,378.8 506.9,379.3 507.5,379.9 508.2,380.4 508.9,381.0 509.6,381.6 510.3,382.2 511.0,382.8 511.6,383.4 512.3,384.1 513.0,384.8 513.7,385.5 514.4,386.2 515.1,386.9 515.7,387.7 516.4,388.5 517.1,389.2 517.8,390.1 518.5,390.9 519.2,391.7 519.8,392.6 520.5,393.5 521.2,394.4 521.9,395.3 522.6,396.3 523.3,397.2 523.9,398.2 524.6,399.2 525.3,400.2 526.0,401.2 526.7,402.3 527.4,403.3 528.0,404.4 528.7,405.5 529.4,406.6 530.1,407.7 530.8,408.8 531.5,410.0 532.1,411.1 532.8,412.3 533.5,413.4 534.2,414.6 534.9,415.8 535.6,417.0 536.2,418.3 536.9,419.5 537.6,420.7 538.3,422.0 539.0,423.2 539.7,424.5 540.3,425.8 541.0,427.0 541.7,428.3 542.4,429.6 543.1,430.9 543.8,432.2 544.4,433.5 545.1,434.8 545.8,436.1 546.5,437.5 547.2,438.8 547.9,440.1 548.5,441.5 549.2,442.8 549.9,444.2 550.6,445.5 551.3,446.9 552.0,448.2 552.6,449.6 553.3,450.9 554.0,452.3 554.7,453.6 555.4,455.0 556.1,456.3 556.7,457.7 557.4,459.1 558.1,460.4 558.8,461.8 559.5,463.1 560.2,464.5 560.8,465.9 561.5,467.2 562.2,468.6 562.9,469.9 563.6,471.3 564.3,472.6 564.9,474.0 565.6,475.3 566.3,476.7 567.0,478.0 567.7,479.3 568.4,480.7 569.0,482.0 569.7,483.3 570.4,484.6 571.1,485.9 571.8,487.2 572.5,488.5 573.1,489.8 573.8,491.1 574.5,492.4 575.2,493.7 575.9,494.9 576.6,496.2 577.2,497.4 577.9,498.7 578.6,499.9 579.3,501.1 580.0,502.3 580.7,503.5 581.3,504.7 582.0,505.9 582.7,507.1 583.4,508.2 584.1,509.4 584.8,510.5 585.4,511.6 586.1,512.7 586.8,513.8 587.5,514.9 588.2,515.9 588.9,517.0 589.5,518.0 590.2,519.0 590.9,520.0 591.6,521.0 592.3,521.9 593.0,522.9 593.6,523.8 594.3,524.7 595.0,525.6 595.7,526.5 596.4,527.3 597.1,528.2 597.7,529.0 598.4,529.8 599.1,530.6 599.8,531.3 600.5,532.1 601.2,532.8 601.8,533.5 602.5,534.2 603.2,534.8 603.9,535.5 604.6,536.1 605.3,536.7 605.9,537.3 606.6,537.9 607.3,538.4 608.0,539.0 608.7,539.5 609.4,540.0 610.0,540.5 610.7,540.9 611.4,541.4 612.1,541.8 612.8,542.3 613.5,542.7 614.1,543.1 614.8,543.4 615.5,543.8 616.2,544.1 616.9,544.5 617.6,544.8 618.2,545.1 618.9,545.4 619.6,545.7 620.3,546.0 621.0,546.2 621.7,546.5 622.3,546.7 623.0,547.0 623.7,547.2 624.4,547.4 625.1,547.6 625.8,547.8 626.4,548.0 627.1,548.2 627.8,548.4 628.5,548.5 629.2,548.7 629.9,548.8 630.5,549.0 631.2,549.1 631.9,549.3 632.6,549.4 633.3,549.5 634.0,549.6 634.6,549.8 635.3,549.9 636.0,550.0 636.7,550.1 637.4,550.2 638.1,550.3 638.7,550.4 639.4,550.4 640.1,550.5 640.8,550.6 641.5,550.7 642.2,550.8 642.9,550.8 643.5,550.9 644.2,551.0 644.9,551.0 645.6,551.1 646.3,551.1 647.0,551.2 647.6,551.2 648.3,551.3 649.0,551.3 649.7,551.4 650.4,551.4 651.1,551.5 651.7,551.5 652.4,551.6 653.1,551.6 653.8,551.6 654.5,551.7 655.2,551.7 655.8,551.7 656.5,551.8 657.2,551.8 657.9,551.8 658.6,551.8 659.3,551.9 659.9,551.9 660.6,551.9 661.3,551.9 662.0,552.0 662.7,552.0 663.4,552.0 664.0,552.0" fill="none" stroke="#9a60b8" stroke-width="0.9" />
<polyline points="391.4,524.3 392.0,524.3 392.7,524.2 393.4,524.2 394.1,524.2 394.8,524.2 395.5,524.2 396.1,524.1 396.8,524.1 397.5,524.1 398.2,524.1 398.9,524.0 399.6,524.0 400.2,524.0 400.9,524.0 401.6,523.9 402.3,523.9 403.0,523.9 403.7,523.8 404.3,523.8 405.0,523.8 405.7,523.7 406.4,523.7 407.1,523.7 407.8,523.6 408.4,523.6 409.1,523.6 409.8,523.5 410.5,523.5 411.2,523.4 411.9,523.4 412.5,523.3 413.2,523.3 413.9,523.2 414.6,523.2 415.3,523.1 416.0,523.1 416.7,523.0 417.3,523.0 418.0,522.9 418.7,522.9 419.4,522.8 420.1,522.7 420.8,522.7 421.4,522.6 422.1,522.5 422.8,522.4 423.5,522.4 424.2,522.3 424.9,522.2 425.5,522.1 426.2,522.1 426.9,522.0 427.6,521.9 428.3,521.8 429.0,521.7 429.6,521.6 430.3,521.5 431.0,521.4 431.7,521.3 432.4,521.2 433.1,521.1 433.7,520.9 434.4,520.8 435.1,520.7 435.8,520.6 436.5,520.4 437.2,520.3 437.8,520.2 438.5,520.0 439.2,519.9 439.9,519.7 440.6,519.6 441.3,519.4 441.9,519.2 442.6,519.1 443.3,518.9 444.0,518.7 444.7,518.5 445.4,518.3 446.0,518.1 446.7,517.9 447.4,517.7 448.1,517.5 448.8,517.3 449.5,517.1 450.1,516.8 450.8,516.6 451.5,516.3 452.2,516.1 452.9,515.8 453.6,515.5 454.2,515.3 454.9,515.0 455.6,514.7 456.3,514.4 457.0,514.1 457.7,513.7 458.3,513.4 459.0,513.1 459.7,512.7 460.4,512.3 461.1,512.0 461.8,511.6 462.4,511.2 463.1,510.8 463.8,510.4 464.5,509.9 465.2,509.5 465.9,509.0 466.5,508.6 467.2,508.1 467.9,507.6 468.6,507.1 469.3,506.6 470.0,506.0 470.6,505.5 471.3,504.9 472.0,504.3 472.7,503.7 473.4,503.1 474.1,502.5 474.7,501.8 475.4,501.2 476.1,500.5 476.8,499.8 477.5,499.1 478.2,498.3 478.8,497.6 479.5,496.8 480.2,496.0 480.9,495.2 481.6,494.4 482.3,493.5 482.9,492.6 483.6,491.7 484.3,490.8 485.0,489.8 485.7,488.9 486.4,487.9 487.0,486.9 487.7,485.8 488.4,484.8 489.1,483.7 489.8,482.6 490.5,481.5 491.1,480.3 491.8,479.1 492.5,477.9 493.2,476.7 493.9,475.5 494.6,474.2 495.2,472.9 495.9,471.6 496.6,470.2 497.3,468.8 498.0,467.4 498.7,466.0 499.3,464.6 500.0,463.1 500.7,461.7 501.4,460.2 502.1,458.6 502.8,457.1 503.4,455.5 504.1,453.9 504.8,452.4 505.5,450.7 506.2,449.1 506.9,447.5 507.5,445.8 508.2,444.1 508.9,442.5 509.6,440.8 510.3,439.1 511.0,437.4 511.6,435.6 512.3,433.9 513.0,432.2 513.7,430.5 514.4,428.7 515.1,427.0 515.7,425.3 516.4,423.6 517.1,421.9 517.8,420.1 518.5,418.4 519.2,416.7 519.8,415.1 520.5,413.4 521.2,411.7 521.9,410.1 522.6,408.4 523.3,406.8 523.9,405.2 524.6,403.7 525.3,402.1 526.0,400.6 526.7,399.1 527.4,397.6 528.0,396.1 528.7,394.7 529.4,393.3 530.1,391.9 530.8,390.5 531.5,389.2 532.1,387.9 532.8,386.6 533.5,385.4 534.2,384.2 534.9,383.0 535.6,381.8 536.2,380.7 536.9,379.7 537.6,378.6 538.3,377.6 539.0,376.6 539.7,375.7 540.3,374.7 541.0,373.9 541.7,373.0 542.4,372.2 543.1,371.4 543.8,370.7 544.4,370.0 545.1,369.3 545.8,368.6 546.5,368.0 547.2,367.4 547.9,366.9 548.5,366.4 549.2,365.9 549.9,365.5 550.6,365.1 551.3,364.7 552.0,364.4 552.6,364.1 553.3,363.8 554.0,363.5 554.7,363.3 555.4,363.2 556.1,363.0 556.7,362.9 557.4,362.9 558.1,362.8 558.8,362.8 559.5,362.9 560.2,362.9 560.8,363.0 561.5,363.1 562.2,363.3 562.9,363.5 563.6,363.7 564.3,364.0 564.9,364.3 565.6,364.6 566.3,365.0 567.0,365.4 567.7,365.9 568.4,366.3 569.0,366.8 569.7,367.4 570.4,367.9 571.1,368.5 571.8,369.2 572.5,369.9 573.1,370.6 573.8,371.3 574.5,372.1 575.2,372.9 575.9,373.7 576.6,374.6 577.2,375.5 577.9,376.5 578.6,377.5 579.3,378.5 580.0,379.5 580.7,380.6 581.3,381.7 582.0,382.8 582.7,384.0 583.4,385.2 584.1,386.5 584.8,387.7 585.4,389.0 586.1,390.3 586.8,391.7 587.5,393.1 588.2,394.5 588.9,395.9 589.5,397.4 590.2,398.9 590.9,400.4 591.6,401.9 592.3,403.5 593.0,405.0 593.6,406.6 594.3,408.2 595.0,409.9 595.7,411.5 596.4,413.2 597.1,414.8 597.7,416.5 598.4,418.2 599.1,419.9 599.8,421.6 600.5,423.3 601.2,425.1 601.8,426.8 602.5,428.5 603.2,430.2 603.9,432.0 604.6,433.7 605.3,435.4 605.9,437.1 606.6,438.8 607.3,440.5 608.0,442.2 608.7,443.9 609.4,445.6 610.0,447.2 610.7,448.9 611.4,450.5 612.1,452.1 612.8,453.7 613.5,455.3 614.1,456.9 614.8,458.4 615.5,460.0 616.2,461.5 616.9,462.9 617.6,464.4 618.2,465.8 618.9,467.3 619.6,468.7 620.3,470.0 621.0,471.4 621.7,472.7 622.3,474.0 623.0,475.3 623.7,476.5 624.4,477.8 625.1,479.0 625.8,480.2 626.4,481.3 627.1,482.4 627.8,483.6 628.5,484.6 629.2,485.7 629.9,486.7 630.5,487.8 631.2,488.8 631.9,489.7 632.6,490.7 633.3,491.6 634.0,492.5 634.6,493.4 635.3,494.2 636.0,495.1 636.7,495.9 637.4,496.7 638.1,497.5 638.7,498.2 639.4,499.0 640.1,499.7 640.8,500.4 641.5,501.1 642.2,501.8 642.9,502.4 643.5,503.0 644.2,503.7 644.9,504.3 645.6,504.8 646.3,505.4 647.0,506.0 647.6,506.5 648.3,507.0 649.0,507.5 649.7,508.0 650.4,508.5 651.1,509.0 651.7,509.4 652.4,509.9 653.1,510.3 653.8,510.7 654.5,511.1 655.2,511.5 655.8,511.9 656.5,512.3 657.2,512.7 657.9,513.0 658.6,513.4 659.3,513.7 659.9,514.0 660.6,514.3 661.3,514.6 662.0,514.9 662.7,515.2 663.4,515.5 664.0,515.8" fill="none" stroke="#9a60b8" stroke-width="0.9" />
<path d="M392.7 365.8a2.2 2.2 0 1 0 4.5 0a2.2 2.2 0 1 0 -4.5 0M398.3 365.8a2.2 2.2 0 1 0 4.5 0a2.2 2.2 0 1 0 -4.5 0M403.9 365.8a2.2 2.2 0 1 0 4.5 0a2.2 2.2 0 1 0 -4.5 0M409.5 365.9a2.2 2.2 0 1 0 4.5 0a2.2 2.2 0 1 0 -4.5 0M415.0 365.9a2.2 2.2 0 1 0 4.5 0a2.2 2.2 0 1 0 -4.5 0M420.6 365.9a2.2 2.2 0 1 0 4.5 0a2.2 2.2 0 1 0 -4.5 0M426.2 366.0a2.2 2.2 0 1 0 4.5 0a2.2 2.2 0 1 0 -4.5 0M431.8 366.0a2.2 2.2 0 1 0 4.5 0a2.2 2.2 0 1 0 -4.5 0M437.4 366.1a2.2 2.2 0 1 0 4.5 0a2.2 2.2 0 1 0 -4.5 0M443.0 366.2a2.2 2.2 0 1 0 4.5 0a2.2 2.2 0 1 0 -4.5 0M448.6 366.4a2.2 2.2 0 1 0 4.5 0a2.2 2.2 0 1 0 -4.5 0M454.2 366.6a2.2 2.2 0 1 0 4.5 0a2.2 2.2 0 1 0 -4.5 0M459.7 366.8a2.2 2.2 0 1 0 4.5 0a2.2 2.2 0 1 0 -4.5 0M465.3 367.2a2.2 2.2 0 1 0 4.5 0a2.2 2.2 0 1 0 -4.5 0M470.9 367.7a2.2 2.2 0 1 0 4.5 0a2.2 2.2 0 1 0 -4.5 0M476.5 368.4a2.2 2.2 0 1 0 4.5 0a2.2 2.2 0 1 0 -4.5 0M482.1 369.4a2.2 2.2 0 1 0 4.5 0a2.2 2.2 0 1 0 -4.5 0M487.7 370.8a2.2 2.2 0 1 0 4.5 0a2.2 2.2 0 1 0 -4.5 0M493.3 372.8a2.2 2.2 0 1 0 4.5 0a2.2 2.2 0 1 0 -4.5 0M498.9 375.5a2.2 2.2 0 1 0 4.5 0a2.2 2.2 0 1 0 -4.5 0M504.4 379.2a2.2 2.2 0 1 0 4.5 0a2.2 2.2 0 1 0 -4.5 0M510.0 384.0a2.2 2.2 0 1 0 4.5 0a2.2 2.2 0 1 0 -4.5 0M515.6 390.2a2.2 2.2 0 1 0 4.5 0a2.2 2.2 0 1 0 -4.5 0M521.2 397.5a2.2 2.2 0 1 0 4.5 0a2.2 2.2 0 1 0 -4.5 0M526.8 406.0a2.2 2.2 0 1 0 4.5 0a2.2 2.2 0 1 0 -4.5 0M532.4 415.4a2.2 2.2 0 1 0 4.5 0a2.2 2.2 0 1 0 -4.5 0M538.0 425.5a2.2 2.2 0 1 0 4.5 0a2.2 2.2 0 1 0 -4.5 0M543.6 436.1a2.2 2.2 0 1 0 4.5 0a2.2 2.2 0 1 0 -4.5 0M549.1 447.1a2.2 2.2 0 1 0 4.5 0a2.2 2.2 0 1 0 -4.5 0M554.7 458.2a2.2 2.2 0 1 0 4.5 0a2.2 2.2 0 1 0 -4.5 0M560.3 469.3a2.2 2.2 0 1 0 4.5 0a2.2 2.2 0 1 0 -4.5 0M565.9 480.3a2.2 2.2 0 1 0 4.5 0a2.2 2.2 0 1 0 -4.5 0M571.5 491.0a2.2 2.2 0 1 0 4.5 0a2.2 2.2 0 1 0 -4.5 0M577.1 501.2a2.2 2.2 0 1 0 4.5 0a2.2 2.2 0 1 0 -4.5 0M582.7 510.7a2.2 2.2 0 1 0 4.5 0a2.2 2.2 0 1 0 -4.5 0M588.3 519.4a2.2 2.2 0 1 0 4.5 0a2.2 2.2 0 1 0 -4.5 0M593.8 527.0a2.2 2.2 0 1 0 4.5 0a2.2 2.2 0 1 0 -4.5 0M599.4 533.3a2.2 2.2 0 1 0 4.5 0a2.2 2.2 0 1 0 -4.5 0M605.0 538.4a2.2 2.2 0 1 0 4.5 0a2.2 2.2 0 1 0 -4.5 0M610.6 542.3a2.2 2.2 0 1 0 4.5 0a2.2 2.2 0 1 0 -4.5 0M616.2 545.2a2.2 2.2 0 1 0 4.5 0a2.2 2.2 0 1 0 -4.5 0M621.8 547.3a2.2 2.2 0 1 0 4.5 0a2.2 2.2 0 1 0 -4.5 0M627.4 548.8a2.2 2.2 0 1 0 4.5 0a2.2 2.2 0 1 0 -4.5 0M633.0 549.9a2.2 2.2 0 1 0 4.5 0a2.2 2.2 0 1 0 -4.5 0M638.5 550.6a2.2 2.2 0 1 0 4.5 0a2.2 2.2 0 1 0 -4.5 0M644.1 551.1a2.2 2.2 0 1 0 4.5 0a2.2 2.2 0 1 0 -4.5 0M649.7 551.5a2.2 2.2 0 1 0 4.5 0a2.2 2.2 0 1 0 -4.5 0M655.3 551.8a2.2 2.2 0 1 0 4.5 0a2.2 2.2 0 1 0 -4.5 0M660.9 552.0a2.2 2.2 0 1 0 4.5 0a2.2 2.2 0 1 0 -4.5 0M392.7 524.2a2.2 2.2 0 1 0 4.5 0a2.2 2.2 0 1 0 -4.5 0M398.3 524.0a2.2 2.2 0 1 0 4.5 0a2.2 2.2 0 1 0 -4.5 0M403.9 523.7a2.2 2.2 0 1 0 4.5 0a2.2 2.2 0 1 0 -4.5 0M409.5 523.4a2.2 2.2 0 1 0 4.5 0a2.2 2.2 0 1 0 -4.5 0M415.0 523.0a2.2 2.2 0 1 0 4.5 0a2.2 2.2 0 1 0 -4.5 0M420.6 522.4a2.2 2.2 0 1 0 4.5 0a2.2 2.2 0 1 0 -4.5 0M426.2 521.8a2.2 2.2 0 1 0 4.5 0a2.2 2.2 0 1 0 -4.5 0M431.8 520.9a2.2 2.2 0 1 0 4.5 0a2.2 2.2 0 1 0 -4.5 0M437.4 519.8a2.2 2.2 0 1 0 4.5 0a2.2 2.2 0 1 0 -4.5 0M443.0 518.4a2.2 2.2 0 1 0 4.5 0a2.2 2.2 0 1 0 -4.5 0M448.6 516.6a2.2 2.2 0 1 0 4.5 0a2.2 2.2 0 1 0 -4.5 0M454.2 514.3a2.2 2.2 0 1 0 4.5 0a2.2 2.2 0 1 0 -4.5 0M459.7 511.4a2.2 2.2 0 1 0 4.5 0a2.2 2.2 0 1 0 -4.5 0M465.3 507.8a2.2 2.2 0 1 0 4.5 0a2.2 2.2 0 1 0 -4.5 0M470.9 503.3a2.2 2.2 0 1 0 4.5 0a2.2 2.2 0 1 0 -4.5 0M476.5 497.7a2.2 2.2 0 1 0 4.5 0a2.2 2.2 0 1 0 -4.5 0M482.1 490.7a2.2 2.2 0 1 0 4.5 0a2.2 2.2 0 1 0 -4.5 0M487.7 482.3a2.2 2.2 0 1 0 4.5 0a2.2 2.2 0 1 0 -4.5 0M493.3 472.3a2.2 2.2 0 1 0 4.5 0a2.2 2.2 0 1 0 -4.5 0M498.9 460.8a2.2 2.2 0 1 0 4.5 0a2.2 2.2 0 1 0 -4.5 0M504.4 447.9a2.2 2.2 0 1 0 4.5 0a2.2 2.2 0 1 0 -4.5 0M510.0 434.0a2.2 2.2 0 1 0 4.5 0a2.2 2.2 0 1 0 -4.5 0M515.6 420.0a2.2 2.2 0 1 0 4.5 0a2.2 2.2 0 1 0 -4.5 0M521.2 406.4a2.2 2.2 0 1 0 4.5 0a2.2 2.2 0 1 0 -4.5 0M526.8 394.0a2.2 2.2 0 1 0 4.5 0a2.2 2.2 0 1 0 -4.5 0M532.4 383.4a2.2 2.2 0 1 0 4.5 0a2.2 2.2 0 1 0 -4.5 0M538.0 374.9a2.2 2.2 0 1 0 4.5 0a2.2 2.2 0 1 0 -4.5 0M543.6 368.6a2.2 2.2 0 1 0 4.5 0a2.2 2.2 0 1 0 -4.5 0M549.1 364.6a2.2 2.2 0 1 0 4.5 0a2.2 2.2 0 1 0 -4.5 0M554.7 362.9a2.2 2.2 0 1 0 4.5 0a2.2 2.2 0 1 0 -4.5 0M560.3 363.4a2.2 2.2 0 1 0 4.5 0a2.2 2.2 0 1 0 -4.5 0M565.9 366.2a2.2 2.2 0 1 0 4.5 0a2.2 2.2 0 1 0 -4.5 0M571.5 371.2a2.2 2.2 0 1 0 4.5 0a2.2 2.2 0 1 0 -4.5 0M577.1 378.5a2.2 2.2 0 1 0 4.5 0a2.2 2.2 0 1 0 -4.5 0M582.7 388.0a2.2 2.2 0 1 0 4.5 0a2.2 2.2 0 1 0 -4.5 0M588.3 399.5a2.2 2.2 0 1 0 4.5 0a2.2 2.2 0 1 0 -4.5 0M593.8 412.5a2.2 2.2 0 1 0 4.5 0a2.2 2.2 0 1 0 -4.5 0M599.4 426.4a2.2 2.2 0 1 0 4.5 0a2.2 2.2 0 1 0 -4.5 0M605.0 440.4a2.2 2.2 0 1 0 4.5 0a2.2 2.2 0 1 0 -4.5 0M610.6 453.9a2.2 2.2 0 1 0 4.5 0a2.2 2.2 0 1 0 -4.5 0M616.2 466.2a2.2 2.2 0 1 0 4.5 0a2.2 2.2 0 1 0 -4.5 0M621.8 477.1a2.2 2.2 0 1 0 4.5 0a2.2 2.2 0 1 0 -4.5 0M627.4 486.4a2.2 2.2 0 1 0 4.5 0a2.2 2.2 0 1 0 -4.5 0M633.0 494.1a2.2 2.2 0 1 0 4.5 0a2.2 2.2 0 1 0 -4.5 0M638.5 500.4a2.2 2.2 0 1 0 4.5 0a2.2 2.2 0 1 0 -4.5 0M644.1 505.5a2.2 2.2 0 1 0 4.5 0a2.2 2.2 0 1 0 -4.5 0M649.7 509.6a2.2 2.2 0 1 0 4.5 0a2.2 2.2 0 1 0 -4.5 0M655.3 512.8a2.2 2.2 0 1 0 4.5 0a2.2 2.2 0 1 0 -4.5 0M660.9 515.4a2.2 2.2 0 1 0 4.5 0a2.2 2.2 0 1 0 -4.5 0" stroke="#8040a0" stroke-width="0.9" fill="none"/>
<polyline points="391.4,337.7 392.0,337.7 392.7,337.7 393.4,337.7 394.1,337.7 394.8,337.7 395.5,337.7 396.1,337.7 396.8,337.7 397.5,337.7 398.2,337.7 398.9,337.7 399.6,337.7 400.2,337.7 400.9,337.7 401.6,337.7 402.3,337.7 403.0,337.7 403.7,337.7 404.3,337.7 405.0,337.7 405.7,337.7 406.4,337.7 407.1,337.7 407.8,337.7 408.4,337.7 409.1,337.7 409.8,337.7 410.5,337.7 411.2,337.7 411.9,337.7 412.5,337.7 413.2,337.7 413.9,337.7 414.6,337.7 415.3,337.7 416.0,337.7 416.7,337.8 417.3,337.8 418.0,337.8 418.7,337.8 419.4,337.8 420.1,337.8 420.8,337.8 421.4,337.8 422.1,337.8 422.8,337.8 423.5,337.8 424.2,337.8 424.9,337.8 425.5,337.8 426.2,337.8 426.9,337.8 427.6,337.9 428.3,337.9 429.0,337.9 429.6,337.9 430.3,337.9 431.0,337.9 431.7,337.9 432.4,337.9 433.1,337.9 433.7,337.9 434.4,338.0 435.1,338.0 435.8,338.0 436.5,338.0 437.2,338.0 437.8,338.0 438.5,338.0 439.2,338.1 439.9,338.1 440.6,338.1 441.3,338.1 441.9,338.1 442.6,338.1 443.3,338.2 444.0,338.2 444.7,338.2 445.4,338.2 446.0,338.2 446.7,338.3 447.4,338.3 448.1,338.3 448.8,338.3 449.5,338.4 450.1,338.4 450.8,338.4 451.5,338.5 452.2,338.5 452.9,338.5 453.6,338.6 454.2,338.6 454.9,338.6 455.6,338.7 456.3,338.7 457.0,338.8 457.7,338.8 458.3,338.9 459.0,338.9 459.7,339.0 460.4,339.0 461.1,339.1 461.8,339.1 462.4,339.2 463.1,339.3 463.8,339.3 464.5,339.4 465.2,339.5 465.9,339.5 466.5,339.6 467.2,339.7 467.9,339.8 468.6,339.9 469.3,340.0 470.0,340.1 470.6,340.2 471.3,340.3 472.0,340.4 472.7,340.5 473.4,340.6 474.1,340.8 474.7,340.9 475.4,341.0 476.1,341.2 476.8,341.3 477.5,341.5 478.2,341.7 478.8,341.8 479.5,342.0 480.2,342.2 480.9,342.4 481.6,342.6 482.3,342.8 482.9,343.1 483.6,343.3 484.3,343.6 485.0,343.8 485.7,344.1 486.4,344.4 487.0,344.7 487.7,345.0 488.4,345.3 489.1,345.6 489.8,346.0 490.5,346.3 491.1,346.7 491.8,347.1 492.5,347.5 493.2,347.9 493.9,348.4 494.6,348.8 495.2,349.3 495.9,349.8 496.6,350.3 497.3,350.8 498.0,351.3 498.7,351.9 499.3,352.5 500.0,353.1 500.7,353.7 501.4,354.3 502.1,355.0 502.8,355.7 503.4,356.4 504.1,357.1 504.8,357.9 505.5,358.6 506.2,359.4 506.9,360.2 507.5,361.0 508.2,361.9 508.9,362.7 509.6,363.6 510.3,364.5 511.0,365.4 511.6,366.4 512.3,367.3 513.0,368.3 513.7,369.3 514.4,370.3 515.1,371.4 515.7,372.4 516.4,373.5 517.1,374.6 517.8,375.7 518.5,376.8 519.2,377.9 519.8,379.0 520.5,380.2 521.2,381.4 521.9,382.6 522.6,383.8 523.3,385.0 523.9,386.2 524.6,387.5 525.3,388.7 526.0,390.0 526.7,391.2 527.4,392.5 528.0,393.8 528.7,395.1 529.4,396.4 530.1,397.7 530.8,399.1 531.5,400.4 532.1,401.7 532.8,403.1 533.5,404.4 534.2,405.8 534.9,407.2 535.6,408.5 536.2,409.9 536.9,411.3 537.6,412.7 538.3,414.1 539.0,415.5 539.7,416.9 540.3,418.3 541.0,419.7 541.7,421.1 542.4,422.5 543.1,424.0 543.8,425.4 544.4,426.8 545.1,428.2 545.8,429.7 546.5,431.1 547.2,432.5 547.9,434.0 548.5,435.4 549.2,436.8 549.9,438.3 550.6,439.7 551.3,441.2 552.0,442.6 552.6,444.0 553.3,445.5 554.0,446.9 554.7,448.4 555.4,449.8 556.1,451.3 556.7,452.7 557.4,454.1 558.1,455.6 558.8,457.0 559.5,458.5 560.2,459.9 560.8,461.3 561.5,462.8 562.2,464.2 562.9,465.6 563.6,467.0 564.3,468.5 564.9,469.9 565.6,471.3 566.3,472.7 567.0,474.1 567.7,475.5 568.4,476.9 569.0,478.3 569.7,479.7 570.4,481.1 571.1,482.5 571.8,483.9 572.5,485.3 573.1,486.6 573.8,488.0 574.5,489.4 575.2,490.7 575.9,492.1 576.6,493.4 577.2,494.7 577.9,496.0 578.6,497.3 579.3,498.6 580.0,499.9 580.7,501.2 581.3,502.5 582.0,503.8 582.7,505.0 583.4,506.3 584.1,507.5 584.8,508.7 585.4,509.9 586.1,511.1 586.8,512.3 587.5,513.4 588.2,514.6 588.9,515.7 589.5,516.8 590.2,517.9 590.9,519.0 591.6,520.1 592.3,521.2 593.0,522.2 593.6,523.2 594.3,524.2 595.0,525.2 595.7,526.2 596.4,527.1 597.1,528.0 597.7,529.0 598.4,529.8 599.1,530.7 599.8,531.6 600.5,532.4 601.2,533.2 601.8,534.0 602.5,534.7 603.2,535.5 603.9,536.2 604.6,536.9 605.3,537.6 605.9,538.3 606.6,538.9 607.3,539.5 608.0,540.2 608.7,540.7 609.4,541.3 610.0,541.9 610.7,542.4 611.4,542.9 612.1,543.4 612.8,543.9 613.5,544.3 614.1,544.8 614.8,545.2 615.5,545.6 616.2,546.0 616.9,546.4 617.6,546.7 618.2,547.1 618.9,547.4 619.6,547.8 620.3,548.1 621.0,548.4 621.7,548.6 622.3,548.9 623.0,549.2 623.7,549.4 624.4,549.7 625.1,549.9 625.8,550.1 626.4,550.3 627.1,550.5 627.8,550.7 628.5,550.9 629.2,551.1 629.9,551.3 630.5,551.4 631.2,551.6 631.9,551.7 632.6,551.9 633.3,552.0 634.0,552.1 634.6,552.3 635.3,552.4 636.0,552.5 636.7,552.6 637.4,552.7 638.1,552.8 638.7,552.9 639.4,553.0 640.1,553.1 640.8,553.2 641.5,553.2 642.2,553.3 642.9,553.4 643.5,553.5 644.2,553.5 644.9,553.6 645.6,553.7 646.3,553.7 647.0,553.8 647.6,553.8 648.3,553.9 649.0,553.9 649.7,554.0 650.4,554.0 651.1,554.1 651.7,554.1 652.4,554.1 653.1,554.2 653.8,554.2 654.5,554.3 655.2,554.3 655.8,554.3 656.5,554.4 657.2,554.4 657.9,554.4 658.6,554.4 659.3,554.5 659.9,554.5 660.6,554.5 661.3,554.5 662.0,554.6 662.7,554.6 663.4,554.6 664.0,554.6" fill="none" stroke="#a07070" stroke-width="0.9" />
<polyline points="391.4,524.2 392.0,524.1 392.7,524.1 393.4,524.1 394.1,524.1 394.8,524.0 395.5,524.0 396.1,524.0 396.8,524.0 397.5,523.9 398.2,523.9 398.9,523.9 399.6,523.8 400.2,523.8 400.9,523.8 401.6,523.7 402.3,523.7 403.0,523.6 403.7,523.6 404.3,523.6 405.0,523.5 405.7,523.5 406.4,523.4 407.1,523.4 407.8,523.3 408.4,523.3 409.1,523.2 409.8,523.2 410.5,523.1 411.2,523.1 411.9,523.0 412.5,523.0 413.2,522.9 413.9,522.8 414.6,522.8 415.3,522.7 416.0,522.6 416.7,522.6 417.3,522.5 418.0,522.4 418.7,522.3 419.4,522.2 420.1,522.2 420.8,522.1 421.4,522.0 422.1,521.9 422.8,521.8 423.5,521.7 424.2,521.6 424.9,521.5 425.5,521.4 426.2,521.3 426.9,521.2 427.6,521.0 428.3,520.9 429.0,520.8 429.6,520.7 430.3,520.5 431.0,520.4 431.7,520.2 432.4,520.1 433.1,519.9 433.7,519.8 434.4,519.6 435.1,519.5 435.8,519.3 436.5,519.1 437.2,518.9 437.8,518.7 438.5,518.6 439.2,518.4 439.9,518.1 440.6,517.9 441.3,517.7 441.9,517.5 442.6,517.3 443.3,517.0 444.0,516.8 444.7,516.5 445.4,516.2 446.0,516.0 446.7,515.7 447.4,515.4 448.1,515.1 448.8,514.8 449.5,514.5 450.1,514.2 450.8,513.8 451.5,513.5 452.2,513.1 452.9,512.7 453.6,512.4 454.2,512.0 454.9,511.6 455.6,511.2 456.3,510.7 457.0,510.3 457.7,509.8 458.3,509.4 459.0,508.9 459.7,508.4 460.4,507.9 461.1,507.4 461.8,506.8 462.4,506.3 463.1,505.7 463.8,505.1 464.5,504.5 465.2,503.9 465.9,503.2 466.5,502.6 467.2,501.9 467.9,501.2 468.6,500.5 469.3,499.7 470.0,499.0 470.6,498.2 471.3,497.4 472.0,496.5 472.7,495.7 473.4,494.8 474.1,493.9 474.7,493.0 475.4,492.1 476.1,491.1 476.8,490.1 477.5,489.1 478.2,488.0 478.8,487.0 479.5,485.9 480.2,484.7 480.9,483.6 481.6,482.4 482.3,481.2 482.9,479.9 483.6,478.7 484.3,477.4 485.0,476.1 485.7,474.7 486.4,473.3 487.0,471.9 487.7,470.5 488.4,469.0 489.1,467.5 489.8,466.0 490.5,464.4 491.1,462.8 491.8,461.2 492.5,459.6 493.2,457.9 493.9,456.3 494.6,454.5 495.2,452.8 495.9,451.0 496.6,449.3 497.3,447.5 498.0,445.6 498.7,443.8 499.3,441.9 500.0,440.1 500.7,438.2 501.4,436.3 502.1,434.4 502.8,432.4 503.4,430.5 504.1,428.6 504.8,426.6 505.5,424.7 506.2,422.7 506.9,420.7 507.5,418.8 508.2,416.8 508.9,414.9 509.6,412.9 510.3,411.0 511.0,409.1 511.6,407.2 512.3,405.3 513.0,403.4 513.7,401.5 514.4,399.7 515.1,397.8 515.7,396.0 516.4,394.2 517.1,392.5 517.8,390.7 518.5,389.0 519.2,387.3 519.8,385.6 520.5,384.0 521.2,382.4 521.9,380.8 522.6,379.3 523.3,377.8 523.9,376.3 524.6,374.8 525.3,373.4 526.0,372.0 526.7,370.7 527.4,369.3 528.0,368.1 528.7,366.8 529.4,365.6 530.1,364.4 530.8,363.3 531.5,362.1 532.1,361.1 532.8,360.0 533.5,359.0 534.2,358.0 534.9,357.1 535.6,356.2 536.2,355.3 536.9,354.5 537.6,353.7 538.3,352.9 539.0,352.1 539.7,351.4 540.3,350.8 541.0,350.1 541.7,349.5 542.4,348.9 543.1,348.4 543.8,347.9 544.4,347.4 545.1,346.9 545.8,346.5 546.5,346.1 547.2,345.7 547.9,345.4 548.5,345.1 549.2,344.8 549.9,344.6 550.6,344.4 551.3,344.2 552.0,344.1 552.6,343.9 553.3,343.8 554.0,343.8 554.7,343.7 555.4,343.7 556.1,343.8 556.7,343.8 557.4,343.9 558.1,344.0 558.8,344.1 559.5,344.3 560.2,344.5 560.8,344.7 561.5,345.0 562.2,345.3 562.9,345.6 563.6,346.0 564.3,346.3 564.9,346.7 565.6,347.2 566.3,347.7 567.0,348.2 567.7,348.7 568.4,349.3 569.0,349.9 569.7,350.5 570.4,351.2 571.1,351.8 571.8,352.6 572.5,353.3 573.1,354.1 573.8,354.9 574.5,355.8 575.2,356.7 575.9,357.6 576.6,358.6 577.2,359.6 577.9,360.6 578.6,361.7 579.3,362.8 580.0,363.9 580.7,365.0 581.3,366.2 582.0,367.5 582.7,368.7 583.4,370.0 584.1,371.4 584.8,372.7 585.4,374.1 586.1,375.6 586.8,377.0 587.5,378.5 588.2,380.1 588.9,381.6 589.5,383.2 590.2,384.8 590.9,386.5 591.6,388.1 592.3,389.8 593.0,391.6 593.6,393.3 594.3,395.1 595.0,396.9 595.7,398.7 596.4,400.5 597.1,402.4 597.7,404.3 598.4,406.1 599.1,408.0 599.8,410.0 600.5,411.9 601.2,413.8 601.8,415.7 602.5,417.7 603.2,419.6 603.9,421.6 604.6,423.5 605.3,425.5 605.9,427.4 606.6,429.4 607.3,431.3 608.0,433.2 608.7,435.1 609.4,437.0 610.0,438.9 610.7,440.8 611.4,442.7 612.1,444.5 612.8,446.3 613.5,448.1 614.1,449.9 614.8,451.7 615.5,453.4 616.2,455.2 616.9,456.9 617.6,458.5 618.2,460.2 618.9,461.8 619.6,463.4 620.3,465.0 621.0,466.5 621.7,468.0 622.3,469.5 623.0,470.9 623.7,472.4 624.4,473.8 625.1,475.1 625.8,476.5 626.4,477.8 627.1,479.1 627.8,480.3 628.5,481.5 629.2,482.7 629.9,483.9 630.5,485.1 631.2,486.2 631.9,487.3 632.6,488.3 633.3,489.4 634.0,490.4 634.6,491.3 635.3,492.3 636.0,493.2 636.7,494.2 637.4,495.0 638.1,495.9 638.7,496.7 639.4,497.6 640.1,498.4 640.8,499.1 641.5,499.9 642.2,500.6 642.9,501.3 643.5,502.0 644.2,502.7 644.9,503.4 645.6,504.0 646.3,504.6 647.0,505.2 647.6,505.8 648.3,506.4 649.0,506.9 649.7,507.5 650.4,508.0 651.1,508.5 651.7,509.0 652.4,509.5 653.1,509.9 653.8,510.4 654.5,510.8 655.2,511.2 655.8,511.6 656.5,512.0 657.2,512.4 657.9,512.8 658.6,513.2 659.3,513.5 659.9,513.9 660.6,514.2 661.3,514.5 662.0,514.8 662.7,515.1 663.4,515.4 664.0,515.7" fill="none" stroke="#a07070" stroke-width="0.9" />
<path d="M396.3 335.7L398.3 339.3H394.3ZM401.9 335.7L403.9 339.3H399.9ZM407.5 335.7L409.5 339.3H405.5ZM413.0 335.7L415.0 339.3H411.0ZM418.6 335.8L420.6 339.4H416.6ZM424.2 335.8L426.2 339.4H422.2ZM429.8 335.9L431.8 339.5H427.8ZM435.4 336.0L437.4 339.6H433.4ZM441.0 336.1L443.0 339.7H439.0ZM446.6 336.3L448.6 339.9H444.6ZM452.2 336.5L454.2 340.1H450.2ZM457.7 336.8L459.7 340.4H455.7ZM463.3 337.3L465.3 340.9H461.3ZM468.9 337.9L470.9 341.5H466.9ZM474.5 338.8L476.5 342.4H472.5ZM480.1 340.2L482.1 343.8H478.1ZM485.7 342.1L487.7 345.7H483.7ZM491.3 344.8L493.3 348.4H489.3ZM496.9 348.5L498.9 352.1H494.9ZM502.4 353.4L504.4 357.0H500.4ZM508.0 359.6L510.0 363.2H506.0ZM513.6 367.2L515.6 370.8H511.6ZM519.2 376.0L521.2 379.6H517.2ZM524.8 385.8L526.8 389.4H522.8ZM530.4 396.3L532.4 399.9H528.4ZM536.0 407.4L538.0 411.0H534.0ZM541.6 418.8L543.6 422.4H539.6ZM547.1 430.5L549.1 434.1H545.1ZM552.7 442.2L554.7 445.8H550.7ZM558.3 454.0L560.3 457.6H556.3ZM563.9 465.7L565.9 469.3H561.9ZM569.5 477.3L571.5 480.9H567.5ZM575.1 488.5L577.1 492.1H573.1ZM580.7 499.2L582.7 502.8H578.7ZM586.3 509.3L588.3 512.9H584.3ZM591.8 518.5L593.8 522.1H589.8ZM597.4 526.5L599.4 530.1H595.4ZM603.0 533.3L605.0 536.9H601.0ZM608.6 538.7L610.6 542.3H606.6ZM614.2 542.8L616.2 546.4H612.2ZM619.8 545.8L621.8 549.4H617.8ZM625.4 548.0L627.4 551.6H623.4ZM631.0 549.5L633.0 553.1H629.0ZM636.5 550.6L638.5 554.2H634.5ZM642.1 551.3L644.1 554.9H640.1ZM647.7 551.8L649.7 555.4H645.7ZM653.3 552.2L655.3 555.8H651.3ZM658.9 552.5L660.9 556.1H656.9ZM664.5 552.6L666.5 556.2H662.5ZM396.3 522.0L398.3 525.6H394.3ZM401.9 521.7L403.9 525.3H399.9ZM407.5 521.4L409.5 525.0H405.5ZM413.0 520.9L415.0 524.5H411.0ZM418.6 520.3L420.6 523.9H416.6ZM424.2 519.6L426.2 523.2H422.2ZM429.8 518.6L431.8 522.2H427.8ZM435.4 517.4L437.4 521.0H433.4ZM441.0 515.8L443.0 519.4H439.0ZM446.6 513.8L448.6 517.4H444.6ZM452.2 511.1L454.2 514.7H450.2ZM457.7 507.8L459.7 511.4H455.7ZM463.3 503.5L465.3 507.1H461.3ZM468.9 498.1L470.9 501.7H466.9ZM474.5 491.3L476.5 494.9H472.5ZM480.1 482.9L482.1 486.5H478.1ZM485.7 472.7L487.7 476.3H483.7ZM491.3 460.5L493.3 464.1H489.3ZM496.9 446.6L498.9 450.2H494.9ZM502.4 431.3L504.4 434.9H500.4ZM508.0 415.4L510.0 419.0H506.0ZM513.6 399.7L515.6 403.3H511.6ZM519.2 385.2L521.2 388.8H517.2ZM524.8 372.5L526.8 376.1H522.8ZM530.4 361.9L532.4 365.5H528.4ZM536.0 353.7L538.0 357.3H534.0ZM541.6 347.6L543.6 351.2H539.6ZM547.1 343.8L549.1 347.4H545.1ZM552.7 341.9L554.7 345.5H550.7ZM558.3 342.0L560.3 345.6H556.3ZM563.9 344.1L565.9 347.7H561.9ZM569.5 348.3L571.5 351.9H567.5ZM575.1 354.5L577.1 358.1H573.1ZM580.7 363.1L582.7 366.7H578.7ZM586.3 373.8L588.3 377.4H584.3ZM591.8 386.8L593.8 390.4H589.8ZM597.4 401.4L599.4 405.0H595.4ZM603.0 417.1L605.0 420.7H601.0ZM608.6 432.9L610.6 436.5H606.6ZM614.2 448.1L616.2 451.7H612.2ZM619.8 461.8L621.8 465.4H617.8ZM625.4 473.7L627.4 477.3H623.4ZM631.0 483.7L633.0 487.3H629.0ZM636.5 491.9L638.5 495.5H634.5ZM642.1 498.6L644.1 502.2H640.1ZM647.7 503.9L649.7 507.5H645.7ZM653.3 508.1L655.3 511.7H651.3ZM658.9 511.3L660.9 514.9H656.9ZM664.5 513.9L666.5 517.5H662.5Z" stroke="#6a3838" stroke-width="0.9" fill="none"/>
<polyline points="391.4,318.8 392.0,318.8 392.7,318.8 393.4,318.8 394.1,318.8 394.8,318.8 395.5,318.8 396.1,318.8 396.8,318.8 397.5,318.8 398.2,318.8 398.9,318.8 399.6,318.8 400.2,318.8 400.9,318.8 401.6,318.8 402.3,318.8 403.0,318.8 403.7,318.8 404.3,318.8 405.0,318.8 405.7,318.8 406.4,318.8 407.1,318.8 407.8,318.8 408.4,318.8 409.1,318.8 409.8,318.8 410.5,318.8 411.2,318.8 411.9,318.8 412.5,318.8 413.2,318.8 413.9,318.8 414.6,318.8 415.3,318.9 416.0,318.9 416.7,318.9 417.3,318.9 418.0,318.9 418.7,318.9 419.4,318.9 420.1,318.9 420.8,318.9 421.4,318.9 422.1,318.9 422.8,318.9 423.5,318.9 424.2,318.9 424.9,318.9 425.5,318.9 426.2,319.0 426.9,319.0 427.6,319.0 428.3,319.0 429.0,319.0 429.6,319.0 430.3,319.0 431.0,319.0 431.7,319.0 432.4,319.0 433.1,319.1 433.7,319.1 434.4,319.1 435.1,319.1 435.8,319.1 436.5,319.1 437.2,319.1 437.8,319.2 438.5,319.2 439.2,319.2 439.9,319.2 440.6,319.2 441.3,319.3 441.9,319.3 442.6,319.3 443.3,319.3 444.0,319.3 444.7,319.4 445.4,319.4 446.0,319.4 446.7,319.4 447.4,319.5 448.1,319.5 448.8,319.5 449.5,319.6 450.1,319.6 450.8,319.6 451.5,319.7 452.2,319.7 452.9,319.7 453.6,319.8 454.2,319.8 454.9,319.9 455.6,319.9 456.3,320.0 457.0,320.0 457.7,320.1 458.3,320.1 459.0,320.2 459.7,320.2 460.4,320.3 461.1,320.4 461.8,320.4 462.4,320.5 463.1,320.6 463.8,320.7 464.5,320.8 465.2,320.8 465.9,320.9 466.5,321.0 467.2,321.1 467.9,321.2 468.6,321.3 469.3,321.5 470.0,321.6 470.6,321.7 471.3,321.8 472.0,322.0 472.7,322.1 473.4,322.3 474.1,322.4 474.7,322.6 475.4,322.8 476.1,323.0 476.8,323.1 477.5,323.3 478.2,323.6 478.8,323.8 479.5,324.0 480.2,324.2 480.9,324.5 481.6,324.7 482.3,325.0 482.9,325.3 483.6,325.6 484.3,325.9 485.0,326.2 485.7,326.6 486.4,326.9 487.0,327.3 487.7,327.7 488.4,328.1 489.1,328.5 489.8,328.9 490.5,329.3 491.1,329.8 491.8,330.3 492.5,330.8 493.2,331.3 493.9,331.8 494.6,332.4 495.2,333.0 495.9,333.5 496.6,334.2 497.3,334.8 498.0,335.4 498.7,336.1 499.3,336.8 500.0,337.5 500.7,338.3 501.4,339.0 502.1,339.8 502.8,340.6 503.4,341.4 504.1,342.2 504.8,343.1 505.5,344.0 506.2,344.9 506.9,345.8 507.5,346.7 508.2,347.7 508.9,348.7 509.6,349.7 510.3,350.7 511.0,351.7 511.6,352.8 512.3,353.8 513.0,354.9 513.7,356.0 514.4,357.1 515.1,358.2 515.7,359.4 516.4,360.5 517.1,361.7 517.8,362.9 518.5,364.1 519.2,365.3 519.8,366.5 520.5,367.8 521.2,369.0 521.9,370.3 522.6,371.5 523.3,372.8 523.9,374.1 524.6,375.4 525.3,376.7 526.0,378.0 526.7,379.3 527.4,380.7 528.0,382.0 528.7,383.4 529.4,384.7 530.1,386.1 530.8,387.4 531.5,388.8 532.1,390.2 532.8,391.6 533.5,392.9 534.2,394.3 534.9,395.7 535.6,397.1 536.2,398.5 536.9,399.9 537.6,401.3 538.3,402.7 539.0,404.2 539.7,405.6 540.3,407.0 541.0,408.4 541.7,409.8 542.4,411.3 543.1,412.7 543.8,414.1 544.4,415.6 545.1,417.0 545.8,418.4 546.5,419.9 547.2,421.3 547.9,422.7 548.5,424.2 549.2,425.6 549.9,427.1 550.6,428.5 551.3,429.9 552.0,431.4 552.6,432.8 553.3,434.3 554.0,435.7 554.7,437.1 555.4,438.6 556.1,440.0 556.7,441.4 557.4,442.9 558.1,444.3 558.8,445.7 559.5,447.2 560.2,448.6 560.8,450.0 561.5,451.5 562.2,452.9 562.9,454.3 563.6,455.7 564.3,457.1 564.9,458.5 565.6,460.0 566.3,461.4 567.0,462.8 567.7,464.2 568.4,465.6 569.0,466.9 569.7,468.3 570.4,469.7 571.1,471.1 571.8,472.5 572.5,473.8 573.1,475.2 573.8,476.5 574.5,477.9 575.2,479.2 575.9,480.6 576.6,481.9 577.2,483.2 577.9,484.5 578.6,485.9 579.3,487.1 580.0,488.4 580.7,489.7 581.3,491.0 582.0,492.2 582.7,493.5 583.4,494.7 584.1,496.0 584.8,497.2 585.4,498.4 586.1,499.6 586.8,500.8 587.5,501.9 588.2,503.1 588.9,504.2 589.5,505.4 590.2,506.5 590.9,507.6 591.6,508.6 592.3,509.7 593.0,510.8 593.6,511.8 594.3,512.8 595.0,513.8 595.7,514.8 596.4,515.8 597.1,516.7 597.7,517.6 598.4,518.5 599.1,519.4 599.8,520.3 600.5,521.1 601.2,522.0 601.8,522.8 602.5,523.6 603.2,524.3 603.9,525.1 604.6,525.8 605.3,526.5 605.9,527.2 606.6,527.9 607.3,528.6 608.0,529.2 608.7,529.8 609.4,530.4 610.0,531.0 610.7,531.5 611.4,532.1 612.1,532.6 612.8,533.1 613.5,533.6 614.1,534.1 614.8,534.5 615.5,535.0 616.2,535.4 616.9,535.8 617.6,536.2 618.2,536.6 618.9,536.9 619.6,537.3 620.3,537.6 621.0,537.9 621.7,538.3 622.3,538.6 623.0,538.8 623.7,539.1 624.4,539.4 625.1,539.6 625.8,539.9 626.4,540.1 627.1,540.3 627.8,540.5 628.5,540.7 629.2,540.9 629.9,541.1 630.5,541.3 631.2,541.5 631.9,541.6 632.6,541.8 633.3,542.0 634.0,542.1 634.6,542.2 635.3,542.4 636.0,542.5 636.7,542.6 637.4,542.7 638.1,542.9 638.7,543.0 639.4,543.1 640.1,543.2 640.8,543.3 641.5,543.4 642.2,543.4 642.9,543.5 643.5,543.6 644.2,543.7 644.9,543.8 645.6,543.8 646.3,543.9 647.0,544.0 647.6,544.0 648.3,544.1 649.0,544.1 649.7,544.2 650.4,544.2 651.1,544.3 651.7,544.3 652.4,544.4 653.1,544.4 653.8,544.5 654.5,544.5 655.2,544.6 655.8,544.6 656.5,544.6 657.2,544.7 657.9,544.7 658.6,544.7 659.3,544.8 659.9,544.8 660.6,544.8 661.3,544.9 662.0,544.9 662.7,544.9 663.4,544.9 664.0,545.0" fill="none" stroke="#c87070" stroke-width="0.9" />
<polyline points="391.4,524.2 392.0,524.1 392.7,524.1 393.4,524.1 394.1,524.0 394.8,524.0 395.5,524.0 396.1,524.0 396.8,523.9 397.5,523.9 398.2,523.9 398.9,523.8 399.6,523.8 400.2,523.8 400.9,523.7 401.6,523.7 402.3,523.6 403.0,523.6 403.7,523.6 404.3,523.5 405.0,523.5 405.7,523.4 406.4,523.4 407.1,523.3 407.8,523.3 408.4,523.2 409.1,523.2 409.8,523.1 410.5,523.0 411.2,523.0 411.9,522.9 412.5,522.9 413.2,522.8 413.9,522.7 414.6,522.6 415.3,522.6 416.0,522.5 416.7,522.4 417.3,522.3 418.0,522.3 418.7,522.2 419.4,522.1 420.1,522.0 420.8,521.9 421.4,521.8 422.1,521.7 422.8,521.6 423.5,521.5 424.2,521.4 424.9,521.2 425.5,521.1 426.2,521.0 426.9,520.9 427.6,520.7 428.3,520.6 429.0,520.5 429.6,520.3 430.3,520.2 431.0,520.0 431.7,519.8 432.4,519.7 433.1,519.5 433.7,519.3 434.4,519.2 435.1,519.0 435.8,518.8 436.5,518.6 437.2,518.4 437.8,518.1 438.5,517.9 439.2,517.7 439.9,517.5 440.6,517.2 441.3,517.0 441.9,516.7 442.6,516.4 443.3,516.2 444.0,515.9 444.7,515.6 445.4,515.3 446.0,515.0 446.7,514.6 447.4,514.3 448.1,514.0 448.8,513.6 449.5,513.2 450.1,512.9 450.8,512.5 451.5,512.1 452.2,511.7 452.9,511.2 453.6,510.8 454.2,510.3 454.9,509.9 455.6,509.4 456.3,508.9 457.0,508.4 457.7,507.8 458.3,507.3 459.0,506.7 459.7,506.1 460.4,505.5 461.1,504.9 461.8,504.3 462.4,503.6 463.1,502.9 463.8,502.2 464.5,501.5 465.2,500.8 465.9,500.0 466.5,499.2 467.2,498.4 467.9,497.6 468.6,496.7 469.3,495.8 470.0,494.9 470.6,494.0 471.3,493.0 472.0,492.1 472.7,491.0 473.4,490.0 474.1,488.9 474.7,487.8 475.4,486.7 476.1,485.6 476.8,484.4 477.5,483.2 478.2,481.9 478.8,480.6 479.5,479.3 480.2,478.0 480.9,476.6 481.6,475.2 482.3,473.8 482.9,472.3 483.6,470.8 484.3,469.3 485.0,467.8 485.7,466.2 486.4,464.6 487.0,462.9 487.7,461.2 488.4,459.5 489.1,457.8 489.8,456.0 490.5,454.2 491.1,452.4 491.8,450.6 492.5,448.7 493.2,446.9 493.9,445.0 494.6,443.0 495.2,441.1 495.9,439.1 496.6,437.2 497.3,435.2 498.0,433.2 498.7,431.2 499.3,429.2 500.0,427.2 500.7,425.1 501.4,423.1 502.1,421.1 502.8,419.1 503.4,417.1 504.1,415.0 504.8,413.0 505.5,411.1 506.2,409.1 506.9,407.1 507.5,405.2 508.2,403.2 508.9,401.3 509.6,399.4 510.3,397.6 511.0,395.7 511.6,393.9 512.3,392.1 513.0,390.3 513.7,388.6 514.4,386.9 515.1,385.2 515.7,383.6 516.4,382.0 517.1,380.4 517.8,378.8 518.5,377.3 519.2,375.8 519.8,374.4 520.5,373.0 521.2,371.6 521.9,370.3 522.6,369.0 523.3,367.7 523.9,366.5 524.6,365.3 525.3,364.1 526.0,363.0 526.7,361.9 527.4,360.8 528.0,359.8 528.7,358.8 529.4,357.9 530.1,357.0 530.8,356.1 531.5,355.2 532.1,354.4 532.8,353.6 533.5,352.9 534.2,352.2 534.9,351.5 535.6,350.8 536.2,350.2 536.9,349.6 537.6,349.0 538.3,348.5 539.0,348.0 539.7,347.5 540.3,347.1 541.0,346.6 541.7,346.3 542.4,345.9 543.1,345.6 543.8,345.3 544.4,345.0 545.1,344.7 545.8,344.5 546.5,344.3 547.2,344.1 547.9,344.0 548.5,343.9 549.2,343.8 549.9,343.7 550.6,343.6 551.3,343.6 552.0,343.6 552.6,343.7 553.3,343.7 554.0,343.8 554.7,343.9 555.4,344.1 556.1,344.2 556.7,344.4 557.4,344.6 558.1,344.9 558.8,345.1 559.5,345.4 560.2,345.7 560.8,346.1 561.5,346.4 562.2,346.8 562.9,347.2 563.6,347.7 564.3,348.2 564.9,348.7 565.6,349.2 566.3,349.7 567.0,350.3 567.7,350.9 568.4,351.6 569.0,352.2 569.7,352.9 570.4,353.6 571.1,354.4 571.8,355.2 572.5,356.0 573.1,356.8 573.8,357.7 574.5,358.6 575.2,359.5 575.9,360.4 576.6,361.4 577.2,362.4 577.9,363.5 578.6,364.6 579.3,365.7 580.0,366.8 580.7,368.0 581.3,369.2 582.0,370.4 582.7,371.7 583.4,372.9 584.1,374.3 584.8,375.6 585.4,377.0 586.1,378.4 586.8,379.8 587.5,381.3 588.2,382.8 588.9,384.3 589.5,385.8 590.2,387.4 590.9,389.0 591.6,390.6 592.3,392.2 593.0,393.9 593.6,395.6 594.3,397.3 595.0,399.0 595.7,400.8 596.4,402.5 597.1,404.3 597.7,406.1 598.4,407.9 599.1,409.7 599.8,411.5 600.5,413.4 601.2,415.2 601.8,417.1 602.5,418.9 603.2,420.8 603.9,422.6 604.6,424.5 605.3,426.3 605.9,428.2 606.6,430.1 607.3,431.9 608.0,433.7 608.7,435.6 609.4,437.4 610.0,439.2 610.7,441.0 611.4,442.8 612.1,444.6 612.8,446.3 613.5,448.0 614.1,449.8 614.8,451.5 615.5,453.1 616.2,454.8 616.9,456.4 617.6,458.0 618.2,459.6 618.9,461.2 619.6,462.8 620.3,464.3 621.0,465.8 621.7,467.2 622.3,468.7 623.0,470.1 623.7,471.5 624.4,472.9 625.1,474.2 625.8,475.5 626.4,476.8 627.1,478.1 627.8,479.3 628.5,480.5 629.2,481.7 629.9,482.8 630.5,484.0 631.2,485.1 631.9,486.2 632.6,487.2 633.3,488.2 634.0,489.3 634.6,490.2 635.3,491.2 636.0,492.1 636.7,493.0 637.4,493.9 638.1,494.8 638.7,495.6 639.4,496.5 640.1,497.3 640.8,498.0 641.5,498.8 642.2,499.5 642.9,500.3 643.5,501.0 644.2,501.7 644.9,502.3 645.6,503.0 646.3,503.6 647.0,504.2 647.6,504.8 648.3,505.4 649.0,506.0 649.7,506.5 650.4,507.0 651.1,507.6 651.7,508.1 652.4,508.6 653.1,509.0 653.8,509.5 654.5,509.9 655.2,510.4 655.8,510.8 656.5,511.2 657.2,511.6 657.9,512.0 658.6,512.4 659.3,512.8 659.9,513.1 660.6,513.5 661.3,513.8 662.0,514.1 662.7,514.4 663.4,514.7 664.0,515.0" fill="none" stroke="#c87070" stroke-width="0.9" />
<path d="M391.5 314.3h4.3M393.6 312.1v4.3M392.0 312.6l3.2 3.2m0 -3.2l-3.2 3.2M397.0 314.6h4.3M399.2 312.4v4.3M397.6 312.9l3.2 3.2m0 -3.2l-3.2 3.2M402.6 314.9h4.3M404.8 312.7v4.3M403.2 313.2l3.2 3.2m0 -3.2l-3.2 3.2M408.2 315.2h4.3M410.4 313.0v4.3M408.8 313.6l3.2 3.2m0 -3.2l-3.2 3.2M413.8 315.5h4.3M416.0 313.3v4.3M414.3 313.9l3.2 3.2m0 -3.2l-3.2 3.2M419.4 315.8h4.3M421.5 313.7v4.3M419.9 314.2l3.2 3.2m0 -3.2l-3.2 3.2M425.0 316.2h4.3M427.1 314.0v4.3M425.5 314.5l3.2 3.2m0 -3.2l-3.2 3.2M430.6 316.5h4.3M432.7 314.4v4.3M431.1 314.9l3.2 3.2m0 -3.2l-3.2 3.2M436.2 316.9h4.3M438.3 314.8v4.3M436.7 315.3l3.2 3.2m0 -3.2l-3.2 3.2M441.7 317.4h4.3M443.9 315.2v4.3M442.3 315.8l3.2 3.2m0 -3.2l-3.2 3.2M447.3 317.9h4.3M449.5 315.7v4.3M447.9 316.3l3.2 3.2m0 -3.2l-3.2 3.2M452.9 318.5h4.3M455.1 316.3v4.3M453.4 316.9l3.2 3.2m0 -3.2l-3.2 3.2M458.5 319.2h4.3M460.6 317.1v4.3M459.0 317.6l3.2 3.2m0 -3.2l-3.2 3.2M464.1 320.1h4.3M466.2 318.0v4.3M464.6 318.5l3.2 3.2m0 -3.2l-3.2 3.2M469.7 321.4h4.3M471.8 319.2v4.3M470.2 319.8l3.2 3.2m0 -3.2l-3.2 3.2M475.3 323.0h4.3M477.4 320.9v4.3M475.8 321.4l3.2 3.2m0 -3.2l-3.2 3.2M480.9 325.3h4.3M483.0 323.2v4.3M481.4 323.7l3.2 3.2m0 -3.2l-3.2 3.2M486.4 328.2h4.3M488.6 326.0v4.3M487.0 326.6l3.2 3.2m0 -3.2l-3.2 3.2M492.0 332.1h4.3M494.2 329.9v4.3M492.6 330.5l3.2 3.2m0 -3.2l-3.2 3.2M497.6 337.3h4.3M499.8 335.1v4.3M498.1 335.6l3.2 3.2m0 -3.2l-3.2 3.2M503.2 343.8h4.3M505.4 341.7v4.3M503.7 342.2l3.2 3.2m0 -3.2l-3.2 3.2M508.8 351.7h4.3M510.9 349.5v4.3M509.3 350.1l3.2 3.2m0 -3.2l-3.2 3.2M514.4 360.7h4.3M516.5 358.6v4.3M514.9 359.1l3.2 3.2m0 -3.2l-3.2 3.2M520.0 370.7h4.3M522.1 368.5v4.3M520.5 369.1l3.2 3.2m0 -3.2l-3.2 3.2M525.6 381.3h4.3M527.7 379.2v4.3M526.1 379.7l3.2 3.2m0 -3.2l-3.2 3.2M531.1 392.5h4.3M533.3 390.3v4.3M531.7 390.9l3.2 3.2m0 -3.2l-3.2 3.2M536.7 403.9h4.3M538.9 401.8v4.3M537.3 402.3l3.2 3.2m0 -3.2l-3.2 3.2M542.3 415.6h4.3M544.5 413.5v4.3M542.9 414.0l3.2 3.2m0 -3.2l-3.2 3.2M547.9 427.4h4.3M550.0 425.2v4.3M548.4 425.7l3.2 3.2m0 -3.2l-3.2 3.2M553.5 439.1h4.3M555.6 437.0v4.3M554.0 437.5l3.2 3.2m0 -3.2l-3.2 3.2M559.1 450.8h4.3M561.2 448.7v4.3M559.6 449.2l3.2 3.2m0 -3.2l-3.2 3.2M564.7 462.4h4.3M566.8 460.2v4.3M565.2 460.8l3.2 3.2m0 -3.2l-3.2 3.2M570.2 473.7h4.3M572.4 471.6v4.3M570.8 472.1l3.2 3.2m0 -3.2l-3.2 3.2M575.8 484.7h4.3M578.0 482.5v4.3M576.4 483.0l3.2 3.2m0 -3.2l-3.2 3.2M581.4 495.1h4.3M583.6 492.9v4.3M582.0 493.5l3.2 3.2m0 -3.2l-3.2 3.2M587.0 504.7h4.3M589.2 502.6v4.3M587.5 503.1l3.2 3.2m0 -3.2l-3.2 3.2M592.6 513.4h4.3M594.8 511.3v4.3M593.1 511.8l3.2 3.2m0 -3.2l-3.2 3.2M598.2 521.0h4.3M600.3 518.8v4.3M598.7 519.4l3.2 3.2m0 -3.2l-3.2 3.2M603.8 527.2h4.3M605.9 525.1v4.3M604.3 525.6l3.2 3.2m0 -3.2l-3.2 3.2M609.4 532.2h4.3M611.5 530.0v4.3M609.9 530.6l3.2 3.2m0 -3.2l-3.2 3.2M614.9 535.9h4.3M617.1 533.8v4.3M615.5 534.3l3.2 3.2m0 -3.2l-3.2 3.2M620.5 538.7h4.3M622.7 536.5v4.3M621.1 537.1l3.2 3.2m0 -3.2l-3.2 3.2M626.1 540.7h4.3M628.3 538.5v4.3M626.7 539.1l3.2 3.2m0 -3.2l-3.2 3.2M631.7 542.1h4.3M633.9 539.9v4.3M632.2 540.5l3.2 3.2m0 -3.2l-3.2 3.2M637.3 543.1h4.3M639.4 540.9v4.3M637.8 541.5l3.2 3.2m0 -3.2l-3.2 3.2M642.9 543.8h4.3M645.0 541.6v4.3M643.4 542.2l3.2 3.2m0 -3.2l-3.2 3.2M648.5 544.3h4.3M650.6 542.1v4.3M649.0 542.7l3.2 3.2m0 -3.2l-3.2 3.2M654.1 544.6h4.3M656.2 542.5v4.3M654.6 543.0l3.2 3.2m0 -3.2l-3.2 3.2M659.6 544.9h4.3M661.8 542.7v4.3M660.2 543.3l3.2 3.2m0 -3.2l-3.2 3.2M391.5 524.1h4.3M393.6 521.9v4.3M392.0 522.5l3.2 3.2m0 -3.2l-3.2 3.2M397.0 523.8h4.3M399.2 521.7v4.3M397.6 522.2l3.2 3.2m0 -3.2l-3.2 3.2M402.6 523.5h4.3M404.8 521.3v4.3M403.2 521.9l3.2 3.2m0 -3.2l-3.2 3.2M408.2 523.1h4.3M410.4 520.9v4.3M408.8 521.4l3.2 3.2m0 -3.2l-3.2 3.2M413.8 522.5h4.3M416.0 520.4v4.3M414.3 520.9l3.2 3.2m0 -3.2l-3.2 3.2M419.4 521.8h4.3M421.5 519.6v4.3M419.9 520.2l3.2 3.2m0 -3.2l-3.2 3.2M425.0 520.8h4.3M427.1 518.7v4.3M425.5 519.2l3.2 3.2m0 -3.2l-3.2 3.2M430.6 519.6h4.3M432.7 517.4v4.3M431.1 518.0l3.2 3.2m0 -3.2l-3.2 3.2M436.2 518.0h4.3M438.3 515.8v4.3M436.7 516.4l3.2 3.2m0 -3.2l-3.2 3.2M441.7 515.9h4.3M443.9 513.8v4.3M442.3 514.3l3.2 3.2m0 -3.2l-3.2 3.2M447.3 513.2h4.3M449.5 511.1v4.3M447.9 511.6l3.2 3.2m0 -3.2l-3.2 3.2M452.9 509.8h4.3M455.1 507.6v4.3M453.4 508.1l3.2 3.2m0 -3.2l-3.2 3.2M458.5 505.3h4.3M460.6 503.1v4.3M459.0 503.7l3.2 3.2m0 -3.2l-3.2 3.2M464.1 499.6h4.3M466.2 497.4v4.3M464.6 498.0l3.2 3.2m0 -3.2l-3.2 3.2M469.7 492.3h4.3M471.8 490.2v4.3M470.2 490.7l3.2 3.2m0 -3.2l-3.2 3.2M475.3 483.3h4.3M477.4 481.1v4.3M475.8 481.7l3.2 3.2m0 -3.2l-3.2 3.2M480.9 472.2h4.3M483.0 470.1v4.3M481.4 470.6l3.2 3.2m0 -3.2l-3.2 3.2M486.4 459.1h4.3M488.6 456.9v4.3M487.0 457.5l3.2 3.2m0 -3.2l-3.2 3.2M492.0 444.1h4.3M494.2 441.9v4.3M492.6 442.5l3.2 3.2m0 -3.2l-3.2 3.2M497.6 427.9h4.3M499.8 425.8v4.3M498.1 426.3l3.2 3.2m0 -3.2l-3.2 3.2M503.2 411.4h4.3M505.4 409.2v4.3M503.7 409.8l3.2 3.2m0 -3.2l-3.2 3.2M508.8 395.6h4.3M510.9 393.4v4.3M509.3 394.0l3.2 3.2m0 -3.2l-3.2 3.2M514.4 381.3h4.3M516.5 379.1v4.3M514.9 379.6l3.2 3.2m0 -3.2l-3.2 3.2M520.0 368.9h4.3M522.1 366.7v4.3M520.5 367.3l3.2 3.2m0 -3.2l-3.2 3.2M525.6 358.5h4.3M527.7 356.4v4.3M526.1 356.9l3.2 3.2m0 -3.2l-3.2 3.2M531.1 350.2h4.3M533.3 348.1v4.3M531.7 348.6l3.2 3.2m0 -3.2l-3.2 3.2M536.7 343.9h4.3M538.9 341.7v4.3M537.3 342.3l3.2 3.2m0 -3.2l-3.2 3.2M542.3 339.7h4.3M544.5 337.5v4.3M542.9 338.0l3.2 3.2m0 -3.2l-3.2 3.2M547.9 337.7h4.3M550.0 335.6v4.3M548.4 336.1l3.2 3.2m0 -3.2l-3.2 3.2M553.5 338.2h4.3M555.6 336.1v4.3M554.0 336.6l3.2 3.2m0 -3.2l-3.2 3.2M559.1 341.1h4.3M561.2 339.0v4.3M559.6 339.5l3.2 3.2m0 -3.2l-3.2 3.2M564.7 346.2h4.3M566.8 344.1v4.3M565.2 344.6l3.2 3.2m0 -3.2l-3.2 3.2M570.2 353.2h4.3M572.4 351.1v4.3M570.8 351.6l3.2 3.2m0 -3.2l-3.2 3.2M575.8 362.0h4.3M578.0 359.8v4.3M576.4 360.4l3.2 3.2m0 -3.2l-3.2 3.2M581.4 372.4h4.3M583.6 370.3v4.3M582.0 370.8l3.2 3.2m0 -3.2l-3.2 3.2M587.0 384.6h4.3M589.2 382.4v4.3M587.5 383.0l3.2 3.2m0 -3.2l-3.2 3.2M592.6 398.2h4.3M594.8 396.0v4.3M593.1 396.6l3.2 3.2m0 -3.2l-3.2 3.2M598.2 412.9h4.3M600.3 410.8v4.3M598.7 411.3l3.2 3.2m0 -3.2l-3.2 3.2M603.8 428.1h4.3M605.9 426.0v4.3M604.3 426.5l3.2 3.2m0 -3.2l-3.2 3.2M609.4 442.7h4.3M611.5 440.6v4.3M609.9 441.1l3.2 3.2m0 -3.2l-3.2 3.2M614.9 456.1h4.3M617.1 454.0v4.3M615.5 454.5l3.2 3.2m0 -3.2l-3.2 3.2M620.5 468.0h4.3M622.7 465.9v4.3M621.1 466.4l3.2 3.2m0 -3.2l-3.2 3.2M626.1 478.2h4.3M628.3 476.1v4.3M626.7 476.6l3.2 3.2m0 -3.2l-3.2 3.2M631.7 486.7h4.3M633.9 484.6v4.3M632.2 485.1l3.2 3.2m0 -3.2l-3.2 3.2M637.3 493.6h4.3M639.4 491.4v4.3M637.8 492.0l3.2 3.2m0 -3.2l-3.2 3.2M642.9 499.0h4.3M645.0 496.9v4.3M643.4 497.4l3.2 3.2m0 -3.2l-3.2 3.2M648.5 503.3h4.3M650.6 501.1v4.3M649.0 501.7l3.2 3.2m0 -3.2l-3.2 3.2M654.1 506.6h4.3M656.2 504.4v4.3M654.6 504.9l3.2 3.2m0 -3.2l-3.2 3.2M659.6 509.0h4.3M661.8 506.9v4.3M660.2 507.4l3.2 3.2m0 -3.2l-3.2 3.2" stroke="#b03040" stroke-width="0.8" fill="none"/>
<rect x="391.9" y="307.9" width="271.6" height="253.10000000000002" fill="none" stroke="#000" stroke-width="2.2"/>
<line x1="438.30" y1="561.00" x2="438.30" y2="557.00" stroke="#000" stroke-width="1.0"/>
<line x1="438.30" y1="307.90" x2="438.30" y2="311.90" stroke="#000" stroke-width="1.0"/>
<line x1="483.00" y1="561.00" x2="483.00" y2="557.00" stroke="#000" stroke-width="1.0"/>
<line x1="483.00" y1="307.90" x2="483.00" y2="311.90" stroke="#000" stroke-width="1.0"/>
<line x1="527.70" y1="561.00" x2="527.70" y2="557.00" stroke="#000" stroke-width="1.0"/>
<line x1="527.70" y1="307.90" x2="527.70" y2="311.90" stroke="#000" stroke-width="1.0"/>
<line x1="572.40" y1="561.00" x2="572.40" y2="557.00" stroke="#000" stroke-width="1.0"/>
<line x1="572.40" y1="307.90" x2="572.40" y2="311.90" stroke="#000" stroke-width="1.0"/>
<line x1="617.10" y1="561.00" x2="617.10" y2="557.00" stroke="#000" stroke-width="1.0"/>
<line x1="617.10" y1="307.90" x2="617.10" y2="311.90" stroke="#000" stroke-width="1.0"/>
<line x1="391.90" y1="548.29" x2="394.10" y2="548.29" stroke="#555" stroke-width="0.7"/>
<line x1="391.90" y1="528.52" x2="394.10" y2="528.52" stroke="#555" stroke-width="0.7"/>
<line x1="391.90" y1="514.49" x2="394.10" y2="514.49" stroke="#555" stroke-width="0.7"/>
<line x1="391.90" y1="503.61" x2="394.10" y2="503.61" stroke="#555" stroke-width="0.7"/>
<line x1="391.90" y1="494.71" x2="394.10" y2="494.71" stroke="#555" stroke-width="0.7"/>
<line x1="391.90" y1="487.20" x2="394.10" y2="487.20" stroke="#555" stroke-width="0.7"/>
<line x1="391.90" y1="480.68" x2="394.10" y2="480.68" stroke="#555" stroke-width="0.7"/>
<line x1="391.90" y1="474.94" x2="394.10" y2="474.94" stroke="#555" stroke-width="0.7"/>
<line x1="391.90" y1="469.80" x2="395.90" y2="469.80" stroke="#000" stroke-width="1.0"/>
<line x1="391.90" y1="435.99" x2="394.10" y2="435.99" stroke="#555" stroke-width="0.7"/>
<line x1="391.90" y1="416.22" x2="394.10" y2="416.22" stroke="#555" stroke-width="0.7"/>
<line x1="391.90" y1="402.19" x2="394.10" y2="402.19" stroke="#555" stroke-width="0.7"/>
<line x1="391.90" y1="391.31" x2="394.10" y2="391.31" stroke="#555" stroke-width="0.7"/>
<line x1="391.90" y1="382.41" x2="394.10" y2="382.41" stroke="#555" stroke-width="0.7"/>
<line x1="391.90" y1="374.90" x2="394.10" y2="374.90" stroke="#555" stroke-width="0.7"/>
<line x1="391.90" y1="368.38" x2="394.10" y2="368.38" stroke="#555" stroke-width="0.7"/>
<line x1="391.90" y1="362.64" x2="394.10" y2="362.64" stroke="#555" stroke-width="0.7"/>
<line x1="391.90" y1="357.50" x2="395.90" y2="357.50" stroke="#000" stroke-width="1.0"/>
<line x1="391.90" y1="323.69" x2="394.10" y2="323.69" stroke="#555" stroke-width="0.7"/>
<line x1="663.50" y1="557.05" x2="661.50" y2="557.05" stroke="#666" stroke-width="0.6"/>
<line x1="663.50" y1="551.69" x2="659.50" y2="551.69" stroke="#000" stroke-width="1.0"/>
<line x1="663.50" y1="546.33" x2="661.50" y2="546.33" stroke="#666" stroke-width="0.6"/>
<line x1="663.50" y1="540.97" x2="661.50" y2="540.97" stroke="#666" stroke-width="0.6"/>
<line x1="663.50" y1="535.62" x2="661.50" y2="535.62" stroke="#666" stroke-width="0.6"/>
<line x1="663.50" y1="530.26" x2="661.50" y2="530.26" stroke="#666" stroke-width="0.6"/>
<line x1="663.50" y1="524.90" x2="659.50" y2="524.90" stroke="#000" stroke-width="1.0"/>
<line x1="663.50" y1="519.54" x2="661.50" y2="519.54" stroke="#666" stroke-width="0.6"/>
<line x1="663.50" y1="514.18" x2="661.50" y2="514.18" stroke="#666" stroke-width="0.6"/>
<line x1="663.50" y1="508.83" x2="661.50" y2="508.83" stroke="#666" stroke-width="0.6"/>
<line x1="663.50" y1="503.47" x2="661.50" y2="503.47" stroke="#666" stroke-width="0.6"/>
<line x1="663.50" y1="498.11" x2="659.50" y2="498.11" stroke="#000" stroke-width="1.0"/>
<line x1="663.50" y1="492.75" x2="661.50" y2="492.75" stroke="#666" stroke-width="0.6"/>
<line x1="663.50" y1="487.39" x2="661.50" y2="487.39" stroke="#666" stroke-width="0.6"/>
<line x1="663.50" y1="482.04" x2="661.50" y2="482.04" stroke="#666" stroke-width="0.6"/>
<line x1="663.50" y1="476.68" x2="661.50" y2="476.68" stroke="#666" stroke-width="0.6"/>
<line x1="663.50" y1="471.32" x2="659.50" y2="471.32" stroke="#000" stroke-width="1.0"/>
<line x1="663.50" y1="465.96" x2="661.50" y2="465.96" stroke="#666" stroke-width="0.6"/>
<line x1="663.50" y1="460.60" x2="661.50" y2="460.60" stroke="#666" stroke-width="0.6"/>
<line x1="663.50" y1="455.25" x2="661.50" y2="455.25" stroke="#666" stroke-width="0.6"/>
<line x1="663.50" y1="449.89" x2="661.50" y2="449.89" stroke="#666" stroke-width="0.6"/>
<line x1="663.50" y1="444.53" x2="659.50" y2="444.53" stroke="#000" stroke-width="1.0"/>
<line x1="663.50" y1="439.17" x2="661.50" y2="439.17" stroke="#666" stroke-width="0.6"/>
<line x1="663.50" y1="433.81" x2="661.50" y2="433.81" stroke="#666" stroke-width="0.6"/>
<line x1="663.50" y1="428.46" x2="661.50" y2="428.46" stroke="#666" stroke-width="0.6"/>
<line x1="663.50" y1="423.10" x2="661.50" y2="423.10" stroke="#666" stroke-width="0.6"/>
<line x1="663.50" y1="417.74" x2="659.50" y2="417.74" stroke="#000" stroke-width="1.0"/>
<line x1="663.50" y1="412.38" x2="661.50" y2="412.38" stroke="#666" stroke-width="0.6"/>
<line x1="663.50" y1="407.02" x2="661.50" y2="407.02" stroke="#666" stroke-width="0.6"/>
<line x1="663.50" y1="401.67" x2="661.50" y2="401.67" stroke="#666" stroke-width="0.6"/>
<line x1="663.50" y1="396.31" x2="661.50" y2="396.31" stroke="#666" stroke-width="0.6"/>
<line x1="663.50" y1="390.95" x2="659.50" y2="390.95" stroke="#000" stroke-width="1.0"/>
<line x1="663.50" y1="385.59" x2="661.50" y2="385.59" stroke="#666" stroke-width="0.6"/>
<line x1="663.50" y1="380.23" x2="661.50" y2="380.23" stroke="#666" stroke-width="0.6"/>
<line x1="663.50" y1="374.88" x2="661.50" y2="374.88" stroke="#666" stroke-width="0.6"/>
<line x1="663.50" y1="369.52" x2="661.50" y2="369.52" stroke="#666" stroke-width="0.6"/>
<line x1="663.50" y1="364.16" x2="659.50" y2="364.16" stroke="#000" stroke-width="1.0"/>
<line x1="663.50" y1="358.80" x2="661.50" y2="358.80" stroke="#666" stroke-width="0.6"/>
<line x1="663.50" y1="353.44" x2="661.50" y2="353.44" stroke="#666" stroke-width="0.6"/>
<line x1="663.50" y1="348.09" x2="661.50" y2="348.09" stroke="#666" stroke-width="0.6"/>
<line x1="663.50" y1="342.73" x2="661.50" y2="342.73" stroke="#666" stroke-width="0.6"/>
<line x1="663.50" y1="337.37" x2="659.50" y2="337.37" stroke="#000" stroke-width="1.0"/>
<line x1="663.50" y1="332.01" x2="661.50" y2="332.01" stroke="#666" stroke-width="0.6"/>
<line x1="663.50" y1="326.65" x2="661.50" y2="326.65" stroke="#666" stroke-width="0.6"/>
<line x1="663.50" y1="321.30" x2="661.50" y2="321.30" stroke="#666" stroke-width="0.6"/>
<line x1="663.50" y1="315.94" x2="661.50" y2="315.94" stroke="#666" stroke-width="0.6"/>
<line x1="663.50" y1="310.58" x2="659.50" y2="310.58" stroke="#000" stroke-width="1.0"/>
<text x="364.81" y="360.96" font-family="Liberation Serif" font-weight="bold" font-size="13.82" textLength="22.28" lengthAdjust="spacingAndGlyphs" fill="#000" stroke="#000" stroke-width="0.15">100</text>
<text x="373.95" y="472.76" font-family="Liberation Serif" font-weight="bold" font-size="13.53" textLength="13.07" lengthAdjust="spacingAndGlyphs" fill="#000" stroke="#000" stroke-width="0.15">10</text>
<text x="668.60" y="315.06" font-family="Liberation Serif" font-weight="bold" font-size="13.90" textLength="14.16" lengthAdjust="spacingAndGlyphs" fill="#000" stroke="#000" stroke-width="0.15">80</text>
<text x="668.30" y="341.16" font-family="Liberation Serif" font-weight="bold" font-size="14.05" textLength="14.48" lengthAdjust="spacingAndGlyphs" fill="#000" stroke="#000" stroke-width="0.15">70</text>
<text x="668.60" y="368.36" font-family="Liberation Serif" font-weight="bold" font-size="13.90" textLength="14.16" lengthAdjust="spacingAndGlyphs" fill="#000" stroke="#000" stroke-width="0.15">60</text>
<text x="668.53" y="394.46" font-family="Liberation Serif" font-weight="bold" font-size="13.93" textLength="14.24" lengthAdjust="spacingAndGlyphs" fill="#000" stroke="#000" stroke-width="0.15">50</text>
<text x="668.89" y="421.16" font-family="Liberation Serif" font-weight="bold" font-size="13.75" textLength="13.86" lengthAdjust="spacingAndGlyphs" fill="#000" stroke="#000" stroke-width="0.15">40</text>
<text x="668.46" y="446.75" font-family="Liberation Serif" font-weight="bold" font-size="14.71" textLength="15.35" lengthAdjust="spacingAndGlyphs" fill="#000" stroke="#000" stroke-width="0.15">30</text>
<text x="668.38" y="473.95" font-family="Liberation Serif" font-weight="bold" font-size="14.84" textLength="15.43" lengthAdjust="spacingAndGlyphs" fill="#000" stroke="#000" stroke-width="0.15">20</text>
<text x="667.71" y="501.05" font-family="Liberation Serif" font-weight="bold" font-size="15.17" textLength="16.14" lengthAdjust="spacingAndGlyphs" fill="#000" stroke="#000" stroke-width="0.15">10</text>
<text x="669.82" y="528.16" font-family="Liberation Serif" font-weight="bold" font-size="14.32" textLength="7.26" lengthAdjust="spacingAndGlyphs" fill="#000" stroke="#000" stroke-width="0.15">0</text>
<text x="666.90" y="556.46" font-family="Liberation Serif" font-weight="bold" font-size="14.32" textLength="19.15" lengthAdjust="spacingAndGlyphs" fill="#000" stroke="#000" stroke-width="0.15">-10</text>
<text x="379.72" y="575.79" font-family="Liberation Serif" font-weight="bold" font-size="14.24" textLength="18.10" lengthAdjust="spacingAndGlyphs" fill="#000" stroke="#000" stroke-width="0.15">0.1</text>
<text x="432.61" y="576.00" font-family="Liberation Serif" font-weight="bold" font-size="14.65" textLength="7.43" lengthAdjust="spacingAndGlyphs" fill="#000" stroke="#000" stroke-width="0.15">1</text>
<text x="469.80" y="575.85" font-family="Liberation Serif" font-weight="bold" font-size="14.54" textLength="15.00" lengthAdjust="spacingAndGlyphs" fill="#000" stroke="#000" stroke-width="0.15">10</text>
<text x="515.56" y="575.86" font-family="Liberation Serif" font-weight="bold" font-size="14.16" textLength="21.30" lengthAdjust="spacingAndGlyphs" fill="#000" stroke="#000" stroke-width="0.15">100</text>
<text x="557.66" y="575.86" font-family="Liberation Serif" font-weight="bold" font-size="13.66" textLength="28.40" lengthAdjust="spacingAndGlyphs" fill="#000" stroke="#000" stroke-width="0.15">1000</text>
<text x="599.27" y="575.86" font-family="Liberation Serif" font-weight="bold" font-size="13.57" textLength="35.29" lengthAdjust="spacingAndGlyphs" fill="#000" stroke="#000" stroke-width="0.15">10000</text>
<text x="644.64" y="575.86" font-family="Liberation Serif" font-weight="bold" font-size="13.92" textLength="32.39" lengthAdjust="spacingAndGlyphs" fill="#000" stroke="#000" stroke-width="0.15">1E+5</text>
<text x="481.69" y="591.60" font-family="Liberation Serif" font-weight="bold" font-size="13.31" textLength="92.42" lengthAdjust="spacingAndGlyphs" fill="#000" stroke="#000" stroke-width="0.15">Frequency (Hz)</text>
<g transform="rotate(-90)">
<text x="-454.35" y="372.30" font-family="Liberation Serif" font-weight="bold" font-size="13.74" textLength="14.04" lengthAdjust="spacingAndGlyphs" fill="#000" stroke="#000" stroke-width="0.15">Z</text>
</g>
<g transform="rotate(-90)">
<text x="-440.16" y="371.28" font-family="Liberation Serif" font-weight="bold" font-size="14.07" textLength="7.84" lengthAdjust="spacingAndGlyphs" fill="#000" stroke="#000" stroke-width="0.15">(</text>
</g>
<g transform="rotate(-90)">
<text x="-433.17" y="372.30" font-family="Liberation Serif" font-weight="bold" font-size="13.64" textLength="13.65" lengthAdjust="spacingAndGlyphs" fill="#000" stroke="#000" stroke-width="0.15">Ω</text>
</g>
<g transform="rotate(-90)">
<text x="-420.46" y="372.30" font-family="Liberation Sans" font-weight="bold" font-size="16.67" textLength="7.09" lengthAdjust="spacingAndGlyphs" fill="#000" stroke="#000" stroke-width="0.15">.</text>
</g>
<g transform="rotate(-90)">
<text x="-415.78" y="372.19" font-family="Liberation Sans" font-weight="bold" font-size="11.45" textLength="9.52" lengthAdjust="spacingAndGlyphs" fill="#000" stroke="#000" stroke-width="0.15">c</text>
</g>
<g transform="rotate(-90)">
<text x="-407.26" y="372.30" font-family="Liberation Sans" font-weight="bold" font-size="11.67" textLength="15.81" lengthAdjust="spacingAndGlyphs" fill="#000" stroke="#000" stroke-width="0.15">m</text>
</g>
<g transform="rotate(-90)">
<text x="-393.05" y="365.30" font-family="Liberation Sans" font-weight="bold" font-size="8.57" textLength="8.69" lengthAdjust="spacingAndGlyphs" fill="#000" stroke="#000" stroke-width="0.15">2</text>
</g>
<g transform="rotate(-90)">
<text x="-385.77" y="371.28" font-family="Liberation Serif" font-weight="bold" font-size="14.07" textLength="8.58" lengthAdjust="spacingAndGlyphs" fill="#000" stroke="#000" stroke-width="0.15">)</text>
</g>
<g transform="rotate(-90)">
<text x="-470.29" y="703.00" font-family="Liberation Serif" font-weight="bold" font-size="13.54" textLength="58.41" lengthAdjust="spacingAndGlyphs" fill="#000" stroke="#000" stroke-width="0.15">-Phase (°)</text>
</g>
<text x="400.11" y="550.58" font-family="Liberation Serif" font-weight="bold" font-size="19.16" textLength="24.12" lengthAdjust="spacingAndGlyphs" fill="#000" stroke="#000" stroke-width="0.15">(d)</text>
<rect x="595.40" y="314.00" width="57.50" height="69.60" fill="#fff" stroke="#666" stroke-width="1"/>
<path d="M601.3 321.7l4.2 4.2m0 -4.2l-4.2 4.2" stroke="#666" stroke-width="0.7" fill="none"/>
<text x="609.99" y="325.00" font-family="Liberation Serif" font-weight="bold" font-size="10.31" textLength="26.22" lengthAdjust="spacingAndGlyphs" fill="#000" stroke="#000" stroke-width="0.15">blank</text>
<path d="M603.4 334.3L605.1 336.4L603.4 338.5L601.7 336.4Z" fill="#2a7a3a"/>
<text x="609.66" y="337.60" font-family="Liberation Serif" font-weight="bold" font-size="10.46" textLength="34.76" lengthAdjust="spacingAndGlyphs" fill="#000" stroke="#000" stroke-width="0.15">25 ppm</text>
<path d="M601.3 348.8a2.1 2.1 0 1 0 4.2 0a2.1 2.1 0 1 0 -4.2 0" stroke="#555" stroke-width="0.7" fill="none"/>
<text x="609.66" y="350.40" font-family="Liberation Serif" font-weight="bold" font-size="10.46" textLength="34.76" lengthAdjust="spacingAndGlyphs" fill="#000" stroke="#000" stroke-width="0.15">50 ppm</text>
<path d="M601.3 361.5h4.2M603.4 359.4v4.2M601.8 359.9l3.2 3.2m0 -3.2l-3.2 3.2" stroke="#a04848" stroke-width="0.7" fill="none"/>
<text x="609.50" y="363.39" font-family="Liberation Serif" font-weight="bold" font-size="10.51" textLength="34.92" lengthAdjust="spacingAndGlyphs" fill="#000" stroke="#000" stroke-width="0.15">75 ppm</text>
<path d="M603.4 371.7L605.5 375.5H601.3Z" stroke="#444" stroke-width="0.7" fill="none"/>
<text x="609.21" y="376.39" font-family="Liberation Serif" font-weight="bold" font-size="10.65" textLength="40.91" lengthAdjust="spacingAndGlyphs" fill="#000" stroke="#000" stroke-width="0.15">100 ppm</text>
<text x="490.21" y="321.94" font-family="Liberation Serif" font-weight="bold" font-size="10.73" textLength="41.53" lengthAdjust="spacingAndGlyphs" fill="#000" stroke="#000" stroke-width="0.15">32.86 Hz</text>
<line x1="498.10" y1="323.80" x2="498.10" y2="335.10" stroke="#3a3a3a" stroke-width="1.0"/>
<text x="404.96" y="353.04" font-family="Liberation Serif" font-weight="bold" font-size="10.68" textLength="35.78" lengthAdjust="spacingAndGlyphs" fill="#000" stroke="#000" stroke-width="0.15">0.43 Hz</text>
<line x1="426.70" y1="338.90" x2="426.70" y2="345.70" stroke="#3a3a3a" stroke-width="1.0"/>
<text x="443.58" y="358.74" font-family="Liberation Serif" font-weight="bold" font-size="10.88" textLength="36.47" lengthAdjust="spacingAndGlyphs" fill="#000" stroke="#000" stroke-width="0.15">7.74 Hz</text>
<line x1="465.00" y1="340.00" x2="465.00" y2="351.40" stroke="#3a3a3a" stroke-width="1.0"/>
<text x="401.16" y="395.14" font-family="Liberation Serif" font-weight="bold" font-size="10.68" textLength="35.78" lengthAdjust="spacingAndGlyphs" fill="#000" stroke="#000" stroke-width="0.15">0.52 Hz</text>
<line x1="432.20" y1="364.00" x2="432.20" y2="386.50" stroke="#3a3a3a" stroke-width="1.0"/>
<text x="428.80" y="406.94" font-family="Liberation Serif" font-weight="bold" font-size="10.82" textLength="36.24" lengthAdjust="spacingAndGlyphs" fill="#000" stroke="#000" stroke-width="0.15">1.70 Hz</text>
<line x1="443.00" y1="376.50" x2="443.00" y2="397.30" stroke="#3a3a3a" stroke-width="1.0"/>
<text x="473.39" y="400.14" font-family="Liberation Serif" font-weight="bold" font-size="11.00" textLength="42.56" lengthAdjust="spacingAndGlyphs" fill="#000" stroke="#000" stroke-width="0.15">14.50 Hz</text>
<line x1="486.90" y1="371.50" x2="486.90" y2="391.50" stroke="#3a3a3a" stroke-width="1.0"/>
<text x="537.59" y="391.94" font-family="Liberation Serif" font-weight="bold" font-size="10.60" textLength="41.05" lengthAdjust="spacingAndGlyphs" fill="#000" stroke="#000" stroke-width="0.15">70.59 Hz</text>
<line x1="553.10" y1="395.60" x2="553.10" y2="430.30" stroke="#3a3a3a" stroke-width="1.0"/>
<text x="399.94" y="461.33" font-family="Liberation Serif" font-weight="bold" font-size="11.11" textLength="37.21" lengthAdjust="spacingAndGlyphs" fill="#000" stroke="#000" stroke-width="0.15">0.61 Hz</text>
<line x1="420.90" y1="435.60" x2="420.90" y2="446.90" stroke="#3a3a3a" stroke-width="1.0"/>
<text x="453.61" y="456.94" font-family="Liberation Serif" font-weight="bold" font-size="10.69" textLength="35.83" lengthAdjust="spacingAndGlyphs" fill="#000" stroke="#000" stroke-width="0.15">6.30 Hz</text>
<line x1="476.30" y1="437.90" x2="476.30" y2="448.30" stroke="#3a3a3a" stroke-width="1.0"/>
<text x="513.04" y="451.24" font-family="Liberation Serif" font-weight="bold" font-size="10.52" textLength="40.70" lengthAdjust="spacingAndGlyphs" fill="#000" stroke="#000" stroke-width="0.15">48.91 Hz</text>
<line x1="531.00" y1="418.30" x2="531.00" y2="442.40" stroke="#3a3a3a" stroke-width="1.0"/>
<text x="512.03" y="524.14" font-family="Liberation Serif" font-weight="bold" font-size="10.91" textLength="42.22" lengthAdjust="spacingAndGlyphs" fill="#000" stroke="#000" stroke-width="0.15">47.66 Hz</text>
<line x1="542.00" y1="486.20" x2="542.00" y2="513.30" stroke="#3a3a3a" stroke-width="1.0"/>
<text x="610.69" y="529.54" font-family="Liberation Serif" font-weight="bold" font-size="10.92" textLength="42.25" lengthAdjust="spacingAndGlyphs" fill="#000" stroke="#000" stroke-width="0.15">13.88 Hz</text>
<line x1="633.70" y1="531.20" x2="633.70" y2="540.00" stroke="#3a3a3a" stroke-width="1.0"/>
<text x="578.56" y="555.44" font-family="Liberation Serif" font-weight="bold" font-size="10.68" textLength="35.78" lengthAdjust="spacingAndGlyphs" fill="#000" stroke="#000" stroke-width="0.15">23.0 Hz</text>
<line x1="584.50" y1="540.00" x2="584.50" y2="547.50" stroke="#3a3a3a" stroke-width="1.0"/></g></svg></body></html>
